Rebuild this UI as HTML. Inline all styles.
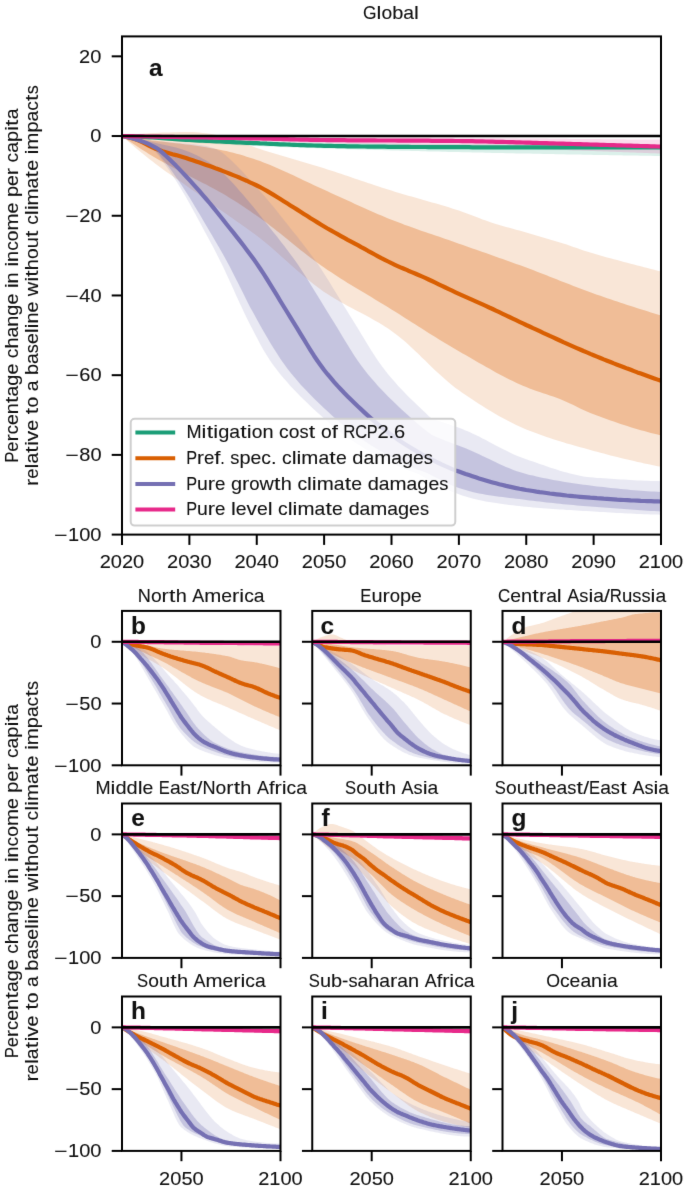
<!DOCTYPE html>
<html><head><meta charset="utf-8"><style>
html,body{margin:0;padding:0;background:#fff;}
svg{display:block;}
text{font-family:"Liberation Sans", sans-serif;stroke:#111;stroke-width:0.1px;paint-order:stroke;}
</style></head><body>
<svg width="685" height="1188" viewBox="0 0 685 1188">
<defs><filter id="bl" color-interpolation-filters="sRGB" x="0" y="0" width="1" height="1" filterUnits="objectBoundingBox"><feConvolveMatrix order="3" kernelMatrix="0.0052 0.0619 0.0052 0.0619 0.7314 0.0619 0.0052 0.0619 0.0052" divisor="1" preserveAlpha="true" edgeMode="duplicate"/></filter></defs>
<g filter="url(#bl)">
<rect width="685" height="1188" fill="#fff"/>
<defs><clipPath id="c0"><rect x="122.00" y="36.40" width="539.00" height="498.20"/></clipPath><clipPath id="c1"><rect x="122.00" y="610.90" width="158.50" height="154.40"/></clipPath><clipPath id="c2"><rect x="312.25" y="610.90" width="158.50" height="154.40"/></clipPath><clipPath id="c3"><rect x="502.50" y="610.90" width="158.50" height="154.40"/></clipPath><clipPath id="c4"><rect x="122.00" y="803.50" width="158.50" height="154.40"/></clipPath><clipPath id="c5"><rect x="312.25" y="803.50" width="158.50" height="154.40"/></clipPath><clipPath id="c6"><rect x="502.50" y="803.50" width="158.50" height="154.40"/></clipPath><clipPath id="c7"><rect x="122.00" y="996.50" width="158.50" height="154.40"/></clipPath><clipPath id="c8"><rect x="312.25" y="996.50" width="158.50" height="154.40"/></clipPath><clipPath id="c9"><rect x="502.50" y="996.50" width="158.50" height="154.40"/></clipPath></defs>
<path d="M122.0,136.0 L125.4,136.2 L128.7,136.4 L132.1,136.5 L135.5,136.7 L138.8,136.8 L142.2,137.0 L145.6,137.1 L148.9,137.3 L152.3,137.4 L155.7,137.5 L159.1,137.7 L162.4,137.8 L165.8,138.0 L169.2,138.1 L172.5,138.2 L175.9,138.3 L179.3,138.5 L182.6,138.6 L186.0,138.7 L189.4,138.8 L192.7,138.9 L196.1,139.1 L199.5,139.2 L202.8,139.3 L206.2,139.4 L209.6,139.5 L213.0,139.6 L216.3,139.7 L219.7,139.8 L223.1,139.9 L226.4,140.0 L229.8,140.1 L233.2,140.2 L236.5,140.3 L239.9,140.4 L243.3,140.5 L246.6,140.6 L250.0,140.7 L253.4,140.7 L256.8,140.8 L260.1,140.9 L263.5,141.0 L266.9,141.1 L270.2,141.2 L273.6,141.2 L277.0,141.3 L280.3,141.4 L283.7,141.5 L287.1,141.6 L290.4,141.7 L293.8,141.8 L297.2,141.8 L300.5,141.9 L303.9,142.0 L307.3,142.1 L310.6,142.2 L314.0,142.2 L317.4,142.3 L320.8,142.4 L324.1,142.5 L327.5,142.6 L330.9,142.6 L334.2,142.7 L337.6,142.8 L341.0,142.8 L344.3,142.9 L347.7,143.0 L351.1,143.0 L354.4,143.1 L357.8,143.2 L361.2,143.2 L364.6,143.3 L367.9,143.3 L371.3,143.4 L374.7,143.4 L378.0,143.5 L381.4,143.5 L384.8,143.5 L388.1,143.6 L391.5,143.6 L394.9,143.6 L398.2,143.7 L401.6,143.7 L405.0,143.7 L408.3,143.8 L411.7,143.8 L415.1,143.8 L418.5,143.8 L421.8,143.9 L425.2,143.9 L428.6,143.9 L431.9,143.9 L435.3,144.0 L438.7,144.0 L442.0,144.0 L445.4,144.0 L448.8,144.0 L452.1,144.1 L455.5,144.1 L458.9,144.1 L462.2,144.1 L465.6,144.1 L469.0,144.2 L472.4,144.2 L475.7,144.2 L479.1,144.2 L482.5,144.2 L485.8,144.2 L489.2,144.3 L492.6,144.3 L495.9,144.3 L499.3,144.3 L502.7,144.3 L506.0,144.3 L509.4,144.3 L512.8,144.4 L516.1,144.4 L519.5,144.4 L522.9,144.4 L526.2,144.4 L529.6,144.4 L533.0,144.4 L536.4,144.4 L539.7,144.5 L543.1,144.5 L546.5,144.5 L549.8,144.5 L553.2,144.5 L556.6,144.5 L559.9,144.5 L563.3,144.5 L566.7,144.6 L570.0,144.6 L573.4,144.6 L576.8,144.6 L580.1,144.6 L583.5,144.6 L586.9,144.6 L590.3,144.6 L593.6,144.7 L597.0,144.7 L600.4,144.7 L603.7,144.7 L607.1,144.7 L610.5,144.7 L613.8,144.7 L617.2,144.7 L620.6,144.7 L623.9,144.7 L627.3,144.7 L630.7,144.8 L634.0,144.8 L637.4,144.8 L640.8,144.8 L644.2,144.8 L647.5,144.8 L650.9,144.8 L654.3,144.8 L657.6,144.8 L661.0,144.8 L661.0,156.0 L657.6,155.9 L654.3,155.9 L650.9,155.8 L647.5,155.8 L644.2,155.7 L640.8,155.7 L637.4,155.6 L634.0,155.6 L630.7,155.5 L627.3,155.4 L623.9,155.4 L620.6,155.3 L617.2,155.3 L613.8,155.2 L610.5,155.2 L607.1,155.1 L603.7,155.0 L600.4,155.0 L597.0,154.9 L593.6,154.9 L590.3,154.8 L586.9,154.7 L583.5,154.7 L580.1,154.6 L576.8,154.6 L573.4,154.5 L570.0,154.4 L566.7,154.4 L563.3,154.3 L559.9,154.2 L556.6,154.2 L553.2,154.1 L549.8,154.0 L546.5,154.0 L543.1,153.9 L539.7,153.8 L536.4,153.8 L533.0,153.7 L529.6,153.6 L526.2,153.6 L522.9,153.5 L519.5,153.4 L516.1,153.4 L512.8,153.3 L509.4,153.2 L506.0,153.2 L502.7,153.1 L499.3,153.0 L495.9,152.9 L492.6,152.9 L489.2,152.8 L485.8,152.7 L482.5,152.6 L479.1,152.6 L475.7,152.5 L472.4,152.4 L469.0,152.3 L465.6,152.3 L462.2,152.2 L458.9,152.1 L455.5,152.0 L452.1,151.9 L448.8,151.9 L445.4,151.8 L442.0,151.7 L438.7,151.6 L435.3,151.5 L431.9,151.4 L428.6,151.4 L425.2,151.3 L421.8,151.2 L418.5,151.1 L415.1,151.0 L411.7,150.9 L408.3,150.8 L405.0,150.8 L401.6,150.7 L398.2,150.6 L394.9,150.5 L391.5,150.4 L388.1,150.3 L384.8,150.2 L381.4,150.1 L378.0,150.0 L374.7,149.9 L371.3,149.8 L367.9,149.7 L364.6,149.6 L361.2,149.5 L357.8,149.4 L354.4,149.3 L351.1,149.3 L347.7,149.2 L344.3,149.1 L341.0,149.0 L337.6,148.9 L334.2,148.7 L330.9,148.6 L327.5,148.5 L324.1,148.4 L320.8,148.3 L317.4,148.2 L314.0,148.1 L310.6,148.0 L307.3,147.9 L303.9,147.8 L300.5,147.7 L297.2,147.5 L293.8,147.4 L290.4,147.3 L287.1,147.2 L283.7,147.1 L280.3,146.9 L277.0,146.8 L273.6,146.7 L270.2,146.5 L266.9,146.4 L263.5,146.3 L260.1,146.1 L256.8,146.0 L253.4,145.9 L250.0,145.7 L246.6,145.6 L243.3,145.4 L239.9,145.3 L236.5,145.1 L233.2,144.9 L229.8,144.8 L226.4,144.6 L223.1,144.4 L219.7,144.3 L216.3,144.1 L213.0,143.9 L209.6,143.7 L206.2,143.5 L202.8,143.3 L199.5,143.1 L196.1,142.9 L192.7,142.6 L189.4,142.4 L186.0,142.2 L182.6,141.9 L179.3,141.7 L175.9,141.4 L172.5,141.1 L169.2,140.9 L165.8,140.6 L162.4,140.3 L159.1,139.9 L155.7,139.6 L152.3,139.3 L148.9,139.0 L145.6,138.6 L142.2,138.3 L138.8,137.9 L135.5,137.6 L132.1,137.2 L128.7,136.8 L125.4,136.4 L122.0,136.0Z" fill="#1b9e77" fill-opacity="0.155" clip-path="url(#c0)"/>
<path d="M122.0,136.0 L125.4,135.6 L128.7,135.2 L132.1,134.8 L135.5,134.4 L138.8,134.1 L142.2,133.7 L145.6,133.5 L148.9,133.2 L152.3,133.0 L155.7,132.9 L159.1,132.7 L162.4,132.6 L165.8,132.5 L169.2,132.4 L172.5,132.3 L175.9,132.2 L179.3,132.1 L182.6,132.1 L186.0,132.1 L189.4,132.1 L192.7,132.1 L196.1,132.3 L199.5,132.5 L202.8,132.9 L206.2,133.3 L209.6,133.8 L213.0,134.3 L216.3,134.9 L219.7,135.4 L223.1,136.0 L226.4,136.8 L229.8,137.7 L233.2,138.8 L236.5,140.0 L239.9,141.4 L243.3,142.8 L246.6,144.2 L250.0,145.5 L253.4,146.8 L256.8,148.0 L260.1,149.1 L263.5,150.2 L266.9,151.2 L270.2,152.3 L273.6,153.3 L277.0,154.3 L280.3,155.3 L283.7,156.3 L287.1,157.3 L290.4,158.3 L293.8,159.3 L297.2,160.2 L300.5,161.2 L303.9,162.2 L307.3,163.2 L310.6,164.2 L314.0,165.2 L317.4,166.2 L320.8,167.3 L324.1,168.3 L327.5,169.4 L330.9,170.5 L334.2,171.6 L337.6,172.7 L341.0,173.8 L344.3,174.9 L347.7,176.1 L351.1,177.2 L354.4,178.4 L357.8,179.5 L361.2,180.7 L364.6,181.8 L367.9,182.9 L371.3,184.1 L374.7,185.2 L378.0,186.3 L381.4,187.4 L384.8,188.5 L388.1,189.6 L391.5,190.6 L394.9,191.7 L398.2,192.7 L401.6,193.7 L405.0,194.7 L408.3,195.7 L411.7,196.6 L415.1,197.6 L418.5,198.5 L421.8,199.5 L425.2,200.4 L428.6,201.4 L431.9,202.4 L435.3,203.3 L438.7,204.3 L442.0,205.3 L445.4,206.3 L448.8,207.3 L452.1,208.4 L455.5,209.5 L458.9,210.6 L462.2,211.7 L465.6,212.9 L469.0,214.2 L472.4,215.5 L475.7,216.8 L479.1,218.1 L482.5,219.4 L485.8,220.6 L489.2,221.8 L492.6,222.9 L495.9,224.0 L499.3,225.0 L502.7,226.0 L506.0,226.9 L509.4,227.8 L512.8,228.8 L516.1,229.7 L519.5,230.6 L522.9,231.5 L526.2,232.5 L529.6,233.5 L533.0,234.4 L536.4,235.4 L539.7,236.4 L543.1,237.4 L546.5,238.4 L549.8,239.4 L553.2,240.4 L556.6,241.4 L559.9,242.5 L563.3,243.5 L566.7,244.6 L570.0,245.8 L573.4,246.9 L576.8,248.1 L580.1,249.2 L583.5,250.4 L586.9,251.5 L590.3,252.6 L593.6,253.6 L597.0,254.6 L600.4,255.6 L603.7,256.5 L607.1,257.4 L610.5,258.3 L613.8,259.2 L617.2,260.1 L620.6,261.0 L623.9,261.9 L627.3,262.8 L630.7,263.7 L634.0,264.6 L637.4,265.5 L640.8,266.3 L644.2,267.2 L647.5,268.1 L650.9,269.0 L654.3,269.8 L657.6,270.7 L661.0,271.6 L661.0,466.8 L657.6,466.2 L654.3,465.5 L650.9,464.8 L647.5,464.1 L644.2,463.4 L640.8,462.6 L637.4,461.9 L634.0,461.1 L630.7,460.3 L627.3,459.5 L623.9,458.7 L620.6,457.9 L617.2,457.1 L613.8,456.2 L610.5,455.4 L607.1,454.5 L603.7,453.6 L600.4,452.7 L597.0,451.8 L593.6,450.9 L590.3,450.0 L586.9,449.1 L583.5,448.1 L580.1,447.2 L576.8,446.3 L573.4,445.3 L570.0,444.3 L566.7,443.4 L563.3,442.3 L559.9,441.3 L556.6,440.3 L553.2,439.2 L549.8,438.1 L546.5,437.0 L543.1,435.8 L539.7,434.6 L536.4,433.3 L533.0,432.1 L529.6,430.7 L526.2,429.4 L522.9,428.0 L519.5,426.5 L516.1,424.9 L512.8,423.3 L509.4,421.6 L506.0,419.8 L502.7,418.0 L499.3,416.2 L495.9,414.2 L492.6,412.3 L489.2,410.3 L485.8,408.2 L482.5,406.1 L479.1,403.9 L475.7,401.8 L472.4,399.5 L469.0,397.3 L465.6,395.0 L462.2,392.7 L458.9,390.3 L455.5,387.9 L452.1,385.3 L448.8,382.5 L445.4,379.6 L442.0,376.6 L438.7,373.5 L435.3,370.4 L431.9,367.2 L428.6,363.9 L425.2,360.6 L421.8,357.4 L418.5,354.1 L415.1,350.9 L411.7,347.7 L408.3,344.6 L405.0,341.6 L401.6,338.7 L398.2,336.0 L394.9,333.4 L391.5,330.9 L388.1,328.6 L384.8,326.4 L381.4,324.3 L378.0,322.3 L374.7,320.4 L371.3,318.5 L367.9,316.6 L364.6,314.8 L361.2,313.0 L357.8,311.3 L354.4,309.5 L351.1,307.7 L347.7,305.9 L344.3,304.1 L341.0,302.3 L337.6,300.3 L334.2,298.3 L330.9,296.3 L327.5,294.1 L324.1,291.9 L320.8,289.5 L317.4,287.0 L314.0,284.4 L310.6,281.8 L307.3,279.0 L303.9,276.2 L300.5,273.3 L297.2,270.4 L293.8,267.4 L290.4,264.4 L287.1,261.4 L283.7,258.4 L280.3,255.4 L277.0,252.4 L273.6,249.5 L270.2,246.6 L266.9,243.8 L263.5,241.0 L260.1,238.3 L256.8,235.7 L253.4,233.2 L250.0,230.7 L246.6,228.3 L243.3,225.9 L239.9,223.5 L236.5,221.2 L233.2,218.8 L229.8,216.5 L226.4,214.1 L223.1,211.8 L219.7,209.4 L216.3,207.0 L213.0,204.6 L209.6,202.2 L206.2,199.8 L202.8,197.4 L199.5,195.0 L196.1,192.6 L192.7,190.2 L189.4,187.9 L186.0,185.5 L182.6,183.1 L179.3,180.8 L175.9,178.5 L172.5,176.1 L169.2,173.8 L165.8,171.4 L162.4,169.0 L159.1,166.5 L155.7,163.9 L152.3,161.3 L148.9,158.7 L145.6,156.0 L142.2,153.3 L138.8,150.5 L135.5,147.7 L132.1,144.8 L128.7,141.9 L125.4,139.0 L122.0,136.0Z" fill="#d95f02" fill-opacity="0.155" clip-path="url(#c0)"/>
<path d="M122.0,136.0 L125.4,136.6 L128.7,137.1 L132.1,137.6 L135.5,138.1 L138.8,138.5 L142.2,139.0 L145.6,139.5 L148.9,139.9 L152.3,140.4 L155.7,140.8 L159.1,141.2 L162.4,141.6 L165.8,142.0 L169.2,142.4 L172.5,142.8 L175.9,143.2 L179.3,143.5 L182.6,143.9 L186.0,144.4 L189.4,144.8 L192.7,145.3 L196.1,145.8 L199.5,146.3 L202.8,146.8 L206.2,147.3 L209.6,147.9 L213.0,148.4 L216.3,149.1 L219.7,149.7 L223.1,150.4 L226.4,151.1 L229.8,151.9 L233.2,152.8 L236.5,153.7 L239.9,154.6 L243.3,155.6 L246.6,156.7 L250.0,157.7 L253.4,158.8 L256.8,160.0 L260.1,161.1 L263.5,162.4 L266.9,163.7 L270.2,165.0 L273.6,166.4 L277.0,167.9 L280.3,169.4 L283.7,170.9 L287.1,172.4 L290.4,174.0 L293.8,175.6 L297.2,177.2 L300.5,178.8 L303.9,180.4 L307.3,182.0 L310.6,183.6 L314.0,185.2 L317.4,186.8 L320.8,188.3 L324.1,189.8 L327.5,191.3 L330.9,192.9 L334.2,194.4 L337.6,195.9 L341.0,197.5 L344.3,199.0 L347.7,200.6 L351.1,202.1 L354.4,203.7 L357.8,205.2 L361.2,206.7 L364.6,208.3 L367.9,209.8 L371.3,211.3 L374.7,212.7 L378.0,214.2 L381.4,215.6 L384.8,217.0 L388.1,218.4 L391.5,219.7 L394.9,221.1 L398.2,222.3 L401.6,223.6 L405.0,224.9 L408.3,226.1 L411.7,227.3 L415.1,228.5 L418.5,229.7 L421.8,230.9 L425.2,232.0 L428.6,233.2 L431.9,234.3 L435.3,235.5 L438.7,236.6 L442.0,237.8 L445.4,239.0 L448.8,240.1 L452.1,241.3 L455.5,242.5 L458.9,243.7 L462.2,244.8 L465.6,246.0 L469.0,247.2 L472.4,248.4 L475.7,249.6 L479.1,250.8 L482.5,251.9 L485.8,253.1 L489.2,254.3 L492.6,255.5 L495.9,256.7 L499.3,257.9 L502.7,259.1 L506.0,260.3 L509.4,261.5 L512.8,262.7 L516.1,263.9 L519.5,265.1 L522.9,266.3 L526.2,267.6 L529.6,268.8 L533.0,270.1 L536.4,271.4 L539.7,272.7 L543.1,274.0 L546.5,275.3 L549.8,276.7 L553.2,278.0 L556.6,279.3 L559.9,280.7 L563.3,282.0 L566.7,283.3 L570.0,284.6 L573.4,286.0 L576.8,287.2 L580.1,288.5 L583.5,289.8 L586.9,291.0 L590.3,292.3 L593.6,293.5 L597.0,294.7 L600.4,295.8 L603.7,297.0 L607.1,298.2 L610.5,299.3 L613.8,300.4 L617.2,301.6 L620.6,302.7 L623.9,303.8 L627.3,304.9 L630.7,306.0 L634.0,307.1 L637.4,308.2 L640.8,309.2 L644.2,310.3 L647.5,311.3 L650.9,312.4 L654.3,313.4 L657.6,314.4 L661.0,315.4 L661.0,435.4 L657.6,434.6 L654.3,433.8 L650.9,432.9 L647.5,432.1 L644.2,431.1 L640.8,430.2 L637.4,429.2 L634.0,428.2 L630.7,427.2 L627.3,426.1 L623.9,425.0 L620.6,423.9 L617.2,422.7 L613.8,421.6 L610.5,420.4 L607.1,419.2 L603.7,418.0 L600.4,416.7 L597.0,415.5 L593.6,414.2 L590.3,412.9 L586.9,411.5 L583.5,409.9 L580.1,408.4 L576.8,406.7 L573.4,405.1 L570.0,403.5 L566.7,402.0 L563.3,400.5 L559.9,399.1 L556.6,397.8 L553.2,396.6 L549.8,395.4 L546.5,394.3 L543.1,393.2 L539.7,392.1 L536.4,390.9 L533.0,389.7 L529.6,388.5 L526.2,387.1 L522.9,385.7 L519.5,384.2 L516.1,382.7 L512.8,381.0 L509.4,379.4 L506.0,377.7 L502.7,376.0 L499.3,374.2 L495.9,372.4 L492.6,370.5 L489.2,368.6 L485.8,366.8 L482.5,364.8 L479.1,362.9 L475.7,361.0 L472.4,359.0 L469.0,357.1 L465.6,355.1 L462.2,353.2 L458.9,351.3 L455.5,349.3 L452.1,347.3 L448.8,345.3 L445.4,343.3 L442.0,341.3 L438.7,339.2 L435.3,337.1 L431.9,335.0 L428.6,332.9 L425.2,330.7 L421.8,328.6 L418.5,326.5 L415.1,324.3 L411.7,322.2 L408.3,320.0 L405.0,317.9 L401.6,315.8 L398.2,313.6 L394.9,311.5 L391.5,309.4 L388.1,307.3 L384.8,305.3 L381.4,303.2 L378.0,301.2 L374.7,299.2 L371.3,297.1 L367.9,295.1 L364.6,293.1 L361.2,291.1 L357.8,289.0 L354.4,287.0 L351.1,284.9 L347.7,282.9 L344.3,280.8 L341.0,278.7 L337.6,276.5 L334.2,274.3 L330.9,272.1 L327.5,269.9 L324.1,267.6 L320.8,265.2 L317.4,262.8 L314.0,260.3 L310.6,257.8 L307.3,255.2 L303.9,252.5 L300.5,249.9 L297.2,247.2 L293.8,244.5 L290.4,241.8 L287.1,239.0 L283.7,236.3 L280.3,233.6 L277.0,230.9 L273.6,228.3 L270.2,225.7 L266.9,223.1 L263.5,220.6 L260.1,218.1 L256.8,215.8 L253.4,213.4 L250.0,211.1 L246.6,208.8 L243.3,206.5 L239.9,204.3 L236.5,202.1 L233.2,200.0 L229.8,197.9 L226.4,195.8 L223.1,193.8 L219.7,191.9 L216.3,190.0 L213.0,188.2 L209.6,186.4 L206.2,184.6 L202.8,182.9 L199.5,181.2 L196.1,179.4 L192.7,177.7 L189.4,175.9 L186.0,174.1 L182.6,172.4 L179.3,170.6 L175.9,168.9 L172.5,167.2 L169.2,165.4 L165.8,163.6 L162.4,161.8 L159.1,159.9 L155.7,158.0 L152.3,156.0 L148.9,153.9 L145.6,151.8 L142.2,149.7 L138.8,147.5 L135.5,145.3 L132.1,143.0 L128.7,140.7 L125.4,138.4 L122.0,136.0Z" fill="#d95f02" fill-opacity="0.3" clip-path="url(#c0)"/>
<path d="M122.0,136.0 L125.4,136.6 L128.7,137.1 L132.1,137.8 L135.5,138.5 L138.8,139.1 L142.2,139.6 L145.6,140.0 L148.9,140.5 L152.3,140.9 L155.7,141.2 L159.1,141.5 L162.4,141.8 L165.8,142.1 L169.2,142.3 L172.5,142.5 L175.9,142.7 L179.3,142.9 L182.6,143.2 L186.0,143.4 L189.4,143.7 L192.7,144.0 L196.1,144.4 L199.5,144.9 L202.8,145.5 L206.2,146.1 L209.6,147.0 L213.0,148.0 L216.3,149.3 L219.7,151.0 L223.1,153.2 L226.4,156.0 L229.8,159.1 L233.2,162.3 L236.5,165.6 L239.9,169.1 L243.3,172.6 L246.6,176.2 L250.0,179.9 L253.4,183.6 L256.8,187.3 L260.1,191.2 L263.5,195.1 L266.9,199.0 L270.2,203.0 L273.6,207.1 L277.0,211.3 L280.3,215.5 L283.7,219.7 L287.1,224.0 L290.4,228.2 L293.8,232.4 L297.2,236.6 L300.5,240.9 L303.9,245.3 L307.3,249.7 L310.6,254.2 L314.0,258.8 L317.4,263.6 L320.8,268.5 L324.1,273.7 L327.5,279.0 L330.9,284.4 L334.2,289.9 L337.6,295.4 L341.0,301.0 L344.3,306.5 L347.7,312.0 L351.1,317.4 L354.4,322.8 L357.8,328.3 L361.2,333.9 L364.6,339.4 L367.9,345.0 L371.3,350.4 L374.7,355.7 L378.0,360.7 L381.4,365.5 L384.8,370.0 L388.1,374.2 L391.5,378.2 L394.9,382.1 L398.2,385.9 L401.6,389.5 L405.0,393.0 L408.3,396.4 L411.7,399.8 L415.1,403.0 L418.5,406.3 L421.8,409.4 L425.2,412.6 L428.6,416.0 L431.9,418.6 L435.3,420.0 L438.7,421.0 L442.0,422.1 L445.4,423.2 L448.8,424.3 L452.1,425.4 L455.5,426.6 L458.9,427.8 L462.2,429.0 L465.6,430.4 L469.0,431.8 L472.4,433.4 L475.7,435.0 L479.1,436.6 L482.5,438.4 L485.8,440.1 L489.2,441.9 L492.6,443.7 L495.9,445.4 L499.3,447.2 L502.7,448.9 L506.0,450.6 L509.4,452.3 L512.8,453.9 L516.1,455.4 L519.5,456.8 L522.9,458.1 L526.2,459.3 L529.6,460.4 L533.0,461.6 L536.4,462.8 L539.7,463.9 L543.1,465.1 L546.5,466.3 L549.8,467.4 L553.2,468.5 L556.6,469.6 L559.9,470.7 L563.3,471.7 L566.7,472.6 L570.0,473.5 L573.4,474.3 L576.8,475.1 L580.1,475.8 L583.5,476.4 L586.9,476.9 L590.3,477.3 L593.6,477.6 L597.0,477.9 L600.4,478.1 L603.7,478.3 L607.1,478.6 L610.5,478.8 L613.8,479.0 L617.2,479.2 L620.6,479.4 L623.9,479.6 L627.3,479.8 L630.7,480.0 L634.0,480.2 L637.4,480.4 L640.8,480.5 L644.2,480.7 L647.5,480.8 L650.9,480.9 L654.3,481.0 L657.6,481.1 L661.0,481.2 L661.0,514.7 L657.6,514.6 L654.3,514.5 L650.9,514.4 L647.5,514.3 L644.2,514.2 L640.8,514.0 L637.4,513.9 L634.0,513.8 L630.7,513.6 L627.3,513.4 L623.9,513.3 L620.6,513.1 L617.2,512.9 L613.8,512.7 L610.5,512.5 L607.1,512.3 L603.7,512.1 L600.4,511.9 L597.0,511.7 L593.6,511.5 L590.3,511.3 L586.9,511.1 L583.5,510.9 L580.1,510.7 L576.8,510.5 L573.4,510.3 L570.0,510.1 L566.7,509.9 L563.3,509.6 L559.9,509.4 L556.6,509.2 L553.2,509.0 L549.8,508.7 L546.5,508.5 L543.1,508.2 L539.7,508.0 L536.4,507.7 L533.0,507.4 L529.6,507.0 L526.2,506.7 L522.9,506.4 L519.5,506.0 L516.1,505.7 L512.8,505.3 L509.4,504.9 L506.0,504.5 L502.7,504.1 L499.3,503.6 L495.9,503.1 L492.6,502.6 L489.2,502.1 L485.8,501.4 L482.5,500.8 L479.1,500.1 L475.7,499.3 L472.4,498.4 L469.0,497.5 L465.6,496.6 L462.2,495.5 L458.9,494.3 L455.5,493.1 L452.1,491.7 L448.8,490.3 L445.4,488.7 L442.0,487.1 L438.7,485.4 L435.3,483.6 L431.9,481.7 L428.6,479.9 L425.2,477.9 L421.8,475.8 L418.5,474.0 L415.1,472.7 L411.7,471.6 L408.3,470.4 L405.0,469.1 L401.6,467.7 L398.2,466.2 L394.9,464.6 L391.5,463.0 L388.1,461.3 L384.8,459.6 L381.4,457.9 L378.0,456.1 L374.7,454.3 L371.3,452.4 L367.9,450.4 L364.6,448.4 L361.2,446.3 L357.8,444.2 L354.4,442.0 L351.1,439.7 L347.7,437.4 L344.3,435.0 L341.0,432.5 L337.6,429.9 L334.2,427.2 L330.9,424.4 L327.5,421.6 L324.1,418.6 L320.8,415.6 L317.4,412.6 L314.0,409.4 L310.6,406.3 L307.3,403.0 L303.9,399.8 L300.5,396.4 L297.2,393.0 L293.8,389.5 L290.4,385.9 L287.1,382.1 L283.7,378.2 L280.3,374.2 L277.0,370.0 L273.6,365.5 L270.2,360.7 L266.9,355.5 L263.5,349.9 L260.1,343.9 L256.8,337.6 L253.4,331.1 L250.0,324.4 L246.6,317.7 L243.3,310.8 L239.9,303.6 L236.5,296.3 L233.2,288.8 L229.8,281.3 L226.4,274.0 L223.1,266.8 L219.7,259.9 L216.3,253.3 L213.0,246.8 L209.6,240.4 L206.2,234.2 L202.8,228.0 L199.5,221.7 L196.1,215.5 L192.7,209.3 L189.4,203.2 L186.0,197.3 L182.6,191.6 L179.3,186.0 L175.9,180.6 L172.5,175.4 L169.2,170.3 L165.8,165.5 L162.4,160.9 L159.1,156.3 L155.7,152.2 L152.3,148.9 L148.9,146.2 L145.6,144.1 L142.2,142.3 L138.8,140.8 L135.5,139.6 L132.1,138.5 L128.7,137.5 L125.4,136.7 L122.0,136.0Z" fill="#7570b3" fill-opacity="0.155" clip-path="url(#c0)"/>
<path d="M122.0,136.0 L125.4,136.7 L128.7,137.3 L132.1,138.0 L135.5,138.7 L138.8,139.4 L142.2,140.2 L145.6,140.9 L148.9,141.6 L152.3,142.3 L155.7,143.0 L159.1,143.7 L162.4,144.5 L165.8,145.2 L169.2,146.0 L172.5,146.8 L175.9,147.6 L179.3,148.5 L182.6,149.5 L186.0,150.7 L189.4,152.0 L192.7,153.5 L196.1,155.1 L199.5,156.8 L202.8,158.7 L206.2,160.6 L209.6,162.7 L213.0,164.9 L216.3,167.4 L219.7,170.1 L223.1,173.1 L226.4,176.4 L229.8,179.9 L233.2,183.6 L236.5,187.3 L239.9,191.2 L243.3,195.1 L246.6,199.0 L250.0,203.0 L253.4,207.1 L256.8,211.3 L260.1,215.5 L263.5,219.7 L266.9,224.0 L270.2,228.2 L273.6,232.4 L277.0,236.6 L280.3,240.9 L283.7,245.3 L287.1,249.7 L290.4,254.2 L293.8,258.8 L297.2,263.6 L300.5,268.5 L303.9,273.7 L307.3,279.0 L310.6,284.4 L314.0,289.9 L317.4,295.4 L320.8,301.0 L324.1,306.5 L327.5,312.0 L330.9,317.4 L334.2,322.8 L337.6,328.3 L341.0,333.9 L344.3,339.4 L347.7,345.0 L351.1,350.4 L354.4,355.7 L357.8,360.7 L361.2,365.5 L364.6,370.0 L367.9,374.2 L371.3,378.2 L374.7,382.1 L378.0,385.9 L381.4,389.5 L384.8,393.0 L388.1,396.4 L391.5,399.8 L394.9,403.0 L398.2,406.3 L401.6,409.4 L405.0,412.6 L408.3,415.6 L411.7,418.6 L415.1,421.6 L418.5,424.4 L421.8,427.2 L425.2,429.9 L428.6,432.6 L431.9,435.0 L435.3,436.6 L438.7,437.9 L442.0,439.3 L445.4,440.7 L448.8,442.0 L452.1,443.3 L455.5,444.5 L458.9,445.7 L462.2,447.0 L465.6,448.3 L469.0,449.7 L472.4,451.2 L475.7,452.7 L479.1,454.3 L482.5,455.9 L485.8,457.5 L489.2,459.1 L492.6,460.7 L495.9,462.3 L499.3,463.9 L502.7,465.5 L506.0,466.9 L509.4,468.3 L512.8,469.7 L516.1,470.9 L519.5,472.1 L522.9,473.1 L526.2,474.0 L529.6,474.9 L533.0,475.6 L536.4,476.4 L539.7,477.2 L543.1,477.9 L546.5,478.6 L549.8,479.2 L553.2,479.9 L556.6,480.5 L559.9,481.1 L563.3,481.7 L566.7,482.2 L570.0,482.8 L573.4,483.3 L576.8,483.8 L580.1,484.3 L583.5,484.7 L586.9,485.1 L590.3,485.6 L593.6,486.0 L597.0,486.4 L600.4,486.8 L603.7,487.1 L607.1,487.5 L610.5,487.9 L613.8,488.2 L617.2,488.6 L620.6,488.9 L623.9,489.3 L627.3,489.6 L630.7,489.9 L634.0,490.2 L637.4,490.5 L640.8,490.7 L644.2,491.0 L647.5,491.2 L650.9,491.4 L654.3,491.6 L657.6,491.8 L661.0,492.0 L661.0,511.5 L657.6,511.3 L654.3,511.1 L650.9,510.9 L647.5,510.7 L644.2,510.4 L640.8,510.2 L637.4,510.0 L634.0,509.7 L630.7,509.5 L627.3,509.2 L623.9,509.0 L620.6,508.7 L617.2,508.5 L613.8,508.2 L610.5,508.0 L607.1,507.7 L603.7,507.5 L600.4,507.2 L597.0,507.0 L593.6,506.7 L590.3,506.4 L586.9,506.2 L583.5,505.9 L580.1,505.7 L576.8,505.4 L573.4,505.1 L570.0,504.8 L566.7,504.5 L563.3,504.2 L559.9,503.8 L556.6,503.5 L553.2,503.1 L549.8,502.8 L546.5,502.4 L543.1,502.0 L539.7,501.6 L536.4,501.2 L533.0,500.8 L529.6,500.4 L526.2,499.9 L522.9,499.5 L519.5,499.1 L516.1,498.7 L512.8,498.3 L509.4,497.9 L506.0,497.5 L502.7,497.1 L499.3,496.7 L495.9,496.2 L492.6,495.8 L489.2,495.3 L485.8,494.7 L482.5,494.1 L479.1,493.5 L475.7,492.7 L472.4,492.0 L469.0,491.1 L465.6,490.1 L462.2,489.1 L458.9,488.0 L455.5,486.7 L452.1,485.4 L448.8,483.9 L445.4,482.4 L442.0,480.7 L438.7,479.0 L435.3,477.2 L431.9,475.4 L428.6,473.8 L425.2,472.3 L421.8,471.1 L418.5,469.9 L415.1,468.5 L411.7,467.1 L408.3,465.6 L405.0,464.0 L401.6,462.3 L398.2,460.6 L394.9,458.9 L391.5,457.2 L388.1,455.4 L384.8,453.5 L381.4,451.6 L378.0,449.6 L374.7,447.6 L371.3,445.5 L367.9,443.3 L364.6,441.1 L361.2,438.8 L357.8,436.4 L354.4,434.0 L351.1,431.5 L347.7,428.8 L344.3,426.1 L341.0,423.3 L337.6,420.4 L334.2,417.4 L330.9,414.4 L327.5,411.3 L324.1,408.2 L320.8,405.0 L317.4,401.7 L314.0,398.4 L310.6,395.1 L307.3,391.6 L303.9,388.1 L300.5,384.4 L297.2,380.6 L293.8,376.6 L290.4,372.5 L287.1,368.2 L283.7,363.6 L280.3,358.7 L277.0,353.6 L273.6,348.3 L270.2,342.8 L266.9,337.1 L263.5,331.3 L260.1,325.3 L256.8,319.3 L253.4,313.1 L250.0,306.9 L246.6,300.3 L243.3,293.6 L239.9,286.8 L236.5,280.1 L233.2,273.4 L229.8,266.8 L226.4,260.6 L223.1,254.5 L219.7,248.5 L216.3,242.7 L213.0,237.0 L209.6,231.3 L206.2,225.5 L202.8,219.8 L199.5,214.1 L196.1,208.4 L192.7,202.8 L189.4,197.3 L186.0,192.0 L182.6,186.8 L179.3,181.8 L175.9,176.9 L172.5,172.1 L169.2,167.5 L165.8,163.1 L162.4,158.9 L159.1,154.6 L155.7,150.9 L152.3,148.0 L148.9,145.7 L145.6,143.7 L142.2,142.1 L138.8,140.7 L135.5,139.5 L132.1,138.4 L128.7,137.5 L125.4,136.7 L122.0,136.0Z" fill="#7570b3" fill-opacity="0.3" clip-path="url(#c0)"/>
<path d="M122.0,136.0 L125.4,136.0 L128.7,135.9 L132.1,135.9 L135.5,135.9 L138.8,135.8 L142.2,135.8 L145.6,135.7 L148.9,135.7 L152.3,135.7 L155.7,135.6 L159.1,135.6 L162.4,135.6 L165.8,135.5 L169.2,135.5 L172.5,135.5 L175.9,135.5 L179.3,135.5 L182.6,135.4 L186.0,135.4 L189.4,135.4 L192.7,135.4 L196.1,135.4 L199.5,135.3 L202.8,135.3 L206.2,135.3 L209.6,135.3 L213.0,135.3 L216.3,135.3 L219.7,135.3 L223.1,135.3 L226.4,135.3 L229.8,135.3 L233.2,135.3 L236.5,135.3 L239.9,135.2 L243.3,135.2 L246.6,135.2 L250.0,135.2 L253.4,135.2 L256.8,135.2 L260.1,135.2 L263.5,135.3 L266.9,135.3 L270.2,135.3 L273.6,135.3 L277.0,135.3 L280.3,135.3 L283.7,135.4 L287.1,135.4 L290.4,135.4 L293.8,135.5 L297.2,135.5 L300.5,135.5 L303.9,135.6 L307.3,135.6 L310.6,135.7 L314.0,135.7 L317.4,135.7 L320.8,135.8 L324.1,135.8 L327.5,135.9 L330.9,135.9 L334.2,136.0 L337.6,136.0 L341.0,136.1 L344.3,136.2 L347.7,136.2 L351.1,136.3 L354.4,136.3 L357.8,136.4 L361.2,136.4 L364.6,136.5 L367.9,136.5 L371.3,136.6 L374.7,136.6 L378.0,136.7 L381.4,136.7 L384.8,136.8 L388.1,136.8 L391.5,136.8 L394.9,136.9 L398.2,136.9 L401.6,137.0 L405.0,137.0 L408.3,137.0 L411.7,137.1 L415.1,137.1 L418.5,137.2 L421.8,137.2 L425.2,137.2 L428.6,137.3 L431.9,137.3 L435.3,137.4 L438.7,137.4 L442.0,137.5 L445.4,137.5 L448.8,137.5 L452.1,137.6 L455.5,137.6 L458.9,137.7 L462.2,137.7 L465.6,137.7 L469.0,137.8 L472.4,137.8 L475.7,137.9 L479.1,137.9 L482.5,137.9 L485.8,138.0 L489.2,138.0 L492.6,138.1 L495.9,138.1 L499.3,138.1 L502.7,138.2 L506.0,138.2 L509.4,138.3 L512.8,138.3 L516.1,138.3 L519.5,138.4 L522.9,138.4 L526.2,138.4 L529.6,138.5 L533.0,138.5 L536.4,138.5 L539.7,138.6 L543.1,138.6 L546.5,138.6 L549.8,138.7 L553.2,138.7 L556.6,138.7 L559.9,138.8 L563.3,138.8 L566.7,138.8 L570.0,138.9 L573.4,138.9 L576.8,138.9 L580.1,139.0 L583.5,139.0 L586.9,139.0 L590.3,139.0 L593.6,139.1 L597.0,139.1 L600.4,139.1 L603.7,139.2 L607.1,139.2 L610.5,139.2 L613.8,139.3 L617.2,139.3 L620.6,139.3 L623.9,139.3 L627.3,139.4 L630.7,139.4 L634.0,139.4 L637.4,139.4 L640.8,139.5 L644.2,139.5 L647.5,139.5 L650.9,139.6 L654.3,139.6 L657.6,139.6 L661.0,139.6 L661.0,153.6 L657.6,153.4 L654.3,153.3 L650.9,153.2 L647.5,153.1 L644.2,152.9 L640.8,152.8 L637.4,152.7 L634.0,152.6 L630.7,152.4 L627.3,152.3 L623.9,152.2 L620.6,152.1 L617.2,151.9 L613.8,151.8 L610.5,151.7 L607.1,151.6 L603.7,151.4 L600.4,151.3 L597.0,151.2 L593.6,151.1 L590.3,151.0 L586.9,150.8 L583.5,150.7 L580.1,150.6 L576.8,150.5 L573.4,150.4 L570.0,150.3 L566.7,150.1 L563.3,150.0 L559.9,149.9 L556.6,149.8 L553.2,149.7 L549.8,149.6 L546.5,149.5 L543.1,149.3 L539.7,149.2 L536.4,149.1 L533.0,149.0 L529.6,148.9 L526.2,148.8 L522.9,148.7 L519.5,148.6 L516.1,148.5 L512.8,148.4 L509.4,148.3 L506.0,148.2 L502.7,148.0 L499.3,147.9 L495.9,147.8 L492.6,147.7 L489.2,147.6 L485.8,147.5 L482.5,147.4 L479.1,147.3 L475.7,147.2 L472.4,147.1 L469.0,147.0 L465.6,146.9 L462.2,146.8 L458.9,146.7 L455.5,146.6 L452.1,146.5 L448.8,146.4 L445.4,146.3 L442.0,146.2 L438.7,146.1 L435.3,146.0 L431.9,146.0 L428.6,145.9 L425.2,145.8 L421.8,145.7 L418.5,145.6 L415.1,145.5 L411.7,145.4 L408.3,145.3 L405.0,145.2 L401.6,145.1 L398.2,145.0 L394.9,144.9 L391.5,144.8 L388.1,144.7 L384.8,144.6 L381.4,144.5 L378.0,144.4 L374.7,144.4 L371.3,144.3 L367.9,144.2 L364.6,144.1 L361.2,144.0 L357.8,143.9 L354.4,143.8 L351.1,143.7 L347.7,143.7 L344.3,143.6 L341.0,143.5 L337.6,143.4 L334.2,143.3 L330.9,143.2 L327.5,143.2 L324.1,143.1 L320.8,143.0 L317.4,142.9 L314.0,142.8 L310.6,142.7 L307.3,142.6 L303.9,142.6 L300.5,142.5 L297.2,142.4 L293.8,142.3 L290.4,142.2 L287.1,142.1 L283.7,142.0 L280.3,141.9 L277.0,141.8 L273.6,141.7 L270.2,141.6 L266.9,141.5 L263.5,141.4 L260.1,141.3 L256.8,141.2 L253.4,141.1 L250.0,141.0 L246.6,140.9 L243.3,140.8 L239.9,140.7 L236.5,140.6 L233.2,140.4 L229.8,140.3 L226.4,140.2 L223.1,140.1 L219.7,140.0 L216.3,139.9 L213.0,139.7 L209.6,139.6 L206.2,139.5 L202.8,139.4 L199.5,139.2 L196.1,139.1 L192.7,139.0 L189.4,138.8 L186.0,138.7 L182.6,138.6 L179.3,138.5 L175.9,138.3 L172.5,138.2 L169.2,138.0 L165.8,137.9 L162.4,137.8 L159.1,137.6 L155.7,137.5 L152.3,137.4 L148.9,137.2 L145.6,137.1 L142.2,136.9 L138.8,136.8 L135.5,136.6 L132.1,136.5 L128.7,136.3 L125.4,136.2 L122.0,136.0Z" fill="#e7298a" fill-opacity="0.155" clip-path="url(#c0)"/>
<path d="M122.0,136.0 L125.4,136.2 L128.7,136.3 L132.1,136.4 L135.5,136.6 L138.8,136.7 L142.2,136.9 L145.6,137.1 L148.9,137.3 L152.3,137.4 L155.7,137.6 L159.1,137.8 L162.4,138.1 L165.8,138.3 L169.2,138.6 L172.5,138.8 L175.9,139.1 L179.3,139.3 L182.6,139.6 L186.0,139.8 L189.4,140.0 L192.7,140.2 L196.1,140.4 L199.5,140.6 L202.8,140.7 L206.2,140.9 L209.6,141.0 L213.0,141.2 L216.3,141.3 L219.7,141.5 L223.1,141.6 L226.4,141.8 L229.8,141.9 L233.2,142.1 L236.5,142.3 L239.9,142.4 L243.3,142.6 L246.6,142.8 L250.0,142.9 L253.4,143.1 L256.8,143.2 L260.1,143.4 L263.5,143.5 L266.9,143.7 L270.2,143.8 L273.6,144.0 L277.0,144.1 L280.3,144.3 L283.7,144.4 L287.1,144.5 L290.4,144.7 L293.8,144.8 L297.2,145.0 L300.5,145.1 L303.9,145.2 L307.3,145.3 L310.6,145.4 L314.0,145.5 L317.4,145.6 L320.8,145.7 L324.1,145.8 L327.5,145.9 L330.9,145.9 L334.2,146.0 L337.6,146.1 L341.0,146.1 L344.3,146.2 L347.7,146.3 L351.1,146.3 L354.4,146.4 L357.8,146.4 L361.2,146.5 L364.6,146.5 L367.9,146.6 L371.3,146.6 L374.7,146.6 L378.0,146.7 L381.4,146.7 L384.8,146.7 L388.1,146.8 L391.5,146.8 L394.9,146.8 L398.2,146.9 L401.6,146.9 L405.0,146.9 L408.3,146.9 L411.7,147.0 L415.1,147.0 L418.5,147.0 L421.8,147.0 L425.2,147.0 L428.6,147.1 L431.9,147.1 L435.3,147.1 L438.7,147.1 L442.0,147.1 L445.4,147.1 L448.8,147.2 L452.1,147.2 L455.5,147.2 L458.9,147.2 L462.2,147.2 L465.6,147.2 L469.0,147.2 L472.4,147.3 L475.7,147.3 L479.1,147.3 L482.5,147.3 L485.8,147.3 L489.2,147.3 L492.6,147.3 L495.9,147.3 L499.3,147.4 L502.7,147.4 L506.0,147.4 L509.4,147.4 L512.8,147.4 L516.1,147.4 L519.5,147.4 L522.9,147.4 L526.2,147.4 L529.6,147.4 L533.0,147.4 L536.4,147.4 L539.7,147.4 L543.1,147.4 L546.5,147.4 L549.8,147.4 L553.2,147.4 L556.6,147.4 L559.9,147.4 L563.3,147.4 L566.7,147.4 L570.0,147.4 L573.4,147.4 L576.8,147.4 L580.1,147.4 L583.5,147.4 L586.9,147.4 L590.3,147.4 L593.6,147.4 L597.0,147.4 L600.4,147.4 L603.7,147.4 L607.1,147.4 L610.5,147.4 L613.8,147.4 L617.2,147.4 L620.6,147.4 L623.9,147.4 L627.3,147.4 L630.7,147.4 L634.0,147.4 L637.4,147.4 L640.8,147.4 L644.2,147.4 L647.5,147.4 L650.9,147.4 L654.3,147.4 L657.6,147.4 L661.0,147.4" fill="none" stroke="#1b9e77" stroke-width="4.2" stroke-linejoin="round" stroke-linecap="butt" clip-path="url(#c0)"/>
<path d="M122.0,136.0 L125.4,136.6 L128.7,137.4 L132.1,138.2 L135.5,139.2 L138.8,140.5 L142.2,142.1 L145.6,143.8 L148.9,145.6 L152.3,147.3 L155.7,148.8 L159.1,150.0 L162.4,151.2 L165.8,152.2 L169.2,153.2 L172.5,154.2 L175.9,155.1 L179.3,156.1 L182.6,157.1 L186.0,158.1 L189.4,159.2 L192.7,160.3 L196.1,161.4 L199.5,162.5 L202.8,163.7 L206.2,164.9 L209.6,166.1 L213.0,167.3 L216.3,168.6 L219.7,169.8 L223.1,171.1 L226.4,172.4 L229.8,173.7 L233.2,175.1 L236.5,176.4 L239.9,177.8 L243.3,179.3 L246.6,180.7 L250.0,182.3 L253.4,183.8 L256.8,185.5 L260.1,187.2 L263.5,189.0 L266.9,190.9 L270.2,192.9 L273.6,194.9 L277.0,197.0 L280.3,199.1 L283.7,201.2 L287.1,203.3 L290.4,205.4 L293.8,207.5 L297.2,209.6 L300.5,211.7 L303.9,213.9 L307.3,216.0 L310.6,218.2 L314.0,220.3 L317.4,222.4 L320.8,224.5 L324.1,226.5 L327.5,228.5 L330.9,230.4 L334.2,232.3 L337.6,234.2 L341.0,236.1 L344.3,237.9 L347.7,239.8 L351.1,241.6 L354.4,243.4 L357.8,245.2 L361.2,247.1 L364.6,248.9 L367.9,250.8 L371.3,252.6 L374.7,254.5 L378.0,256.3 L381.4,258.1 L384.8,259.8 L388.1,261.5 L391.5,263.2 L394.9,264.8 L398.2,266.3 L401.6,267.8 L405.0,269.2 L408.3,270.7 L411.7,272.1 L415.1,273.5 L418.5,275.0 L421.8,276.4 L425.2,277.9 L428.6,279.5 L431.9,281.0 L435.3,282.6 L438.7,284.3 L442.0,285.9 L445.4,287.5 L448.8,289.1 L452.1,290.7 L455.5,292.3 L458.9,293.9 L462.2,295.4 L465.6,296.9 L469.0,298.4 L472.4,299.9 L475.7,301.4 L479.1,302.9 L482.5,304.4 L485.8,305.9 L489.2,307.5 L492.6,309.0 L495.9,310.6 L499.3,312.2 L502.7,313.8 L506.0,315.4 L509.4,317.0 L512.8,318.6 L516.1,320.2 L519.5,321.8 L522.9,323.4 L526.2,325.0 L529.6,326.5 L533.0,328.1 L536.4,329.6 L539.7,331.2 L543.1,332.8 L546.5,334.3 L549.8,335.9 L553.2,337.4 L556.6,339.0 L559.9,340.5 L563.3,342.1 L566.7,343.6 L570.0,345.1 L573.4,346.6 L576.8,348.1 L580.1,349.5 L583.5,351.0 L586.9,352.4 L590.3,353.9 L593.6,355.2 L597.0,356.6 L600.4,358.0 L603.7,359.4 L607.1,360.7 L610.5,362.0 L613.8,363.4 L617.2,364.7 L620.6,366.0 L623.9,367.3 L627.3,368.6 L630.7,369.8 L634.0,371.1 L637.4,372.4 L640.8,373.6 L644.2,374.8 L647.5,376.0 L650.9,377.2 L654.3,378.4 L657.6,379.6 L661.0,380.8" fill="none" stroke="#d95f02" stroke-width="4.2" stroke-linejoin="round" stroke-linecap="butt" clip-path="url(#c0)"/>
<path d="M122.0,136.0 L125.4,136.7 L128.7,137.4 L132.1,138.3 L135.5,139.2 L138.8,140.3 L142.2,141.4 L145.6,142.7 L148.9,144.2 L152.3,145.8 L155.7,147.6 L159.1,149.8 L162.4,152.6 L165.8,155.8 L169.2,159.1 L172.5,162.3 L175.9,165.6 L179.3,169.1 L182.6,172.6 L186.0,176.2 L189.4,179.9 L192.7,183.6 L196.1,187.3 L199.5,191.2 L202.8,195.1 L206.2,199.0 L209.6,203.0 L213.0,207.1 L216.3,211.3 L219.7,215.5 L223.1,219.7 L226.4,224.0 L229.8,228.2 L233.2,232.4 L236.5,236.6 L239.9,240.9 L243.3,245.3 L246.6,249.7 L250.0,254.2 L253.4,258.8 L256.8,263.6 L260.1,268.5 L263.5,273.7 L266.9,279.0 L270.2,284.4 L273.6,289.9 L277.0,295.4 L280.3,301.0 L283.7,306.5 L287.1,312.0 L290.4,317.4 L293.8,322.8 L297.2,328.3 L300.5,333.9 L303.9,339.4 L307.3,345.0 L310.6,350.4 L314.0,355.7 L317.4,360.7 L320.8,365.5 L324.1,370.0 L327.5,374.2 L330.9,378.2 L334.2,382.1 L337.6,385.9 L341.0,389.5 L344.3,393.0 L347.7,396.4 L351.1,399.8 L354.4,403.0 L357.8,406.3 L361.2,409.4 L364.6,412.6 L367.9,415.6 L371.3,418.6 L374.7,421.6 L378.0,424.4 L381.4,427.2 L384.8,429.9 L388.1,432.5 L391.5,435.0 L394.9,437.4 L398.2,439.7 L401.6,442.0 L405.0,444.2 L408.3,446.3 L411.7,448.4 L415.1,450.4 L418.5,452.4 L421.8,454.3 L425.2,456.1 L428.6,457.9 L431.9,459.6 L435.3,461.3 L438.7,463.0 L442.0,464.6 L445.4,466.2 L448.8,467.7 L452.1,469.1 L455.5,470.4 L458.9,471.6 L462.2,472.8 L465.6,474.0 L469.0,475.1 L472.4,476.2 L475.7,477.3 L479.1,478.4 L482.5,479.4 L485.8,480.4 L489.2,481.4 L492.6,482.4 L495.9,483.3 L499.3,484.2 L502.7,485.0 L506.0,485.9 L509.4,486.6 L512.8,487.4 L516.1,488.1 L519.5,488.8 L522.9,489.4 L526.2,490.0 L529.6,490.5 L533.0,491.0 L536.4,491.6 L539.7,492.1 L543.1,492.5 L546.5,493.0 L549.8,493.5 L553.2,493.9 L556.6,494.3 L559.9,494.7 L563.3,495.1 L566.7,495.5 L570.0,495.8 L573.4,496.2 L576.8,496.5 L580.1,496.8 L583.5,497.1 L586.9,497.4 L590.3,497.7 L593.6,497.9 L597.0,498.2 L600.4,498.4 L603.7,498.7 L607.1,498.9 L610.5,499.1 L613.8,499.3 L617.2,499.6 L620.6,499.8 L623.9,500.0 L627.3,500.2 L630.7,500.4 L634.0,500.5 L637.4,500.7 L640.8,500.9 L644.2,501.0 L647.5,501.1 L650.9,501.2 L654.3,501.4 L657.6,501.4 L661.0,501.5" fill="none" stroke="#7570b3" stroke-width="4.2" stroke-linejoin="round" stroke-linecap="butt" clip-path="url(#c0)"/>
<path d="M122.0,136.0 L125.4,136.1 L128.7,136.2 L132.1,136.2 L135.5,136.3 L138.8,136.3 L142.2,136.4 L145.6,136.5 L148.9,136.5 L152.3,136.6 L155.7,136.6 L159.1,136.7 L162.4,136.8 L165.8,136.8 L169.2,136.9 L172.5,136.9 L175.9,137.0 L179.3,137.1 L182.6,137.1 L186.0,137.2 L189.4,137.2 L192.7,137.3 L196.1,137.4 L199.5,137.4 L202.8,137.5 L206.2,137.5 L209.6,137.6 L213.0,137.6 L216.3,137.7 L219.7,137.8 L223.1,137.8 L226.4,137.9 L229.8,137.9 L233.2,138.0 L236.5,138.0 L239.9,138.1 L243.3,138.2 L246.6,138.2 L250.0,138.3 L253.4,138.4 L256.8,138.4 L260.1,138.5 L263.5,138.6 L266.9,138.7 L270.2,138.7 L273.6,138.8 L277.0,138.9 L280.3,139.0 L283.7,139.1 L287.1,139.2 L290.4,139.3 L293.8,139.4 L297.2,139.5 L300.5,139.6 L303.9,139.6 L307.3,139.7 L310.6,139.8 L314.0,139.9 L317.4,139.9 L320.8,140.0 L324.1,140.0 L327.5,140.1 L330.9,140.1 L334.2,140.1 L337.6,140.2 L341.0,140.2 L344.3,140.2 L347.7,140.3 L351.1,140.3 L354.4,140.3 L357.8,140.3 L361.2,140.4 L364.6,140.4 L367.9,140.4 L371.3,140.4 L374.7,140.4 L378.0,140.5 L381.4,140.5 L384.8,140.5 L388.1,140.5 L391.5,140.5 L394.9,140.5 L398.2,140.6 L401.6,140.6 L405.0,140.6 L408.3,140.6 L411.7,140.6 L415.1,140.7 L418.5,140.7 L421.8,140.7 L425.2,140.7 L428.6,140.7 L431.9,140.8 L435.3,140.8 L438.7,140.8 L442.0,140.8 L445.4,140.9 L448.8,140.9 L452.1,140.9 L455.5,141.0 L458.9,141.0 L462.2,141.1 L465.6,141.1 L469.0,141.2 L472.4,141.2 L475.7,141.3 L479.1,141.4 L482.5,141.4 L485.8,141.5 L489.2,141.6 L492.6,141.7 L495.9,141.8 L499.3,141.8 L502.7,141.9 L506.0,142.0 L509.4,142.1 L512.8,142.2 L516.1,142.3 L519.5,142.4 L522.9,142.5 L526.2,142.6 L529.6,142.7 L533.0,142.8 L536.4,142.9 L539.7,143.0 L543.1,143.1 L546.5,143.2 L549.8,143.3 L553.2,143.4 L556.6,143.5 L559.9,143.6 L563.3,143.7 L566.7,143.8 L570.0,143.9 L573.4,144.0 L576.8,144.1 L580.1,144.2 L583.5,144.3 L586.9,144.4 L590.3,144.5 L593.6,144.6 L597.0,144.7 L600.4,144.8 L603.7,144.9 L607.1,145.0 L610.5,145.1 L613.8,145.2 L617.2,145.3 L620.6,145.4 L623.9,145.5 L627.3,145.6 L630.7,145.7 L634.0,145.8 L637.4,145.9 L640.8,146.0 L644.2,146.1 L647.5,146.2 L650.9,146.3 L654.3,146.4 L657.6,146.5 L661.0,146.6" fill="none" stroke="#e7298a" stroke-width="4.2" stroke-linejoin="round" stroke-linecap="butt" clip-path="url(#c0)"/>
<line x1="122.00" y1="136.04" x2="661.00" y2="136.04" stroke="#000" stroke-width="2.6"/>
<rect x="130.7" y="418.7" width="324.6" height="106.9" rx="4" ry="4" fill="#fff" fill-opacity="0.8" stroke="#cfcfcf" stroke-width="2"/>
<line x1="135.4" y1="432.60" x2="175.2" y2="432.60" stroke="#1b9e77" stroke-width="4.0"/>
<g font-size="17.7" fill="#111"><text transform="translate(186.45,438.20) scale(1.024,1)">M</text><text transform="translate(201.55,438.20) scale(1.236,1)">i</text><text transform="translate(206.64,438.20) scale(1.300,1)">t</text><text transform="translate(213.27,438.20) scale(1.236,1)">i</text><text transform="translate(218.13,438.20) scale(1.129,1)">g</text><text transform="translate(229.24,438.20) scale(1.090,1)">a</text><text transform="translate(240.20,438.20) scale(1.300,1)">t</text><text transform="translate(246.83,438.20) scale(1.236,1)">i</text><text transform="translate(251.69,438.20) scale(1.088,1)">o</text><text transform="translate(262.40,438.20) scale(1.127,1)">n</text><text transform="translate(279.05,438.20) scale(1.087,1)">c</text><text transform="translate(288.67,438.20) scale(1.088,1)">o</text><text transform="translate(299.38,438.20) scale(1.030,1)">s</text><text transform="translate(308.73,438.20) scale(1.300,1)">t</text><text transform="translate(320.92,438.20) scale(1.088,1)">o</text><text transform="translate(331.63,438.20) scale(1.253,1)">f</text><text transform="translate(343.35,438.20) scale(0.951,1)">R</text><text transform="translate(355.30,438.20) scale(0.920,1)">C</text><text transform="translate(366.70,438.20) scale(0.920,1)">P</text><text transform="translate(377.41,438.20) scale(1.131,1)">2</text><text transform="translate(388.54,438.20) scale(1.131,1)">.</text><text transform="translate(394.10,438.20) scale(1.131,1)">6</text></g>
<line x1="135.4" y1="458.25" x2="175.2" y2="458.25" stroke="#d95f02" stroke-width="4.0"/>
<g font-size="17.7" fill="#111"><text transform="translate(186.30,463.85) scale(0.920,1)">P</text><text transform="translate(197.00,463.85) scale(1.169,1)">r</text><text transform="translate(203.89,463.85) scale(1.055,1)">e</text><text transform="translate(214.27,463.85) scale(1.253,1)">f</text><text transform="translate(220.31,463.85) scale(0.920,1)">.</text><text transform="translate(230.28,463.85) scale(1.030,1)">s</text><text transform="translate(239.40,463.85) scale(1.129,1)">p</text><text transform="translate(250.51,463.85) scale(1.094,1)">e</text><text transform="translate(261.28,463.85) scale(1.087,1)">c</text><text transform="translate(270.90,463.85) scale(1.131,1)">.</text><text transform="translate(282.02,463.85) scale(1.087,1)">c</text><text transform="translate(291.64,463.85) scale(1.236,1)">l</text><text transform="translate(296.51,463.85) scale(1.236,1)">i</text><text transform="translate(301.37,463.85) scale(1.156,1)">m</text><text transform="translate(318.41,463.85) scale(1.090,1)">a</text><text transform="translate(329.37,463.85) scale(1.300,1)">t</text><text transform="translate(336.00,463.85) scale(1.094,1)">e</text><text transform="translate(352.33,463.85) scale(1.129,1)">d</text><text transform="translate(363.44,463.85) scale(1.090,1)">a</text><text transform="translate(374.16,463.85) scale(1.156,1)">m</text><text transform="translate(391.21,463.85) scale(1.090,1)">a</text><text transform="translate(401.93,463.85) scale(1.129,1)">g</text><text transform="translate(413.04,463.85) scale(1.094,1)">e</text><text transform="translate(423.81,463.85) scale(1.030,1)">s</text></g>
<line x1="135.4" y1="483.90" x2="175.2" y2="483.90" stroke="#7570b3" stroke-width="4.0"/>
<g font-size="17.7" fill="#111"><text transform="translate(186.30,489.50) scale(0.920,1)">P</text><text transform="translate(197.00,489.50) scale(1.096,1)">u</text><text transform="translate(207.79,489.50) scale(1.221,1)">r</text><text transform="translate(214.98,489.50) scale(1.055,1)">e</text><text transform="translate(230.92,489.50) scale(1.129,1)">g</text><text transform="translate(242.03,489.50) scale(1.221,1)">r</text><text transform="translate(249.23,489.50) scale(1.049,1)">o</text><text transform="translate(259.55,489.50) scale(1.120,1)">w</text><text transform="translate(274.10,489.50) scale(1.300,1)">t</text><text transform="translate(280.72,489.50) scale(1.127,1)">h</text><text transform="translate(297.38,489.50) scale(1.087,1)">c</text><text transform="translate(307.00,489.50) scale(1.236,1)">l</text><text transform="translate(311.86,489.50) scale(1.236,1)">i</text><text transform="translate(316.72,489.50) scale(1.156,1)">m</text><text transform="translate(333.77,489.50) scale(1.090,1)">a</text><text transform="translate(344.73,489.50) scale(1.300,1)">t</text><text transform="translate(351.35,489.50) scale(1.094,1)">e</text><text transform="translate(367.68,489.50) scale(1.129,1)">d</text><text transform="translate(378.79,489.50) scale(1.090,1)">a</text><text transform="translate(389.52,489.50) scale(1.156,1)">m</text><text transform="translate(406.56,489.50) scale(1.090,1)">a</text><text transform="translate(417.29,489.50) scale(1.129,1)">g</text><text transform="translate(428.40,489.50) scale(1.094,1)">e</text><text transform="translate(439.16,489.50) scale(1.030,1)">s</text></g>
<line x1="135.4" y1="509.55" x2="175.2" y2="509.55" stroke="#e7298a" stroke-width="4.0"/>
<g font-size="17.7" fill="#111"><text transform="translate(186.30,515.15) scale(0.920,1)">P</text><text transform="translate(197.00,515.15) scale(1.096,1)">u</text><text transform="translate(207.79,515.15) scale(1.221,1)">r</text><text transform="translate(214.98,515.15) scale(1.055,1)">e</text><text transform="translate(230.92,515.15) scale(1.236,1)">l</text><text transform="translate(235.79,515.15) scale(1.094,1)">e</text><text transform="translate(246.55,515.15) scale(1.170,1)">v</text><text transform="translate(256.91,515.15) scale(1.094,1)">e</text><text transform="translate(267.68,515.15) scale(1.236,1)">l</text><text transform="translate(278.10,515.15) scale(1.087,1)">c</text><text transform="translate(287.73,515.15) scale(1.236,1)">l</text><text transform="translate(292.59,515.15) scale(1.236,1)">i</text><text transform="translate(297.45,515.15) scale(1.156,1)">m</text><text transform="translate(314.50,515.15) scale(1.090,1)">a</text><text transform="translate(325.45,515.15) scale(1.300,1)">t</text><text transform="translate(332.08,515.15) scale(1.094,1)">e</text><text transform="translate(348.41,515.15) scale(1.129,1)">d</text><text transform="translate(359.52,515.15) scale(1.090,1)">a</text><text transform="translate(370.24,515.15) scale(1.156,1)">m</text><text transform="translate(387.29,515.15) scale(1.090,1)">a</text><text transform="translate(398.01,515.15) scale(1.129,1)">g</text><text transform="translate(409.12,515.15) scale(1.094,1)">e</text><text transform="translate(419.89,515.15) scale(1.030,1)">s</text></g>
<rect x="122.00" y="36.40" width="539.00" height="498.20" fill="none" stroke="#000" stroke-width="2.0"/>
<line x1="111.70" y1="56.33" x2="122.00" y2="56.33" stroke="#000" stroke-width="2.0"/>
<g font-size="17.7" fill="#111"><text transform="translate(79.12,62.53) scale(1.131,1)">2</text><text transform="translate(90.26,62.53) scale(1.131,1)">0</text></g>
<line x1="111.70" y1="136.04" x2="122.00" y2="136.04" stroke="#000" stroke-width="2.0"/>
<g font-size="17.7" fill="#111"><text transform="translate(90.33,142.24) scale(1.131,1)">0</text></g>
<line x1="111.70" y1="215.75" x2="122.00" y2="215.75" stroke="#000" stroke-width="2.0"/>
<g font-size="17.7" fill="#111"><text transform="translate(65.21,221.95) scale(1.300,1)">−</text><text transform="translate(79.26,221.95) scale(1.131,1)">2</text><text transform="translate(90.40,221.95) scale(1.131,1)">0</text></g>
<line x1="111.70" y1="295.46" x2="122.00" y2="295.46" stroke="#000" stroke-width="2.0"/>
<g font-size="17.7" fill="#111"><text transform="translate(65.21,301.66) scale(1.300,1)">−</text><text transform="translate(79.26,301.66) scale(1.131,1)">4</text><text transform="translate(90.40,301.66) scale(1.131,1)">0</text></g>
<line x1="111.70" y1="375.18" x2="122.00" y2="375.18" stroke="#000" stroke-width="2.0"/>
<g font-size="17.7" fill="#111"><text transform="translate(65.21,381.38) scale(1.300,1)">−</text><text transform="translate(79.26,381.38) scale(1.131,1)">6</text><text transform="translate(90.40,381.38) scale(1.131,1)">0</text></g>
<line x1="111.70" y1="454.89" x2="122.00" y2="454.89" stroke="#000" stroke-width="2.0"/>
<g font-size="17.7" fill="#111"><text transform="translate(65.21,461.09) scale(1.300,1)">−</text><text transform="translate(79.26,461.09) scale(1.131,1)">8</text><text transform="translate(90.40,461.09) scale(1.131,1)">0</text></g>
<line x1="111.70" y1="534.60" x2="122.00" y2="534.60" stroke="#000" stroke-width="2.0"/>
<g font-size="17.7" fill="#111"><text transform="translate(54.01,540.80) scale(1.300,1)">−</text><text transform="translate(68.06,540.80) scale(1.131,1)">1</text><text transform="translate(79.20,540.80) scale(1.131,1)">0</text><text transform="translate(90.33,540.80) scale(1.131,1)">0</text></g>
<line x1="122.00" y1="534.60" x2="122.00" y2="544.90" stroke="#000" stroke-width="2.0"/>
<g font-size="17.7" fill="#111"><text transform="translate(99.69,568.20) scale(1.131,1)">2</text><text transform="translate(110.82,568.20) scale(1.131,1)">0</text><text transform="translate(121.96,568.20) scale(1.131,1)">2</text><text transform="translate(133.09,568.20) scale(1.131,1)">0</text></g>
<line x1="189.38" y1="534.60" x2="189.38" y2="544.90" stroke="#000" stroke-width="2.0"/>
<g font-size="17.7" fill="#111"><text transform="translate(167.06,568.20) scale(1.131,1)">2</text><text transform="translate(178.20,568.20) scale(1.131,1)">0</text><text transform="translate(189.33,568.20) scale(1.131,1)">3</text><text transform="translate(200.47,568.20) scale(1.131,1)">0</text></g>
<line x1="256.75" y1="534.60" x2="256.75" y2="544.90" stroke="#000" stroke-width="2.0"/>
<g font-size="17.7" fill="#111"><text transform="translate(234.44,568.20) scale(1.131,1)">2</text><text transform="translate(245.57,568.20) scale(1.131,1)">0</text><text transform="translate(256.71,568.20) scale(1.131,1)">4</text><text transform="translate(267.84,568.20) scale(1.131,1)">0</text></g>
<line x1="324.12" y1="534.60" x2="324.12" y2="544.90" stroke="#000" stroke-width="2.0"/>
<g font-size="17.7" fill="#111"><text transform="translate(301.81,568.20) scale(1.131,1)">2</text><text transform="translate(312.95,568.20) scale(1.131,1)">0</text><text transform="translate(324.08,568.20) scale(1.131,1)">5</text><text transform="translate(335.22,568.20) scale(1.131,1)">0</text></g>
<line x1="391.50" y1="534.60" x2="391.50" y2="544.90" stroke="#000" stroke-width="2.0"/>
<g font-size="17.7" fill="#111"><text transform="translate(369.19,568.20) scale(1.131,1)">2</text><text transform="translate(380.32,568.20) scale(1.131,1)">0</text><text transform="translate(391.46,568.20) scale(1.131,1)">6</text><text transform="translate(402.59,568.20) scale(1.131,1)">0</text></g>
<line x1="458.88" y1="534.60" x2="458.88" y2="544.90" stroke="#000" stroke-width="2.0"/>
<g font-size="17.7" fill="#111"><text transform="translate(436.56,568.20) scale(1.131,1)">2</text><text transform="translate(447.70,568.20) scale(1.131,1)">0</text><text transform="translate(458.83,568.20) scale(1.131,1)">7</text><text transform="translate(469.97,568.20) scale(1.131,1)">0</text></g>
<line x1="526.25" y1="534.60" x2="526.25" y2="544.90" stroke="#000" stroke-width="2.0"/>
<g font-size="17.7" fill="#111"><text transform="translate(503.94,568.20) scale(1.131,1)">2</text><text transform="translate(515.07,568.20) scale(1.131,1)">0</text><text transform="translate(526.21,568.20) scale(1.131,1)">8</text><text transform="translate(537.34,568.20) scale(1.131,1)">0</text></g>
<line x1="593.62" y1="534.60" x2="593.62" y2="544.90" stroke="#000" stroke-width="2.0"/>
<g font-size="17.7" fill="#111"><text transform="translate(571.31,568.20) scale(1.131,1)">2</text><text transform="translate(582.45,568.20) scale(1.131,1)">0</text><text transform="translate(593.58,568.20) scale(1.131,1)">9</text><text transform="translate(604.72,568.20) scale(1.131,1)">0</text></g>
<line x1="661.00" y1="534.60" x2="661.00" y2="544.90" stroke="#000" stroke-width="2.0"/>
<g font-size="17.7" fill="#111"><text transform="translate(638.69,568.20) scale(1.131,1)">2</text><text transform="translate(649.82,568.20) scale(1.131,1)">1</text><text transform="translate(660.96,568.20) scale(1.131,1)">0</text><text transform="translate(672.09,568.20) scale(1.131,1)">0</text></g>
<g font-size="17.7" fill="#111"><text transform="translate(363.05,18.70) scale(0.985,1)">G</text><text transform="translate(376.61,18.70) scale(1.236,1)">l</text><text transform="translate(381.47,18.70) scale(1.088,1)">o</text><text transform="translate(392.18,18.70) scale(1.129,1)">b</text><text transform="translate(403.29,18.70) scale(1.090,1)">a</text><text transform="translate(414.01,18.70) scale(1.236,1)">l</text></g>
<g font-size="24.4" fill="#111" font-weight="bold" style="stroke-width:0.7px"><text transform="translate(149.02,76.00) scale(1.000,1)">a</text></g>
<path d="M122.0,641.8 L123.0,641.7 L124.0,641.7 L125.0,641.6 L126.0,641.6 L127.0,641.6 L127.9,641.5 L128.9,641.5 L129.9,641.5 L130.9,641.5 L131.9,641.5 L132.9,641.4 L133.9,641.4 L134.9,641.4 L135.9,641.4 L136.9,641.4 L137.8,641.4 L138.8,641.4 L139.8,641.4 L140.8,641.4 L141.8,641.4 L142.8,641.4 L143.8,641.4 L144.8,641.5 L145.8,641.5 L146.8,641.6 L147.8,641.6 L148.7,641.7 L149.7,641.8 L150.7,641.9 L151.7,641.9 L152.7,642.0 L153.7,642.1 L154.7,642.2 L155.7,642.3 L156.7,642.4 L157.7,642.5 L158.7,642.6 L159.6,642.6 L160.6,642.7 L161.6,642.8 L162.6,642.8 L163.6,642.9 L164.6,643.0 L165.6,643.0 L166.6,643.1 L167.6,643.1 L168.6,643.2 L169.6,643.3 L170.5,643.3 L171.5,643.4 L172.5,643.5 L173.5,643.5 L174.5,643.6 L175.5,643.7 L176.5,643.7 L177.5,643.8 L178.5,643.9 L179.5,643.9 L180.4,644.0 L181.4,644.0 L182.4,644.1 L183.4,644.2 L184.4,644.2 L185.4,644.3 L186.4,644.3 L187.4,644.4 L188.4,644.4 L189.4,644.5 L190.4,644.5 L191.3,644.6 L192.3,644.6 L193.3,644.7 L194.3,644.7 L195.3,644.7 L196.3,644.8 L197.3,644.8 L198.3,644.8 L199.3,644.8 L200.3,644.9 L201.2,644.9 L202.2,644.9 L203.2,644.9 L204.2,644.9 L205.2,644.9 L206.2,644.9 L207.2,645.0 L208.2,645.0 L209.2,645.0 L210.2,645.0 L211.2,645.0 L212.1,645.0 L213.1,645.0 L214.1,645.0 L215.1,645.1 L216.1,645.1 L217.1,645.1 L218.1,645.1 L219.1,645.1 L220.1,645.1 L221.1,645.1 L222.1,645.1 L223.0,645.2 L224.0,645.2 L225.0,645.2 L226.0,645.2 L227.0,645.2 L228.0,645.2 L229.0,645.2 L230.0,645.2 L231.0,645.2 L232.0,645.2 L232.9,645.3 L233.9,645.3 L234.9,645.3 L235.9,645.3 L236.9,645.3 L237.9,645.3 L238.9,645.3 L239.9,645.3 L240.9,645.3 L241.9,645.3 L242.9,645.3 L243.8,645.3 L244.8,645.4 L245.8,645.4 L246.8,645.4 L247.8,645.4 L248.8,645.4 L249.8,645.4 L250.8,645.4 L251.8,645.4 L252.8,645.4 L253.8,645.4 L254.7,645.4 L255.7,645.4 L256.7,645.4 L257.7,645.4 L258.7,645.4 L259.7,645.4 L260.7,645.4 L261.7,645.4 L262.7,645.5 L263.7,645.5 L264.6,645.5 L265.6,645.5 L266.6,645.5 L267.6,645.5 L268.6,645.5 L269.6,645.5 L270.6,645.5 L271.6,645.5 L272.6,645.5 L273.6,645.5 L274.6,645.5 L275.5,645.5 L276.5,645.5 L277.5,645.5 L278.5,645.5 L279.5,645.5 L280.5,645.5 L280.5,730.5 L279.5,730.1 L278.5,729.6 L277.5,729.2 L276.5,728.8 L275.5,728.4 L274.6,728.0 L273.6,727.6 L272.6,727.1 L271.6,726.7 L270.6,726.3 L269.6,725.9 L268.6,725.5 L267.6,725.0 L266.6,724.6 L265.6,724.2 L264.6,723.8 L263.7,723.3 L262.7,722.9 L261.7,722.5 L260.7,722.1 L259.7,721.6 L258.7,721.2 L257.7,720.8 L256.7,720.3 L255.7,719.9 L254.7,719.5 L253.8,719.0 L252.8,718.6 L251.8,718.2 L250.8,717.7 L249.8,717.3 L248.8,716.9 L247.8,716.4 L246.8,716.0 L245.8,715.5 L244.8,715.1 L243.8,714.6 L242.9,714.2 L241.9,713.7 L240.9,713.3 L239.9,712.9 L238.9,712.4 L237.9,712.0 L236.9,711.5 L235.9,711.1 L234.9,710.6 L233.9,710.2 L232.9,709.7 L232.0,709.3 L231.0,708.9 L230.0,708.4 L229.0,708.0 L228.0,707.5 L227.0,707.1 L226.0,706.7 L225.0,706.2 L224.0,705.8 L223.0,705.4 L222.1,705.0 L221.1,704.6 L220.1,704.2 L219.1,703.8 L218.1,703.4 L217.1,703.0 L216.1,702.6 L215.1,702.2 L214.1,701.8 L213.1,701.4 L212.1,700.9 L211.2,700.5 L210.2,700.1 L209.2,699.6 L208.2,699.2 L207.2,698.7 L206.2,698.3 L205.2,697.8 L204.2,697.3 L203.2,696.8 L202.2,696.3 L201.2,695.8 L200.3,695.2 L199.3,694.6 L198.3,694.1 L197.3,693.4 L196.3,692.8 L195.3,692.2 L194.3,691.5 L193.3,690.8 L192.3,690.1 L191.3,689.4 L190.4,688.7 L189.4,688.0 L188.4,687.2 L187.4,686.5 L186.4,685.7 L185.4,684.9 L184.4,684.1 L183.4,683.4 L182.4,682.6 L181.4,681.8 L180.4,681.0 L179.5,680.2 L178.5,679.4 L177.5,678.6 L176.5,677.8 L175.5,677.0 L174.5,676.2 L173.5,675.5 L172.5,674.7 L171.5,673.9 L170.5,673.2 L169.6,672.4 L168.6,671.7 L167.6,670.9 L166.6,670.2 L165.6,669.5 L164.6,668.8 L163.6,668.2 L162.6,667.5 L161.6,666.9 L160.6,666.2 L159.6,665.6 L158.7,665.0 L157.7,664.4 L156.7,663.9 L155.7,663.3 L154.7,662.7 L153.7,662.2 L152.7,661.6 L151.7,661.1 L150.7,660.5 L149.7,660.0 L148.7,659.4 L147.8,658.9 L146.8,658.3 L145.8,657.8 L144.8,657.2 L143.8,656.6 L142.8,656.0 L141.8,655.4 L140.8,654.7 L139.8,654.1 L138.8,653.5 L137.8,652.8 L136.9,652.2 L135.9,651.5 L134.9,650.9 L133.9,650.2 L132.9,649.5 L131.9,648.8 L130.9,648.2 L129.9,647.5 L128.9,646.8 L127.9,646.1 L127.0,645.4 L126.0,644.7 L125.0,644.0 L124.0,643.2 L123.0,642.5 L122.0,641.8Z" fill="#d95f02" fill-opacity="0.155" clip-path="url(#c1)"/>
<path d="M122.0,641.8 L123.0,641.9 L124.0,642.0 L125.0,642.0 L126.0,642.1 L127.0,642.2 L127.9,642.4 L128.9,642.5 L129.9,642.6 L130.9,642.7 L131.9,642.8 L132.9,643.0 L133.9,643.1 L134.9,643.2 L135.9,643.4 L136.9,643.5 L137.8,643.6 L138.8,643.8 L139.8,643.9 L140.8,644.1 L141.8,644.3 L142.8,644.4 L143.8,644.6 L144.8,644.8 L145.8,645.0 L146.8,645.2 L147.8,645.4 L148.7,645.7 L149.7,645.9 L150.7,646.2 L151.7,646.4 L152.7,646.6 L153.7,646.9 L154.7,647.1 L155.7,647.3 L156.7,647.6 L157.7,647.8 L158.7,648.0 L159.6,648.1 L160.6,648.3 L161.6,648.5 L162.6,648.6 L163.6,648.7 L164.6,648.8 L165.6,649.0 L166.6,649.1 L167.6,649.2 L168.6,649.3 L169.6,649.4 L170.5,649.5 L171.5,649.6 L172.5,649.7 L173.5,649.8 L174.5,649.9 L175.5,650.0 L176.5,650.0 L177.5,650.1 L178.5,650.2 L179.5,650.3 L180.4,650.4 L181.4,650.5 L182.4,650.5 L183.4,650.6 L184.4,650.7 L185.4,650.8 L186.4,650.9 L187.4,650.9 L188.4,651.0 L189.4,651.1 L190.4,651.2 L191.3,651.3 L192.3,651.4 L193.3,651.4 L194.3,651.5 L195.3,651.6 L196.3,651.7 L197.3,651.8 L198.3,651.9 L199.3,652.1 L200.3,652.2 L201.2,652.3 L202.2,652.4 L203.2,652.5 L204.2,652.6 L205.2,652.8 L206.2,652.9 L207.2,653.0 L208.2,653.1 L209.2,653.3 L210.2,653.4 L211.2,653.5 L212.1,653.7 L213.1,653.8 L214.1,653.9 L215.1,654.1 L216.1,654.2 L217.1,654.4 L218.1,654.5 L219.1,654.7 L220.1,654.8 L221.1,655.0 L222.1,655.2 L223.0,655.4 L224.0,655.5 L225.0,655.7 L226.0,655.9 L227.0,656.1 L228.0,656.3 L229.0,656.5 L230.0,656.8 L231.0,657.1 L232.0,657.4 L232.9,657.7 L233.9,658.0 L234.9,658.4 L235.9,658.7 L236.9,659.1 L237.9,659.4 L238.9,659.7 L239.9,659.9 L240.9,660.2 L241.9,660.4 L242.9,660.6 L243.8,660.7 L244.8,660.9 L245.8,661.0 L246.8,661.2 L247.8,661.3 L248.8,661.4 L249.8,661.5 L250.8,661.7 L251.8,661.8 L252.8,662.0 L253.8,662.1 L254.7,662.3 L255.7,662.5 L256.7,662.6 L257.7,662.8 L258.7,663.0 L259.7,663.2 L260.7,663.4 L261.7,663.6 L262.7,663.9 L263.7,664.1 L264.6,664.3 L265.6,664.5 L266.6,664.7 L267.6,665.0 L268.6,665.2 L269.6,665.5 L270.6,665.7 L271.6,666.0 L272.6,666.2 L273.6,666.5 L274.6,666.8 L275.5,667.0 L276.5,667.3 L277.5,667.6 L278.5,667.9 L279.5,668.2 L280.5,668.5 L280.5,717.4 L279.5,717.0 L278.5,716.6 L277.5,716.2 L276.5,715.8 L275.5,715.4 L274.6,715.0 L273.6,714.6 L272.6,714.2 L271.6,713.8 L270.6,713.4 L269.6,712.9 L268.6,712.5 L267.6,712.1 L266.6,711.7 L265.6,711.2 L264.6,710.8 L263.7,710.4 L262.7,709.9 L261.7,709.5 L260.7,709.1 L259.7,708.6 L258.7,708.2 L257.7,707.7 L256.7,707.3 L255.7,706.8 L254.7,706.4 L253.8,705.9 L252.8,705.5 L251.8,705.0 L250.8,704.5 L249.8,704.0 L248.8,703.5 L247.8,703.0 L246.8,702.5 L245.8,702.0 L244.8,701.5 L243.8,701.0 L242.9,700.4 L241.9,699.9 L240.9,699.4 L239.9,698.9 L238.9,698.4 L237.9,697.9 L236.9,697.4 L235.9,696.9 L234.9,696.4 L233.9,695.9 L232.9,695.4 L232.0,694.9 L231.0,694.4 L230.0,694.0 L229.0,693.5 L228.0,693.1 L227.0,692.6 L226.0,692.2 L225.0,691.8 L224.0,691.4 L223.0,691.0 L222.1,690.6 L221.1,690.2 L220.1,689.8 L219.1,689.4 L218.1,689.0 L217.1,688.7 L216.1,688.3 L215.1,687.9 L214.1,687.5 L213.1,687.2 L212.1,686.8 L211.2,686.4 L210.2,686.0 L209.2,685.6 L208.2,685.2 L207.2,684.8 L206.2,684.4 L205.2,684.0 L204.2,683.6 L203.2,683.2 L202.2,682.7 L201.2,682.3 L200.3,681.8 L199.3,681.4 L198.3,680.9 L197.3,680.4 L196.3,679.9 L195.3,679.4 L194.3,678.9 L193.3,678.4 L192.3,677.9 L191.3,677.4 L190.4,676.8 L189.4,676.3 L188.4,675.8 L187.4,675.2 L186.4,674.7 L185.4,674.1 L184.4,673.6 L183.4,673.0 L182.4,672.4 L181.4,671.9 L180.4,671.3 L179.5,670.8 L178.5,670.2 L177.5,669.6 L176.5,669.1 L175.5,668.5 L174.5,668.0 L173.5,667.4 L172.5,666.9 L171.5,666.3 L170.5,665.8 L169.6,665.2 L168.6,664.7 L167.6,664.1 L166.6,663.6 L165.6,663.1 L164.6,662.6 L163.6,662.1 L162.6,661.5 L161.6,661.0 L160.6,660.6 L159.6,660.1 L158.7,659.6 L157.7,659.1 L156.7,658.6 L155.7,658.2 L154.7,657.7 L153.7,657.2 L152.7,656.8 L151.7,656.3 L150.7,655.9 L149.7,655.4 L148.7,654.9 L147.8,654.5 L146.8,654.0 L145.8,653.6 L144.8,653.1 L143.8,652.6 L142.8,652.1 L141.8,651.7 L140.8,651.2 L139.8,650.7 L138.8,650.2 L137.8,649.7 L136.9,649.2 L135.9,648.7 L134.9,648.3 L133.9,647.8 L132.9,647.3 L131.9,646.8 L130.9,646.3 L129.9,645.8 L128.9,645.3 L127.9,644.8 L127.0,644.3 L126.0,643.8 L125.0,643.3 L124.0,642.8 L123.0,642.3 L122.0,641.8Z" fill="#d95f02" fill-opacity="0.3" clip-path="url(#c1)"/>
<path d="M122.0,641.8 L123.0,641.8 L124.0,641.8 L125.0,641.9 L126.0,642.0 L127.0,642.2 L127.9,642.3 L128.9,642.5 L129.9,642.6 L130.9,642.8 L131.9,643.0 L132.9,643.3 L133.9,643.6 L134.9,644.0 L135.9,644.4 L136.9,644.9 L137.8,645.5 L138.8,646.1 L139.8,646.7 L140.8,647.3 L141.8,648.0 L142.8,648.6 L143.8,649.3 L144.8,650.0 L145.8,650.8 L146.8,651.7 L147.8,652.5 L148.7,653.4 L149.7,654.3 L150.7,655.3 L151.7,656.3 L152.7,657.3 L153.7,658.3 L154.7,659.4 L155.7,660.5 L156.7,661.5 L157.7,662.6 L158.7,663.8 L159.6,664.9 L160.6,666.0 L161.6,667.2 L162.6,668.3 L163.6,669.5 L164.6,670.6 L165.6,671.8 L166.6,672.9 L167.6,674.0 L168.6,675.2 L169.6,676.3 L170.5,677.4 L171.5,678.4 L172.5,679.5 L173.5,680.6 L174.5,681.8 L175.5,682.9 L176.5,684.0 L177.5,685.1 L178.5,686.3 L179.5,687.4 L180.4,688.6 L181.4,689.7 L182.4,690.9 L183.4,692.1 L184.4,693.3 L185.4,694.5 L186.4,695.6 L187.4,696.8 L188.4,698.1 L189.4,699.3 L190.4,700.5 L191.3,701.7 L192.3,702.9 L193.3,704.2 L194.3,705.5 L195.3,706.8 L196.3,708.1 L197.3,709.5 L198.3,710.9 L199.3,712.2 L200.3,713.4 L201.2,714.6 L202.2,715.7 L203.2,716.8 L204.2,717.8 L205.2,718.7 L206.2,719.7 L207.2,720.6 L208.2,721.5 L209.2,722.3 L210.2,723.2 L211.2,724.0 L212.1,724.9 L213.1,725.7 L214.1,726.5 L215.1,727.4 L216.1,728.2 L217.1,729.1 L218.1,729.9 L219.1,730.8 L220.1,731.6 L221.1,732.4 L222.1,733.2 L223.0,734.0 L224.0,734.8 L225.0,735.6 L226.0,736.3 L227.0,737.0 L228.0,737.7 L229.0,738.4 L230.0,739.1 L231.0,739.8 L232.0,740.4 L232.9,741.1 L233.9,741.7 L234.9,742.4 L235.9,743.0 L236.9,743.5 L237.9,744.1 L238.9,744.6 L239.9,745.1 L240.9,745.5 L241.9,745.9 L242.9,746.3 L243.8,746.7 L244.8,747.0 L245.8,747.4 L246.8,747.7 L247.8,748.0 L248.8,748.3 L249.8,748.6 L250.8,748.8 L251.8,749.1 L252.8,749.3 L253.8,749.6 L254.7,749.8 L255.7,750.0 L256.7,750.2 L257.7,750.4 L258.7,750.6 L259.7,750.8 L260.7,751.0 L261.7,751.2 L262.7,751.4 L263.7,751.6 L264.6,751.8 L265.6,751.9 L266.6,752.1 L267.6,752.3 L268.6,752.5 L269.6,752.6 L270.6,752.8 L271.6,752.9 L272.6,753.0 L273.6,753.2 L274.6,753.3 L275.5,753.4 L276.5,753.5 L277.5,753.6 L278.5,753.7 L279.5,753.7 L280.5,753.8 L280.5,762.8 L279.5,762.8 L278.5,762.8 L277.5,762.8 L276.5,762.8 L275.5,762.8 L274.6,762.7 L273.6,762.7 L272.6,762.7 L271.6,762.7 L270.6,762.6 L269.6,762.6 L268.6,762.5 L267.6,762.5 L266.6,762.4 L265.6,762.4 L264.6,762.3 L263.7,762.2 L262.7,762.2 L261.7,762.1 L260.7,762.0 L259.7,761.9 L258.7,761.9 L257.7,761.8 L256.7,761.7 L255.7,761.6 L254.7,761.5 L253.8,761.4 L252.8,761.4 L251.8,761.3 L250.8,761.2 L249.8,761.1 L248.8,761.0 L247.8,760.9 L246.8,760.8 L245.8,760.7 L244.8,760.6 L243.8,760.5 L242.9,760.4 L241.9,760.3 L240.9,760.2 L239.9,760.1 L238.9,759.9 L237.9,759.8 L236.9,759.7 L235.9,759.6 L234.9,759.4 L233.9,759.3 L232.9,759.1 L232.0,759.0 L231.0,758.8 L230.0,758.6 L229.0,758.4 L228.0,758.3 L227.0,758.1 L226.0,757.9 L225.0,757.7 L224.0,757.4 L223.0,757.2 L222.1,757.0 L221.1,756.8 L220.1,756.5 L219.1,756.3 L218.1,756.0 L217.1,755.7 L216.1,755.5 L215.1,755.2 L214.1,754.9 L213.1,754.6 L212.1,754.3 L211.2,754.0 L210.2,753.6 L209.2,753.3 L208.2,753.0 L207.2,752.6 L206.2,752.3 L205.2,751.9 L204.2,751.5 L203.2,751.1 L202.2,750.7 L201.2,750.3 L200.3,749.9 L199.3,749.5 L198.3,749.1 L197.3,748.6 L196.3,748.1 L195.3,747.6 L194.3,746.9 L193.3,746.2 L192.3,745.4 L191.3,744.6 L190.4,743.7 L189.4,742.7 L188.4,741.7 L187.4,740.7 L186.4,739.6 L185.4,738.5 L184.4,737.3 L183.4,736.1 L182.4,734.9 L181.4,733.7 L180.4,732.5 L179.5,731.2 L178.5,730.0 L177.5,728.7 L176.5,727.3 L175.5,725.8 L174.5,724.3 L173.5,722.7 L172.5,721.0 L171.5,719.3 L170.5,717.5 L169.6,715.7 L168.6,713.9 L167.6,712.1 L166.6,710.3 L165.6,708.5 L164.6,706.8 L163.6,705.0 L162.6,703.3 L161.6,701.6 L160.6,699.9 L159.6,698.2 L158.7,696.5 L157.7,694.8 L156.7,693.1 L155.7,691.3 L154.7,689.6 L153.7,687.9 L152.7,686.2 L151.7,684.5 L150.7,682.7 L149.7,681.1 L148.7,679.4 L147.8,677.7 L146.8,676.0 L145.8,674.3 L144.8,672.6 L143.8,670.8 L142.8,669.0 L141.8,667.3 L140.8,665.5 L139.8,663.8 L138.8,662.1 L137.8,660.4 L136.9,658.8 L135.9,657.2 L134.9,655.7 L133.9,654.3 L132.9,652.9 L131.9,651.7 L130.9,650.5 L129.9,649.3 L128.9,648.2 L127.9,647.2 L127.0,646.1 L126.0,645.2 L125.0,644.2 L124.0,643.4 L123.0,642.5 L122.0,641.8Z" fill="#7570b3" fill-opacity="0.155" clip-path="url(#c1)"/>
<path d="M122.0,641.8 L123.0,641.8 L124.0,641.9 L125.0,642.1 L126.0,642.3 L127.0,642.6 L127.9,642.8 L128.9,643.2 L129.9,643.5 L130.9,643.9 L131.9,644.3 L132.9,644.7 L133.9,645.2 L134.9,645.8 L135.9,646.5 L136.9,647.3 L137.8,648.1 L138.8,648.9 L139.8,649.8 L140.8,650.7 L141.8,651.7 L142.8,652.6 L143.8,653.6 L144.8,654.7 L145.8,655.9 L146.8,657.0 L147.8,658.3 L148.7,659.6 L149.7,660.9 L150.7,662.2 L151.7,663.6 L152.7,665.0 L153.7,666.4 L154.7,667.8 L155.7,669.3 L156.7,670.7 L157.7,672.1 L158.7,673.5 L159.6,674.9 L160.6,676.3 L161.6,677.6 L162.6,679.0 L163.6,680.3 L164.6,681.7 L165.6,683.0 L166.6,684.4 L167.6,685.7 L168.6,687.1 L169.6,688.5 L170.5,689.9 L171.5,691.2 L172.5,692.6 L173.5,694.0 L174.5,695.4 L175.5,696.8 L176.5,698.2 L177.5,699.5 L178.5,700.9 L179.5,702.3 L180.4,703.7 L181.4,705.1 L182.4,706.5 L183.4,707.9 L184.4,709.4 L185.4,710.8 L186.4,712.3 L187.4,713.8 L188.4,715.3 L189.4,716.8 L190.4,718.2 L191.3,719.7 L192.3,721.1 L193.3,722.5 L194.3,723.8 L195.3,725.1 L196.3,726.4 L197.3,727.6 L198.3,728.7 L199.3,729.8 L200.3,730.8 L201.2,731.8 L202.2,732.8 L203.2,733.8 L204.2,734.7 L205.2,735.7 L206.2,736.6 L207.2,737.5 L208.2,738.3 L209.2,739.1 L210.2,739.9 L211.2,740.6 L212.1,741.3 L213.1,741.9 L214.1,742.5 L215.1,743.1 L216.1,743.6 L217.1,744.1 L218.1,744.5 L219.1,745.0 L220.1,745.5 L221.1,745.9 L222.1,746.3 L223.0,746.8 L224.0,747.2 L225.0,747.6 L226.0,747.9 L227.0,748.3 L228.0,748.7 L229.0,749.0 L230.0,749.4 L231.0,749.7 L232.0,750.0 L232.9,750.3 L233.9,750.6 L234.9,750.8 L235.9,751.1 L236.9,751.4 L237.9,751.6 L238.9,751.8 L239.9,752.0 L240.9,752.2 L241.9,752.4 L242.9,752.6 L243.8,752.8 L244.8,752.9 L245.8,753.1 L246.8,753.3 L247.8,753.5 L248.8,753.7 L249.8,753.8 L250.8,754.0 L251.8,754.2 L252.8,754.3 L253.8,754.5 L254.7,754.7 L255.7,754.8 L256.7,755.0 L257.7,755.1 L258.7,755.3 L259.7,755.4 L260.7,755.5 L261.7,755.7 L262.7,755.8 L263.7,755.9 L264.6,756.0 L265.6,756.1 L266.6,756.3 L267.6,756.4 L268.6,756.4 L269.6,756.5 L270.6,756.6 L271.6,756.7 L272.6,756.8 L273.6,756.8 L274.6,756.9 L275.5,756.9 L276.5,757.0 L277.5,757.0 L278.5,757.0 L279.5,757.0 L280.5,757.0 L280.5,761.6 L279.5,761.6 L278.5,761.6 L277.5,761.6 L276.5,761.5 L275.5,761.5 L274.6,761.5 L273.6,761.5 L272.6,761.4 L271.6,761.4 L270.6,761.3 L269.6,761.3 L268.6,761.2 L267.6,761.1 L266.6,761.1 L265.6,761.0 L264.6,760.9 L263.7,760.8 L262.7,760.7 L261.7,760.6 L260.7,760.5 L259.7,760.4 L258.7,760.3 L257.7,760.2 L256.7,760.1 L255.7,760.0 L254.7,759.9 L253.8,759.8 L252.8,759.7 L251.8,759.6 L250.8,759.5 L249.8,759.3 L248.8,759.2 L247.8,759.1 L246.8,759.0 L245.8,758.8 L244.8,758.7 L243.8,758.6 L242.9,758.4 L241.9,758.3 L240.9,758.2 L239.9,758.0 L238.9,757.9 L237.9,757.7 L236.9,757.6 L235.9,757.4 L234.9,757.2 L233.9,757.0 L232.9,756.8 L232.0,756.6 L231.0,756.4 L230.0,756.2 L229.0,755.9 L228.0,755.7 L227.0,755.5 L226.0,755.2 L225.0,754.9 L224.0,754.7 L223.0,754.4 L222.1,754.1 L221.1,753.8 L220.1,753.5 L219.1,753.2 L218.1,752.9 L217.1,752.5 L216.1,752.2 L215.1,751.8 L214.1,751.5 L213.1,751.1 L212.1,750.8 L211.2,750.4 L210.2,750.0 L209.2,749.6 L208.2,749.2 L207.2,748.8 L206.2,748.4 L205.2,747.9 L204.2,747.5 L203.2,747.1 L202.2,746.6 L201.2,746.2 L200.3,745.7 L199.3,745.1 L198.3,744.6 L197.3,744.0 L196.3,743.3 L195.3,742.6 L194.3,741.9 L193.3,741.1 L192.3,740.3 L191.3,739.5 L190.4,738.6 L189.4,737.7 L188.4,736.8 L187.4,735.8 L186.4,734.8 L185.4,733.8 L184.4,732.8 L183.4,731.7 L182.4,730.6 L181.4,729.5 L180.4,728.3 L179.5,727.0 L178.5,725.5 L177.5,724.0 L176.5,722.4 L175.5,720.7 L174.5,719.0 L173.5,717.2 L172.5,715.4 L171.5,713.6 L170.5,711.8 L169.6,709.9 L168.6,708.1 L167.6,706.4 L166.6,704.7 L165.6,703.0 L164.6,701.3 L163.6,699.7 L162.6,698.0 L161.6,696.3 L160.6,694.6 L159.6,692.9 L158.7,691.2 L157.7,689.5 L156.7,687.8 L155.7,686.1 L154.7,684.5 L153.7,682.8 L152.7,681.2 L151.7,679.6 L150.7,678.0 L149.7,676.4 L148.7,674.8 L147.8,673.2 L146.8,671.5 L145.8,669.9 L144.8,668.3 L143.8,666.6 L142.8,665.0 L141.8,663.4 L140.8,661.8 L139.8,660.3 L138.8,658.7 L137.8,657.3 L136.9,655.9 L135.9,654.5 L134.9,653.2 L133.9,652.0 L132.9,650.9 L131.9,649.8 L130.9,648.8 L129.9,647.9 L128.9,646.9 L127.9,646.1 L127.0,645.2 L126.0,644.5 L125.0,643.7 L124.0,643.0 L123.0,642.4 L122.0,641.8Z" fill="#7570b3" fill-opacity="0.3" clip-path="url(#c1)"/>
<path d="M122.0,641.8 L123.0,641.8 L124.0,641.8 L125.0,641.8 L126.0,641.7 L127.0,641.7 L127.9,641.7 L128.9,641.7 L129.9,641.7 L130.9,641.7 L131.9,641.7 L132.9,641.7 L133.9,641.7 L134.9,641.7 L135.9,641.7 L136.9,641.7 L137.8,641.7 L138.8,641.7 L139.8,641.7 L140.8,641.7 L141.8,641.7 L142.8,641.6 L143.8,641.6 L144.8,641.6 L145.8,641.6 L146.8,641.6 L147.8,641.6 L148.7,641.6 L149.7,641.6 L150.7,641.6 L151.7,641.6 L152.7,641.6 L153.7,641.6 L154.7,641.6 L155.7,641.6 L156.7,641.6 L157.7,641.6 L158.7,641.6 L159.6,641.6 L160.6,641.6 L161.6,641.6 L162.6,641.6 L163.6,641.6 L164.6,641.6 L165.6,641.6 L166.6,641.6 L167.6,641.6 L168.6,641.6 L169.6,641.6 L170.5,641.6 L171.5,641.6 L172.5,641.6 L173.5,641.6 L174.5,641.6 L175.5,641.6 L176.5,641.7 L177.5,641.7 L178.5,641.7 L179.5,641.7 L180.4,641.7 L181.4,641.7 L182.4,641.7 L183.4,641.7 L184.4,641.7 L185.4,641.7 L186.4,641.7 L187.4,641.7 L188.4,641.7 L189.4,641.7 L190.4,641.7 L191.3,641.7 L192.3,641.7 L193.3,641.8 L194.3,641.8 L195.3,641.8 L196.3,641.8 L197.3,641.8 L198.3,641.8 L199.3,641.8 L200.3,641.8 L201.2,641.8 L202.2,641.8 L203.2,641.8 L204.2,641.8 L205.2,641.8 L206.2,641.8 L207.2,641.8 L208.2,641.8 L209.2,641.8 L210.2,641.8 L211.2,641.8 L212.1,641.8 L213.1,641.8 L214.1,641.8 L215.1,641.8 L216.1,641.8 L217.1,641.8 L218.1,641.8 L219.1,641.8 L220.1,641.8 L221.1,641.8 L222.1,641.8 L223.0,641.8 L224.0,641.8 L225.0,641.8 L226.0,641.8 L227.0,641.8 L228.0,641.8 L229.0,641.8 L230.0,641.8 L231.0,641.8 L232.0,641.8 L232.9,641.8 L233.9,641.8 L234.9,641.8 L235.9,641.8 L236.9,641.8 L237.9,641.8 L238.9,641.8 L239.9,641.8 L240.9,641.8 L241.9,641.8 L242.9,641.8 L243.8,641.8 L244.8,641.8 L245.8,641.8 L246.8,641.9 L247.8,641.9 L248.8,641.9 L249.8,641.9 L250.8,641.9 L251.8,641.9 L252.8,641.9 L253.8,641.9 L254.7,641.9 L255.7,641.9 L256.7,641.9 L257.7,641.9 L258.7,641.9 L259.7,641.9 L260.7,641.9 L261.7,641.9 L262.7,641.9 L263.7,641.9 L264.6,641.9 L265.6,641.9 L266.6,641.9 L267.6,641.9 L268.6,641.9 L269.6,641.9 L270.6,641.9 L271.6,641.9 L272.6,641.9 L273.6,641.9 L274.6,641.9 L275.5,641.9 L276.5,641.9 L277.5,641.9 L278.5,641.9 L279.5,641.9 L280.5,641.9 L280.5,645.6 L279.5,645.6 L278.5,645.6 L277.5,645.6 L276.5,645.5 L275.5,645.5 L274.6,645.5 L273.6,645.5 L272.6,645.5 L271.6,645.5 L270.6,645.4 L269.6,645.4 L268.6,645.4 L267.6,645.4 L266.6,645.4 L265.6,645.4 L264.6,645.3 L263.7,645.3 L262.7,645.3 L261.7,645.3 L260.7,645.3 L259.7,645.3 L258.7,645.2 L257.7,645.2 L256.7,645.2 L255.7,645.2 L254.7,645.2 L253.8,645.2 L252.8,645.1 L251.8,645.1 L250.8,645.1 L249.8,645.1 L248.8,645.1 L247.8,645.0 L246.8,645.0 L245.8,645.0 L244.8,645.0 L243.8,645.0 L242.9,645.0 L241.9,644.9 L240.9,644.9 L239.9,644.9 L238.9,644.9 L237.9,644.9 L236.9,644.9 L235.9,644.8 L234.9,644.8 L233.9,644.8 L232.9,644.8 L232.0,644.8 L231.0,644.8 L230.0,644.8 L229.0,644.7 L228.0,644.7 L227.0,644.7 L226.0,644.7 L225.0,644.7 L224.0,644.7 L223.0,644.6 L222.1,644.6 L221.1,644.6 L220.1,644.6 L219.1,644.6 L218.1,644.6 L217.1,644.5 L216.1,644.5 L215.1,644.5 L214.1,644.5 L213.1,644.5 L212.1,644.5 L211.2,644.4 L210.2,644.4 L209.2,644.4 L208.2,644.4 L207.2,644.4 L206.2,644.4 L205.2,644.3 L204.2,644.3 L203.2,644.3 L202.2,644.3 L201.2,644.3 L200.3,644.2 L199.3,644.2 L198.3,644.2 L197.3,644.2 L196.3,644.1 L195.3,644.1 L194.3,644.1 L193.3,644.1 L192.3,644.0 L191.3,644.0 L190.4,644.0 L189.4,644.0 L188.4,643.9 L187.4,643.9 L186.4,643.9 L185.4,643.8 L184.4,643.8 L183.4,643.8 L182.4,643.7 L181.4,643.7 L180.4,643.7 L179.5,643.7 L178.5,643.6 L177.5,643.6 L176.5,643.6 L175.5,643.5 L174.5,643.5 L173.5,643.5 L172.5,643.4 L171.5,643.4 L170.5,643.4 L169.6,643.3 L168.6,643.3 L167.6,643.3 L166.6,643.2 L165.6,643.2 L164.6,643.2 L163.6,643.2 L162.6,643.1 L161.6,643.1 L160.6,643.1 L159.6,643.0 L158.7,643.0 L157.7,643.0 L156.7,642.9 L155.7,642.9 L154.7,642.9 L153.7,642.8 L152.7,642.8 L151.7,642.8 L150.7,642.7 L149.7,642.7 L148.7,642.7 L147.8,642.6 L146.8,642.6 L145.8,642.6 L144.8,642.6 L143.8,642.5 L142.8,642.5 L141.8,642.5 L140.8,642.4 L139.8,642.4 L138.8,642.4 L137.8,642.3 L136.9,642.3 L135.9,642.3 L134.9,642.2 L133.9,642.2 L132.9,642.2 L131.9,642.1 L130.9,642.1 L129.9,642.1 L128.9,642.0 L127.9,642.0 L127.0,642.0 L126.0,641.9 L125.0,641.9 L124.0,641.8 L123.0,641.8 L122.0,641.8Z" fill="#e7298a" fill-opacity="0.155" clip-path="url(#c1)"/>
<path d="M122.0,641.8 L123.0,642.1 L124.0,642.4 L125.0,642.6 L126.0,642.9 L127.0,643.2 L127.9,643.5 L128.9,643.7 L129.9,644.0 L130.9,644.2 L131.9,644.5 L132.9,644.7 L133.9,645.0 L134.9,645.2 L135.9,645.4 L136.9,645.6 L137.8,645.8 L138.8,646.0 L139.8,646.2 L140.8,646.3 L141.8,646.5 L142.8,646.7 L143.8,646.8 L144.8,647.0 L145.8,647.2 L146.8,647.4 L147.8,647.7 L148.7,647.9 L149.7,648.2 L150.7,648.6 L151.7,649.0 L152.7,649.4 L153.7,649.8 L154.7,650.2 L155.7,650.7 L156.7,651.1 L157.7,651.6 L158.7,652.0 L159.6,652.4 L160.6,652.8 L161.6,653.2 L162.6,653.6 L163.6,654.0 L164.6,654.3 L165.6,654.7 L166.6,655.0 L167.6,655.4 L168.6,655.7 L169.6,656.1 L170.5,656.4 L171.5,656.7 L172.5,657.1 L173.5,657.4 L174.5,657.7 L175.5,658.0 L176.5,658.3 L177.5,658.7 L178.5,659.0 L179.5,659.3 L180.4,659.6 L181.4,659.8 L182.4,660.1 L183.4,660.4 L184.4,660.7 L185.4,661.0 L186.4,661.3 L187.4,661.6 L188.4,661.8 L189.4,662.1 L190.4,662.3 L191.3,662.6 L192.3,662.8 L193.3,663.1 L194.3,663.3 L195.3,663.6 L196.3,663.8 L197.3,664.1 L198.3,664.3 L199.3,664.6 L200.3,664.9 L201.2,665.2 L202.2,665.6 L203.2,666.0 L204.2,666.4 L205.2,666.8 L206.2,667.3 L207.2,667.7 L208.2,668.2 L209.2,668.7 L210.2,669.2 L211.2,669.7 L212.1,670.1 L213.1,670.6 L214.1,671.1 L215.1,671.5 L216.1,672.0 L217.1,672.4 L218.1,672.9 L219.1,673.3 L220.1,673.8 L221.1,674.2 L222.1,674.6 L223.0,675.1 L224.0,675.5 L225.0,675.9 L226.0,676.4 L227.0,676.8 L228.0,677.3 L229.0,677.7 L230.0,678.2 L231.0,678.6 L232.0,679.1 L232.9,679.6 L233.9,680.0 L234.9,680.5 L235.9,681.0 L236.9,681.4 L237.9,681.9 L238.9,682.3 L239.9,682.7 L240.9,683.1 L241.9,683.4 L242.9,683.8 L243.8,684.1 L244.8,684.4 L245.8,684.7 L246.8,684.9 L247.8,685.2 L248.8,685.5 L249.8,685.7 L250.8,686.0 L251.8,686.3 L252.8,686.6 L253.8,687.0 L254.7,687.3 L255.7,687.7 L256.7,688.1 L257.7,688.5 L258.7,689.0 L259.7,689.5 L260.7,689.9 L261.7,690.4 L262.7,690.9 L263.7,691.4 L264.6,691.8 L265.6,692.3 L266.6,692.7 L267.6,693.2 L268.6,693.6 L269.6,694.0 L270.6,694.4 L271.6,694.7 L272.6,695.1 L273.6,695.5 L274.6,695.9 L275.5,696.2 L276.5,696.6 L277.5,697.0 L278.5,697.3 L279.5,697.6 L280.5,698.0" fill="none" stroke="#d95f02" stroke-width="4.2" stroke-linejoin="round" stroke-linecap="butt" clip-path="url(#c1)"/>
<path d="M122.0,641.8 L123.0,642.4 L124.0,643.1 L125.0,643.9 L126.0,644.6 L127.0,645.3 L127.9,646.1 L128.9,646.9 L129.9,647.7 L130.9,648.6 L131.9,649.4 L132.9,650.3 L133.9,651.3 L134.9,652.2 L135.9,653.2 L136.9,654.3 L137.8,655.4 L138.8,656.5 L139.8,657.6 L140.8,658.8 L141.8,659.9 L142.8,661.1 L143.8,662.2 L144.8,663.3 L145.8,664.5 L146.8,665.7 L147.8,666.9 L148.7,668.1 L149.7,669.3 L150.7,670.6 L151.7,671.9 L152.7,673.2 L153.7,674.5 L154.7,675.9 L155.7,677.2 L156.7,678.5 L157.7,679.9 L158.7,681.3 L159.6,682.7 L160.6,684.1 L161.6,685.6 L162.6,687.1 L163.6,688.6 L164.6,690.2 L165.6,691.9 L166.6,693.5 L167.6,695.1 L168.6,696.7 L169.6,698.3 L170.5,699.9 L171.5,701.6 L172.5,703.2 L173.5,704.8 L174.5,706.4 L175.5,708.0 L176.5,709.6 L177.5,711.3 L178.5,712.9 L179.5,714.5 L180.4,716.0 L181.4,717.5 L182.4,718.9 L183.4,720.3 L184.4,721.6 L185.4,722.9 L186.4,724.2 L187.4,725.5 L188.4,726.8 L189.4,728.1 L190.4,729.3 L191.3,730.5 L192.3,731.7 L193.3,732.9 L194.3,733.9 L195.3,734.9 L196.3,735.9 L197.3,736.9 L198.3,737.8 L199.3,738.6 L200.3,739.4 L201.2,740.1 L202.2,740.8 L203.2,741.5 L204.2,742.1 L205.2,742.7 L206.2,743.2 L207.2,743.7 L208.2,744.2 L209.2,744.6 L210.2,745.1 L211.2,745.5 L212.1,745.8 L213.1,746.2 L214.1,746.6 L215.1,747.0 L216.1,747.4 L217.1,747.9 L218.1,748.3 L219.1,748.7 L220.1,749.2 L221.1,749.6 L222.1,750.0 L223.0,750.4 L224.0,750.8 L225.0,751.2 L226.0,751.6 L227.0,751.9 L228.0,752.3 L229.0,752.6 L230.0,752.9 L231.0,753.1 L232.0,753.4 L232.9,753.7 L233.9,753.9 L234.9,754.2 L235.9,754.4 L236.9,754.6 L237.9,754.8 L238.9,755.0 L239.9,755.2 L240.9,755.4 L241.9,755.6 L242.9,755.8 L243.8,756.0 L244.8,756.1 L245.8,756.3 L246.8,756.5 L247.8,756.6 L248.8,756.8 L249.8,756.9 L250.8,757.1 L251.8,757.2 L252.8,757.3 L253.8,757.4 L254.7,757.5 L255.7,757.6 L256.7,757.8 L257.7,757.9 L258.7,758.0 L259.7,758.1 L260.7,758.2 L261.7,758.3 L262.7,758.4 L263.7,758.5 L264.6,758.6 L265.6,758.6 L266.6,758.7 L267.6,758.8 L268.6,758.9 L269.6,759.0 L270.6,759.1 L271.6,759.1 L272.6,759.2 L273.6,759.3 L274.6,759.3 L275.5,759.4 L276.5,759.4 L277.5,759.5 L278.5,759.5 L279.5,759.6 L280.5,759.6" fill="none" stroke="#7570b3" stroke-width="4.2" stroke-linejoin="round" stroke-linecap="butt" clip-path="url(#c1)"/>
<path d="M122.0,641.8 L123.0,641.8 L124.0,641.8 L125.0,641.8 L126.0,641.8 L127.0,641.8 L127.9,641.8 L128.9,641.9 L129.9,641.9 L130.9,641.9 L131.9,641.9 L132.9,641.9 L133.9,641.9 L134.9,641.9 L135.9,641.9 L136.9,641.9 L137.8,641.9 L138.8,642.0 L139.8,642.0 L140.8,642.0 L141.8,642.0 L142.8,642.0 L143.8,642.0 L144.8,642.0 L145.8,642.0 L146.8,642.0 L147.8,642.1 L148.7,642.1 L149.7,642.1 L150.7,642.1 L151.7,642.1 L152.7,642.1 L153.7,642.1 L154.7,642.1 L155.7,642.2 L156.7,642.2 L157.7,642.2 L158.7,642.2 L159.6,642.2 L160.6,642.2 L161.6,642.2 L162.6,642.2 L163.6,642.2 L164.6,642.3 L165.6,642.3 L166.6,642.3 L167.6,642.3 L168.6,642.3 L169.6,642.3 L170.5,642.3 L171.5,642.4 L172.5,642.4 L173.5,642.4 L174.5,642.4 L175.5,642.4 L176.5,642.4 L177.5,642.4 L178.5,642.5 L179.5,642.5 L180.4,642.5 L181.4,642.5 L182.4,642.5 L183.4,642.5 L184.4,642.6 L185.4,642.6 L186.4,642.6 L187.4,642.6 L188.4,642.6 L189.4,642.6 L190.4,642.6 L191.3,642.7 L192.3,642.7 L193.3,642.7 L194.3,642.7 L195.3,642.7 L196.3,642.7 L197.3,642.7 L198.3,642.7 L199.3,642.7 L200.3,642.8 L201.2,642.8 L202.2,642.8 L203.2,642.8 L204.2,642.8 L205.2,642.8 L206.2,642.8 L207.2,642.8 L208.2,642.8 L209.2,642.8 L210.2,642.8 L211.2,642.9 L212.1,642.9 L213.1,642.9 L214.1,642.9 L215.1,642.9 L216.1,642.9 L217.1,642.9 L218.1,642.9 L219.1,642.9 L220.1,642.9 L221.1,642.9 L222.1,642.9 L223.0,642.9 L224.0,643.0 L225.0,643.0 L226.0,643.0 L227.0,643.0 L228.0,643.0 L229.0,643.0 L230.0,643.0 L231.0,643.0 L232.0,643.0 L232.9,643.0 L233.9,643.0 L234.9,643.0 L235.9,643.0 L236.9,643.0 L237.9,643.1 L238.9,643.1 L239.9,643.1 L240.9,643.1 L241.9,643.1 L242.9,643.1 L243.8,643.1 L244.8,643.1 L245.8,643.1 L246.8,643.1 L247.8,643.1 L248.8,643.1 L249.8,643.1 L250.8,643.2 L251.8,643.2 L252.8,643.2 L253.8,643.2 L254.7,643.2 L255.7,643.2 L256.7,643.2 L257.7,643.2 L258.7,643.2 L259.7,643.2 L260.7,643.2 L261.7,643.2 L262.7,643.2 L263.7,643.3 L264.6,643.3 L265.6,643.3 L266.6,643.3 L267.6,643.3 L268.6,643.3 L269.6,643.3 L270.6,643.3 L271.6,643.3 L272.6,643.3 L273.6,643.3 L274.6,643.3 L275.5,643.3 L276.5,643.4 L277.5,643.4 L278.5,643.4 L279.5,643.4 L280.5,643.4" fill="none" stroke="#e7298a" stroke-width="4.2" stroke-linejoin="round" stroke-linecap="butt" clip-path="url(#c1)"/>
<line x1="122.00" y1="641.78" x2="280.50" y2="641.78" stroke="#000" stroke-width="2.6"/>
<rect x="122.00" y="610.90" width="158.50" height="154.40" fill="none" stroke="#000" stroke-width="2.0"/>
<line x1="111.70" y1="641.78" x2="122.00" y2="641.78" stroke="#000" stroke-width="2.0"/>
<g font-size="17.7" fill="#111"><text transform="translate(90.33,647.98) scale(1.131,1)">0</text></g>
<line x1="111.70" y1="703.54" x2="122.00" y2="703.54" stroke="#000" stroke-width="2.0"/>
<g font-size="17.7" fill="#111"><text transform="translate(65.21,709.74) scale(1.300,1)">−</text><text transform="translate(79.26,709.74) scale(1.131,1)">5</text><text transform="translate(90.40,709.74) scale(1.131,1)">0</text></g>
<line x1="111.70" y1="765.30" x2="122.00" y2="765.30" stroke="#000" stroke-width="2.0"/>
<g font-size="17.7" fill="#111"><text transform="translate(54.01,771.50) scale(1.300,1)">−</text><text transform="translate(68.06,771.50) scale(1.131,1)">1</text><text transform="translate(79.20,771.50) scale(1.131,1)">0</text><text transform="translate(90.33,771.50) scale(1.131,1)">0</text></g>
<line x1="181.44" y1="765.30" x2="181.44" y2="775.60" stroke="#000" stroke-width="2.0"/>
<line x1="280.50" y1="765.30" x2="280.50" y2="775.60" stroke="#000" stroke-width="2.0"/>
<g font-size="17.7" fill="#111"><text transform="translate(137.81,601.50) scale(1.024,1)">N</text><text transform="translate(150.90,601.50) scale(1.088,1)">o</text><text transform="translate(161.61,601.50) scale(1.221,1)">r</text><text transform="translate(169.04,601.50) scale(1.300,1)">t</text><text transform="translate(175.67,601.50) scale(1.127,1)">h</text><text transform="translate(192.32,601.50) scale(1.014,1)">A</text><text transform="translate(204.29,601.50) scale(1.156,1)">m</text><text transform="translate(221.34,601.50) scale(1.094,1)">e</text><text transform="translate(232.10,601.50) scale(1.221,1)">r</text><text transform="translate(239.30,601.50) scale(1.236,1)">i</text><text transform="translate(244.16,601.50) scale(1.087,1)">c</text><text transform="translate(253.78,601.50) scale(1.090,1)">a</text></g>
<g font-size="24.4" fill="#111" font-weight="bold" style="stroke-width:0.7px"><text transform="translate(131.05,633.70) scale(1.000,1)">b</text></g>
<path d="M312.2,641.8 L313.2,641.2 L314.2,640.6 L315.2,640.0 L316.2,639.5 L317.2,638.9 L318.2,638.5 L319.2,638.0 L320.2,637.6 L321.2,637.2 L322.2,636.8 L323.1,636.5 L324.1,636.2 L325.1,635.8 L326.1,635.5 L327.1,635.2 L328.1,634.9 L329.1,634.7 L330.1,634.5 L331.1,634.4 L332.1,634.4 L333.1,634.4 L334.0,634.6 L335.0,634.9 L336.0,635.3 L337.0,635.8 L338.0,636.2 L339.0,636.7 L340.0,637.2 L341.0,637.7 L342.0,638.1 L343.0,638.5 L343.9,638.9 L344.9,639.3 L345.9,639.7 L346.9,640.1 L347.9,640.5 L348.9,640.9 L349.9,641.3 L350.9,641.6 L351.9,641.8 L352.9,642.0 L353.9,642.2 L354.8,642.3 L355.8,642.5 L356.8,642.7 L357.8,642.8 L358.8,642.9 L359.8,643.1 L360.8,643.2 L361.8,643.3 L362.8,643.4 L363.8,643.6 L364.8,643.7 L365.7,643.8 L366.7,643.8 L367.7,643.9 L368.7,644.0 L369.7,644.1 L370.7,644.2 L371.7,644.3 L372.7,644.3 L373.7,644.4 L374.7,644.5 L375.6,644.5 L376.6,644.6 L377.6,644.7 L378.6,644.7 L379.6,644.8 L380.6,644.9 L381.6,644.9 L382.6,645.0 L383.6,645.0 L384.6,645.1 L385.6,645.1 L386.5,645.2 L387.5,645.2 L388.5,645.2 L389.5,645.2 L390.5,645.2 L391.5,645.2 L392.5,645.2 L393.5,645.2 L394.5,645.2 L395.5,645.2 L396.5,645.2 L397.4,645.2 L398.4,645.2 L399.4,645.2 L400.4,645.2 L401.4,645.2 L402.4,645.2 L403.4,645.2 L404.4,645.2 L405.4,645.2 L406.4,645.2 L407.4,645.2 L408.3,645.2 L409.3,645.2 L410.3,645.2 L411.3,645.2 L412.3,645.2 L413.3,645.2 L414.3,645.2 L415.3,645.2 L416.3,645.2 L417.3,645.2 L418.2,645.2 L419.2,645.2 L420.2,645.2 L421.2,645.2 L422.2,645.2 L423.2,645.2 L424.2,645.2 L425.2,645.2 L426.2,645.2 L427.2,645.2 L428.2,645.2 L429.1,645.2 L430.1,645.2 L431.1,645.2 L432.1,645.2 L433.1,645.2 L434.1,645.2 L435.1,645.2 L436.1,645.2 L437.1,645.2 L438.1,645.2 L439.1,645.2 L440.0,645.2 L441.0,645.2 L442.0,645.2 L443.0,645.2 L444.0,645.2 L445.0,645.2 L446.0,645.2 L447.0,645.2 L448.0,645.2 L449.0,645.2 L449.9,645.2 L450.9,645.2 L451.9,645.2 L452.9,645.2 L453.9,645.2 L454.9,645.2 L455.9,645.2 L456.9,645.2 L457.9,645.2 L458.9,645.2 L459.9,645.2 L460.8,645.2 L461.8,645.2 L462.8,645.2 L463.8,645.2 L464.8,645.2 L465.8,645.2 L466.8,645.2 L467.8,645.2 L468.8,645.2 L469.8,645.2 L470.8,645.2 L470.8,725.2 L469.8,724.8 L468.8,724.4 L467.8,724.1 L466.8,723.7 L465.8,723.3 L464.8,722.9 L463.8,722.6 L462.8,722.2 L461.8,721.8 L460.8,721.4 L459.9,721.0 L458.9,720.5 L457.9,720.1 L456.9,719.7 L455.9,719.3 L454.9,718.9 L453.9,718.4 L452.9,718.0 L451.9,717.5 L450.9,717.1 L449.9,716.7 L449.0,716.2 L448.0,715.7 L447.0,715.3 L446.0,714.8 L445.0,714.4 L444.0,713.9 L443.0,713.4 L442.0,712.9 L441.0,712.4 L440.0,711.9 L439.1,711.3 L438.1,710.8 L437.1,710.2 L436.1,709.7 L435.1,709.1 L434.1,708.5 L433.1,708.0 L432.1,707.4 L431.1,706.8 L430.1,706.2 L429.1,705.7 L428.2,705.1 L427.2,704.5 L426.2,704.0 L425.2,703.4 L424.2,702.9 L423.2,702.3 L422.2,701.8 L421.2,701.2 L420.2,700.7 L419.2,700.2 L418.2,699.7 L417.3,699.2 L416.3,698.7 L415.3,698.3 L414.3,697.8 L413.3,697.3 L412.3,696.9 L411.3,696.4 L410.3,696.0 L409.3,695.5 L408.3,695.1 L407.4,694.7 L406.4,694.2 L405.4,693.8 L404.4,693.4 L403.4,692.9 L402.4,692.5 L401.4,692.1 L400.4,691.6 L399.4,691.2 L398.4,690.8 L397.4,690.4 L396.5,689.9 L395.5,689.5 L394.5,689.0 L393.5,688.6 L392.5,688.2 L391.5,687.7 L390.5,687.3 L389.5,686.8 L388.5,686.4 L387.5,685.9 L386.5,685.5 L385.6,685.1 L384.6,684.6 L383.6,684.2 L382.6,683.8 L381.6,683.3 L380.6,682.9 L379.6,682.5 L378.6,682.0 L377.6,681.6 L376.6,681.2 L375.6,680.7 L374.7,680.3 L373.7,679.9 L372.7,679.4 L371.7,679.0 L370.7,678.6 L369.7,678.1 L368.7,677.7 L367.7,677.2 L366.7,676.8 L365.7,676.3 L364.8,675.9 L363.8,675.4 L362.8,675.0 L361.8,674.5 L360.8,674.0 L359.8,673.5 L358.8,673.1 L357.8,672.6 L356.8,672.1 L355.8,671.6 L354.8,671.1 L353.9,670.6 L352.9,670.1 L351.9,669.6 L350.9,669.1 L349.9,668.5 L348.9,668.0 L347.9,667.5 L346.9,666.9 L345.9,666.4 L344.9,665.8 L343.9,665.2 L343.0,664.7 L342.0,664.1 L341.0,663.5 L340.0,662.9 L339.0,662.3 L338.0,661.7 L337.0,661.1 L336.0,660.5 L335.0,659.8 L334.0,659.2 L333.1,658.5 L332.1,657.8 L331.1,657.2 L330.1,656.5 L329.1,655.7 L328.1,655.0 L327.1,654.3 L326.1,653.5 L325.1,652.8 L324.1,652.0 L323.1,651.2 L322.2,650.4 L321.2,649.6 L320.2,648.8 L319.2,647.9 L318.2,647.1 L317.2,646.2 L316.2,645.3 L315.2,644.5 L314.2,643.6 L313.2,642.7 L312.2,641.8Z" fill="#d95f02" fill-opacity="0.155" clip-path="url(#c2)"/>
<path d="M312.2,641.8 L313.2,641.9 L314.2,642.0 L315.2,642.1 L316.2,642.2 L317.2,642.4 L318.2,642.5 L319.2,642.6 L320.2,642.7 L321.2,642.8 L322.2,643.0 L323.1,643.1 L324.1,643.2 L325.1,643.3 L326.1,643.5 L327.1,643.6 L328.1,643.7 L329.1,643.9 L330.1,644.0 L331.1,644.1 L332.1,644.3 L333.1,644.4 L334.0,644.5 L335.0,644.7 L336.0,644.8 L337.0,645.0 L338.0,645.1 L339.0,645.3 L340.0,645.5 L341.0,645.6 L342.0,645.8 L343.0,645.9 L343.9,646.1 L344.9,646.2 L345.9,646.4 L346.9,646.5 L347.9,646.7 L348.9,646.8 L349.9,647.0 L350.9,647.1 L351.9,647.2 L352.9,647.3 L353.9,647.4 L354.8,647.5 L355.8,647.7 L356.8,647.8 L357.8,647.8 L358.8,647.9 L359.8,648.0 L360.8,648.1 L361.8,648.2 L362.8,648.3 L363.8,648.4 L364.8,648.5 L365.7,648.5 L366.7,648.6 L367.7,648.7 L368.7,648.8 L369.7,648.8 L370.7,648.9 L371.7,649.0 L372.7,649.1 L373.7,649.1 L374.7,649.2 L375.6,649.3 L376.6,649.4 L377.6,649.5 L378.6,649.5 L379.6,649.6 L380.6,649.7 L381.6,649.8 L382.6,649.9 L383.6,650.0 L384.6,650.1 L385.6,650.2 L386.5,650.3 L387.5,650.4 L388.5,650.6 L389.5,650.7 L390.5,650.8 L391.5,651.0 L392.5,651.1 L393.5,651.3 L394.5,651.4 L395.5,651.6 L396.5,651.9 L397.4,652.1 L398.4,652.3 L399.4,652.6 L400.4,652.9 L401.4,653.1 L402.4,653.4 L403.4,653.7 L404.4,654.0 L405.4,654.3 L406.4,654.6 L407.4,654.9 L408.3,655.2 L409.3,655.5 L410.3,655.8 L411.3,656.0 L412.3,656.3 L413.3,656.6 L414.3,656.8 L415.3,657.1 L416.3,657.3 L417.3,657.5 L418.2,657.7 L419.2,657.9 L420.2,658.1 L421.2,658.2 L422.2,658.4 L423.2,658.6 L424.2,658.7 L425.2,658.9 L426.2,659.0 L427.2,659.1 L428.2,659.3 L429.1,659.4 L430.1,659.6 L431.1,659.7 L432.1,659.8 L433.1,659.9 L434.1,660.1 L435.1,660.2 L436.1,660.3 L437.1,660.5 L438.1,660.6 L439.1,660.8 L440.0,660.9 L441.0,661.1 L442.0,661.2 L443.0,661.4 L444.0,661.6 L445.0,661.7 L446.0,661.9 L447.0,662.1 L448.0,662.3 L449.0,662.5 L449.9,662.7 L450.9,662.9 L451.9,663.1 L452.9,663.3 L453.9,663.5 L454.9,663.7 L455.9,663.9 L456.9,664.1 L457.9,664.4 L458.9,664.6 L459.9,664.8 L460.8,665.0 L461.8,665.3 L462.8,665.5 L463.8,665.7 L464.8,666.0 L465.8,666.2 L466.8,666.5 L467.8,666.7 L468.8,667.0 L469.8,667.2 L470.8,667.5 L470.8,711.6 L469.8,711.1 L468.8,710.7 L467.8,710.2 L466.8,709.8 L465.8,709.3 L464.8,708.9 L463.8,708.4 L462.8,708.0 L461.8,707.5 L460.8,707.1 L459.9,706.6 L458.9,706.2 L457.9,705.7 L456.9,705.3 L455.9,704.8 L454.9,704.4 L453.9,703.9 L452.9,703.5 L451.9,703.0 L450.9,702.6 L449.9,702.1 L449.0,701.7 L448.0,701.2 L447.0,700.8 L446.0,700.3 L445.0,699.9 L444.0,699.4 L443.0,699.0 L442.0,698.5 L441.0,698.1 L440.0,697.6 L439.1,697.2 L438.1,696.7 L437.1,696.3 L436.1,695.8 L435.1,695.4 L434.1,694.9 L433.1,694.5 L432.1,694.0 L431.1,693.6 L430.1,693.1 L429.1,692.7 L428.2,692.2 L427.2,691.8 L426.2,691.3 L425.2,690.9 L424.2,690.5 L423.2,690.1 L422.2,689.6 L421.2,689.2 L420.2,688.8 L419.2,688.4 L418.2,688.0 L417.3,687.6 L416.3,687.2 L415.3,686.8 L414.3,686.4 L413.3,686.0 L412.3,685.6 L411.3,685.3 L410.3,684.9 L409.3,684.5 L408.3,684.2 L407.4,683.8 L406.4,683.4 L405.4,683.1 L404.4,682.7 L403.4,682.3 L402.4,682.0 L401.4,681.6 L400.4,681.3 L399.4,680.9 L398.4,680.6 L397.4,680.2 L396.5,679.8 L395.5,679.5 L394.5,679.1 L393.5,678.7 L392.5,678.4 L391.5,678.0 L390.5,677.6 L389.5,677.3 L388.5,676.9 L387.5,676.5 L386.5,676.2 L385.6,675.8 L384.6,675.4 L383.6,675.1 L382.6,674.7 L381.6,674.3 L380.6,674.0 L379.6,673.6 L378.6,673.3 L377.6,672.9 L376.6,672.5 L375.6,672.2 L374.7,671.8 L373.7,671.4 L372.7,671.1 L371.7,670.7 L370.7,670.3 L369.7,670.0 L368.7,669.6 L367.7,669.2 L366.7,668.9 L365.7,668.5 L364.8,668.1 L363.8,667.7 L362.8,667.4 L361.8,667.0 L360.8,666.6 L359.8,666.2 L358.8,665.8 L357.8,665.4 L356.8,665.0 L355.8,664.6 L354.8,664.2 L353.9,663.8 L352.9,663.4 L351.9,663.0 L350.9,662.6 L349.9,662.2 L348.9,661.8 L347.9,661.4 L346.9,661.0 L345.9,660.5 L344.9,660.1 L343.9,659.7 L343.0,659.3 L342.0,658.8 L341.0,658.4 L340.0,658.0 L339.0,657.5 L338.0,657.1 L337.0,656.6 L336.0,656.1 L335.0,655.6 L334.0,655.1 L333.1,654.6 L332.1,654.1 L331.1,653.6 L330.1,653.1 L329.1,652.5 L328.1,652.0 L327.1,651.4 L326.1,650.8 L325.1,650.2 L324.1,649.6 L323.1,649.0 L322.2,648.4 L321.2,647.8 L320.2,647.2 L319.2,646.5 L318.2,645.9 L317.2,645.2 L316.2,644.5 L315.2,643.9 L314.2,643.2 L313.2,642.5 L312.2,641.8Z" fill="#d95f02" fill-opacity="0.3" clip-path="url(#c2)"/>
<path d="M312.2,641.8 L313.2,642.2 L314.2,642.7 L315.2,643.1 L316.2,643.6 L317.2,644.0 L318.2,644.5 L319.2,645.0 L320.2,645.4 L321.2,645.9 L322.2,646.4 L323.1,646.9 L324.1,647.4 L325.1,647.9 L326.1,648.5 L327.1,649.0 L328.1,649.5 L329.1,650.0 L330.1,650.6 L331.1,651.1 L332.1,651.7 L333.1,652.2 L334.0,652.8 L335.0,653.3 L336.0,653.9 L337.0,654.5 L338.0,655.1 L339.0,655.7 L340.0,656.3 L341.0,656.9 L342.0,657.5 L343.0,658.1 L343.9,658.8 L344.9,659.4 L345.9,660.1 L346.9,660.7 L347.9,661.4 L348.9,662.0 L349.9,662.7 L350.9,663.3 L351.9,664.0 L352.9,664.7 L353.9,665.4 L354.8,666.1 L355.8,666.8 L356.8,667.6 L357.8,668.3 L358.8,669.1 L359.8,669.9 L360.8,670.6 L361.8,671.4 L362.8,672.2 L363.8,673.0 L364.8,673.7 L365.7,674.5 L366.7,675.2 L367.7,676.0 L368.7,676.7 L369.7,677.4 L370.7,678.1 L371.7,678.8 L372.7,679.5 L373.7,680.2 L374.7,680.8 L375.6,681.4 L376.6,682.0 L377.6,682.6 L378.6,683.2 L379.6,683.8 L380.6,684.4 L381.6,685.0 L382.6,685.6 L383.6,686.1 L384.6,686.7 L385.6,687.4 L386.5,688.0 L387.5,688.6 L388.5,689.3 L389.5,689.9 L390.5,690.6 L391.5,691.4 L392.5,692.1 L393.5,692.9 L394.5,693.7 L395.5,694.5 L396.5,695.3 L397.4,696.2 L398.4,697.1 L399.4,698.0 L400.4,698.9 L401.4,699.9 L402.4,700.9 L403.4,701.8 L404.4,702.8 L405.4,703.9 L406.4,704.9 L407.4,706.1 L408.3,707.2 L409.3,708.4 L410.3,709.6 L411.3,710.9 L412.3,712.1 L413.3,713.4 L414.3,714.6 L415.3,715.9 L416.3,717.1 L417.3,718.3 L418.2,719.5 L419.2,720.6 L420.2,721.8 L421.2,722.9 L422.2,724.1 L423.2,725.3 L424.2,726.4 L425.2,727.5 L426.2,728.6 L427.2,729.7 L428.2,730.8 L429.1,731.8 L430.1,732.8 L431.1,733.7 L432.1,734.7 L433.1,735.5 L434.1,736.4 L435.1,737.3 L436.1,738.1 L437.1,739.0 L438.1,739.8 L439.1,740.5 L440.0,741.3 L441.0,742.0 L442.0,742.7 L443.0,743.4 L444.0,744.1 L445.0,744.7 L446.0,745.3 L447.0,745.8 L448.0,746.4 L449.0,746.9 L449.9,747.5 L450.9,748.0 L451.9,748.5 L452.9,748.9 L453.9,749.4 L454.9,749.8 L455.9,750.2 L456.9,750.7 L457.9,751.0 L458.9,751.4 L459.9,751.8 L460.8,752.2 L461.8,752.5 L462.8,752.9 L463.8,753.2 L464.8,753.5 L465.8,753.8 L466.8,754.1 L467.8,754.4 L468.8,754.7 L469.8,754.9 L470.8,755.2 L470.8,763.6 L469.8,763.6 L468.8,763.6 L467.8,763.5 L466.8,763.5 L465.8,763.5 L464.8,763.5 L463.8,763.4 L462.8,763.4 L461.8,763.4 L460.8,763.3 L459.9,763.3 L458.9,763.2 L457.9,763.1 L456.9,763.1 L455.9,763.0 L454.9,762.9 L453.9,762.8 L452.9,762.7 L451.9,762.7 L450.9,762.6 L449.9,762.5 L449.0,762.4 L448.0,762.2 L447.0,762.1 L446.0,762.0 L445.0,761.9 L444.0,761.8 L443.0,761.7 L442.0,761.5 L441.0,761.4 L440.0,761.3 L439.1,761.1 L438.1,761.0 L437.1,760.8 L436.1,760.7 L435.1,760.5 L434.1,760.4 L433.1,760.2 L432.1,760.0 L431.1,759.9 L430.1,759.7 L429.1,759.5 L428.2,759.4 L427.2,759.2 L426.2,759.0 L425.2,758.8 L424.2,758.7 L423.2,758.5 L422.2,758.3 L421.2,758.1 L420.2,757.9 L419.2,757.7 L418.2,757.5 L417.3,757.3 L416.3,757.1 L415.3,756.8 L414.3,756.6 L413.3,756.3 L412.3,755.9 L411.3,755.6 L410.3,755.2 L409.3,754.9 L408.3,754.5 L407.4,754.1 L406.4,753.6 L405.4,753.2 L404.4,752.7 L403.4,752.2 L402.4,751.7 L401.4,751.2 L400.4,750.6 L399.4,750.1 L398.4,749.5 L397.4,748.9 L396.5,748.3 L395.5,747.7 L394.5,747.1 L393.5,746.5 L392.5,745.8 L391.5,745.1 L390.5,744.5 L389.5,743.8 L388.5,743.1 L387.5,742.3 L386.5,741.5 L385.6,740.6 L384.6,739.7 L383.6,738.7 L382.6,737.6 L381.6,736.5 L380.6,735.4 L379.6,734.1 L378.6,732.9 L377.6,731.6 L376.6,730.3 L375.6,729.0 L374.7,727.6 L373.7,726.2 L372.7,724.8 L371.7,723.4 L370.7,722.0 L369.7,720.6 L368.7,719.2 L367.7,717.7 L366.7,716.3 L365.7,714.8 L364.8,713.2 L363.8,711.6 L362.8,709.9 L361.8,708.2 L360.8,706.4 L359.8,704.7 L358.8,702.9 L357.8,701.1 L356.8,699.3 L355.8,697.6 L354.8,695.9 L353.9,694.3 L352.9,692.7 L351.9,691.2 L350.9,689.7 L349.9,688.3 L348.9,686.9 L347.9,685.6 L346.9,684.3 L345.9,683.0 L344.9,681.7 L343.9,680.4 L343.0,679.2 L342.0,677.9 L341.0,676.7 L340.0,675.5 L339.0,674.3 L338.0,673.1 L337.0,671.9 L336.0,670.7 L335.0,669.5 L334.0,668.3 L333.1,667.1 L332.1,665.9 L331.1,664.6 L330.1,663.4 L329.1,662.2 L328.1,661.0 L327.1,659.7 L326.1,658.5 L325.1,657.3 L324.1,656.1 L323.1,654.9 L322.2,653.7 L321.2,652.5 L320.2,651.3 L319.2,650.1 L318.2,648.9 L317.2,647.7 L316.2,646.5 L315.2,645.3 L314.2,644.1 L313.2,643.0 L312.2,641.8Z" fill="#7570b3" fill-opacity="0.155" clip-path="url(#c2)"/>
<path d="M312.2,641.8 L313.2,642.3 L314.2,642.9 L315.2,643.4 L316.2,644.0 L317.2,644.6 L318.2,645.2 L319.2,645.8 L320.2,646.4 L321.2,647.0 L322.2,647.6 L323.1,648.2 L324.1,648.8 L325.1,649.5 L326.1,650.1 L327.1,650.8 L328.1,651.4 L329.1,652.1 L330.1,652.8 L331.1,653.4 L332.1,654.1 L333.1,654.8 L334.0,655.5 L335.0,656.2 L336.0,656.9 L337.0,657.7 L338.0,658.4 L339.0,659.2 L340.0,659.9 L341.0,660.7 L342.0,661.4 L343.0,662.2 L343.9,663.0 L344.9,663.8 L345.9,664.6 L346.9,665.4 L347.9,666.2 L348.9,667.0 L349.9,667.9 L350.9,668.7 L351.9,669.6 L352.9,670.4 L353.9,671.3 L354.8,672.2 L355.8,673.1 L356.8,674.1 L357.8,675.0 L358.8,676.0 L359.8,676.9 L360.8,677.9 L361.8,678.9 L362.8,679.8 L363.8,680.8 L364.8,681.8 L365.7,682.8 L366.7,683.8 L367.7,684.8 L368.7,685.8 L369.7,686.7 L370.7,687.7 L371.7,688.7 L372.7,689.6 L373.7,690.6 L374.7,691.5 L375.6,692.4 L376.6,693.3 L377.6,694.2 L378.6,695.1 L379.6,696.0 L380.6,696.8 L381.6,697.7 L382.6,698.6 L383.6,699.5 L384.6,700.3 L385.6,701.2 L386.5,702.2 L387.5,703.1 L388.5,704.0 L389.5,705.0 L390.5,706.0 L391.5,707.0 L392.5,708.0 L393.5,709.1 L394.5,710.2 L395.5,711.4 L396.5,712.6 L397.4,713.8 L398.4,715.0 L399.4,716.3 L400.4,717.5 L401.4,718.8 L402.4,720.0 L403.4,721.2 L404.4,722.4 L405.4,723.5 L406.4,724.7 L407.4,725.8 L408.3,727.0 L409.3,728.2 L410.3,729.3 L411.3,730.5 L412.3,731.6 L413.3,732.8 L414.3,733.8 L415.3,734.9 L416.3,735.9 L417.3,736.9 L418.2,737.9 L419.2,738.8 L420.2,739.7 L421.2,740.6 L422.2,741.5 L423.2,742.3 L424.2,743.2 L425.2,744.0 L426.2,744.8 L427.2,745.5 L428.2,746.3 L429.1,747.0 L430.1,747.6 L431.1,748.3 L432.1,748.9 L433.1,749.5 L434.1,750.0 L435.1,750.6 L436.1,751.2 L437.1,751.7 L438.1,752.2 L439.1,752.7 L440.0,753.2 L441.0,753.7 L442.0,754.1 L443.0,754.4 L444.0,754.7 L445.0,755.0 L446.0,755.3 L447.0,755.6 L448.0,755.9 L449.0,756.1 L449.9,756.4 L450.9,756.7 L451.9,756.9 L452.9,757.2 L453.9,757.4 L454.9,757.6 L455.9,757.9 L456.9,758.1 L457.9,758.3 L458.9,758.5 L459.9,758.7 L460.8,758.8 L461.8,759.0 L462.8,759.2 L463.8,759.3 L464.8,759.4 L465.8,759.5 L466.8,759.6 L467.8,759.7 L468.8,759.7 L469.8,759.7 L470.8,759.7 L470.8,762.3 L469.8,762.3 L468.8,762.3 L467.8,762.2 L466.8,762.2 L465.8,762.2 L464.8,762.1 L463.8,762.1 L462.8,762.0 L461.8,761.9 L460.8,761.9 L459.9,761.8 L458.9,761.7 L457.9,761.6 L456.9,761.5 L455.9,761.4 L454.9,761.3 L453.9,761.2 L452.9,761.1 L451.9,761.0 L450.9,760.9 L449.9,760.8 L449.0,760.7 L448.0,760.6 L447.0,760.5 L446.0,760.4 L445.0,760.3 L444.0,760.2 L443.0,760.0 L442.0,759.9 L441.0,759.8 L440.0,759.6 L439.1,759.5 L438.1,759.4 L437.1,759.2 L436.1,759.0 L435.1,758.9 L434.1,758.7 L433.1,758.5 L432.1,758.3 L431.1,758.1 L430.1,757.9 L429.1,757.7 L428.2,757.5 L427.2,757.3 L426.2,757.0 L425.2,756.8 L424.2,756.5 L423.2,756.3 L422.2,756.0 L421.2,755.8 L420.2,755.5 L419.2,755.2 L418.2,754.9 L417.3,754.6 L416.3,754.3 L415.3,753.9 L414.3,753.6 L413.3,753.2 L412.3,752.8 L411.3,752.3 L410.3,751.9 L409.3,751.4 L408.3,750.9 L407.4,750.4 L406.4,749.9 L405.4,749.3 L404.4,748.8 L403.4,748.2 L402.4,747.6 L401.4,747.0 L400.4,746.4 L399.4,745.7 L398.4,745.1 L397.4,744.4 L396.5,743.7 L395.5,743.0 L394.5,742.3 L393.5,741.6 L392.5,740.9 L391.5,740.1 L390.5,739.4 L389.5,738.5 L388.5,737.7 L387.5,736.8 L386.5,735.8 L385.6,734.9 L384.6,733.8 L383.6,732.8 L382.6,731.7 L381.6,730.6 L380.6,729.5 L379.6,728.3 L378.6,727.2 L377.6,726.0 L376.6,724.8 L375.6,723.5 L374.7,722.3 L373.7,721.0 L372.7,719.7 L371.7,718.4 L370.7,717.1 L369.7,715.8 L368.7,714.4 L367.7,712.9 L366.7,711.4 L365.7,709.8 L364.8,708.1 L363.8,706.5 L362.8,704.8 L361.8,703.1 L360.8,701.4 L359.8,699.7 L358.8,698.0 L357.8,696.3 L356.8,694.7 L355.8,693.2 L354.8,691.7 L353.9,690.3 L352.9,688.9 L351.9,687.6 L350.9,686.2 L349.9,684.9 L348.9,683.6 L347.9,682.4 L346.9,681.1 L345.9,679.8 L344.9,678.6 L343.9,677.4 L343.0,676.2 L342.0,675.0 L341.0,673.8 L340.0,672.6 L339.0,671.5 L338.0,670.3 L337.0,669.1 L336.0,668.0 L335.0,666.8 L334.0,665.7 L333.1,664.5 L332.1,663.4 L331.1,662.3 L330.1,661.1 L329.1,660.0 L328.1,658.9 L327.1,657.7 L326.1,656.6 L325.1,655.5 L324.1,654.4 L323.1,653.3 L322.2,652.3 L321.2,651.2 L320.2,650.1 L319.2,649.0 L318.2,648.0 L317.2,646.9 L316.2,645.9 L315.2,644.8 L314.2,643.8 L313.2,642.8 L312.2,641.8Z" fill="#7570b3" fill-opacity="0.3" clip-path="url(#c2)"/>
<path d="M312.2,641.8 L313.2,641.8 L314.2,641.8 L315.2,641.7 L316.2,641.7 L317.2,641.7 L318.2,641.7 L319.2,641.7 L320.2,641.7 L321.2,641.7 L322.2,641.7 L323.1,641.6 L324.1,641.6 L325.1,641.6 L326.1,641.6 L327.1,641.6 L328.1,641.6 L329.1,641.6 L330.1,641.6 L331.1,641.6 L332.1,641.6 L333.1,641.5 L334.0,641.5 L335.0,641.5 L336.0,641.5 L337.0,641.5 L338.0,641.5 L339.0,641.5 L340.0,641.5 L341.0,641.5 L342.0,641.5 L343.0,641.5 L343.9,641.5 L344.9,641.5 L345.9,641.5 L346.9,641.5 L347.9,641.4 L348.9,641.4 L349.9,641.4 L350.9,641.4 L351.9,641.4 L352.9,641.4 L353.9,641.4 L354.8,641.4 L355.8,641.4 L356.8,641.4 L357.8,641.4 L358.8,641.4 L359.8,641.4 L360.8,641.4 L361.8,641.4 L362.8,641.4 L363.8,641.4 L364.8,641.4 L365.7,641.4 L366.7,641.4 L367.7,641.4 L368.7,641.4 L369.7,641.4 L370.7,641.4 L371.7,641.4 L372.7,641.4 L373.7,641.4 L374.7,641.4 L375.6,641.4 L376.6,641.4 L377.6,641.4 L378.6,641.4 L379.6,641.4 L380.6,641.4 L381.6,641.4 L382.6,641.4 L383.6,641.4 L384.6,641.4 L385.6,641.4 L386.5,641.4 L387.5,641.4 L388.5,641.4 L389.5,641.4 L390.5,641.4 L391.5,641.4 L392.5,641.4 L393.5,641.4 L394.5,641.4 L395.5,641.4 L396.5,641.4 L397.4,641.4 L398.4,641.4 L399.4,641.4 L400.4,641.4 L401.4,641.4 L402.4,641.4 L403.4,641.4 L404.4,641.4 L405.4,641.4 L406.4,641.4 L407.4,641.4 L408.3,641.4 L409.3,641.4 L410.3,641.4 L411.3,641.4 L412.3,641.4 L413.3,641.4 L414.3,641.4 L415.3,641.4 L416.3,641.4 L417.3,641.4 L418.2,641.4 L419.2,641.4 L420.2,641.4 L421.2,641.4 L422.2,641.4 L423.2,641.4 L424.2,641.4 L425.2,641.4 L426.2,641.4 L427.2,641.4 L428.2,641.4 L429.1,641.4 L430.1,641.3 L431.1,641.3 L432.1,641.3 L433.1,641.3 L434.1,641.3 L435.1,641.3 L436.1,641.3 L437.1,641.3 L438.1,641.3 L439.1,641.3 L440.0,641.3 L441.0,641.3 L442.0,641.3 L443.0,641.3 L444.0,641.3 L445.0,641.3 L446.0,641.3 L447.0,641.3 L448.0,641.3 L449.0,641.3 L449.9,641.3 L450.9,641.3 L451.9,641.3 L452.9,641.3 L453.9,641.3 L454.9,641.3 L455.9,641.3 L456.9,641.3 L457.9,641.3 L458.9,641.3 L459.9,641.3 L460.8,641.3 L461.8,641.3 L462.8,641.3 L463.8,641.3 L464.8,641.3 L465.8,641.3 L466.8,641.3 L467.8,641.3 L468.8,641.3 L469.8,641.3 L470.8,641.3 L470.8,645.0 L469.8,645.0 L468.8,645.0 L467.8,644.9 L466.8,644.9 L465.8,644.9 L464.8,644.9 L463.8,644.9 L462.8,644.9 L461.8,644.9 L460.8,644.9 L459.9,644.8 L458.9,644.8 L457.9,644.8 L456.9,644.8 L455.9,644.8 L454.9,644.8 L453.9,644.8 L452.9,644.7 L451.9,644.7 L450.9,644.7 L449.9,644.7 L449.0,644.7 L448.0,644.7 L447.0,644.7 L446.0,644.6 L445.0,644.6 L444.0,644.6 L443.0,644.6 L442.0,644.6 L441.0,644.6 L440.0,644.6 L439.1,644.5 L438.1,644.5 L437.1,644.5 L436.1,644.5 L435.1,644.5 L434.1,644.5 L433.1,644.5 L432.1,644.4 L431.1,644.4 L430.1,644.4 L429.1,644.4 L428.2,644.4 L427.2,644.4 L426.2,644.4 L425.2,644.4 L424.2,644.3 L423.2,644.3 L422.2,644.3 L421.2,644.3 L420.2,644.3 L419.2,644.3 L418.2,644.3 L417.3,644.3 L416.3,644.2 L415.3,644.2 L414.3,644.2 L413.3,644.2 L412.3,644.2 L411.3,644.2 L410.3,644.2 L409.3,644.2 L408.3,644.1 L407.4,644.1 L406.4,644.1 L405.4,644.1 L404.4,644.1 L403.4,644.1 L402.4,644.1 L401.4,644.0 L400.4,644.0 L399.4,644.0 L398.4,644.0 L397.4,644.0 L396.5,644.0 L395.5,643.9 L394.5,643.9 L393.5,643.9 L392.5,643.9 L391.5,643.9 L390.5,643.9 L389.5,643.8 L388.5,643.8 L387.5,643.8 L386.5,643.8 L385.6,643.8 L384.6,643.7 L383.6,643.7 L382.6,643.7 L381.6,643.7 L380.6,643.7 L379.6,643.6 L378.6,643.6 L377.6,643.6 L376.6,643.6 L375.6,643.5 L374.7,643.5 L373.7,643.5 L372.7,643.5 L371.7,643.4 L370.7,643.4 L369.7,643.4 L368.7,643.4 L367.7,643.3 L366.7,643.3 L365.7,643.3 L364.8,643.3 L363.8,643.2 L362.8,643.2 L361.8,643.2 L360.8,643.2 L359.8,643.1 L358.8,643.1 L357.8,643.1 L356.8,643.1 L355.8,643.0 L354.8,643.0 L353.9,643.0 L352.9,642.9 L351.9,642.9 L350.9,642.9 L349.9,642.9 L348.9,642.8 L347.9,642.8 L346.9,642.8 L345.9,642.8 L344.9,642.7 L343.9,642.7 L343.0,642.7 L342.0,642.7 L341.0,642.6 L340.0,642.6 L339.0,642.6 L338.0,642.5 L337.0,642.5 L336.0,642.5 L335.0,642.5 L334.0,642.4 L333.1,642.4 L332.1,642.4 L331.1,642.3 L330.1,642.3 L329.1,642.3 L328.1,642.3 L327.1,642.2 L326.1,642.2 L325.1,642.2 L324.1,642.1 L323.1,642.1 L322.2,642.1 L321.2,642.1 L320.2,642.0 L319.2,642.0 L318.2,642.0 L317.2,641.9 L316.2,641.9 L315.2,641.9 L314.2,641.8 L313.2,641.8 L312.2,641.8Z" fill="#e7298a" fill-opacity="0.155" clip-path="url(#c2)"/>
<path d="M312.2,641.8 L313.2,642.3 L314.2,642.9 L315.2,643.4 L316.2,643.9 L317.2,644.4 L318.2,644.8 L319.2,645.2 L320.2,645.7 L321.2,646.0 L322.2,646.4 L323.1,646.7 L324.1,647.0 L325.1,647.2 L326.1,647.4 L327.1,647.6 L328.1,647.8 L329.1,648.0 L330.1,648.1 L331.1,648.3 L332.1,648.4 L333.1,648.6 L334.0,648.7 L335.0,648.8 L336.0,648.9 L337.0,649.1 L338.0,649.2 L339.0,649.3 L340.0,649.4 L341.0,649.5 L342.0,649.5 L343.0,649.6 L343.9,649.7 L344.9,649.8 L345.9,649.8 L346.9,649.9 L347.9,650.0 L348.9,650.1 L349.9,650.2 L350.9,650.3 L351.9,650.5 L352.9,650.7 L353.9,651.0 L354.8,651.3 L355.8,651.6 L356.8,652.0 L357.8,652.4 L358.8,652.8 L359.8,653.2 L360.8,653.7 L361.8,654.1 L362.8,654.5 L363.8,654.8 L364.8,655.2 L365.7,655.5 L366.7,655.8 L367.7,656.1 L368.7,656.4 L369.7,656.7 L370.7,657.0 L371.7,657.3 L372.7,657.6 L373.7,657.9 L374.7,658.2 L375.6,658.5 L376.6,658.8 L377.6,659.1 L378.6,659.4 L379.6,659.7 L380.6,659.9 L381.6,660.2 L382.6,660.5 L383.6,660.8 L384.6,661.1 L385.6,661.4 L386.5,661.7 L387.5,662.0 L388.5,662.3 L389.5,662.6 L390.5,662.9 L391.5,663.2 L392.5,663.5 L393.5,663.9 L394.5,664.2 L395.5,664.6 L396.5,664.9 L397.4,665.3 L398.4,665.7 L399.4,666.1 L400.4,666.4 L401.4,666.8 L402.4,667.2 L403.4,667.6 L404.4,667.9 L405.4,668.3 L406.4,668.6 L407.4,669.0 L408.3,669.3 L409.3,669.7 L410.3,670.0 L411.3,670.4 L412.3,670.7 L413.3,671.1 L414.3,671.4 L415.3,671.7 L416.3,672.1 L417.3,672.4 L418.2,672.8 L419.2,673.1 L420.2,673.5 L421.2,673.8 L422.2,674.2 L423.2,674.5 L424.2,674.9 L425.2,675.2 L426.2,675.5 L427.2,675.9 L428.2,676.2 L429.1,676.6 L430.1,676.9 L431.1,677.3 L432.1,677.6 L433.1,678.0 L434.1,678.3 L435.1,678.7 L436.1,679.0 L437.1,679.4 L438.1,679.7 L439.1,680.0 L440.0,680.4 L441.0,680.7 L442.0,681.1 L443.0,681.5 L444.0,681.8 L445.0,682.2 L446.0,682.6 L447.0,683.0 L448.0,683.4 L449.0,683.8 L449.9,684.2 L450.9,684.6 L451.9,685.0 L452.9,685.4 L453.9,685.8 L454.9,686.2 L455.9,686.6 L456.9,686.9 L457.9,687.3 L458.9,687.7 L459.9,688.0 L460.8,688.4 L461.8,688.8 L462.8,689.1 L463.8,689.5 L464.8,689.8 L465.8,690.1 L466.8,690.5 L467.8,690.8 L468.8,691.2 L469.8,691.5 L470.8,691.8" fill="none" stroke="#d95f02" stroke-width="4.2" stroke-linejoin="round" stroke-linecap="butt" clip-path="url(#c2)"/>
<path d="M312.2,641.8 L313.2,642.3 L314.2,642.9 L315.2,643.6 L316.2,644.2 L317.2,644.9 L318.2,645.6 L319.2,646.3 L320.2,647.0 L321.2,647.8 L322.2,648.6 L323.1,649.4 L324.1,650.3 L325.1,651.2 L326.1,652.1 L327.1,653.1 L328.1,654.1 L329.1,655.1 L330.1,656.1 L331.1,657.1 L332.1,658.1 L333.1,659.1 L334.0,660.1 L335.0,661.1 L336.0,662.1 L337.0,663.1 L338.0,664.1 L339.0,665.0 L340.0,666.0 L341.0,667.0 L342.0,667.9 L343.0,668.9 L343.9,669.8 L344.9,670.8 L345.9,671.8 L346.9,672.7 L347.9,673.7 L348.9,674.7 L349.9,675.7 L350.9,676.7 L351.9,677.8 L352.9,678.9 L353.9,680.1 L354.8,681.3 L355.8,682.6 L356.8,683.8 L357.8,685.0 L358.8,686.2 L359.8,687.4 L360.8,688.6 L361.8,689.8 L362.8,691.0 L363.8,692.2 L364.8,693.4 L365.7,694.6 L366.7,695.8 L367.7,697.0 L368.7,698.2 L369.7,699.4 L370.7,700.6 L371.7,701.8 L372.7,703.0 L373.7,704.2 L374.7,705.4 L375.6,706.6 L376.6,707.8 L377.6,709.0 L378.6,710.2 L379.6,711.4 L380.6,712.6 L381.6,713.8 L382.6,715.0 L383.6,716.2 L384.6,717.3 L385.6,718.5 L386.5,719.6 L387.5,720.8 L388.5,721.9 L389.5,723.0 L390.5,724.2 L391.5,725.4 L392.5,726.6 L393.5,727.9 L394.5,729.1 L395.5,730.4 L396.5,731.5 L397.4,732.6 L398.4,733.5 L399.4,734.4 L400.4,735.3 L401.4,736.1 L402.4,736.9 L403.4,737.7 L404.4,738.5 L405.4,739.3 L406.4,740.0 L407.4,740.8 L408.3,741.6 L409.3,742.3 L410.3,743.1 L411.3,743.8 L412.3,744.5 L413.3,745.2 L414.3,745.9 L415.3,746.6 L416.3,747.2 L417.3,747.8 L418.2,748.4 L419.2,748.9 L420.2,749.5 L421.2,750.0 L422.2,750.5 L423.2,751.0 L424.2,751.5 L425.2,751.9 L426.2,752.4 L427.2,752.8 L428.2,753.2 L429.1,753.6 L430.1,753.9 L431.1,754.2 L432.1,754.6 L433.1,754.9 L434.1,755.1 L435.1,755.4 L436.1,755.7 L437.1,755.9 L438.1,756.2 L439.1,756.4 L440.0,756.6 L441.0,756.8 L442.0,757.0 L443.0,757.2 L444.0,757.4 L445.0,757.6 L446.0,757.8 L447.0,757.9 L448.0,758.1 L449.0,758.3 L449.9,758.4 L450.9,758.6 L451.9,758.8 L452.9,758.9 L453.9,759.1 L454.9,759.2 L455.9,759.4 L456.9,759.5 L457.9,759.7 L458.9,759.8 L459.9,759.9 L460.8,760.0 L461.8,760.2 L462.8,760.3 L463.8,760.4 L464.8,760.5 L465.8,760.6 L466.8,760.7 L467.8,760.8 L468.8,760.8 L469.8,760.9 L470.8,761.0" fill="none" stroke="#7570b3" stroke-width="4.2" stroke-linejoin="round" stroke-linecap="butt" clip-path="url(#c2)"/>
<path d="M312.2,641.8 L313.2,641.8 L314.2,641.8 L315.2,641.8 L316.2,641.8 L317.2,641.8 L318.2,641.8 L319.2,641.8 L320.2,641.8 L321.2,641.8 L322.2,641.8 L323.1,641.9 L324.1,641.9 L325.1,641.9 L326.1,641.9 L327.1,641.9 L328.1,641.9 L329.1,641.9 L330.1,641.9 L331.1,641.9 L332.1,641.9 L333.1,641.9 L334.0,641.9 L335.0,641.9 L336.0,641.9 L337.0,641.9 L338.0,642.0 L339.0,642.0 L340.0,642.0 L341.0,642.0 L342.0,642.0 L343.0,642.0 L343.9,642.0 L344.9,642.0 L345.9,642.0 L346.9,642.0 L347.9,642.0 L348.9,642.0 L349.9,642.0 L350.9,642.1 L351.9,642.1 L352.9,642.1 L353.9,642.1 L354.8,642.1 L355.8,642.1 L356.8,642.1 L357.8,642.1 L358.8,642.1 L359.8,642.1 L360.8,642.1 L361.8,642.1 L362.8,642.2 L363.8,642.2 L364.8,642.2 L365.7,642.2 L366.7,642.2 L367.7,642.2 L368.7,642.2 L369.7,642.2 L370.7,642.2 L371.7,642.2 L372.7,642.2 L373.7,642.3 L374.7,642.3 L375.6,642.3 L376.6,642.3 L377.6,642.3 L378.6,642.3 L379.6,642.3 L380.6,642.3 L381.6,642.3 L382.6,642.3 L383.6,642.3 L384.6,642.3 L385.6,642.4 L386.5,642.4 L387.5,642.4 L388.5,642.4 L389.5,642.4 L390.5,642.4 L391.5,642.4 L392.5,642.4 L393.5,642.4 L394.5,642.4 L395.5,642.4 L396.5,642.4 L397.4,642.4 L398.4,642.4 L399.4,642.4 L400.4,642.4 L401.4,642.5 L402.4,642.5 L403.4,642.5 L404.4,642.5 L405.4,642.5 L406.4,642.5 L407.4,642.5 L408.3,642.5 L409.3,642.5 L410.3,642.5 L411.3,642.5 L412.3,642.5 L413.3,642.5 L414.3,642.5 L415.3,642.5 L416.3,642.5 L417.3,642.5 L418.2,642.5 L419.2,642.5 L420.2,642.5 L421.2,642.5 L422.2,642.5 L423.2,642.5 L424.2,642.6 L425.2,642.6 L426.2,642.6 L427.2,642.6 L428.2,642.6 L429.1,642.6 L430.1,642.6 L431.1,642.6 L432.1,642.6 L433.1,642.6 L434.1,642.6 L435.1,642.6 L436.1,642.6 L437.1,642.6 L438.1,642.6 L439.1,642.6 L440.0,642.6 L441.0,642.6 L442.0,642.6 L443.0,642.6 L444.0,642.6 L445.0,642.6 L446.0,642.7 L447.0,642.7 L448.0,642.7 L449.0,642.7 L449.9,642.7 L450.9,642.7 L451.9,642.7 L452.9,642.7 L453.9,642.7 L454.9,642.7 L455.9,642.7 L456.9,642.7 L457.9,642.7 L458.9,642.7 L459.9,642.7 L460.8,642.7 L461.8,642.7 L462.8,642.7 L463.8,642.7 L464.8,642.7 L465.8,642.7 L466.8,642.7 L467.8,642.8 L468.8,642.8 L469.8,642.8 L470.8,642.8" fill="none" stroke="#e7298a" stroke-width="4.2" stroke-linejoin="round" stroke-linecap="butt" clip-path="url(#c2)"/>
<line x1="312.25" y1="641.78" x2="470.75" y2="641.78" stroke="#000" stroke-width="2.6"/>
<rect x="312.25" y="610.90" width="158.50" height="154.40" fill="none" stroke="#000" stroke-width="2.0"/>
<line x1="301.95" y1="641.78" x2="312.25" y2="641.78" stroke="#000" stroke-width="2.0"/>
<line x1="301.95" y1="703.54" x2="312.25" y2="703.54" stroke="#000" stroke-width="2.0"/>
<line x1="301.95" y1="765.30" x2="312.25" y2="765.30" stroke="#000" stroke-width="2.0"/>
<line x1="371.69" y1="765.30" x2="371.69" y2="775.60" stroke="#000" stroke-width="2.0"/>
<line x1="470.75" y1="765.30" x2="470.75" y2="775.60" stroke="#000" stroke-width="2.0"/>
<g font-size="17.7" fill="#111"><text transform="translate(360.35,601.50) scale(0.937,1)">E</text><text transform="translate(371.41,601.50) scale(1.127,1)">u</text><text transform="translate(382.50,601.50) scale(1.221,1)">r</text><text transform="translate(389.69,601.50) scale(1.049,1)">o</text><text transform="translate(400.01,601.50) scale(1.129,1)">p</text><text transform="translate(411.12,601.50) scale(1.094,1)">e</text></g>
<g font-size="24.4" fill="#111" font-weight="bold" style="stroke-width:0.7px"><text transform="translate(320.54,633.70) scale(1.000,1)">c</text></g>
<path d="M502.5,641.8 L503.5,641.0 L504.5,640.2 L505.5,639.4 L506.5,638.7 L507.5,637.9 L508.4,637.2 L509.4,636.5 L510.4,635.7 L511.4,635.0 L512.4,634.4 L513.4,633.7 L514.4,633.0 L515.4,632.3 L516.4,631.6 L517.4,630.9 L518.4,630.3 L519.3,629.7 L520.3,629.1 L521.3,628.6 L522.3,628.2 L523.3,627.8 L524.3,627.5 L525.3,627.2 L526.3,626.9 L527.3,626.6 L528.3,626.4 L529.2,626.1 L530.2,625.9 L531.2,625.7 L532.2,625.4 L533.2,625.2 L534.2,625.0 L535.2,624.8 L536.2,624.6 L537.2,624.3 L538.2,624.1 L539.2,623.9 L540.1,623.6 L541.1,623.3 L542.1,623.0 L543.1,622.7 L544.1,622.4 L545.1,622.0 L546.1,621.7 L547.1,621.3 L548.1,621.0 L549.1,620.6 L550.0,620.2 L551.0,619.9 L552.0,619.5 L553.0,619.1 L554.0,618.7 L555.0,618.3 L556.0,618.0 L557.0,617.6 L558.0,617.2 L559.0,616.9 L560.0,616.5 L560.9,616.2 L561.9,615.8 L562.9,615.5 L563.9,615.2 L564.9,614.8 L565.9,614.5 L566.9,614.1 L567.9,613.7 L568.9,613.4 L569.9,613.0 L570.9,612.7 L571.8,612.3 L572.8,612.0 L573.8,611.7 L574.8,611.4 L575.8,611.1 L576.8,610.8 L577.8,610.5 L578.8,610.3 L579.8,610.0 L580.8,609.8 L581.8,609.7 L582.7,609.5 L583.7,609.3 L584.7,609.2 L585.7,609.0 L586.7,608.9 L587.7,608.7 L588.7,608.6 L589.7,608.4 L590.7,608.3 L591.7,608.1 L592.6,608.0 L593.6,607.8 L594.6,607.7 L595.6,607.5 L596.6,607.4 L597.6,607.3 L598.6,607.1 L599.6,607.0 L600.6,606.8 L601.6,606.7 L602.6,606.6 L603.5,606.4 L604.5,606.3 L605.5,606.2 L606.5,606.1 L607.5,605.9 L608.5,605.8 L609.5,605.7 L610.5,605.6 L611.5,605.4 L612.5,605.3 L613.5,605.2 L614.4,605.1 L615.4,605.0 L616.4,604.9 L617.4,604.8 L618.4,604.7 L619.4,604.6 L620.4,604.5 L621.4,604.4 L622.4,604.3 L623.4,604.2 L624.3,604.1 L625.3,604.0 L626.3,603.9 L627.3,603.8 L628.3,603.7 L629.3,603.6 L630.3,603.6 L631.3,603.5 L632.3,603.4 L633.3,603.3 L634.3,603.3 L635.2,603.2 L636.2,603.1 L637.2,603.0 L638.2,603.0 L639.2,602.9 L640.2,602.9 L641.2,602.8 L642.2,602.8 L643.2,602.7 L644.2,602.7 L645.1,602.6 L646.1,602.6 L647.1,602.5 L648.1,602.5 L649.1,602.5 L650.1,602.4 L651.1,602.4 L652.1,602.4 L653.1,602.3 L654.1,602.3 L655.1,602.3 L656.0,602.3 L657.0,602.3 L658.0,602.3 L659.0,602.3 L660.0,602.3 L661.0,602.3 L661.0,711.0 L660.0,710.6 L659.0,710.3 L658.0,709.9 L657.0,709.6 L656.0,709.3 L655.1,708.9 L654.1,708.6 L653.1,708.3 L652.1,708.0 L651.1,707.6 L650.1,707.3 L649.1,707.0 L648.1,706.7 L647.1,706.4 L646.1,706.1 L645.1,705.8 L644.2,705.5 L643.2,705.2 L642.2,704.9 L641.2,704.6 L640.2,704.4 L639.2,704.1 L638.2,703.8 L637.2,703.6 L636.2,703.4 L635.2,703.1 L634.3,702.9 L633.3,702.7 L632.3,702.4 L631.3,702.2 L630.3,701.9 L629.3,701.7 L628.3,701.4 L627.3,701.1 L626.3,700.9 L625.3,700.6 L624.3,700.3 L623.4,699.9 L622.4,699.6 L621.4,699.2 L620.4,698.8 L619.4,698.4 L618.4,697.9 L617.4,697.5 L616.4,697.0 L615.4,696.5 L614.4,695.9 L613.5,695.4 L612.5,694.8 L611.5,694.3 L610.5,693.7 L609.5,693.1 L608.5,692.5 L607.5,692.0 L606.5,691.4 L605.5,690.8 L604.5,690.2 L603.5,689.6 L602.6,689.1 L601.6,688.5 L600.6,687.9 L599.6,687.4 L598.6,686.8 L597.6,686.2 L596.6,685.6 L595.6,684.9 L594.6,684.3 L593.6,683.7 L592.6,683.1 L591.7,682.5 L590.7,681.9 L589.7,681.2 L588.7,680.6 L587.7,680.0 L586.7,679.4 L585.7,678.9 L584.7,678.3 L583.7,677.7 L582.7,677.2 L581.8,676.6 L580.8,676.1 L579.8,675.6 L578.8,675.1 L577.8,674.5 L576.8,674.0 L575.8,673.5 L574.8,673.0 L573.8,672.5 L572.8,672.0 L571.8,671.5 L570.9,671.0 L569.9,670.5 L568.9,670.0 L567.9,669.5 L566.9,669.0 L565.9,668.5 L564.9,668.0 L563.9,667.5 L562.9,667.1 L561.9,666.6 L560.9,666.1 L560.0,665.7 L559.0,665.2 L558.0,664.7 L557.0,664.3 L556.0,663.8 L555.0,663.4 L554.0,662.9 L553.0,662.5 L552.0,662.0 L551.0,661.6 L550.0,661.2 L549.1,660.7 L548.1,660.3 L547.1,659.9 L546.1,659.5 L545.1,659.0 L544.1,658.6 L543.1,658.2 L542.1,657.8 L541.1,657.4 L540.1,657.0 L539.2,656.6 L538.2,656.2 L537.2,655.8 L536.2,655.5 L535.2,655.1 L534.2,654.8 L533.2,654.4 L532.2,654.1 L531.2,653.7 L530.2,653.4 L529.2,653.0 L528.3,652.7 L527.3,652.3 L526.3,651.9 L525.3,651.6 L524.3,651.2 L523.3,650.8 L522.3,650.4 L521.3,650.0 L520.3,649.6 L519.3,649.2 L518.4,648.8 L517.4,648.4 L516.4,648.0 L515.4,647.6 L514.4,647.1 L513.4,646.7 L512.4,646.3 L511.4,645.8 L510.4,645.4 L509.4,645.0 L508.4,644.5 L507.5,644.1 L506.5,643.6 L505.5,643.2 L504.5,642.7 L503.5,642.2 L502.5,641.8Z" fill="#d95f02" fill-opacity="0.155" clip-path="url(#c3)"/>
<path d="M502.5,641.8 L503.5,641.5 L504.5,641.3 L505.5,641.0 L506.5,640.8 L507.5,640.5 L508.4,640.3 L509.4,640.0 L510.4,639.7 L511.4,639.5 L512.4,639.3 L513.4,639.0 L514.4,638.8 L515.4,638.5 L516.4,638.3 L517.4,638.0 L518.4,637.8 L519.3,637.6 L520.3,637.3 L521.3,637.1 L522.3,636.8 L523.3,636.6 L524.3,636.4 L525.3,636.1 L526.3,635.9 L527.3,635.7 L528.3,635.4 L529.2,635.2 L530.2,635.0 L531.2,634.7 L532.2,634.5 L533.2,634.3 L534.2,634.0 L535.2,633.8 L536.2,633.6 L537.2,633.4 L538.2,633.2 L539.2,633.0 L540.1,632.8 L541.1,632.6 L542.1,632.4 L543.1,632.2 L544.1,632.0 L545.1,631.8 L546.1,631.6 L547.1,631.4 L548.1,631.2 L549.1,631.1 L550.0,630.9 L551.0,630.7 L552.0,630.5 L553.0,630.4 L554.0,630.2 L555.0,630.0 L556.0,629.9 L557.0,629.7 L558.0,629.5 L559.0,629.4 L560.0,629.2 L560.9,629.0 L561.9,628.9 L562.9,628.7 L563.9,628.5 L564.9,628.4 L565.9,628.2 L566.9,628.1 L567.9,627.9 L568.9,627.7 L569.9,627.6 L570.9,627.4 L571.8,627.2 L572.8,627.1 L573.8,626.9 L574.8,626.7 L575.8,626.6 L576.8,626.4 L577.8,626.2 L578.8,626.1 L579.8,625.9 L580.8,625.7 L581.8,625.5 L582.7,625.3 L583.7,625.1 L584.7,625.0 L585.7,624.8 L586.7,624.6 L587.7,624.4 L588.7,624.2 L589.7,624.0 L590.7,623.8 L591.7,623.6 L592.6,623.4 L593.6,623.2 L594.6,623.0 L595.6,622.8 L596.6,622.6 L597.6,622.4 L598.6,622.2 L599.6,622.0 L600.6,621.8 L601.6,621.6 L602.6,621.4 L603.5,621.2 L604.5,621.1 L605.5,620.9 L606.5,620.7 L607.5,620.5 L608.5,620.3 L609.5,620.1 L610.5,619.9 L611.5,619.7 L612.5,619.5 L613.5,619.3 L614.4,619.1 L615.4,618.9 L616.4,618.7 L617.4,618.5 L618.4,618.3 L619.4,618.1 L620.4,617.9 L621.4,617.7 L622.4,617.4 L623.4,617.2 L624.3,616.9 L625.3,616.7 L626.3,616.4 L627.3,616.1 L628.3,615.7 L629.3,615.4 L630.3,615.2 L631.3,614.9 L632.3,614.6 L633.3,614.4 L634.3,614.2 L635.2,614.1 L636.2,614.0 L637.2,613.9 L638.2,613.8 L639.2,613.7 L640.2,613.6 L641.2,613.5 L642.2,613.4 L643.2,613.3 L644.2,613.2 L645.1,613.1 L646.1,613.0 L647.1,613.0 L648.1,612.9 L649.1,612.8 L650.1,612.7 L651.1,612.7 L652.1,612.6 L653.1,612.6 L654.1,612.5 L655.1,612.5 L656.0,612.5 L657.0,612.4 L658.0,612.4 L659.0,612.4 L660.0,612.4 L661.0,612.4 L661.0,693.4 L660.0,693.2 L659.0,692.9 L658.0,692.7 L657.0,692.5 L656.0,692.2 L655.1,692.0 L654.1,691.7 L653.1,691.5 L652.1,691.2 L651.1,691.0 L650.1,690.7 L649.1,690.5 L648.1,690.2 L647.1,690.0 L646.1,689.7 L645.1,689.5 L644.2,689.2 L643.2,689.0 L642.2,688.7 L641.2,688.5 L640.2,688.2 L639.2,688.0 L638.2,687.8 L637.2,687.5 L636.2,687.3 L635.2,687.0 L634.3,686.8 L633.3,686.5 L632.3,686.3 L631.3,686.0 L630.3,685.8 L629.3,685.5 L628.3,685.3 L627.3,685.0 L626.3,684.7 L625.3,684.4 L624.3,684.1 L623.4,683.8 L622.4,683.5 L621.4,683.2 L620.4,682.9 L619.4,682.5 L618.4,682.1 L617.4,681.8 L616.4,681.4 L615.4,681.0 L614.4,680.6 L613.5,680.2 L612.5,679.7 L611.5,679.3 L610.5,678.9 L609.5,678.5 L608.5,678.0 L607.5,677.6 L606.5,677.2 L605.5,676.8 L604.5,676.4 L603.5,675.9 L602.6,675.5 L601.6,675.1 L600.6,674.7 L599.6,674.3 L598.6,673.9 L597.6,673.5 L596.6,673.1 L595.6,672.7 L594.6,672.3 L593.6,671.9 L592.6,671.5 L591.7,671.1 L590.7,670.7 L589.7,670.3 L588.7,669.9 L587.7,669.5 L586.7,669.2 L585.7,668.8 L584.7,668.4 L583.7,668.0 L582.7,667.6 L581.8,667.3 L580.8,666.9 L579.8,666.5 L578.8,666.2 L577.8,665.8 L576.8,665.5 L575.8,665.1 L574.8,664.7 L573.8,664.4 L572.8,664.0 L571.8,663.7 L570.9,663.3 L569.9,663.0 L568.9,662.6 L567.9,662.3 L566.9,661.9 L565.9,661.6 L564.9,661.3 L563.9,660.9 L562.9,660.6 L561.9,660.2 L560.9,659.9 L560.0,659.6 L559.0,659.2 L558.0,658.9 L557.0,658.6 L556.0,658.2 L555.0,657.9 L554.0,657.6 L553.0,657.3 L552.0,656.9 L551.0,656.6 L550.0,656.3 L549.1,656.0 L548.1,655.6 L547.1,655.3 L546.1,655.0 L545.1,654.7 L544.1,654.4 L543.1,654.1 L542.1,653.8 L541.1,653.5 L540.1,653.1 L539.2,652.8 L538.2,652.5 L537.2,652.3 L536.2,652.0 L535.2,651.7 L534.2,651.4 L533.2,651.1 L532.2,650.8 L531.2,650.5 L530.2,650.3 L529.2,650.0 L528.3,649.7 L527.3,649.4 L526.3,649.1 L525.3,648.8 L524.3,648.5 L523.3,648.3 L522.3,648.0 L521.3,647.7 L520.3,647.4 L519.3,647.1 L518.4,646.8 L517.4,646.4 L516.4,646.1 L515.4,645.8 L514.4,645.5 L513.4,645.2 L512.4,644.9 L511.4,644.6 L510.4,644.3 L509.4,644.0 L508.4,643.7 L507.5,643.4 L506.5,643.0 L505.5,642.7 L504.5,642.4 L503.5,642.1 L502.5,641.8Z" fill="#d95f02" fill-opacity="0.3" clip-path="url(#c3)"/>
<path d="M502.5,641.8 L503.5,642.0 L504.5,642.2 L505.5,642.5 L506.5,642.7 L507.5,643.0 L508.4,643.3 L509.4,643.6 L510.4,643.8 L511.4,644.1 L512.4,644.5 L513.4,644.8 L514.4,645.1 L515.4,645.4 L516.4,645.8 L517.4,646.1 L518.4,646.5 L519.3,646.8 L520.3,647.2 L521.3,647.6 L522.3,648.0 L523.3,648.3 L524.3,648.7 L525.3,649.1 L526.3,649.6 L527.3,650.0 L528.3,650.4 L529.2,650.9 L530.2,651.3 L531.2,651.8 L532.2,652.3 L533.2,652.8 L534.2,653.3 L535.2,653.8 L536.2,654.3 L537.2,654.9 L538.2,655.4 L539.2,656.0 L540.1,656.6 L541.1,657.2 L542.1,657.8 L543.1,658.5 L544.1,659.2 L545.1,659.9 L546.1,660.7 L547.1,661.5 L548.1,662.4 L549.1,663.2 L550.0,664.1 L551.0,665.0 L552.0,666.0 L553.0,666.9 L554.0,667.8 L555.0,668.8 L556.0,669.7 L557.0,670.7 L558.0,671.6 L559.0,672.5 L560.0,673.4 L560.9,674.3 L561.9,675.1 L562.9,676.0 L563.9,676.8 L564.9,677.6 L565.9,678.4 L566.9,679.2 L567.9,680.0 L568.9,680.8 L569.9,681.6 L570.9,682.4 L571.8,683.2 L572.8,684.0 L573.8,684.8 L574.8,685.6 L575.8,686.4 L576.8,687.2 L577.8,688.1 L578.8,688.9 L579.8,689.7 L580.8,690.5 L581.8,691.4 L582.7,692.2 L583.7,693.1 L584.7,694.0 L585.7,694.9 L586.7,695.8 L587.7,696.7 L588.7,697.7 L589.7,698.6 L590.7,699.5 L591.7,700.5 L592.6,701.4 L593.6,702.4 L594.6,703.3 L595.6,704.3 L596.6,705.2 L597.6,706.1 L598.6,707.1 L599.6,708.0 L600.6,708.9 L601.6,709.8 L602.6,710.7 L603.5,711.5 L604.5,712.4 L605.5,713.2 L606.5,714.0 L607.5,714.8 L608.5,715.6 L609.5,716.3 L610.5,717.1 L611.5,717.8 L612.5,718.6 L613.5,719.3 L614.4,720.1 L615.4,720.8 L616.4,721.6 L617.4,722.3 L618.4,723.0 L619.4,723.7 L620.4,724.4 L621.4,725.1 L622.4,725.8 L623.4,726.5 L624.3,727.2 L625.3,727.8 L626.3,728.4 L627.3,729.0 L628.3,729.6 L629.3,730.2 L630.3,730.7 L631.3,731.2 L632.3,731.7 L633.3,732.2 L634.3,732.7 L635.2,733.1 L636.2,733.5 L637.2,733.8 L638.2,734.2 L639.2,734.6 L640.2,735.0 L641.2,735.3 L642.2,735.7 L643.2,736.0 L644.2,736.4 L645.1,736.7 L646.1,737.0 L647.1,737.3 L648.1,737.6 L649.1,737.9 L650.1,738.2 L651.1,738.5 L652.1,738.7 L653.1,739.0 L654.1,739.2 L655.1,739.4 L656.0,739.6 L657.0,739.8 L658.0,740.0 L659.0,740.1 L660.0,740.2 L661.0,740.3 L661.0,757.1 L660.0,757.1 L659.0,757.0 L658.0,756.9 L657.0,756.8 L656.0,756.7 L655.1,756.6 L654.1,756.5 L653.1,756.4 L652.1,756.3 L651.1,756.1 L650.1,756.0 L649.1,755.9 L648.1,755.7 L647.1,755.6 L646.1,755.4 L645.1,755.2 L644.2,755.1 L643.2,754.9 L642.2,754.7 L641.2,754.6 L640.2,754.4 L639.2,754.2 L638.2,754.0 L637.2,753.8 L636.2,753.6 L635.2,753.5 L634.3,753.3 L633.3,753.1 L632.3,752.8 L631.3,752.6 L630.3,752.4 L629.3,752.2 L628.3,751.9 L627.3,751.7 L626.3,751.4 L625.3,751.2 L624.3,750.9 L623.4,750.6 L622.4,750.3 L621.4,750.0 L620.4,749.7 L619.4,749.4 L618.4,749.1 L617.4,748.8 L616.4,748.4 L615.4,748.1 L614.4,747.7 L613.5,747.4 L612.5,747.0 L611.5,746.6 L610.5,746.2 L609.5,745.8 L608.5,745.4 L607.5,744.9 L606.5,744.4 L605.5,743.9 L604.5,743.3 L603.5,742.7 L602.6,742.1 L601.6,741.4 L600.6,740.7 L599.6,740.0 L598.6,739.3 L597.6,738.5 L596.6,737.7 L595.6,736.9 L594.6,736.1 L593.6,735.3 L592.6,734.5 L591.7,733.6 L590.7,732.8 L589.7,731.9 L588.7,731.0 L587.7,730.2 L586.7,729.3 L585.7,728.5 L584.7,727.6 L583.7,726.8 L582.7,725.9 L581.8,725.1 L580.8,724.3 L579.8,723.5 L578.8,722.7 L577.8,721.8 L576.8,721.0 L575.8,720.2 L574.8,719.3 L573.8,718.5 L572.8,717.6 L571.8,716.7 L570.9,715.8 L569.9,714.9 L568.9,713.9 L567.9,712.9 L566.9,711.9 L565.9,710.8 L564.9,709.7 L563.9,708.6 L562.9,707.3 L561.9,706.0 L560.9,704.6 L560.0,703.2 L559.0,701.7 L558.0,700.2 L557.0,698.7 L556.0,697.2 L555.0,695.6 L554.0,694.1 L553.0,692.5 L552.0,691.0 L551.0,689.5 L550.0,688.1 L549.1,686.7 L548.1,685.4 L547.1,684.1 L546.1,682.9 L545.1,681.8 L544.1,680.7 L543.1,679.5 L542.1,678.5 L541.1,677.4 L540.1,676.3 L539.2,675.3 L538.2,674.3 L537.2,673.2 L536.2,672.2 L535.2,671.3 L534.2,670.3 L533.2,669.3 L532.2,668.4 L531.2,667.4 L530.2,666.5 L529.2,665.5 L528.3,664.6 L527.3,663.7 L526.3,662.8 L525.3,661.8 L524.3,660.9 L523.3,660.0 L522.3,659.1 L521.3,658.2 L520.3,657.2 L519.3,656.3 L518.4,655.4 L517.4,654.5 L516.4,653.6 L515.4,652.7 L514.4,651.9 L513.4,651.0 L512.4,650.1 L511.4,649.3 L510.4,648.4 L509.4,647.6 L508.4,646.7 L507.5,645.9 L506.5,645.0 L505.5,644.2 L504.5,643.4 L503.5,642.6 L502.5,641.8Z" fill="#7570b3" fill-opacity="0.155" clip-path="url(#c3)"/>
<path d="M502.5,641.8 L503.5,642.1 L504.5,642.5 L505.5,642.8 L506.5,643.2 L507.5,643.6 L508.4,643.9 L509.4,644.3 L510.4,644.8 L511.4,645.2 L512.4,645.6 L513.4,646.1 L514.4,646.5 L515.4,647.0 L516.4,647.4 L517.4,647.9 L518.4,648.4 L519.3,648.9 L520.3,649.4 L521.3,649.9 L522.3,650.4 L523.3,651.0 L524.3,651.5 L525.3,652.1 L526.3,652.7 L527.3,653.3 L528.3,653.9 L529.2,654.5 L530.2,655.2 L531.2,655.8 L532.2,656.5 L533.2,657.2 L534.2,657.8 L535.2,658.5 L536.2,659.2 L537.2,659.9 L538.2,660.6 L539.2,661.3 L540.1,662.0 L541.1,662.7 L542.1,663.4 L543.1,664.1 L544.1,664.8 L545.1,665.4 L546.1,666.1 L547.1,666.8 L548.1,667.5 L549.1,668.1 L550.0,668.8 L551.0,669.5 L552.0,670.1 L553.0,670.8 L554.0,671.5 L555.0,672.2 L556.0,672.9 L557.0,673.6 L558.0,674.4 L559.0,675.1 L560.0,675.8 L560.9,676.6 L561.9,677.4 L562.9,678.2 L563.9,679.0 L564.9,679.9 L565.9,680.7 L566.9,681.6 L567.9,682.5 L568.9,683.5 L569.9,684.4 L570.9,685.5 L571.8,686.7 L572.8,687.9 L573.8,689.2 L574.8,690.5 L575.8,691.8 L576.8,693.1 L577.8,694.5 L578.8,695.8 L579.8,697.0 L580.8,698.2 L581.8,699.4 L582.7,700.5 L583.7,701.5 L584.7,702.6 L585.7,703.7 L586.7,704.8 L587.7,705.8 L588.7,706.9 L589.7,707.9 L590.7,709.0 L591.7,710.0 L592.6,711.0 L593.6,712.1 L594.6,713.1 L595.6,714.0 L596.6,715.0 L597.6,716.0 L598.6,716.9 L599.6,717.8 L600.6,718.7 L601.6,719.6 L602.6,720.4 L603.5,721.3 L604.5,722.1 L605.5,722.8 L606.5,723.6 L607.5,724.3 L608.5,725.0 L609.5,725.7 L610.5,726.3 L611.5,727.0 L612.5,727.6 L613.5,728.2 L614.4,728.9 L615.4,729.5 L616.4,730.1 L617.4,730.6 L618.4,731.2 L619.4,731.8 L620.4,732.3 L621.4,732.8 L622.4,733.4 L623.4,733.9 L624.3,734.4 L625.3,734.9 L626.3,735.4 L627.3,735.8 L628.3,736.3 L629.3,736.7 L630.3,737.2 L631.3,737.6 L632.3,738.0 L633.3,738.4 L634.3,738.8 L635.2,739.1 L636.2,739.5 L637.2,739.9 L638.2,740.2 L639.2,740.6 L640.2,740.9 L641.2,741.2 L642.2,741.6 L643.2,741.9 L644.2,742.2 L645.1,742.5 L646.1,742.8 L647.1,743.1 L648.1,743.4 L649.1,743.7 L650.1,744.0 L651.1,744.3 L652.1,744.5 L653.1,744.8 L654.1,745.0 L655.1,745.2 L656.0,745.5 L657.0,745.7 L658.0,745.9 L659.0,746.1 L660.0,746.2 L661.0,746.4 L661.0,754.4 L660.0,754.3 L659.0,754.2 L658.0,754.0 L657.0,753.9 L656.0,753.7 L655.1,753.6 L654.1,753.4 L653.1,753.2 L652.1,753.1 L651.1,752.9 L650.1,752.7 L649.1,752.5 L648.1,752.3 L647.1,752.1 L646.1,751.9 L645.1,751.7 L644.2,751.5 L643.2,751.2 L642.2,751.0 L641.2,750.8 L640.2,750.6 L639.2,750.3 L638.2,750.1 L637.2,749.8 L636.2,749.6 L635.2,749.3 L634.3,749.1 L633.3,748.8 L632.3,748.6 L631.3,748.3 L630.3,748.0 L629.3,747.7 L628.3,747.4 L627.3,747.1 L626.3,746.8 L625.3,746.5 L624.3,746.2 L623.4,745.9 L622.4,745.6 L621.4,745.2 L620.4,744.9 L619.4,744.5 L618.4,744.1 L617.4,743.8 L616.4,743.4 L615.4,743.0 L614.4,742.6 L613.5,742.2 L612.5,741.7 L611.5,741.3 L610.5,740.8 L609.5,740.4 L608.5,739.9 L607.5,739.4 L606.5,738.9 L605.5,738.3 L604.5,737.7 L603.5,737.1 L602.6,736.4 L601.6,735.7 L600.6,735.0 L599.6,734.3 L598.6,733.6 L597.6,732.8 L596.6,732.0 L595.6,731.2 L594.6,730.4 L593.6,729.6 L592.6,728.8 L591.7,728.0 L590.7,727.1 L589.7,726.3 L588.7,725.4 L587.7,724.6 L586.7,723.8 L585.7,722.9 L584.7,722.1 L583.7,721.3 L582.7,720.5 L581.8,719.7 L580.8,718.9 L579.8,718.1 L578.8,717.3 L577.8,716.6 L576.8,715.8 L575.8,715.0 L574.8,714.2 L573.8,713.3 L572.8,712.4 L571.8,711.5 L570.9,710.6 L569.9,709.6 L568.9,708.5 L567.9,707.3 L566.9,706.1 L565.9,704.8 L564.9,703.5 L563.9,702.1 L562.9,700.7 L561.9,699.3 L560.9,697.8 L560.0,696.4 L559.0,694.9 L558.0,693.5 L557.0,692.0 L556.0,690.6 L555.0,689.2 L554.0,687.9 L553.0,686.6 L552.0,685.3 L551.0,684.1 L550.0,683.0 L549.1,681.9 L548.1,680.8 L547.1,679.7 L546.1,678.6 L545.1,677.5 L544.1,676.4 L543.1,675.4 L542.1,674.4 L541.1,673.3 L540.1,672.3 L539.2,671.3 L538.2,670.3 L537.2,669.4 L536.2,668.4 L535.2,667.4 L534.2,666.5 L533.2,665.6 L532.2,664.6 L531.2,663.7 L530.2,662.8 L529.2,661.9 L528.3,661.0 L527.3,660.2 L526.3,659.3 L525.3,658.5 L524.3,657.6 L523.3,656.8 L522.3,656.0 L521.3,655.2 L520.3,654.4 L519.3,653.6 L518.4,652.8 L517.4,652.0 L516.4,651.3 L515.4,650.5 L514.4,649.8 L513.4,649.1 L512.4,648.4 L511.4,647.7 L510.4,647.0 L509.4,646.3 L508.4,645.6 L507.5,644.9 L506.5,644.3 L505.5,643.6 L504.5,643.0 L503.5,642.4 L502.5,641.8Z" fill="#7570b3" fill-opacity="0.3" clip-path="url(#c3)"/>
<path d="M502.5,641.8 L503.5,641.8 L504.5,641.7 L505.5,641.7 L506.5,641.7 L507.5,641.7 L508.4,641.6 L509.4,641.6 L510.4,641.6 L511.4,641.6 L512.4,641.5 L513.4,641.5 L514.4,641.5 L515.4,641.5 L516.4,641.4 L517.4,641.4 L518.4,641.4 L519.3,641.4 L520.3,641.4 L521.3,641.3 L522.3,641.3 L523.3,641.3 L524.3,641.3 L525.3,641.2 L526.3,641.2 L527.3,641.2 L528.3,641.2 L529.2,641.2 L530.2,641.1 L531.2,641.1 L532.2,641.1 L533.2,641.1 L534.2,641.0 L535.2,641.0 L536.2,641.0 L537.2,641.0 L538.2,641.0 L539.2,640.9 L540.1,640.9 L541.1,640.9 L542.1,640.9 L543.1,640.9 L544.1,640.8 L545.1,640.8 L546.1,640.8 L547.1,640.8 L548.1,640.8 L549.1,640.7 L550.0,640.7 L551.0,640.7 L552.0,640.7 L553.0,640.7 L554.0,640.6 L555.0,640.6 L556.0,640.6 L557.0,640.6 L558.0,640.6 L559.0,640.6 L560.0,640.5 L560.9,640.5 L561.9,640.5 L562.9,640.5 L563.9,640.5 L564.9,640.4 L565.9,640.4 L566.9,640.4 L567.9,640.4 L568.9,640.4 L569.9,640.4 L570.9,640.3 L571.8,640.3 L572.8,640.3 L573.8,640.3 L574.8,640.3 L575.8,640.3 L576.8,640.2 L577.8,640.2 L578.8,640.2 L579.8,640.2 L580.8,640.2 L581.8,640.2 L582.7,640.2 L583.7,640.1 L584.7,640.1 L585.7,640.1 L586.7,640.1 L587.7,640.1 L588.7,640.1 L589.7,640.1 L590.7,640.1 L591.7,640.1 L592.6,640.0 L593.6,640.0 L594.6,640.0 L595.6,640.0 L596.6,640.0 L597.6,640.0 L598.6,640.0 L599.6,640.0 L600.6,640.0 L601.6,639.9 L602.6,639.9 L603.5,639.9 L604.5,639.9 L605.5,639.9 L606.5,639.9 L607.5,639.9 L608.5,639.9 L609.5,639.9 L610.5,639.9 L611.5,639.8 L612.5,639.8 L613.5,639.8 L614.4,639.8 L615.4,639.8 L616.4,639.8 L617.4,639.8 L618.4,639.8 L619.4,639.8 L620.4,639.8 L621.4,639.7 L622.4,639.7 L623.4,639.7 L624.3,639.7 L625.3,639.7 L626.3,639.7 L627.3,639.7 L628.3,639.7 L629.3,639.7 L630.3,639.6 L631.3,639.6 L632.3,639.6 L633.3,639.6 L634.3,639.6 L635.2,639.6 L636.2,639.6 L637.2,639.6 L638.2,639.6 L639.2,639.5 L640.2,639.5 L641.2,639.5 L642.2,639.5 L643.2,639.5 L644.2,639.5 L645.1,639.5 L646.1,639.5 L647.1,639.5 L648.1,639.5 L649.1,639.4 L650.1,639.4 L651.1,639.4 L652.1,639.4 L653.1,639.4 L654.1,639.4 L655.1,639.4 L656.0,639.4 L657.0,639.4 L658.0,639.3 L659.0,639.3 L660.0,639.3 L661.0,639.3 L661.0,643.0 L660.0,643.0 L659.0,643.0 L658.0,643.0 L657.0,643.0 L656.0,643.0 L655.1,643.0 L654.1,643.0 L653.1,643.0 L652.1,643.0 L651.1,643.0 L650.1,643.0 L649.1,643.0 L648.1,643.0 L647.1,643.0 L646.1,642.9 L645.1,642.9 L644.2,642.9 L643.2,642.9 L642.2,642.9 L641.2,642.9 L640.2,642.9 L639.2,642.9 L638.2,642.9 L637.2,642.9 L636.2,642.9 L635.2,642.9 L634.3,642.9 L633.3,642.9 L632.3,642.9 L631.3,642.9 L630.3,642.9 L629.3,642.9 L628.3,642.9 L627.3,642.9 L626.3,642.9 L625.3,642.8 L624.3,642.8 L623.4,642.8 L622.4,642.8 L621.4,642.8 L620.4,642.8 L619.4,642.8 L618.4,642.8 L617.4,642.8 L616.4,642.8 L615.4,642.8 L614.4,642.8 L613.5,642.8 L612.5,642.8 L611.5,642.8 L610.5,642.8 L609.5,642.8 L608.5,642.8 L607.5,642.8 L606.5,642.8 L605.5,642.8 L604.5,642.8 L603.5,642.8 L602.6,642.7 L601.6,642.7 L600.6,642.7 L599.6,642.7 L598.6,642.7 L597.6,642.7 L596.6,642.7 L595.6,642.7 L594.6,642.7 L593.6,642.7 L592.6,642.7 L591.7,642.7 L590.7,642.7 L589.7,642.7 L588.7,642.7 L587.7,642.7 L586.7,642.7 L585.7,642.7 L584.7,642.7 L583.7,642.7 L582.7,642.7 L581.8,642.6 L580.8,642.6 L579.8,642.6 L578.8,642.6 L577.8,642.6 L576.8,642.6 L575.8,642.6 L574.8,642.6 L573.8,642.6 L572.8,642.6 L571.8,642.6 L570.9,642.6 L569.9,642.6 L568.9,642.6 L567.9,642.6 L566.9,642.6 L565.9,642.6 L564.9,642.5 L563.9,642.5 L562.9,642.5 L561.9,642.5 L560.9,642.5 L560.0,642.5 L559.0,642.5 L558.0,642.5 L557.0,642.5 L556.0,642.5 L555.0,642.5 L554.0,642.5 L553.0,642.5 L552.0,642.5 L551.0,642.4 L550.0,642.4 L549.1,642.4 L548.1,642.4 L547.1,642.4 L546.1,642.4 L545.1,642.4 L544.1,642.4 L543.1,642.4 L542.1,642.4 L541.1,642.4 L540.1,642.3 L539.2,642.3 L538.2,642.3 L537.2,642.3 L536.2,642.3 L535.2,642.3 L534.2,642.3 L533.2,642.3 L532.2,642.3 L531.2,642.2 L530.2,642.2 L529.2,642.2 L528.3,642.2 L527.3,642.2 L526.3,642.2 L525.3,642.2 L524.3,642.1 L523.3,642.1 L522.3,642.1 L521.3,642.1 L520.3,642.1 L519.3,642.1 L518.4,642.1 L517.4,642.0 L516.4,642.0 L515.4,642.0 L514.4,642.0 L513.4,642.0 L512.4,642.0 L511.4,641.9 L510.4,641.9 L509.4,641.9 L508.4,641.9 L507.5,641.9 L506.5,641.9 L505.5,641.8 L504.5,641.8 L503.5,641.8 L502.5,641.8Z" fill="#e7298a" fill-opacity="0.155" clip-path="url(#c3)"/>
<path d="M502.5,641.8 L503.5,642.0 L504.5,642.3 L505.5,642.5 L506.5,642.7 L507.5,642.9 L508.4,643.1 L509.4,643.3 L510.4,643.4 L511.4,643.5 L512.4,643.6 L513.4,643.7 L514.4,643.8 L515.4,643.8 L516.4,643.9 L517.4,643.9 L518.4,644.0 L519.3,644.0 L520.3,644.1 L521.3,644.1 L522.3,644.1 L523.3,644.2 L524.3,644.2 L525.3,644.2 L526.3,644.3 L527.3,644.3 L528.3,644.4 L529.2,644.4 L530.2,644.5 L531.2,644.5 L532.2,644.5 L533.2,644.6 L534.2,644.6 L535.2,644.7 L536.2,644.7 L537.2,644.8 L538.2,644.8 L539.2,644.9 L540.1,644.9 L541.1,645.0 L542.1,645.0 L543.1,645.1 L544.1,645.2 L545.1,645.3 L546.1,645.4 L547.1,645.5 L548.1,645.6 L549.1,645.7 L550.0,645.8 L551.0,645.9 L552.0,646.0 L553.0,646.1 L554.0,646.2 L555.0,646.3 L556.0,646.4 L557.0,646.5 L558.0,646.6 L559.0,646.7 L560.0,646.8 L560.9,646.9 L561.9,647.0 L562.9,647.1 L563.9,647.2 L564.9,647.3 L565.9,647.4 L566.9,647.5 L567.9,647.6 L568.9,647.7 L569.9,647.8 L570.9,647.9 L571.8,648.0 L572.8,648.1 L573.8,648.2 L574.8,648.3 L575.8,648.4 L576.8,648.5 L577.8,648.6 L578.8,648.7 L579.8,648.8 L580.8,648.9 L581.8,649.0 L582.7,649.1 L583.7,649.3 L584.7,649.4 L585.7,649.5 L586.7,649.6 L587.7,649.7 L588.7,649.8 L589.7,649.9 L590.7,650.0 L591.7,650.0 L592.6,650.2 L593.6,650.3 L594.6,650.4 L595.6,650.5 L596.6,650.6 L597.6,650.7 L598.6,650.8 L599.6,650.9 L600.6,651.0 L601.6,651.1 L602.6,651.2 L603.5,651.3 L604.5,651.4 L605.5,651.6 L606.5,651.7 L607.5,651.8 L608.5,651.9 L609.5,652.1 L610.5,652.2 L611.5,652.3 L612.5,652.4 L613.5,652.6 L614.4,652.7 L615.4,652.8 L616.4,653.0 L617.4,653.1 L618.4,653.2 L619.4,653.4 L620.4,653.5 L621.4,653.6 L622.4,653.8 L623.4,653.9 L624.3,654.0 L625.3,654.1 L626.3,654.3 L627.3,654.4 L628.3,654.5 L629.3,654.6 L630.3,654.8 L631.3,654.9 L632.3,655.0 L633.3,655.1 L634.3,655.3 L635.2,655.4 L636.2,655.5 L637.2,655.7 L638.2,655.8 L639.2,656.0 L640.2,656.1 L641.2,656.3 L642.2,656.4 L643.2,656.6 L644.2,656.7 L645.1,656.9 L646.1,657.1 L647.1,657.3 L648.1,657.5 L649.1,657.7 L650.1,657.9 L651.1,658.1 L652.1,658.3 L653.1,658.5 L654.1,658.7 L655.1,658.9 L656.0,659.1 L657.0,659.4 L658.0,659.6 L659.0,659.8 L660.0,660.1 L661.0,660.3" fill="none" stroke="#d95f02" stroke-width="4.2" stroke-linejoin="round" stroke-linecap="butt" clip-path="url(#c3)"/>
<path d="M502.5,641.8 L503.5,642.1 L504.5,642.5 L505.5,642.8 L506.5,643.3 L507.5,643.7 L508.4,644.2 L509.4,644.7 L510.4,645.2 L511.4,645.8 L512.4,646.4 L513.4,647.0 L514.4,647.7 L515.4,648.3 L516.4,649.0 L517.4,649.7 L518.4,650.3 L519.3,651.0 L520.3,651.7 L521.3,652.5 L522.3,653.2 L523.3,654.0 L524.3,654.8 L525.3,655.6 L526.3,656.5 L527.3,657.3 L528.3,658.1 L529.2,658.9 L530.2,659.7 L531.2,660.4 L532.2,661.2 L533.2,662.0 L534.2,662.8 L535.2,663.6 L536.2,664.4 L537.2,665.2 L538.2,666.0 L539.2,666.8 L540.1,667.6 L541.1,668.4 L542.1,669.3 L543.1,670.1 L544.1,671.0 L545.1,671.9 L546.1,672.7 L547.1,673.6 L548.1,674.5 L549.1,675.4 L550.0,676.3 L551.0,677.2 L552.0,678.1 L553.0,679.0 L554.0,679.9 L555.0,680.8 L556.0,681.8 L557.0,682.8 L558.0,683.8 L559.0,684.8 L560.0,685.8 L560.9,686.8 L561.9,687.8 L562.9,688.8 L563.9,689.7 L564.9,690.7 L565.9,691.7 L566.9,692.7 L567.9,693.7 L568.9,694.8 L569.9,695.9 L570.9,697.0 L571.8,698.1 L572.8,699.2 L573.8,700.4 L574.8,701.5 L575.8,702.7 L576.8,703.9 L577.8,705.2 L578.8,706.4 L579.8,707.5 L580.8,708.7 L581.8,709.7 L582.7,710.7 L583.7,711.7 L584.7,712.7 L585.7,713.6 L586.7,714.5 L587.7,715.5 L588.7,716.4 L589.7,717.4 L590.7,718.3 L591.7,719.2 L592.6,720.2 L593.6,721.1 L594.6,721.9 L595.6,722.7 L596.6,723.5 L597.6,724.3 L598.6,725.0 L599.6,725.8 L600.6,726.5 L601.6,727.2 L602.6,727.9 L603.5,728.6 L604.5,729.2 L605.5,729.9 L606.5,730.5 L607.5,731.1 L608.5,731.7 L609.5,732.3 L610.5,732.9 L611.5,733.4 L612.5,733.9 L613.5,734.5 L614.4,735.0 L615.4,735.5 L616.4,736.0 L617.4,736.4 L618.4,736.9 L619.4,737.4 L620.4,737.8 L621.4,738.3 L622.4,738.7 L623.4,739.2 L624.3,739.6 L625.3,740.0 L626.3,740.5 L627.3,740.9 L628.3,741.3 L629.3,741.7 L630.3,742.1 L631.3,742.4 L632.3,742.8 L633.3,743.2 L634.3,743.6 L635.2,744.0 L636.2,744.3 L637.2,744.7 L638.2,745.1 L639.2,745.5 L640.2,745.8 L641.2,746.2 L642.2,746.6 L643.2,747.0 L644.2,747.3 L645.1,747.7 L646.1,748.0 L647.1,748.3 L648.1,748.6 L649.1,748.8 L650.1,749.1 L651.1,749.3 L652.1,749.5 L653.1,749.7 L654.1,750.0 L655.1,750.2 L656.0,750.3 L657.0,750.5 L658.0,750.7 L659.0,750.8 L660.0,751.0 L661.0,751.1" fill="none" stroke="#7570b3" stroke-width="4.2" stroke-linejoin="round" stroke-linecap="butt" clip-path="url(#c3)"/>
<path d="M502.5,641.8 L503.5,641.8 L504.5,641.8 L505.5,641.8 L506.5,641.8 L507.5,641.7 L508.4,641.7 L509.4,641.7 L510.4,641.7 L511.4,641.7 L512.4,641.7 L513.4,641.7 L514.4,641.7 L515.4,641.7 L516.4,641.7 L517.4,641.7 L518.4,641.7 L519.3,641.7 L520.3,641.7 L521.3,641.7 L522.3,641.6 L523.3,641.6 L524.3,641.6 L525.3,641.6 L526.3,641.6 L527.3,641.6 L528.3,641.6 L529.2,641.6 L530.2,641.6 L531.2,641.6 L532.2,641.6 L533.2,641.6 L534.2,641.6 L535.2,641.6 L536.2,641.5 L537.2,641.5 L538.2,641.5 L539.2,641.5 L540.1,641.5 L541.1,641.5 L542.1,641.5 L543.1,641.5 L544.1,641.5 L545.1,641.5 L546.1,641.5 L547.1,641.5 L548.1,641.5 L549.1,641.4 L550.0,641.4 L551.0,641.4 L552.0,641.4 L553.0,641.4 L554.0,641.4 L555.0,641.4 L556.0,641.4 L557.0,641.4 L558.0,641.4 L559.0,641.4 L560.0,641.3 L560.9,641.3 L561.9,641.3 L562.9,641.3 L563.9,641.3 L564.9,641.3 L565.9,641.3 L566.9,641.3 L567.9,641.3 L568.9,641.3 L569.9,641.3 L570.9,641.2 L571.8,641.2 L572.8,641.2 L573.8,641.2 L574.8,641.2 L575.8,641.2 L576.8,641.2 L577.8,641.2 L578.8,641.2 L579.8,641.2 L580.8,641.2 L581.8,641.2 L582.7,641.2 L583.7,641.2 L584.7,641.1 L585.7,641.1 L586.7,641.1 L587.7,641.1 L588.7,641.1 L589.7,641.1 L590.7,641.1 L591.7,641.1 L592.6,641.1 L593.6,641.1 L594.6,641.1 L595.6,641.1 L596.6,641.1 L597.6,641.1 L598.6,641.1 L599.6,641.1 L600.6,641.1 L601.6,641.1 L602.6,641.1 L603.5,641.1 L604.5,641.1 L605.5,641.0 L606.5,641.0 L607.5,641.0 L608.5,641.0 L609.5,641.0 L610.5,641.0 L611.5,641.0 L612.5,641.0 L613.5,641.0 L614.4,641.0 L615.4,641.0 L616.4,641.0 L617.4,641.0 L618.4,641.0 L619.4,641.0 L620.4,641.0 L621.4,641.0 L622.4,641.0 L623.4,641.0 L624.3,641.0 L625.3,641.0 L626.3,641.0 L627.3,640.9 L628.3,640.9 L629.3,640.9 L630.3,640.9 L631.3,640.9 L632.3,640.9 L633.3,640.9 L634.3,640.9 L635.2,640.9 L636.2,640.9 L637.2,640.9 L638.2,640.9 L639.2,640.9 L640.2,640.9 L641.2,640.9 L642.2,640.9 L643.2,640.9 L644.2,640.9 L645.1,640.9 L646.1,640.9 L647.1,640.9 L648.1,640.9 L649.1,640.8 L650.1,640.8 L651.1,640.8 L652.1,640.8 L653.1,640.8 L654.1,640.8 L655.1,640.8 L656.0,640.8 L657.0,640.8 L658.0,640.8 L659.0,640.8 L660.0,640.8 L661.0,640.8" fill="none" stroke="#e7298a" stroke-width="4.2" stroke-linejoin="round" stroke-linecap="butt" clip-path="url(#c3)"/>
<line x1="502.50" y1="641.78" x2="661.00" y2="641.78" stroke="#000" stroke-width="2.6"/>
<rect x="502.50" y="610.90" width="158.50" height="154.40" fill="none" stroke="#000" stroke-width="2.0"/>
<line x1="492.20" y1="641.78" x2="502.50" y2="641.78" stroke="#000" stroke-width="2.0"/>
<line x1="492.20" y1="703.54" x2="502.50" y2="703.54" stroke="#000" stroke-width="2.0"/>
<line x1="492.20" y1="765.30" x2="502.50" y2="765.30" stroke="#000" stroke-width="2.0"/>
<line x1="561.94" y1="765.30" x2="561.94" y2="775.60" stroke="#000" stroke-width="2.0"/>
<line x1="661.00" y1="765.30" x2="661.00" y2="775.60" stroke="#000" stroke-width="2.0"/>
<g font-size="17.7" fill="#111"><text transform="translate(498.01,601.50) scale(0.956,1)">C</text><text transform="translate(510.23,601.50) scale(1.094,1)">e</text><text transform="translate(521.00,601.50) scale(1.127,1)">n</text><text transform="translate(532.33,601.50) scale(1.300,1)">t</text><text transform="translate(538.95,601.50) scale(1.221,1)">r</text><text transform="translate(546.15,601.50) scale(1.090,1)">a</text><text transform="translate(556.87,601.50) scale(1.236,1)">l</text><text transform="translate(567.29,601.50) scale(1.014,1)">A</text><text transform="translate(579.26,601.50) scale(1.030,1)">s</text><text transform="translate(588.38,601.50) scale(1.236,1)">i</text><text transform="translate(593.24,601.50) scale(1.090,1)">a</text><text transform="translate(603.97,601.50) scale(1.199,1)">/</text><text transform="translate(609.86,601.50) scale(0.951,1)">R</text><text transform="translate(622.02,601.50) scale(1.047,1)">u</text><text transform="translate(632.33,601.50) scale(1.030,1)">s</text><text transform="translate(641.44,601.50) scale(1.030,1)">s</text><text transform="translate(650.56,601.50) scale(1.236,1)">i</text><text transform="translate(655.42,601.50) scale(1.090,1)">a</text></g>
<g font-size="24.4" fill="#111" font-weight="bold" style="stroke-width:0.7px"><text transform="translate(511.55,633.70) scale(1.000,1)">d</text></g>
<path d="M122.0,834.4 L123.0,834.6 L124.0,834.9 L125.0,835.1 L126.0,835.3 L127.0,835.6 L127.9,835.8 L128.9,836.1 L129.9,836.3 L130.9,836.6 L131.9,836.8 L132.9,837.1 L133.9,837.3 L134.9,837.6 L135.9,837.8 L136.9,838.1 L137.8,838.3 L138.8,838.6 L139.8,838.8 L140.8,839.1 L141.8,839.3 L142.8,839.6 L143.8,839.8 L144.8,840.1 L145.8,840.3 L146.8,840.6 L147.8,840.8 L148.7,841.1 L149.7,841.3 L150.7,841.6 L151.7,841.8 L152.7,842.1 L153.7,842.4 L154.7,842.6 L155.7,842.9 L156.7,843.1 L157.7,843.4 L158.7,843.7 L159.6,843.9 L160.6,844.2 L161.6,844.5 L162.6,844.8 L163.6,845.1 L164.6,845.4 L165.6,845.7 L166.6,845.9 L167.6,846.2 L168.6,846.5 L169.6,846.8 L170.5,847.1 L171.5,847.4 L172.5,847.7 L173.5,848.0 L174.5,848.3 L175.5,848.7 L176.5,849.0 L177.5,849.3 L178.5,849.6 L179.5,849.9 L180.4,850.2 L181.4,850.5 L182.4,850.9 L183.4,851.2 L184.4,851.5 L185.4,851.8 L186.4,852.2 L187.4,852.5 L188.4,852.8 L189.4,853.2 L190.4,853.5 L191.3,853.8 L192.3,854.2 L193.3,854.5 L194.3,854.9 L195.3,855.2 L196.3,855.6 L197.3,855.9 L198.3,856.3 L199.3,856.6 L200.3,857.0 L201.2,857.3 L202.2,857.7 L203.2,858.0 L204.2,858.4 L205.2,858.8 L206.2,859.2 L207.2,859.6 L208.2,860.0 L209.2,860.4 L210.2,860.8 L211.2,861.2 L212.1,861.7 L213.1,862.1 L214.1,862.5 L215.1,862.9 L216.1,863.4 L217.1,863.8 L218.1,864.2 L219.1,864.6 L220.1,865.0 L221.1,865.4 L222.1,865.8 L223.0,866.2 L224.0,866.6 L225.0,867.0 L226.0,867.3 L227.0,867.7 L228.0,868.0 L229.0,868.4 L230.0,868.7 L231.0,869.0 L232.0,869.3 L232.9,869.5 L233.9,869.8 L234.9,870.1 L235.9,870.4 L236.9,870.7 L237.9,870.9 L238.9,871.2 L239.9,871.5 L240.9,871.9 L241.9,872.2 L242.9,872.5 L243.8,872.9 L244.8,873.3 L245.8,873.7 L246.8,874.1 L247.8,874.5 L248.8,874.9 L249.8,875.4 L250.8,875.8 L251.8,876.2 L252.8,876.6 L253.8,876.9 L254.7,877.3 L255.7,877.7 L256.7,878.0 L257.7,878.4 L258.7,878.7 L259.7,879.1 L260.7,879.4 L261.7,879.8 L262.7,880.1 L263.7,880.4 L264.6,880.8 L265.6,881.1 L266.6,881.4 L267.6,881.8 L268.6,882.1 L269.6,882.4 L270.6,882.7 L271.6,883.0 L272.6,883.3 L273.6,883.6 L274.6,883.9 L275.5,884.2 L276.5,884.5 L277.5,884.8 L278.5,885.1 L279.5,885.4 L280.5,885.6 L280.5,939.6 L279.5,939.3 L278.5,938.9 L277.5,938.5 L276.5,938.2 L275.5,937.8 L274.6,937.4 L273.6,937.1 L272.6,936.7 L271.6,936.3 L270.6,936.0 L269.6,935.6 L268.6,935.2 L267.6,934.8 L266.6,934.5 L265.6,934.1 L264.6,933.7 L263.7,933.4 L262.7,933.0 L261.7,932.6 L260.7,932.2 L259.7,931.8 L258.7,931.5 L257.7,931.1 L256.7,930.7 L255.7,930.3 L254.7,929.9 L253.8,929.6 L252.8,929.2 L251.8,928.8 L250.8,928.4 L249.8,928.1 L248.8,927.7 L247.8,927.4 L246.8,927.0 L245.8,926.6 L244.8,926.3 L243.8,925.9 L242.9,925.6 L241.9,925.2 L240.9,924.8 L239.9,924.5 L238.9,924.1 L237.9,923.7 L236.9,923.3 L235.9,922.9 L234.9,922.5 L233.9,922.1 L232.9,921.6 L232.0,921.2 L231.0,920.7 L230.0,920.2 L229.0,919.8 L228.0,919.3 L227.0,918.7 L226.0,918.2 L225.0,917.6 L224.0,917.0 L223.0,916.4 L222.1,915.8 L221.1,915.1 L220.1,914.4 L219.1,913.7 L218.1,913.0 L217.1,912.3 L216.1,911.6 L215.1,910.9 L214.1,910.1 L213.1,909.4 L212.1,908.6 L211.2,907.9 L210.2,907.1 L209.2,906.3 L208.2,905.6 L207.2,904.8 L206.2,904.1 L205.2,903.3 L204.2,902.6 L203.2,901.8 L202.2,901.1 L201.2,900.4 L200.3,899.7 L199.3,898.9 L198.3,898.2 L197.3,897.5 L196.3,896.8 L195.3,896.0 L194.3,895.3 L193.3,894.6 L192.3,893.9 L191.3,893.1 L190.4,892.4 L189.4,891.6 L188.4,890.9 L187.4,890.2 L186.4,889.4 L185.4,888.7 L184.4,888.0 L183.4,887.2 L182.4,886.5 L181.4,885.7 L180.4,885.0 L179.5,884.2 L178.5,883.5 L177.5,882.7 L176.5,882.0 L175.5,881.2 L174.5,880.5 L173.5,879.7 L172.5,879.0 L171.5,878.2 L170.5,877.5 L169.6,876.7 L168.6,876.0 L167.6,875.2 L166.6,874.5 L165.6,873.7 L164.6,873.0 L163.6,872.2 L162.6,871.4 L161.6,870.7 L160.6,869.9 L159.6,869.2 L158.7,868.5 L157.7,867.7 L156.7,867.0 L155.7,866.3 L154.7,865.6 L153.7,864.8 L152.7,864.1 L151.7,863.4 L150.7,862.6 L149.7,861.9 L148.7,861.1 L147.8,860.3 L146.8,859.6 L145.8,858.8 L144.8,857.9 L143.8,857.1 L142.8,856.3 L141.8,855.4 L140.8,854.5 L139.8,853.6 L138.8,852.6 L137.8,851.7 L136.9,850.7 L135.9,849.7 L134.9,848.7 L133.9,847.7 L132.9,846.7 L131.9,845.6 L130.9,844.6 L129.9,843.5 L128.9,842.4 L127.9,841.3 L127.0,840.2 L126.0,839.0 L125.0,837.9 L124.0,836.7 L123.0,835.6 L122.0,834.4Z" fill="#d95f02" fill-opacity="0.155" clip-path="url(#c4)"/>
<path d="M122.0,834.4 L123.0,834.9 L124.0,835.5 L125.0,836.0 L126.0,836.5 L127.0,837.0 L127.9,837.5 L128.9,838.1 L129.9,838.6 L130.9,839.1 L131.9,839.6 L132.9,840.1 L133.9,840.5 L134.9,841.0 L135.9,841.5 L136.9,842.0 L137.8,842.4 L138.8,842.9 L139.8,843.4 L140.8,843.8 L141.8,844.3 L142.8,844.7 L143.8,845.1 L144.8,845.6 L145.8,846.0 L146.8,846.4 L147.8,846.8 L148.7,847.2 L149.7,847.6 L150.7,848.0 L151.7,848.4 L152.7,848.8 L153.7,849.2 L154.7,849.6 L155.7,850.0 L156.7,850.4 L157.7,850.8 L158.7,851.2 L159.6,851.5 L160.6,851.9 L161.6,852.3 L162.6,852.7 L163.6,853.0 L164.6,853.4 L165.6,853.8 L166.6,854.1 L167.6,854.5 L168.6,854.8 L169.6,855.2 L170.5,855.5 L171.5,855.9 L172.5,856.2 L173.5,856.6 L174.5,856.9 L175.5,857.3 L176.5,857.6 L177.5,857.9 L178.5,858.3 L179.5,858.6 L180.4,858.9 L181.4,859.3 L182.4,859.6 L183.4,860.0 L184.4,860.3 L185.4,860.6 L186.4,861.0 L187.4,861.3 L188.4,861.7 L189.4,862.0 L190.4,862.4 L191.3,862.7 L192.3,863.1 L193.3,863.4 L194.3,863.8 L195.3,864.1 L196.3,864.5 L197.3,864.9 L198.3,865.3 L199.3,865.6 L200.3,866.0 L201.2,866.4 L202.2,866.8 L203.2,867.2 L204.2,867.6 L205.2,868.0 L206.2,868.5 L207.2,868.9 L208.2,869.3 L209.2,869.8 L210.2,870.2 L211.2,870.6 L212.1,871.1 L213.1,871.5 L214.1,872.0 L215.1,872.4 L216.1,872.9 L217.1,873.4 L218.1,873.8 L219.1,874.3 L220.1,874.7 L221.1,875.2 L222.1,875.7 L223.0,876.2 L224.0,876.6 L225.0,877.1 L226.0,877.6 L227.0,878.0 L228.0,878.5 L229.0,879.0 L230.0,879.5 L231.0,880.0 L232.0,880.5 L232.9,881.0 L233.9,881.6 L234.9,882.1 L235.9,882.6 L236.9,883.1 L237.9,883.6 L238.9,884.1 L239.9,884.5 L240.9,884.9 L241.9,885.3 L242.9,885.6 L243.8,886.0 L244.8,886.3 L245.8,886.6 L246.8,886.8 L247.8,887.1 L248.8,887.4 L249.8,887.6 L250.8,887.9 L251.8,888.2 L252.8,888.5 L253.8,888.8 L254.7,889.2 L255.7,889.5 L256.7,889.9 L257.7,890.2 L258.7,890.6 L259.7,891.0 L260.7,891.4 L261.7,891.8 L262.7,892.2 L263.7,892.6 L264.6,893.0 L265.6,893.4 L266.6,893.8 L267.6,894.2 L268.6,894.7 L269.6,895.1 L270.6,895.6 L271.6,896.0 L272.6,896.5 L273.6,897.0 L274.6,897.5 L275.5,897.9 L276.5,898.4 L277.5,898.9 L278.5,899.4 L279.5,899.9 L280.5,900.5 L280.5,933.2 L279.5,932.8 L278.5,932.4 L277.5,931.9 L276.5,931.5 L275.5,931.1 L274.6,930.7 L273.6,930.2 L272.6,929.8 L271.6,929.4 L270.6,929.0 L269.6,928.5 L268.6,928.1 L267.6,927.7 L266.6,927.2 L265.6,926.8 L264.6,926.4 L263.7,926.0 L262.7,925.5 L261.7,925.1 L260.7,924.7 L259.7,924.2 L258.7,923.8 L257.7,923.4 L256.7,922.9 L255.7,922.5 L254.7,922.0 L253.8,921.6 L252.8,921.2 L251.8,920.8 L250.8,920.3 L249.8,919.9 L248.8,919.5 L247.8,919.1 L246.8,918.7 L245.8,918.3 L244.8,917.8 L243.8,917.4 L242.9,917.0 L241.9,916.6 L240.9,916.2 L239.9,915.7 L238.9,915.3 L237.9,914.9 L236.9,914.4 L235.9,914.0 L234.9,913.5 L233.9,913.0 L232.9,912.6 L232.0,912.1 L231.0,911.6 L230.0,911.1 L229.0,910.5 L228.0,910.0 L227.0,909.4 L226.0,908.8 L225.0,908.2 L224.0,907.6 L223.0,907.0 L222.1,906.3 L221.1,905.6 L220.1,904.9 L219.1,904.2 L218.1,903.5 L217.1,902.8 L216.1,902.1 L215.1,901.3 L214.1,900.6 L213.1,899.8 L212.1,899.1 L211.2,898.3 L210.2,897.6 L209.2,896.8 L208.2,896.1 L207.2,895.4 L206.2,894.6 L205.2,893.9 L204.2,893.2 L203.2,892.5 L202.2,891.8 L201.2,891.2 L200.3,890.5 L199.3,889.8 L198.3,889.2 L197.3,888.5 L196.3,887.8 L195.3,887.2 L194.3,886.5 L193.3,885.9 L192.3,885.2 L191.3,884.6 L190.4,883.9 L189.4,883.3 L188.4,882.6 L187.4,882.0 L186.4,881.4 L185.4,880.7 L184.4,880.1 L183.4,879.4 L182.4,878.8 L181.4,878.2 L180.4,877.5 L179.5,876.9 L178.5,876.3 L177.5,875.6 L176.5,875.0 L175.5,874.4 L174.5,873.7 L173.5,873.1 L172.5,872.5 L171.5,871.8 L170.5,871.2 L169.6,870.6 L168.6,869.9 L167.6,869.3 L166.6,868.7 L165.6,868.0 L164.6,867.4 L163.6,866.8 L162.6,866.1 L161.6,865.5 L160.6,864.9 L159.6,864.3 L158.7,863.7 L157.7,863.1 L156.7,862.5 L155.7,861.9 L154.7,861.3 L153.7,860.7 L152.7,860.1 L151.7,859.5 L150.7,858.9 L149.7,858.3 L148.7,857.7 L147.8,857.0 L146.8,856.4 L145.8,855.7 L144.8,855.1 L143.8,854.4 L142.8,853.6 L141.8,852.9 L140.8,852.1 L139.8,851.4 L138.8,850.6 L137.8,849.7 L136.9,848.9 L135.9,848.1 L134.9,847.2 L133.9,846.3 L132.9,845.4 L131.9,844.5 L130.9,843.5 L129.9,842.6 L128.9,841.6 L127.9,840.6 L127.0,839.6 L126.0,838.6 L125.0,837.5 L124.0,836.5 L123.0,835.4 L122.0,834.4Z" fill="#d95f02" fill-opacity="0.3" clip-path="url(#c4)"/>
<path d="M122.0,834.4 L123.0,835.2 L124.0,836.0 L125.0,836.7 L126.0,837.5 L127.0,838.2 L127.9,839.0 L128.9,839.7 L129.9,840.4 L130.9,841.1 L131.9,841.8 L132.9,842.4 L133.9,843.1 L134.9,843.6 L135.9,844.2 L136.9,844.8 L137.8,845.3 L138.8,845.9 L139.8,846.6 L140.8,847.2 L141.8,848.0 L142.8,848.8 L143.8,849.6 L144.8,850.5 L145.8,851.4 L146.8,852.3 L147.8,853.3 L148.7,854.3 L149.7,855.3 L150.7,856.4 L151.7,857.5 L152.7,858.6 L153.7,859.8 L154.7,861.0 L155.7,862.2 L156.7,863.4 L157.7,864.6 L158.7,865.8 L159.6,867.1 L160.6,868.3 L161.6,869.6 L162.6,870.8 L163.6,872.1 L164.6,873.4 L165.6,874.6 L166.6,875.9 L167.6,877.2 L168.6,878.4 L169.6,879.6 L170.5,880.9 L171.5,882.1 L172.5,883.3 L173.5,884.5 L174.5,885.6 L175.5,886.8 L176.5,888.0 L177.5,889.1 L178.5,890.3 L179.5,891.5 L180.4,892.7 L181.4,893.9 L182.4,895.1 L183.4,896.3 L184.4,897.5 L185.4,898.7 L186.4,900.0 L187.4,901.3 L188.4,902.6 L189.4,903.9 L190.4,905.2 L191.3,906.6 L192.3,908.0 L193.3,909.5 L194.3,911.0 L195.3,912.6 L196.3,914.3 L197.3,916.2 L198.3,918.1 L199.3,919.9 L200.3,921.7 L201.2,923.4 L202.2,924.8 L203.2,926.2 L204.2,927.5 L205.2,928.8 L206.2,930.1 L207.2,931.3 L208.2,932.4 L209.2,933.6 L210.2,934.6 L211.2,935.6 L212.1,936.6 L213.1,937.5 L214.1,938.3 L215.1,939.0 L216.1,939.7 L217.1,940.3 L218.1,941.0 L219.1,941.6 L220.1,942.2 L221.1,942.8 L222.1,943.3 L223.0,943.8 L224.0,944.2 L225.0,944.7 L226.0,945.0 L227.0,945.3 L228.0,945.6 L229.0,945.9 L230.0,946.1 L231.0,946.3 L232.0,946.5 L232.9,946.7 L233.9,946.9 L234.9,947.1 L235.9,947.2 L236.9,947.4 L237.9,947.5 L238.9,947.7 L239.9,947.8 L240.9,948.0 L241.9,948.1 L242.9,948.2 L243.8,948.3 L244.8,948.5 L245.8,948.6 L246.8,948.7 L247.8,948.8 L248.8,948.9 L249.8,949.0 L250.8,949.1 L251.8,949.2 L252.8,949.3 L253.8,949.4 L254.7,949.5 L255.7,949.6 L256.7,949.7 L257.7,949.8 L258.7,949.9 L259.7,950.0 L260.7,950.1 L261.7,950.2 L262.7,950.3 L263.7,950.4 L264.6,950.5 L265.6,950.6 L266.6,950.7 L267.6,950.7 L268.6,950.8 L269.6,950.9 L270.6,951.0 L271.6,951.0 L272.6,951.1 L273.6,951.2 L274.6,951.3 L275.5,951.3 L276.5,951.4 L277.5,951.4 L278.5,951.5 L279.5,951.6 L280.5,951.6 L280.5,956.3 L279.5,956.3 L278.5,956.3 L277.5,956.3 L276.5,956.3 L275.5,956.3 L274.6,956.3 L273.6,956.2 L272.6,956.2 L271.6,956.2 L270.6,956.2 L269.6,956.2 L268.6,956.2 L267.6,956.1 L266.6,956.1 L265.6,956.1 L264.6,956.1 L263.7,956.0 L262.7,956.0 L261.7,956.0 L260.7,955.9 L259.7,955.9 L258.7,955.9 L257.7,955.8 L256.7,955.8 L255.7,955.8 L254.7,955.7 L253.8,955.7 L252.8,955.6 L251.8,955.6 L250.8,955.5 L249.8,955.5 L248.8,955.4 L247.8,955.4 L246.8,955.3 L245.8,955.3 L244.8,955.2 L243.8,955.2 L242.9,955.1 L241.9,955.1 L240.9,955.0 L239.9,955.0 L238.9,954.9 L237.9,954.8 L236.9,954.8 L235.9,954.7 L234.9,954.7 L233.9,954.6 L232.9,954.5 L232.0,954.5 L231.0,954.4 L230.0,954.3 L229.0,954.3 L228.0,954.2 L227.0,954.1 L226.0,954.0 L225.0,953.9 L224.0,953.8 L223.0,953.7 L222.1,953.6 L221.1,953.5 L220.1,953.3 L219.1,953.2 L218.1,953.0 L217.1,952.9 L216.1,952.7 L215.1,952.6 L214.1,952.4 L213.1,952.2 L212.1,952.0 L211.2,951.8 L210.2,951.6 L209.2,951.3 L208.2,951.1 L207.2,950.9 L206.2,950.6 L205.2,950.4 L204.2,950.1 L203.2,949.8 L202.2,949.6 L201.2,949.3 L200.3,948.9 L199.3,948.6 L198.3,948.2 L197.3,947.8 L196.3,947.3 L195.3,946.8 L194.3,946.3 L193.3,945.8 L192.3,945.2 L191.3,944.6 L190.4,943.9 L189.4,943.2 L188.4,942.5 L187.4,941.8 L186.4,941.0 L185.4,940.2 L184.4,939.4 L183.4,938.5 L182.4,937.6 L181.4,936.6 L180.4,935.7 L179.5,934.6 L178.5,933.4 L177.5,931.9 L176.5,930.2 L175.5,928.3 L174.5,926.3 L173.5,924.2 L172.5,922.0 L171.5,919.8 L170.5,917.5 L169.6,915.3 L168.6,913.0 L167.6,910.9 L166.6,908.9 L165.6,906.9 L164.6,904.8 L163.6,902.8 L162.6,900.7 L161.6,898.7 L160.6,896.6 L159.6,894.5 L158.7,892.5 L157.7,890.5 L156.7,888.5 L155.7,886.6 L154.7,884.7 L153.7,882.9 L152.7,881.1 L151.7,879.4 L150.7,877.7 L149.7,876.0 L148.7,874.4 L147.8,872.8 L146.8,871.2 L145.8,869.6 L144.8,868.0 L143.8,866.5 L142.8,864.9 L141.8,863.4 L140.8,861.9 L139.8,860.4 L138.8,858.9 L137.8,857.4 L136.9,856.0 L135.9,854.5 L134.9,853.0 L133.9,851.5 L132.9,850.1 L131.9,848.6 L130.9,847.1 L129.9,845.7 L128.9,844.2 L127.9,842.8 L127.0,841.4 L126.0,839.9 L125.0,838.5 L124.0,837.1 L123.0,835.8 L122.0,834.4Z" fill="#7570b3" fill-opacity="0.155" clip-path="url(#c4)"/>
<path d="M122.0,834.4 L123.0,835.2 L124.0,836.1 L125.0,837.0 L126.0,837.8 L127.0,838.7 L127.9,839.6 L128.9,840.4 L129.9,841.3 L130.9,842.2 L131.9,843.0 L132.9,843.9 L133.9,844.7 L134.9,845.5 L135.9,846.3 L136.9,847.2 L137.8,848.0 L138.8,848.9 L139.8,849.8 L140.8,850.7 L141.8,851.7 L142.8,852.7 L143.8,853.8 L144.8,854.9 L145.8,856.0 L146.8,857.2 L147.8,858.4 L148.7,859.7 L149.7,860.9 L150.7,862.2 L151.7,863.5 L152.7,864.9 L153.7,866.2 L154.7,867.6 L155.7,869.0 L156.7,870.3 L157.7,871.7 L158.7,873.1 L159.6,874.5 L160.6,875.9 L161.6,877.3 L162.6,878.7 L163.6,880.1 L164.6,881.5 L165.6,882.8 L166.6,884.2 L167.6,885.6 L168.6,886.9 L169.6,888.3 L170.5,889.7 L171.5,891.1 L172.5,892.5 L173.5,893.9 L174.5,895.3 L175.5,896.7 L176.5,898.1 L177.5,899.6 L178.5,901.0 L179.5,902.5 L180.4,903.9 L181.4,905.4 L182.4,906.8 L183.4,908.3 L184.4,909.8 L185.4,911.3 L186.4,913.0 L187.4,914.7 L188.4,916.4 L189.4,918.2 L190.4,920.0 L191.3,921.7 L192.3,923.5 L193.3,925.3 L194.3,927.0 L195.3,928.6 L196.3,930.2 L197.3,931.7 L198.3,933.1 L199.3,934.4 L200.3,935.5 L201.2,936.5 L202.2,937.4 L203.2,938.1 L204.2,938.8 L205.2,939.5 L206.2,940.2 L207.2,940.8 L208.2,941.5 L209.2,942.1 L210.2,942.7 L211.2,943.3 L212.1,943.8 L213.1,944.4 L214.1,944.9 L215.1,945.4 L216.1,945.8 L217.1,946.3 L218.1,946.7 L219.1,947.1 L220.1,947.5 L221.1,947.8 L222.1,948.2 L223.0,948.4 L224.0,948.7 L225.0,948.9 L226.0,949.2 L227.0,949.3 L228.0,949.5 L229.0,949.6 L230.0,949.7 L231.0,949.8 L232.0,950.0 L232.9,950.1 L233.9,950.2 L234.9,950.3 L235.9,950.4 L236.9,950.5 L237.9,950.6 L238.9,950.7 L239.9,950.8 L240.9,950.9 L241.9,951.0 L242.9,951.1 L243.8,951.2 L244.8,951.3 L245.8,951.4 L246.8,951.5 L247.8,951.6 L248.8,951.6 L249.8,951.7 L250.8,951.8 L251.8,951.9 L252.8,951.9 L253.8,952.0 L254.7,952.1 L255.7,952.1 L256.7,952.2 L257.7,952.3 L258.7,952.3 L259.7,952.4 L260.7,952.4 L261.7,952.5 L262.7,952.5 L263.7,952.6 L264.6,952.6 L265.6,952.7 L266.6,952.7 L267.6,952.7 L268.6,952.8 L269.6,952.8 L270.6,952.8 L271.6,952.9 L272.6,952.9 L273.6,952.9 L274.6,952.9 L275.5,952.9 L276.5,952.9 L277.5,952.9 L278.5,953.0 L279.5,953.0 L280.5,953.0 L280.5,955.6 L279.5,955.6 L278.5,955.5 L277.5,955.5 L276.5,955.5 L275.5,955.5 L274.6,955.5 L273.6,955.5 L272.6,955.5 L271.6,955.5 L270.6,955.4 L269.6,955.4 L268.6,955.4 L267.6,955.4 L266.6,955.3 L265.6,955.3 L264.6,955.3 L263.7,955.2 L262.7,955.2 L261.7,955.1 L260.7,955.1 L259.7,955.1 L258.7,955.0 L257.7,955.0 L256.7,954.9 L255.7,954.9 L254.7,954.8 L253.8,954.8 L252.8,954.7 L251.8,954.6 L250.8,954.6 L249.8,954.5 L248.8,954.5 L247.8,954.4 L246.8,954.3 L245.8,954.3 L244.8,954.2 L243.8,954.1 L242.9,954.0 L241.9,954.0 L240.9,953.9 L239.9,953.8 L238.9,953.7 L237.9,953.7 L236.9,953.6 L235.9,953.5 L234.9,953.4 L233.9,953.3 L232.9,953.3 L232.0,953.2 L231.0,953.1 L230.0,953.0 L229.0,952.9 L228.0,952.8 L227.0,952.7 L226.0,952.6 L225.0,952.5 L224.0,952.4 L223.0,952.2 L222.1,952.1 L221.1,951.9 L220.1,951.7 L219.1,951.5 L218.1,951.3 L217.1,951.1 L216.1,950.9 L215.1,950.7 L214.1,950.5 L213.1,950.2 L212.1,950.0 L211.2,949.7 L210.2,949.4 L209.2,949.2 L208.2,948.9 L207.2,948.6 L206.2,948.3 L205.2,948.0 L204.2,947.6 L203.2,947.3 L202.2,947.0 L201.2,946.6 L200.3,946.2 L199.3,945.8 L198.3,945.4 L197.3,944.9 L196.3,944.4 L195.3,943.8 L194.3,943.3 L193.3,942.7 L192.3,942.0 L191.3,941.3 L190.4,940.6 L189.4,939.9 L188.4,939.1 L187.4,938.3 L186.4,937.4 L185.4,936.5 L184.4,935.6 L183.4,934.6 L182.4,933.5 L181.4,932.2 L180.4,930.7 L179.5,929.0 L178.5,927.2 L177.5,925.4 L176.5,923.4 L175.5,921.4 L174.5,919.4 L173.5,917.3 L172.5,915.2 L171.5,913.2 L170.5,911.2 L169.6,909.2 L168.6,907.3 L167.6,905.4 L166.6,903.4 L165.6,901.4 L164.6,899.3 L163.6,897.3 L162.6,895.2 L161.6,893.2 L160.6,891.2 L159.6,889.2 L158.7,887.3 L157.7,885.4 L156.7,883.6 L155.7,881.9 L154.7,880.2 L153.7,878.5 L152.7,876.9 L151.7,875.3 L150.7,873.7 L149.7,872.2 L148.7,870.6 L147.8,869.1 L146.8,867.6 L145.8,866.1 L144.8,864.6 L143.8,863.2 L142.8,861.8 L141.8,860.3 L140.8,858.9 L139.8,857.5 L138.8,856.2 L137.8,854.8 L136.9,853.4 L135.9,852.1 L134.9,850.7 L133.9,849.4 L132.9,848.1 L131.9,846.7 L130.9,845.4 L129.9,844.1 L128.9,842.9 L127.9,841.6 L127.0,840.4 L126.0,839.1 L125.0,837.9 L124.0,836.7 L123.0,835.6 L122.0,834.4Z" fill="#7570b3" fill-opacity="0.3" clip-path="url(#c4)"/>
<path d="M122.0,834.4 L123.0,834.4 L124.0,834.4 L125.0,834.4 L126.0,834.4 L127.0,834.4 L127.9,834.4 L128.9,834.4 L129.9,834.4 L130.9,834.4 L131.9,834.4 L132.9,834.4 L133.9,834.4 L134.9,834.4 L135.9,834.4 L136.9,834.4 L137.8,834.4 L138.8,834.4 L139.8,834.4 L140.8,834.4 L141.8,834.4 L142.8,834.4 L143.8,834.4 L144.8,834.4 L145.8,834.4 L146.8,834.4 L147.8,834.4 L148.7,834.4 L149.7,834.4 L150.7,834.4 L151.7,834.4 L152.7,834.4 L153.7,834.4 L154.7,834.4 L155.7,834.4 L156.7,834.4 L157.7,834.4 L158.7,834.4 L159.6,834.4 L160.6,834.4 L161.6,834.4 L162.6,834.4 L163.6,834.4 L164.6,834.4 L165.6,834.4 L166.6,834.4 L167.6,834.5 L168.6,834.5 L169.6,834.5 L170.5,834.5 L171.5,834.5 L172.5,834.5 L173.5,834.5 L174.5,834.5 L175.5,834.5 L176.5,834.5 L177.5,834.5 L178.5,834.6 L179.5,834.6 L180.4,834.6 L181.4,834.6 L182.4,834.6 L183.4,834.6 L184.4,834.6 L185.4,834.6 L186.4,834.7 L187.4,834.7 L188.4,834.7 L189.4,834.7 L190.4,834.7 L191.3,834.7 L192.3,834.7 L193.3,834.8 L194.3,834.8 L195.3,834.8 L196.3,834.8 L197.3,834.8 L198.3,834.8 L199.3,834.8 L200.3,834.9 L201.2,834.9 L202.2,834.9 L203.2,834.9 L204.2,834.9 L205.2,834.9 L206.2,835.0 L207.2,835.0 L208.2,835.0 L209.2,835.0 L210.2,835.0 L211.2,835.1 L212.1,835.1 L213.1,835.1 L214.1,835.1 L215.1,835.1 L216.1,835.2 L217.1,835.2 L218.1,835.2 L219.1,835.2 L220.1,835.2 L221.1,835.3 L222.1,835.3 L223.0,835.3 L224.0,835.3 L225.0,835.4 L226.0,835.4 L227.0,835.4 L228.0,835.4 L229.0,835.5 L230.0,835.5 L231.0,835.5 L232.0,835.5 L232.9,835.6 L233.9,835.6 L234.9,835.6 L235.9,835.6 L236.9,835.6 L237.9,835.7 L238.9,835.7 L239.9,835.7 L240.9,835.7 L241.9,835.8 L242.9,835.8 L243.8,835.8 L244.8,835.8 L245.8,835.8 L246.8,835.9 L247.8,835.9 L248.8,835.9 L249.8,835.9 L250.8,836.0 L251.8,836.0 L252.8,836.0 L253.8,836.0 L254.7,836.0 L255.7,836.1 L256.7,836.1 L257.7,836.1 L258.7,836.1 L259.7,836.1 L260.7,836.2 L261.7,836.2 L262.7,836.2 L263.7,836.2 L264.6,836.3 L265.6,836.3 L266.6,836.3 L267.6,836.3 L268.6,836.3 L269.6,836.4 L270.6,836.4 L271.6,836.4 L272.6,836.4 L273.6,836.5 L274.6,836.5 L275.5,836.5 L276.5,836.5 L277.5,836.5 L278.5,836.6 L279.5,836.6 L280.5,836.6 L280.5,840.3 L279.5,840.3 L278.5,840.2 L277.5,840.2 L276.5,840.2 L275.5,840.1 L274.6,840.1 L273.6,840.0 L272.6,840.0 L271.6,840.0 L270.6,839.9 L269.6,839.9 L268.6,839.9 L267.6,839.8 L266.6,839.8 L265.6,839.8 L264.6,839.7 L263.7,839.7 L262.7,839.6 L261.7,839.6 L260.7,839.6 L259.7,839.5 L258.7,839.5 L257.7,839.5 L256.7,839.4 L255.7,839.4 L254.7,839.3 L253.8,839.3 L252.8,839.3 L251.8,839.2 L250.8,839.2 L249.8,839.2 L248.8,839.1 L247.8,839.1 L246.8,839.0 L245.8,839.0 L244.8,839.0 L243.8,838.9 L242.9,838.9 L241.9,838.9 L240.9,838.8 L239.9,838.8 L238.9,838.8 L237.9,838.7 L236.9,838.7 L235.9,838.6 L234.9,838.6 L233.9,838.6 L232.9,838.5 L232.0,838.5 L231.0,838.5 L230.0,838.4 L229.0,838.4 L228.0,838.3 L227.0,838.3 L226.0,838.3 L225.0,838.2 L224.0,838.2 L223.0,838.2 L222.1,838.1 L221.1,838.1 L220.1,838.0 L219.1,838.0 L218.1,838.0 L217.1,837.9 L216.1,837.9 L215.1,837.9 L214.1,837.8 L213.1,837.8 L212.1,837.7 L211.2,837.7 L210.2,837.7 L209.2,837.6 L208.2,837.6 L207.2,837.6 L206.2,837.5 L205.2,837.5 L204.2,837.5 L203.2,837.4 L202.2,837.4 L201.2,837.3 L200.3,837.3 L199.3,837.3 L198.3,837.2 L197.3,837.2 L196.3,837.2 L195.3,837.1 L194.3,837.1 L193.3,837.1 L192.3,837.0 L191.3,837.0 L190.4,836.9 L189.4,836.9 L188.4,836.9 L187.4,836.8 L186.4,836.8 L185.4,836.8 L184.4,836.7 L183.4,836.7 L182.4,836.7 L181.4,836.6 L180.4,836.6 L179.5,836.6 L178.5,836.5 L177.5,836.5 L176.5,836.5 L175.5,836.4 L174.5,836.4 L173.5,836.3 L172.5,836.3 L171.5,836.3 L170.5,836.2 L169.6,836.2 L168.6,836.2 L167.6,836.1 L166.6,836.1 L165.6,836.1 L164.6,836.0 L163.6,836.0 L162.6,835.9 L161.6,835.9 L160.6,835.9 L159.6,835.8 L158.7,835.8 L157.7,835.8 L156.7,835.7 L155.7,835.7 L154.7,835.7 L153.7,835.6 L152.7,835.6 L151.7,835.5 L150.7,835.5 L149.7,835.5 L148.7,835.4 L147.8,835.4 L146.8,835.3 L145.8,835.3 L144.8,835.3 L143.8,835.2 L142.8,835.2 L141.8,835.2 L140.8,835.1 L139.8,835.1 L138.8,835.0 L137.8,835.0 L136.9,835.0 L135.9,834.9 L134.9,834.9 L133.9,834.8 L132.9,834.8 L131.9,834.8 L130.9,834.7 L129.9,834.7 L128.9,834.7 L127.9,834.6 L127.0,834.6 L126.0,834.5 L125.0,834.5 L124.0,834.5 L123.0,834.4 L122.0,834.4Z" fill="#e7298a" fill-opacity="0.155" clip-path="url(#c4)"/>
<path d="M122.0,834.4 L123.0,835.1 L124.0,835.8 L125.0,836.5 L126.0,837.1 L127.0,837.8 L127.9,838.5 L128.9,839.2 L129.9,839.8 L130.9,840.5 L131.9,841.1 L132.9,841.8 L133.9,842.4 L134.9,843.0 L135.9,843.6 L136.9,844.3 L137.8,844.9 L138.8,845.5 L139.8,846.1 L140.8,846.7 L141.8,847.3 L142.8,847.9 L143.8,848.5 L144.8,849.1 L145.8,849.6 L146.8,850.2 L147.8,850.7 L148.7,851.3 L149.7,851.8 L150.7,852.3 L151.7,852.8 L152.7,853.3 L153.7,853.8 L154.7,854.3 L155.7,854.7 L156.7,855.2 L157.7,855.7 L158.7,856.2 L159.6,856.7 L160.6,857.2 L161.6,857.7 L162.6,858.2 L163.6,858.7 L164.6,859.3 L165.6,859.8 L166.6,860.3 L167.6,860.9 L168.6,861.4 L169.6,861.9 L170.5,862.5 L171.5,863.0 L172.5,863.6 L173.5,864.2 L174.5,864.8 L175.5,865.4 L176.5,866.0 L177.5,866.7 L178.5,867.3 L179.5,868.0 L180.4,868.7 L181.4,869.4 L182.4,870.1 L183.4,870.7 L184.4,871.4 L185.4,872.0 L186.4,872.6 L187.4,873.2 L188.4,873.7 L189.4,874.2 L190.4,874.7 L191.3,875.2 L192.3,875.6 L193.3,876.0 L194.3,876.5 L195.3,876.9 L196.3,877.3 L197.3,877.7 L198.3,878.2 L199.3,878.6 L200.3,879.1 L201.2,879.6 L202.2,880.1 L203.2,880.7 L204.2,881.2 L205.2,881.8 L206.2,882.4 L207.2,883.0 L208.2,883.6 L209.2,884.2 L210.2,884.8 L211.2,885.4 L212.1,886.0 L213.1,886.6 L214.1,887.2 L215.1,887.7 L216.1,888.3 L217.1,888.8 L218.1,889.3 L219.1,889.8 L220.1,890.3 L221.1,890.8 L222.1,891.3 L223.0,891.8 L224.0,892.3 L225.0,892.8 L226.0,893.3 L227.0,893.8 L228.0,894.3 L229.0,894.8 L230.0,895.4 L231.0,895.9 L232.0,896.4 L232.9,897.0 L233.9,897.5 L234.9,898.1 L235.9,898.6 L236.9,899.2 L237.9,899.7 L238.9,900.3 L239.9,900.8 L240.9,901.3 L241.9,901.8 L242.9,902.3 L243.8,902.7 L244.8,903.2 L245.8,903.7 L246.8,904.1 L247.8,904.6 L248.8,905.0 L249.8,905.4 L250.8,905.9 L251.8,906.3 L252.8,906.7 L253.8,907.2 L254.7,907.6 L255.7,908.0 L256.7,908.4 L257.7,908.8 L258.7,909.2 L259.7,909.6 L260.7,910.0 L261.7,910.4 L262.7,910.8 L263.7,911.2 L264.6,911.6 L265.6,912.0 L266.6,912.4 L267.6,912.8 L268.6,913.2 L269.6,913.6 L270.6,914.1 L271.6,914.5 L272.6,914.9 L273.6,915.3 L274.6,915.7 L275.5,916.1 L276.5,916.6 L277.5,917.0 L278.5,917.4 L279.5,917.8 L280.5,918.3" fill="none" stroke="#d95f02" stroke-width="4.2" stroke-linejoin="round" stroke-linecap="butt" clip-path="url(#c4)"/>
<path d="M122.0,834.4 L123.0,835.0 L124.0,835.8 L125.0,836.6 L126.0,837.4 L127.0,838.3 L127.9,839.2 L128.9,840.2 L129.9,841.3 L130.9,842.4 L131.9,843.7 L132.9,844.9 L133.9,846.2 L134.9,847.5 L135.9,848.7 L136.9,850.0 L137.8,851.2 L138.8,852.5 L139.8,853.8 L140.8,855.2 L141.8,856.5 L142.8,857.9 L143.8,859.3 L144.8,860.8 L145.8,862.2 L146.8,863.7 L147.8,865.2 L148.7,866.7 L149.7,868.3 L150.7,869.8 L151.7,871.4 L152.7,873.0 L153.7,874.7 L154.7,876.3 L155.7,878.0 L156.7,879.6 L157.7,881.3 L158.7,883.1 L159.6,884.8 L160.6,886.5 L161.6,888.2 L162.6,889.9 L163.6,891.6 L164.6,893.3 L165.6,894.9 L166.6,896.6 L167.6,898.3 L168.6,900.0 L169.6,901.7 L170.5,903.4 L171.5,905.1 L172.5,906.8 L173.5,908.4 L174.5,910.1 L175.5,911.8 L176.5,913.4 L177.5,915.1 L178.5,916.7 L179.5,918.3 L180.4,919.8 L181.4,921.3 L182.4,922.7 L183.4,924.1 L184.4,925.5 L185.4,926.8 L186.4,928.1 L187.4,929.4 L188.4,930.6 L189.4,931.9 L190.4,933.2 L191.3,934.5 L192.3,935.7 L193.3,936.8 L194.3,937.8 L195.3,938.7 L196.3,939.5 L197.3,940.3 L198.3,941.1 L199.3,941.8 L200.3,942.4 L201.2,943.1 L202.2,943.7 L203.2,944.3 L204.2,944.8 L205.2,945.4 L206.2,945.8 L207.2,946.2 L208.2,946.6 L209.2,946.9 L210.2,947.1 L211.2,947.4 L212.1,947.6 L213.1,947.8 L214.1,948.0 L215.1,948.3 L216.1,948.5 L217.1,948.7 L218.1,948.9 L219.1,949.2 L220.1,949.4 L221.1,949.6 L222.1,949.8 L223.0,950.0 L224.0,950.2 L225.0,950.4 L226.0,950.6 L227.0,950.7 L228.0,950.8 L229.0,950.9 L230.0,951.1 L231.0,951.2 L232.0,951.3 L232.9,951.3 L233.9,951.4 L234.9,951.5 L235.9,951.6 L236.9,951.7 L237.9,951.8 L238.9,951.8 L239.9,951.9 L240.9,952.0 L241.9,952.0 L242.9,952.1 L243.8,952.2 L244.8,952.2 L245.8,952.3 L246.8,952.4 L247.8,952.4 L248.8,952.5 L249.8,952.5 L250.8,952.6 L251.8,952.7 L252.8,952.7 L253.8,952.8 L254.7,952.8 L255.7,952.9 L256.7,953.0 L257.7,953.0 L258.7,953.1 L259.7,953.2 L260.7,953.2 L261.7,953.3 L262.7,953.3 L263.7,953.4 L264.6,953.5 L265.6,953.5 L266.6,953.6 L267.6,953.6 L268.6,953.7 L269.6,953.7 L270.6,953.8 L271.6,953.9 L272.6,953.9 L273.6,954.0 L274.6,954.0 L275.5,954.1 L276.5,954.1 L277.5,954.2 L278.5,954.2 L279.5,954.3 L280.5,954.3" fill="none" stroke="#7570b3" stroke-width="4.2" stroke-linejoin="round" stroke-linecap="butt" clip-path="url(#c4)"/>
<path d="M122.0,834.4 L123.0,834.4 L124.0,834.4 L125.0,834.4 L126.0,834.4 L127.0,834.5 L127.9,834.5 L128.9,834.5 L129.9,834.5 L130.9,834.5 L131.9,834.5 L132.9,834.5 L133.9,834.6 L134.9,834.6 L135.9,834.6 L136.9,834.6 L137.8,834.6 L138.8,834.6 L139.8,834.7 L140.8,834.7 L141.8,834.7 L142.8,834.7 L143.8,834.7 L144.8,834.7 L145.8,834.8 L146.8,834.8 L147.8,834.8 L148.7,834.8 L149.7,834.8 L150.7,834.8 L151.7,834.9 L152.7,834.9 L153.7,834.9 L154.7,834.9 L155.7,834.9 L156.7,835.0 L157.7,835.0 L158.7,835.0 L159.6,835.0 L160.6,835.0 L161.6,835.0 L162.6,835.1 L163.6,835.1 L164.6,835.1 L165.6,835.1 L166.6,835.1 L167.6,835.2 L168.6,835.2 L169.6,835.2 L170.5,835.2 L171.5,835.2 L172.5,835.3 L173.5,835.3 L174.5,835.3 L175.5,835.3 L176.5,835.3 L177.5,835.3 L178.5,835.4 L179.5,835.4 L180.4,835.4 L181.4,835.4 L182.4,835.4 L183.4,835.5 L184.4,835.5 L185.4,835.5 L186.4,835.5 L187.4,835.6 L188.4,835.6 L189.4,835.6 L190.4,835.6 L191.3,835.6 L192.3,835.7 L193.3,835.7 L194.3,835.7 L195.3,835.7 L196.3,835.7 L197.3,835.8 L198.3,835.8 L199.3,835.8 L200.3,835.8 L201.2,835.9 L202.2,835.9 L203.2,835.9 L204.2,835.9 L205.2,836.0 L206.2,836.0 L207.2,836.0 L208.2,836.0 L209.2,836.1 L210.2,836.1 L211.2,836.1 L212.1,836.1 L213.1,836.2 L214.1,836.2 L215.1,836.2 L216.1,836.3 L217.1,836.3 L218.1,836.3 L219.1,836.3 L220.1,836.4 L221.1,836.4 L222.1,836.4 L223.0,836.5 L224.0,836.5 L225.0,836.5 L226.0,836.5 L227.0,836.6 L228.0,836.6 L229.0,836.6 L230.0,836.7 L231.0,836.7 L232.0,836.7 L232.9,836.7 L233.9,836.8 L234.9,836.8 L235.9,836.8 L236.9,836.9 L237.9,836.9 L238.9,836.9 L239.9,836.9 L240.9,837.0 L241.9,837.0 L242.9,837.0 L243.8,837.1 L244.8,837.1 L245.8,837.1 L246.8,837.1 L247.8,837.2 L248.8,837.2 L249.8,837.2 L250.8,837.3 L251.8,837.3 L252.8,837.3 L253.8,837.3 L254.7,837.4 L255.7,837.4 L256.7,837.4 L257.7,837.4 L258.7,837.5 L259.7,837.5 L260.7,837.5 L261.7,837.6 L262.7,837.6 L263.7,837.6 L264.6,837.6 L265.6,837.7 L266.6,837.7 L267.6,837.7 L268.6,837.8 L269.6,837.8 L270.6,837.8 L271.6,837.8 L272.6,837.9 L273.6,837.9 L274.6,837.9 L275.5,837.9 L276.5,838.0 L277.5,838.0 L278.5,838.0 L279.5,838.1 L280.5,838.1" fill="none" stroke="#e7298a" stroke-width="4.2" stroke-linejoin="round" stroke-linecap="butt" clip-path="url(#c4)"/>
<line x1="122.00" y1="834.38" x2="280.50" y2="834.38" stroke="#000" stroke-width="2.6"/>
<rect x="122.00" y="803.50" width="158.50" height="154.40" fill="none" stroke="#000" stroke-width="2.0"/>
<line x1="111.70" y1="834.38" x2="122.00" y2="834.38" stroke="#000" stroke-width="2.0"/>
<g font-size="17.7" fill="#111"><text transform="translate(90.33,840.58) scale(1.131,1)">0</text></g>
<line x1="111.70" y1="896.14" x2="122.00" y2="896.14" stroke="#000" stroke-width="2.0"/>
<g font-size="17.7" fill="#111"><text transform="translate(65.21,902.34) scale(1.300,1)">−</text><text transform="translate(79.26,902.34) scale(1.131,1)">5</text><text transform="translate(90.40,902.34) scale(1.131,1)">0</text></g>
<line x1="111.70" y1="957.90" x2="122.00" y2="957.90" stroke="#000" stroke-width="2.0"/>
<g font-size="17.7" fill="#111"><text transform="translate(54.01,964.10) scale(1.300,1)">−</text><text transform="translate(68.06,964.10) scale(1.131,1)">1</text><text transform="translate(79.20,964.10) scale(1.131,1)">0</text><text transform="translate(90.33,964.10) scale(1.131,1)">0</text></g>
<line x1="181.44" y1="957.90" x2="181.44" y2="968.20" stroke="#000" stroke-width="2.0"/>
<line x1="280.50" y1="957.90" x2="280.50" y2="968.20" stroke="#000" stroke-width="2.0"/>
<g font-size="17.7" fill="#111"><text transform="translate(95.46,794.10) scale(1.024,1)">M</text><text transform="translate(110.56,794.10) scale(1.236,1)">i</text><text transform="translate(115.42,794.10) scale(1.129,1)">d</text><text transform="translate(126.53,794.10) scale(1.129,1)">d</text><text transform="translate(137.64,794.10) scale(1.236,1)">l</text><text transform="translate(142.50,794.10) scale(1.094,1)">e</text><text transform="translate(158.83,794.10) scale(0.937,1)">E</text><text transform="translate(169.89,794.10) scale(1.090,1)">a</text><text transform="translate(180.62,794.10) scale(1.030,1)">s</text><text transform="translate(189.97,794.10) scale(1.300,1)">t</text><text transform="translate(196.59,794.10) scale(1.199,1)">/</text><text transform="translate(202.49,794.10) scale(1.024,1)">N</text><text transform="translate(215.58,794.10) scale(1.088,1)">o</text><text transform="translate(226.29,794.10) scale(1.221,1)">r</text><text transform="translate(233.72,794.10) scale(1.300,1)">t</text><text transform="translate(240.34,794.10) scale(1.127,1)">h</text><text transform="translate(257.00,794.10) scale(1.014,1)">A</text><text transform="translate(268.97,794.10) scale(1.126,1)">f</text><text transform="translate(274.50,794.10) scale(1.221,1)">r</text><text transform="translate(281.70,794.10) scale(1.236,1)">i</text><text transform="translate(286.56,794.10) scale(1.087,1)">c</text><text transform="translate(296.18,794.10) scale(1.090,1)">a</text></g>
<g font-size="24.4" fill="#111" font-weight="bold" style="stroke-width:0.7px"><text transform="translate(131.28,826.30) scale(1.000,1)">e</text></g>
<path d="M312.2,834.4 L313.2,833.4 L314.2,832.5 L315.2,831.7 L316.2,830.8 L317.2,830.0 L318.2,829.3 L319.2,828.6 L320.2,828.0 L321.2,827.5 L322.2,827.0 L323.1,826.5 L324.1,826.1 L325.1,825.6 L326.1,825.2 L327.1,824.8 L328.1,824.5 L329.1,824.2 L330.1,824.0 L331.1,823.9 L332.1,823.9 L333.1,824.0 L334.0,824.2 L335.0,824.4 L336.0,824.7 L337.0,825.1 L338.0,825.5 L339.0,825.9 L340.0,826.2 L341.0,826.6 L342.0,827.0 L343.0,827.3 L343.9,827.6 L344.9,827.9 L345.9,828.2 L346.9,828.6 L347.9,828.9 L348.9,829.3 L349.9,829.7 L350.9,830.1 L351.9,830.6 L352.9,831.1 L353.9,831.6 L354.8,832.3 L355.8,832.9 L356.8,833.7 L357.8,834.4 L358.8,835.2 L359.8,836.0 L360.8,836.8 L361.8,837.6 L362.8,838.3 L363.8,839.1 L364.8,839.8 L365.7,840.6 L366.7,841.3 L367.7,842.0 L368.7,842.8 L369.7,843.5 L370.7,844.2 L371.7,845.0 L372.7,845.7 L373.7,846.4 L374.7,847.1 L375.6,847.8 L376.6,848.5 L377.6,849.2 L378.6,849.9 L379.6,850.5 L380.6,851.2 L381.6,851.8 L382.6,852.4 L383.6,853.0 L384.6,853.7 L385.6,854.3 L386.5,854.9 L387.5,855.5 L388.5,856.1 L389.5,856.6 L390.5,857.2 L391.5,857.8 L392.5,858.3 L393.5,858.9 L394.5,859.4 L395.5,859.9 L396.5,860.5 L397.4,861.0 L398.4,861.5 L399.4,862.1 L400.4,862.6 L401.4,863.1 L402.4,863.6 L403.4,864.1 L404.4,864.6 L405.4,865.1 L406.4,865.6 L407.4,866.1 L408.3,866.6 L409.3,867.0 L410.3,867.5 L411.3,868.0 L412.3,868.5 L413.3,868.9 L414.3,869.4 L415.3,869.8 L416.3,870.3 L417.3,870.7 L418.2,871.2 L419.2,871.6 L420.2,872.1 L421.2,872.5 L422.2,872.9 L423.2,873.4 L424.2,873.8 L425.2,874.2 L426.2,874.7 L427.2,875.1 L428.2,875.5 L429.1,875.9 L430.1,876.3 L431.1,876.7 L432.1,877.1 L433.1,877.5 L434.1,877.9 L435.1,878.3 L436.1,878.7 L437.1,879.1 L438.1,879.5 L439.1,879.8 L440.0,880.2 L441.0,880.6 L442.0,880.9 L443.0,881.3 L444.0,881.6 L445.0,881.9 L446.0,882.3 L447.0,882.6 L448.0,882.9 L449.0,883.2 L449.9,883.6 L450.9,883.9 L451.9,884.2 L452.9,884.5 L453.9,884.8 L454.9,885.1 L455.9,885.4 L456.9,885.7 L457.9,886.0 L458.9,886.3 L459.9,886.5 L460.8,886.8 L461.8,887.1 L462.8,887.4 L463.8,887.6 L464.8,887.9 L465.8,888.1 L466.8,888.4 L467.8,888.6 L468.8,888.9 L469.8,889.1 L470.8,889.3 L470.8,944.1 L469.8,943.8 L468.8,943.5 L467.8,943.2 L466.8,942.9 L465.8,942.6 L464.8,942.3 L463.8,942.0 L462.8,941.7 L461.8,941.4 L460.8,941.1 L459.9,940.8 L458.9,940.5 L457.9,940.2 L456.9,939.8 L455.9,939.5 L454.9,939.2 L453.9,938.9 L452.9,938.5 L451.9,938.2 L450.9,937.9 L449.9,937.5 L449.0,937.2 L448.0,936.9 L447.0,936.5 L446.0,936.2 L445.0,935.8 L444.0,935.5 L443.0,935.1 L442.0,934.8 L441.0,934.4 L440.0,934.1 L439.1,933.7 L438.1,933.4 L437.1,933.0 L436.1,932.6 L435.1,932.3 L434.1,931.9 L433.1,931.6 L432.1,931.2 L431.1,930.8 L430.1,930.4 L429.1,930.0 L428.2,929.6 L427.2,929.2 L426.2,928.8 L425.2,928.4 L424.2,928.0 L423.2,927.5 L422.2,927.1 L421.2,926.6 L420.2,926.1 L419.2,925.7 L418.2,925.2 L417.3,924.7 L416.3,924.1 L415.3,923.6 L414.3,923.0 L413.3,922.4 L412.3,921.9 L411.3,921.2 L410.3,920.6 L409.3,920.0 L408.3,919.3 L407.4,918.7 L406.4,918.0 L405.4,917.3 L404.4,916.6 L403.4,915.9 L402.4,915.1 L401.4,914.4 L400.4,913.6 L399.4,912.9 L398.4,912.1 L397.4,911.3 L396.5,910.5 L395.5,909.6 L394.5,908.8 L393.5,908.0 L392.5,907.1 L391.5,906.2 L390.5,905.3 L389.5,904.3 L388.5,903.3 L387.5,902.3 L386.5,901.2 L385.6,900.1 L384.6,899.0 L383.6,897.8 L382.6,896.6 L381.6,895.4 L380.6,894.2 L379.6,893.0 L378.6,891.8 L377.6,890.6 L376.6,889.4 L375.6,888.3 L374.7,887.1 L373.7,886.0 L372.7,884.9 L371.7,883.8 L370.7,882.7 L369.7,881.6 L368.7,880.5 L367.7,879.4 L366.7,878.4 L365.7,877.3 L364.8,876.2 L363.8,875.1 L362.8,874.0 L361.8,872.9 L360.8,871.9 L359.8,870.8 L358.8,869.8 L357.8,868.8 L356.8,867.8 L355.8,866.9 L354.8,866.0 L353.9,865.1 L352.9,864.2 L351.9,863.4 L350.9,862.6 L349.9,861.9 L348.9,861.2 L347.9,860.5 L346.9,859.8 L345.9,859.2 L344.9,858.6 L343.9,857.9 L343.0,857.3 L342.0,856.7 L341.0,856.1 L340.0,855.5 L339.0,855.0 L338.0,854.3 L337.0,853.7 L336.0,853.1 L335.0,852.5 L334.0,851.8 L333.1,851.1 L332.1,850.4 L331.1,849.7 L330.1,849.0 L329.1,848.2 L328.1,847.5 L327.1,846.7 L326.1,846.0 L325.1,845.2 L324.1,844.4 L323.1,843.6 L322.2,842.8 L321.2,842.0 L320.2,841.2 L319.2,840.4 L318.2,839.5 L317.2,838.7 L316.2,837.8 L315.2,837.0 L314.2,836.1 L313.2,835.3 L312.2,834.4Z" fill="#d95f02" fill-opacity="0.155" clip-path="url(#c5)"/>
<path d="M312.2,834.4 L313.2,834.5 L314.2,834.7 L315.2,834.8 L316.2,835.0 L317.2,835.1 L318.2,835.3 L319.2,835.4 L320.2,835.6 L321.2,835.7 L322.2,835.9 L323.1,836.0 L324.1,836.2 L325.1,836.3 L326.1,836.5 L327.1,836.7 L328.1,836.8 L329.1,837.0 L330.1,837.1 L331.1,837.3 L332.1,837.5 L333.1,837.6 L334.0,837.8 L335.0,837.9 L336.0,838.1 L337.0,838.2 L338.0,838.4 L339.0,838.5 L340.0,838.7 L341.0,838.8 L342.0,839.0 L343.0,839.1 L343.9,839.3 L344.9,839.5 L345.9,839.7 L346.9,839.9 L347.9,840.1 L348.9,840.3 L349.9,840.5 L350.9,840.8 L351.9,841.1 L352.9,841.4 L353.9,841.7 L354.8,842.1 L355.8,842.6 L356.8,843.1 L357.8,843.6 L358.8,844.2 L359.8,844.8 L360.8,845.4 L361.8,846.1 L362.8,846.7 L363.8,847.4 L364.8,848.1 L365.7,848.8 L366.7,849.5 L367.7,850.2 L368.7,850.9 L369.7,851.6 L370.7,852.3 L371.7,852.9 L372.7,853.6 L373.7,854.2 L374.7,854.9 L375.6,855.6 L376.6,856.3 L377.6,857.0 L378.6,857.7 L379.6,858.4 L380.6,859.1 L381.6,859.8 L382.6,860.6 L383.6,861.3 L384.6,862.0 L385.6,862.7 L386.5,863.4 L387.5,864.1 L388.5,864.8 L389.5,865.5 L390.5,866.2 L391.5,866.8 L392.5,867.5 L393.5,868.1 L394.5,868.8 L395.5,869.4 L396.5,870.1 L397.4,870.7 L398.4,871.3 L399.4,872.0 L400.4,872.6 L401.4,873.2 L402.4,873.9 L403.4,874.5 L404.4,875.1 L405.4,875.7 L406.4,876.3 L407.4,876.9 L408.3,877.5 L409.3,878.1 L410.3,878.7 L411.3,879.2 L412.3,879.8 L413.3,880.4 L414.3,880.9 L415.3,881.5 L416.3,882.0 L417.3,882.5 L418.2,883.0 L419.2,883.6 L420.2,884.1 L421.2,884.6 L422.2,885.0 L423.2,885.5 L424.2,886.0 L425.2,886.5 L426.2,886.9 L427.2,887.4 L428.2,887.9 L429.1,888.3 L430.1,888.7 L431.1,889.2 L432.1,889.6 L433.1,890.1 L434.1,890.5 L435.1,890.9 L436.1,891.3 L437.1,891.8 L438.1,892.2 L439.1,892.6 L440.0,893.0 L441.0,893.4 L442.0,893.8 L443.0,894.3 L444.0,894.7 L445.0,895.1 L446.0,895.5 L447.0,895.9 L448.0,896.3 L449.0,896.7 L449.9,897.1 L450.9,897.5 L451.9,897.9 L452.9,898.2 L453.9,898.6 L454.9,899.0 L455.9,899.4 L456.9,899.8 L457.9,900.1 L458.9,900.5 L459.9,900.9 L460.8,901.3 L461.8,901.6 L462.8,902.0 L463.8,902.3 L464.8,902.7 L465.8,903.1 L466.8,903.4 L467.8,903.8 L468.8,904.1 L469.8,904.4 L470.8,904.8 L470.8,936.3 L469.8,935.9 L468.8,935.5 L467.8,935.1 L466.8,934.7 L465.8,934.3 L464.8,933.9 L463.8,933.5 L462.8,933.1 L461.8,932.7 L460.8,932.3 L459.9,931.9 L458.9,931.5 L457.9,931.0 L456.9,930.6 L455.9,930.2 L454.9,929.8 L453.9,929.3 L452.9,928.9 L451.9,928.5 L450.9,928.0 L449.9,927.6 L449.0,927.1 L448.0,926.7 L447.0,926.3 L446.0,925.8 L445.0,925.3 L444.0,924.9 L443.0,924.4 L442.0,924.0 L441.0,923.5 L440.0,923.1 L439.1,922.6 L438.1,922.1 L437.1,921.7 L436.1,921.2 L435.1,920.7 L434.1,920.2 L433.1,919.7 L432.1,919.3 L431.1,918.8 L430.1,918.3 L429.1,917.8 L428.2,917.3 L427.2,916.8 L426.2,916.2 L425.2,915.7 L424.2,915.2 L423.2,914.7 L422.2,914.1 L421.2,913.6 L420.2,913.1 L419.2,912.5 L418.2,912.0 L417.3,911.4 L416.3,910.8 L415.3,910.3 L414.3,909.7 L413.3,909.1 L412.3,908.5 L411.3,907.9 L410.3,907.3 L409.3,906.7 L408.3,906.1 L407.4,905.5 L406.4,904.9 L405.4,904.3 L404.4,903.6 L403.4,903.0 L402.4,902.3 L401.4,901.7 L400.4,901.0 L399.4,900.3 L398.4,899.6 L397.4,898.9 L396.5,898.2 L395.5,897.5 L394.5,896.7 L393.5,896.0 L392.5,895.2 L391.5,894.4 L390.5,893.6 L389.5,892.8 L388.5,891.9 L387.5,890.9 L386.5,890.0 L385.6,889.0 L384.6,888.1 L383.6,887.1 L382.6,886.1 L381.6,885.0 L380.6,884.0 L379.6,883.0 L378.6,882.0 L377.6,881.0 L376.6,879.9 L375.6,878.9 L374.7,878.0 L373.7,877.0 L372.7,876.1 L371.7,875.1 L370.7,874.2 L369.7,873.3 L368.7,872.4 L367.7,871.5 L366.7,870.6 L365.7,869.7 L364.8,868.8 L363.8,867.9 L362.8,867.0 L361.8,866.1 L360.8,865.2 L359.8,864.3 L358.8,863.5 L357.8,862.6 L356.8,861.8 L355.8,861.0 L354.8,860.3 L353.9,859.5 L352.9,858.8 L351.9,858.1 L350.9,857.4 L349.9,856.8 L348.9,856.2 L347.9,855.5 L346.9,855.0 L345.9,854.4 L344.9,853.8 L343.9,853.3 L343.0,852.7 L342.0,852.2 L341.0,851.7 L340.0,851.1 L339.0,850.6 L338.0,850.1 L337.0,849.5 L336.0,849.0 L335.0,848.4 L334.0,847.9 L333.1,847.3 L332.1,846.7 L331.1,846.1 L330.1,845.5 L329.1,844.9 L328.1,844.3 L327.1,843.7 L326.1,843.1 L325.1,842.5 L324.1,841.9 L323.1,841.3 L322.2,840.7 L321.2,840.1 L320.2,839.4 L319.2,838.8 L318.2,838.2 L317.2,837.6 L316.2,836.9 L315.2,836.3 L314.2,835.7 L313.2,835.0 L312.2,834.4Z" fill="#d95f02" fill-opacity="0.3" clip-path="url(#c5)"/>
<path d="M312.2,834.4 L313.2,834.5 L314.2,834.7 L315.2,834.9 L316.2,835.2 L317.2,835.4 L318.2,835.6 L319.2,835.9 L320.2,836.2 L321.2,836.5 L322.2,836.8 L323.1,837.2 L324.1,837.5 L325.1,837.8 L326.1,838.2 L327.1,838.6 L328.1,839.0 L329.1,839.3 L330.1,839.7 L331.1,840.1 L332.1,840.6 L333.1,841.0 L334.0,841.4 L335.0,841.9 L336.0,842.4 L337.0,842.9 L338.0,843.4 L339.0,844.0 L340.0,844.5 L341.0,845.1 L342.0,845.7 L343.0,846.3 L343.9,847.0 L344.9,847.7 L345.9,848.4 L346.9,849.1 L347.9,849.8 L348.9,850.5 L349.9,851.3 L350.9,852.1 L351.9,852.9 L352.9,853.8 L353.9,854.7 L354.8,855.6 L355.8,856.6 L356.8,857.6 L357.8,858.7 L358.8,859.9 L359.8,861.0 L360.8,862.2 L361.8,863.5 L362.8,864.7 L363.8,866.0 L364.8,867.3 L365.7,868.7 L366.7,870.1 L367.7,871.4 L368.7,872.8 L369.7,874.2 L370.7,875.7 L371.7,877.1 L372.7,878.5 L373.7,879.9 L374.7,881.4 L375.6,882.8 L376.6,884.2 L377.6,885.6 L378.6,887.1 L379.6,888.6 L380.6,890.2 L381.6,891.8 L382.6,893.4 L383.6,895.1 L384.6,896.7 L385.6,898.4 L386.5,900.0 L387.5,901.6 L388.5,903.2 L389.5,904.8 L390.5,906.3 L391.5,907.7 L392.5,909.0 L393.5,910.3 L394.5,911.7 L395.5,912.9 L396.5,914.2 L397.4,915.5 L398.4,916.7 L399.4,917.9 L400.4,919.0 L401.4,920.1 L402.4,921.1 L403.4,922.1 L404.4,923.1 L405.4,924.0 L406.4,924.8 L407.4,925.7 L408.3,926.5 L409.3,927.3 L410.3,928.1 L411.3,928.8 L412.3,929.5 L413.3,930.2 L414.3,930.8 L415.3,931.4 L416.3,932.0 L417.3,932.5 L418.2,932.9 L419.2,933.4 L420.2,933.8 L421.2,934.2 L422.2,934.6 L423.2,935.0 L424.2,935.3 L425.2,935.7 L426.2,936.0 L427.2,936.3 L428.2,936.7 L429.1,937.0 L430.1,937.3 L431.1,937.6 L432.1,937.9 L433.1,938.1 L434.1,938.4 L435.1,938.7 L436.1,938.9 L437.1,939.2 L438.1,939.4 L439.1,939.6 L440.0,939.9 L441.0,940.1 L442.0,940.3 L443.0,940.5 L444.0,940.7 L445.0,940.9 L446.0,941.1 L447.0,941.3 L448.0,941.5 L449.0,941.7 L449.9,941.9 L450.9,942.1 L451.9,942.3 L452.9,942.5 L453.9,942.7 L454.9,942.9 L455.9,943.0 L456.9,943.2 L457.9,943.4 L458.9,943.5 L459.9,943.7 L460.8,943.8 L461.8,944.0 L462.8,944.1 L463.8,944.3 L464.8,944.4 L465.8,944.5 L466.8,944.6 L467.8,944.8 L468.8,944.9 L469.8,945.0 L470.8,945.1 L470.8,952.3 L469.8,952.3 L468.8,952.3 L467.8,952.3 L466.8,952.3 L465.8,952.3 L464.8,952.2 L463.8,952.2 L462.8,952.1 L461.8,952.1 L460.8,952.0 L459.9,951.9 L458.9,951.9 L457.9,951.8 L456.9,951.7 L455.9,951.6 L454.9,951.5 L453.9,951.4 L452.9,951.3 L451.9,951.2 L450.9,951.1 L449.9,951.0 L449.0,950.8 L448.0,950.7 L447.0,950.6 L446.0,950.4 L445.0,950.3 L444.0,950.2 L443.0,950.0 L442.0,949.9 L441.0,949.7 L440.0,949.5 L439.1,949.4 L438.1,949.2 L437.1,949.0 L436.1,948.9 L435.1,948.7 L434.1,948.5 L433.1,948.3 L432.1,948.2 L431.1,948.0 L430.1,947.8 L429.1,947.6 L428.2,947.4 L427.2,947.2 L426.2,947.0 L425.2,946.8 L424.2,946.6 L423.2,946.4 L422.2,946.2 L421.2,946.0 L420.2,945.8 L419.2,945.6 L418.2,945.4 L417.3,945.2 L416.3,945.0 L415.3,944.7 L414.3,944.5 L413.3,944.2 L412.3,943.9 L411.3,943.6 L410.3,943.3 L409.3,943.0 L408.3,942.6 L407.4,942.3 L406.4,941.9 L405.4,941.5 L404.4,941.1 L403.4,940.7 L402.4,940.3 L401.4,939.9 L400.4,939.5 L399.4,939.1 L398.4,938.6 L397.4,938.2 L396.5,937.7 L395.5,937.3 L394.5,936.8 L393.5,936.3 L392.5,935.9 L391.5,935.4 L390.5,934.9 L389.5,934.3 L388.5,933.7 L387.5,933.1 L386.5,932.4 L385.6,931.7 L384.6,931.0 L383.6,930.2 L382.6,929.3 L381.6,928.5 L380.6,927.6 L379.6,926.6 L378.6,925.6 L377.6,924.6 L376.6,923.6 L375.6,922.5 L374.7,921.4 L373.7,920.3 L372.7,919.1 L371.7,917.9 L370.7,916.6 L369.7,915.4 L368.7,914.1 L367.7,912.8 L366.7,911.4 L365.7,909.9 L364.8,908.3 L363.8,906.6 L362.8,904.9 L361.8,903.0 L360.8,901.1 L359.8,899.2 L358.8,897.2 L357.8,895.2 L356.8,893.3 L355.8,891.4 L354.8,889.5 L353.9,887.7 L352.9,886.0 L351.9,884.3 L350.9,882.7 L349.9,881.0 L348.9,879.4 L347.9,877.7 L346.9,876.1 L345.9,874.4 L344.9,872.8 L343.9,871.2 L343.0,869.6 L342.0,868.1 L341.0,866.5 L340.0,865.0 L339.0,863.5 L338.0,862.1 L337.0,860.7 L336.0,859.3 L335.0,857.9 L334.0,856.6 L333.1,855.4 L332.1,854.1 L331.1,853.0 L330.1,851.8 L329.1,850.6 L328.1,849.5 L327.1,848.4 L326.1,847.3 L325.1,846.2 L324.1,845.1 L323.1,844.1 L322.2,843.1 L321.2,842.1 L320.2,841.1 L319.2,840.2 L318.2,839.3 L317.2,838.4 L316.2,837.5 L315.2,836.7 L314.2,835.9 L313.2,835.1 L312.2,834.4Z" fill="#7570b3" fill-opacity="0.155" clip-path="url(#c5)"/>
<path d="M312.2,834.4 L313.2,834.6 L314.2,834.8 L315.2,835.1 L316.2,835.3 L317.2,835.6 L318.2,836.0 L319.2,836.3 L320.2,836.7 L321.2,837.1 L322.2,837.5 L323.1,837.9 L324.1,838.4 L325.1,838.8 L326.1,839.3 L327.1,839.8 L328.1,840.3 L329.1,840.8 L330.1,841.3 L331.1,841.9 L332.1,842.4 L333.1,843.0 L334.0,843.6 L335.0,844.2 L336.0,844.8 L337.0,845.5 L338.0,846.3 L339.0,847.0 L340.0,847.8 L341.0,848.6 L342.0,849.4 L343.0,850.3 L343.9,851.2 L344.9,852.1 L345.9,853.0 L346.9,854.0 L347.9,855.0 L348.9,856.0 L349.9,857.0 L350.9,858.0 L351.9,859.1 L352.9,860.2 L353.9,861.4 L354.8,862.6 L355.8,864.0 L356.8,865.3 L357.8,866.8 L358.8,868.2 L359.8,869.7 L360.8,871.3 L361.8,872.8 L362.8,874.4 L363.8,876.0 L364.8,877.6 L365.7,879.2 L366.7,880.7 L367.7,882.3 L368.7,883.8 L369.7,885.3 L370.7,886.8 L371.7,888.4 L372.7,889.9 L373.7,891.5 L374.7,893.0 L375.6,894.6 L376.6,896.2 L377.6,897.8 L378.6,899.4 L379.6,901.0 L380.6,902.6 L381.6,904.1 L382.6,905.7 L383.6,907.1 L384.6,908.6 L385.6,910.0 L386.5,911.4 L387.5,912.7 L388.5,913.9 L389.5,915.1 L390.5,916.3 L391.5,917.5 L392.5,918.7 L393.5,919.8 L394.5,920.9 L395.5,922.0 L396.5,923.1 L397.4,924.1 L398.4,925.1 L399.4,926.1 L400.4,927.0 L401.4,927.9 L402.4,928.7 L403.4,929.5 L404.4,930.2 L405.4,930.9 L406.4,931.5 L407.4,932.1 L408.3,932.6 L409.3,933.2 L410.3,933.7 L411.3,934.2 L412.3,934.7 L413.3,935.1 L414.3,935.5 L415.3,935.9 L416.3,936.3 L417.3,936.6 L418.2,936.9 L419.2,937.2 L420.2,937.5 L421.2,937.7 L422.2,938.0 L423.2,938.3 L424.2,938.6 L425.2,938.8 L426.2,939.1 L427.2,939.4 L428.2,939.6 L429.1,939.9 L430.1,940.2 L431.1,940.4 L432.1,940.7 L433.1,940.9 L434.1,941.2 L435.1,941.4 L436.1,941.6 L437.1,941.9 L438.1,942.1 L439.1,942.3 L440.0,942.5 L441.0,942.8 L442.0,943.0 L443.0,943.2 L444.0,943.4 L445.0,943.6 L446.0,943.8 L447.0,943.9 L448.0,944.1 L449.0,944.3 L449.9,944.5 L450.9,944.6 L451.9,944.8 L452.9,944.9 L453.9,945.1 L454.9,945.2 L455.9,945.3 L456.9,945.4 L457.9,945.6 L458.9,945.7 L459.9,945.8 L460.8,945.8 L461.8,945.9 L462.8,946.0 L463.8,946.1 L464.8,946.1 L465.8,946.2 L466.8,946.2 L467.8,946.2 L468.8,946.3 L469.8,946.3 L470.8,946.3 L470.8,950.4 L469.8,950.4 L468.8,950.3 L467.8,950.3 L466.8,950.3 L465.8,950.3 L464.8,950.2 L463.8,950.2 L462.8,950.1 L461.8,950.1 L460.8,950.0 L459.9,949.9 L458.9,949.8 L457.9,949.8 L456.9,949.7 L455.9,949.6 L454.9,949.5 L453.9,949.3 L452.9,949.2 L451.9,949.1 L450.9,949.0 L449.9,948.8 L449.0,948.7 L448.0,948.6 L447.0,948.4 L446.0,948.3 L445.0,948.1 L444.0,948.0 L443.0,947.8 L442.0,947.6 L441.0,947.5 L440.0,947.3 L439.1,947.1 L438.1,946.9 L437.1,946.7 L436.1,946.6 L435.1,946.4 L434.1,946.2 L433.1,946.0 L432.1,945.8 L431.1,945.6 L430.1,945.4 L429.1,945.2 L428.2,945.0 L427.2,944.8 L426.2,944.5 L425.2,944.3 L424.2,944.1 L423.2,943.9 L422.2,943.7 L421.2,943.5 L420.2,943.3 L419.2,943.0 L418.2,942.8 L417.3,942.6 L416.3,942.4 L415.3,942.1 L414.3,941.9 L413.3,941.6 L412.3,941.3 L411.3,941.1 L410.3,940.8 L409.3,940.5 L408.3,940.1 L407.4,939.8 L406.4,939.5 L405.4,939.1 L404.4,938.8 L403.4,938.4 L402.4,938.0 L401.4,937.6 L400.4,937.2 L399.4,936.8 L398.4,936.3 L397.4,935.9 L396.5,935.4 L395.5,934.9 L394.5,934.4 L393.5,933.9 L392.5,933.4 L391.5,932.8 L390.5,932.3 L389.5,931.7 L388.5,931.1 L387.5,930.4 L386.5,929.7 L385.6,928.9 L384.6,928.1 L383.6,927.2 L382.6,926.3 L381.6,925.3 L380.6,924.3 L379.6,923.2 L378.6,922.1 L377.6,921.0 L376.6,919.8 L375.6,918.6 L374.7,917.4 L373.7,916.1 L372.7,914.8 L371.7,913.5 L370.7,912.2 L369.7,910.8 L368.7,909.3 L367.7,907.7 L366.7,906.0 L365.7,904.1 L364.8,902.3 L363.8,900.3 L362.8,898.4 L361.8,896.4 L360.8,894.4 L359.8,892.5 L358.8,890.6 L357.8,888.7 L356.8,887.0 L355.8,885.3 L354.8,883.7 L353.9,882.1 L352.9,880.4 L351.9,878.8 L350.9,877.2 L349.9,875.5 L348.9,873.9 L347.9,872.3 L346.9,870.7 L345.9,869.2 L344.9,867.6 L343.9,866.1 L343.0,864.6 L342.0,863.1 L341.0,861.6 L340.0,860.2 L339.0,858.9 L338.0,857.5 L337.0,856.2 L336.0,855.0 L335.0,853.8 L334.0,852.6 L333.1,851.5 L332.1,850.4 L331.1,849.4 L330.1,848.4 L329.1,847.4 L328.1,846.5 L327.1,845.5 L326.1,844.6 L325.1,843.7 L324.1,842.8 L323.1,841.9 L322.2,841.1 L321.2,840.3 L320.2,839.5 L319.2,838.8 L318.2,838.0 L317.2,837.4 L316.2,836.7 L315.2,836.1 L314.2,835.5 L313.2,834.9 L312.2,834.4Z" fill="#7570b3" fill-opacity="0.3" clip-path="url(#c5)"/>
<path d="M312.2,834.4 L313.2,834.4 L314.2,834.4 L315.2,834.4 L316.2,834.4 L317.2,834.4 L318.2,834.4 L319.2,834.4 L320.2,834.4 L321.2,834.4 L322.2,834.4 L323.1,834.4 L324.1,834.4 L325.1,834.4 L326.1,834.5 L327.1,834.5 L328.1,834.5 L329.1,834.5 L330.1,834.5 L331.1,834.5 L332.1,834.5 L333.1,834.5 L334.0,834.5 L335.0,834.5 L336.0,834.5 L337.0,834.5 L338.0,834.6 L339.0,834.6 L340.0,834.6 L341.0,834.6 L342.0,834.6 L343.0,834.6 L343.9,834.6 L344.9,834.6 L345.9,834.6 L346.9,834.7 L347.9,834.7 L348.9,834.7 L349.9,834.7 L350.9,834.7 L351.9,834.7 L352.9,834.7 L353.9,834.7 L354.8,834.7 L355.8,834.8 L356.8,834.8 L357.8,834.8 L358.8,834.8 L359.8,834.8 L360.8,834.8 L361.8,834.9 L362.8,834.9 L363.8,834.9 L364.8,834.9 L365.7,834.9 L366.7,835.0 L367.7,835.0 L368.7,835.0 L369.7,835.0 L370.7,835.0 L371.7,835.1 L372.7,835.1 L373.7,835.1 L374.7,835.1 L375.6,835.2 L376.6,835.2 L377.6,835.2 L378.6,835.2 L379.6,835.2 L380.6,835.3 L381.6,835.3 L382.6,835.3 L383.6,835.3 L384.6,835.3 L385.6,835.4 L386.5,835.4 L387.5,835.4 L388.5,835.4 L389.5,835.5 L390.5,835.5 L391.5,835.5 L392.5,835.5 L393.5,835.5 L394.5,835.5 L395.5,835.6 L396.5,835.6 L397.4,835.6 L398.4,835.6 L399.4,835.6 L400.4,835.7 L401.4,835.7 L402.4,835.7 L403.4,835.7 L404.4,835.7 L405.4,835.8 L406.4,835.8 L407.4,835.8 L408.3,835.8 L409.3,835.8 L410.3,835.8 L411.3,835.9 L412.3,835.9 L413.3,835.9 L414.3,835.9 L415.3,835.9 L416.3,836.0 L417.3,836.0 L418.2,836.0 L419.2,836.0 L420.2,836.0 L421.2,836.0 L422.2,836.1 L423.2,836.1 L424.2,836.1 L425.2,836.1 L426.2,836.1 L427.2,836.2 L428.2,836.2 L429.1,836.2 L430.1,836.2 L431.1,836.2 L432.1,836.3 L433.1,836.3 L434.1,836.3 L435.1,836.3 L436.1,836.3 L437.1,836.3 L438.1,836.4 L439.1,836.4 L440.0,836.4 L441.0,836.4 L442.0,836.4 L443.0,836.5 L444.0,836.5 L445.0,836.5 L446.0,836.5 L447.0,836.5 L448.0,836.5 L449.0,836.6 L449.9,836.6 L450.9,836.6 L451.9,836.6 L452.9,836.6 L453.9,836.7 L454.9,836.7 L455.9,836.7 L456.9,836.7 L457.9,836.7 L458.9,836.8 L459.9,836.8 L460.8,836.8 L461.8,836.8 L462.8,836.8 L463.8,836.8 L464.8,836.9 L465.8,836.9 L466.8,836.9 L467.8,836.9 L468.8,836.9 L469.8,837.0 L470.8,837.0 L470.8,840.7 L469.8,840.6 L468.8,840.6 L467.8,840.6 L466.8,840.5 L465.8,840.5 L464.8,840.5 L463.8,840.4 L462.8,840.4 L461.8,840.4 L460.8,840.3 L459.9,840.3 L458.9,840.3 L457.9,840.2 L456.9,840.2 L455.9,840.2 L454.9,840.1 L453.9,840.1 L452.9,840.1 L451.9,840.0 L450.9,840.0 L449.9,840.0 L449.0,839.9 L448.0,839.9 L447.0,839.9 L446.0,839.8 L445.0,839.8 L444.0,839.8 L443.0,839.7 L442.0,839.7 L441.0,839.7 L440.0,839.6 L439.1,839.6 L438.1,839.6 L437.1,839.5 L436.1,839.5 L435.1,839.5 L434.1,839.4 L433.1,839.4 L432.1,839.4 L431.1,839.3 L430.1,839.3 L429.1,839.3 L428.2,839.2 L427.2,839.2 L426.2,839.2 L425.2,839.1 L424.2,839.1 L423.2,839.1 L422.2,839.0 L421.2,839.0 L420.2,839.0 L419.2,838.9 L418.2,838.9 L417.3,838.9 L416.3,838.8 L415.3,838.8 L414.3,838.8 L413.3,838.7 L412.3,838.7 L411.3,838.7 L410.3,838.6 L409.3,838.6 L408.3,838.6 L407.4,838.5 L406.4,838.5 L405.4,838.5 L404.4,838.4 L403.4,838.4 L402.4,838.4 L401.4,838.3 L400.4,838.3 L399.4,838.3 L398.4,838.2 L397.4,838.2 L396.5,838.1 L395.5,838.1 L394.5,838.1 L393.5,838.0 L392.5,838.0 L391.5,838.0 L390.5,837.9 L389.5,837.9 L388.5,837.8 L387.5,837.8 L386.5,837.8 L385.6,837.7 L384.6,837.7 L383.6,837.6 L382.6,837.6 L381.6,837.6 L380.6,837.5 L379.6,837.5 L378.6,837.4 L377.6,837.4 L376.6,837.3 L375.6,837.3 L374.7,837.2 L373.7,837.2 L372.7,837.2 L371.7,837.1 L370.7,837.1 L369.7,837.0 L368.7,837.0 L367.7,836.9 L366.7,836.9 L365.7,836.8 L364.8,836.8 L363.8,836.7 L362.8,836.7 L361.8,836.6 L360.8,836.6 L359.8,836.6 L358.8,836.5 L357.8,836.5 L356.8,836.4 L355.8,836.4 L354.8,836.3 L353.9,836.3 L352.9,836.2 L351.9,836.2 L350.9,836.1 L349.9,836.1 L348.9,836.1 L347.9,836.0 L346.9,836.0 L345.9,835.9 L344.9,835.9 L343.9,835.8 L343.0,835.8 L342.0,835.7 L341.0,835.7 L340.0,835.7 L339.0,835.6 L338.0,835.6 L337.0,835.5 L336.0,835.5 L335.0,835.4 L334.0,835.4 L333.1,835.3 L332.1,835.3 L331.1,835.2 L330.1,835.2 L329.1,835.2 L328.1,835.1 L327.1,835.1 L326.1,835.0 L325.1,835.0 L324.1,834.9 L323.1,834.9 L322.2,834.8 L321.2,834.8 L320.2,834.7 L319.2,834.7 L318.2,834.7 L317.2,834.6 L316.2,834.6 L315.2,834.5 L314.2,834.5 L313.2,834.4 L312.2,834.4Z" fill="#e7298a" fill-opacity="0.155" clip-path="url(#c5)"/>
<path d="M312.2,834.4 L313.2,834.6 L314.2,834.8 L315.2,835.1 L316.2,835.3 L317.2,835.6 L318.2,835.9 L319.2,836.3 L320.2,836.6 L321.2,837.0 L322.2,837.3 L323.1,837.7 L324.1,838.1 L325.1,838.5 L326.1,838.9 L327.1,839.4 L328.1,839.9 L329.1,840.4 L330.1,840.9 L331.1,841.4 L332.1,841.8 L333.1,842.3 L334.0,842.7 L335.0,843.1 L336.0,843.5 L337.0,843.8 L338.0,844.2 L339.0,844.5 L340.0,844.8 L341.0,845.1 L342.0,845.3 L343.0,845.6 L343.9,845.9 L344.9,846.2 L345.9,846.6 L346.9,847.1 L347.9,847.6 L348.9,848.1 L349.9,848.6 L350.9,849.2 L351.9,849.8 L352.9,850.5 L353.9,851.3 L354.8,852.1 L355.8,853.0 L356.8,853.8 L357.8,854.6 L358.8,855.3 L359.8,856.0 L360.8,856.7 L361.8,857.4 L362.8,858.1 L363.8,858.8 L364.8,859.6 L365.7,860.5 L366.7,861.4 L367.7,862.3 L368.7,863.2 L369.7,864.2 L370.7,865.0 L371.7,865.9 L372.7,866.7 L373.7,867.5 L374.7,868.3 L375.6,869.1 L376.6,869.8 L377.6,870.6 L378.6,871.3 L379.6,872.0 L380.6,872.7 L381.6,873.4 L382.6,874.0 L383.6,874.7 L384.6,875.4 L385.6,876.1 L386.5,876.9 L387.5,877.6 L388.5,878.3 L389.5,879.0 L390.5,879.8 L391.5,880.5 L392.5,881.1 L393.5,881.8 L394.5,882.5 L395.5,883.2 L396.5,883.9 L397.4,884.5 L398.4,885.2 L399.4,885.9 L400.4,886.5 L401.4,887.2 L402.4,887.8 L403.4,888.5 L404.4,889.1 L405.4,889.7 L406.4,890.3 L407.4,891.0 L408.3,891.6 L409.3,892.2 L410.3,892.8 L411.3,893.4 L412.3,893.9 L413.3,894.5 L414.3,895.1 L415.3,895.7 L416.3,896.3 L417.3,896.9 L418.2,897.5 L419.2,898.1 L420.2,898.7 L421.2,899.3 L422.2,899.9 L423.2,900.6 L424.2,901.2 L425.2,901.8 L426.2,902.4 L427.2,903.0 L428.2,903.6 L429.1,904.2 L430.1,904.7 L431.1,905.3 L432.1,905.8 L433.1,906.4 L434.1,906.9 L435.1,907.4 L436.1,907.9 L437.1,908.4 L438.1,908.9 L439.1,909.4 L440.0,909.8 L441.0,910.3 L442.0,910.8 L443.0,911.2 L444.0,911.7 L445.0,912.1 L446.0,912.6 L447.0,913.0 L448.0,913.4 L449.0,913.8 L449.9,914.2 L450.9,914.6 L451.9,915.0 L452.9,915.4 L453.9,915.8 L454.9,916.2 L455.9,916.6 L456.9,917.0 L457.9,917.3 L458.9,917.7 L459.9,918.1 L460.8,918.5 L461.8,918.8 L462.8,919.2 L463.8,919.6 L464.8,919.9 L465.8,920.3 L466.8,920.7 L467.8,921.0 L468.8,921.4 L469.8,921.7 L470.8,922.1" fill="none" stroke="#d95f02" stroke-width="4.2" stroke-linejoin="round" stroke-linecap="butt" clip-path="url(#c5)"/>
<path d="M312.2,834.4 L313.2,834.6 L314.2,834.8 L315.2,835.1 L316.2,835.5 L317.2,835.9 L318.2,836.3 L319.2,836.8 L320.2,837.3 L321.2,838.0 L322.2,838.7 L323.1,839.5 L324.1,840.3 L325.1,841.1 L326.1,841.8 L327.1,842.5 L328.1,843.3 L329.1,844.1 L330.1,844.9 L331.1,845.7 L332.1,846.6 L333.1,847.5 L334.0,848.5 L335.0,849.5 L336.0,850.6 L337.0,851.6 L338.0,852.7 L339.0,853.8 L340.0,854.9 L341.0,856.0 L342.0,857.1 L343.0,858.3 L343.9,859.5 L344.9,860.7 L345.9,862.0 L346.9,863.3 L347.9,864.7 L348.9,866.1 L349.9,867.6 L350.9,869.1 L351.9,870.6 L352.9,872.1 L353.9,873.6 L354.8,875.2 L355.8,876.8 L356.8,878.4 L357.8,880.1 L358.8,881.8 L359.8,883.6 L360.8,885.4 L361.8,887.2 L362.8,889.0 L363.8,890.9 L364.8,892.7 L365.7,894.5 L366.7,896.3 L367.7,898.1 L368.7,899.9 L369.7,901.6 L370.7,903.4 L371.7,905.1 L372.7,906.7 L373.7,908.4 L374.7,910.0 L375.6,911.6 L376.6,913.2 L377.6,914.7 L378.6,916.2 L379.6,917.7 L380.6,919.2 L381.6,920.6 L382.6,922.0 L383.6,923.2 L384.6,924.2 L385.6,925.2 L386.5,926.0 L387.5,926.8 L388.5,927.6 L389.5,928.3 L390.5,929.0 L391.5,929.7 L392.5,930.4 L393.5,931.1 L394.5,931.8 L395.5,932.4 L396.5,933.0 L397.4,933.4 L398.4,933.8 L399.4,934.1 L400.4,934.4 L401.4,934.7 L402.4,934.9 L403.4,935.2 L404.4,935.4 L405.4,935.7 L406.4,936.0 L407.4,936.3 L408.3,936.6 L409.3,937.0 L410.3,937.3 L411.3,937.6 L412.3,937.9 L413.3,938.2 L414.3,938.5 L415.3,938.8 L416.3,939.1 L417.3,939.4 L418.2,939.6 L419.2,939.9 L420.2,940.1 L421.2,940.3 L422.2,940.5 L423.2,940.7 L424.2,940.9 L425.2,941.1 L426.2,941.2 L427.2,941.4 L428.2,941.6 L429.1,941.8 L430.1,942.0 L431.1,942.2 L432.1,942.4 L433.1,942.6 L434.1,942.8 L435.1,943.0 L436.1,943.2 L437.1,943.4 L438.1,943.6 L439.1,943.8 L440.0,944.0 L441.0,944.2 L442.0,944.4 L443.0,944.5 L444.0,944.7 L445.0,944.9 L446.0,945.0 L447.0,945.2 L448.0,945.4 L449.0,945.5 L449.9,945.7 L450.9,945.8 L451.9,946.0 L452.9,946.1 L453.9,946.3 L454.9,946.4 L455.9,946.6 L456.9,946.7 L457.9,946.8 L458.9,947.0 L459.9,947.1 L460.8,947.2 L461.8,947.4 L462.8,947.5 L463.8,947.6 L464.8,947.7 L465.8,947.9 L466.8,948.0 L467.8,948.1 L468.8,948.2 L469.8,948.3 L470.8,948.4" fill="none" stroke="#7570b3" stroke-width="4.2" stroke-linejoin="round" stroke-linecap="butt" clip-path="url(#c5)"/>
<path d="M312.2,834.4 L313.2,834.4 L314.2,834.4 L315.2,834.4 L316.2,834.5 L317.2,834.5 L318.2,834.5 L319.2,834.5 L320.2,834.6 L321.2,834.6 L322.2,834.6 L323.1,834.6 L324.1,834.6 L325.1,834.7 L326.1,834.7 L327.1,834.7 L328.1,834.7 L329.1,834.8 L330.1,834.8 L331.1,834.8 L332.1,834.8 L333.1,834.9 L334.0,834.9 L335.0,834.9 L336.0,834.9 L337.0,834.9 L338.0,835.0 L339.0,835.0 L340.0,835.0 L341.0,835.0 L342.0,835.1 L343.0,835.1 L343.9,835.1 L344.9,835.1 L345.9,835.2 L346.9,835.2 L347.9,835.2 L348.9,835.2 L349.9,835.3 L350.9,835.3 L351.9,835.3 L352.9,835.4 L353.9,835.4 L354.8,835.4 L355.8,835.4 L356.8,835.5 L357.8,835.5 L358.8,835.5 L359.8,835.5 L360.8,835.6 L361.8,835.6 L362.8,835.6 L363.8,835.7 L364.8,835.7 L365.7,835.7 L366.7,835.7 L367.7,835.8 L368.7,835.8 L369.7,835.8 L370.7,835.9 L371.7,835.9 L372.7,835.9 L373.7,836.0 L374.7,836.0 L375.6,836.0 L376.6,836.0 L377.6,836.1 L378.6,836.1 L379.6,836.1 L380.6,836.2 L381.6,836.2 L382.6,836.2 L383.6,836.3 L384.6,836.3 L385.6,836.3 L386.5,836.3 L387.5,836.4 L388.5,836.4 L389.5,836.4 L390.5,836.5 L391.5,836.5 L392.5,836.5 L393.5,836.5 L394.5,836.6 L395.5,836.6 L396.5,836.6 L397.4,836.6 L398.4,836.7 L399.4,836.7 L400.4,836.7 L401.4,836.7 L402.4,836.8 L403.4,836.8 L404.4,836.8 L405.4,836.8 L406.4,836.9 L407.4,836.9 L408.3,836.9 L409.3,836.9 L410.3,837.0 L411.3,837.0 L412.3,837.0 L413.3,837.0 L414.3,837.1 L415.3,837.1 L416.3,837.1 L417.3,837.1 L418.2,837.2 L419.2,837.2 L420.2,837.2 L421.2,837.2 L422.2,837.2 L423.2,837.3 L424.2,837.3 L425.2,837.3 L426.2,837.3 L427.2,837.4 L428.2,837.4 L429.1,837.4 L430.1,837.4 L431.1,837.5 L432.1,837.5 L433.1,837.5 L434.1,837.5 L435.1,837.6 L436.1,837.6 L437.1,837.6 L438.1,837.6 L439.1,837.7 L440.0,837.7 L441.0,837.7 L442.0,837.7 L443.0,837.8 L444.0,837.8 L445.0,837.8 L446.0,837.8 L447.0,837.9 L448.0,837.9 L449.0,837.9 L449.9,837.9 L450.9,838.0 L451.9,838.0 L452.9,838.0 L453.9,838.0 L454.9,838.1 L455.9,838.1 L456.9,838.1 L457.9,838.1 L458.9,838.2 L459.9,838.2 L460.8,838.2 L461.8,838.2 L462.8,838.3 L463.8,838.3 L464.8,838.3 L465.8,838.3 L466.8,838.4 L467.8,838.4 L468.8,838.4 L469.8,838.4 L470.8,838.5" fill="none" stroke="#e7298a" stroke-width="4.2" stroke-linejoin="round" stroke-linecap="butt" clip-path="url(#c5)"/>
<line x1="312.25" y1="834.38" x2="470.75" y2="834.38" stroke="#000" stroke-width="2.6"/>
<rect x="312.25" y="803.50" width="158.50" height="154.40" fill="none" stroke="#000" stroke-width="2.0"/>
<line x1="301.95" y1="834.38" x2="312.25" y2="834.38" stroke="#000" stroke-width="2.0"/>
<line x1="301.95" y1="896.14" x2="312.25" y2="896.14" stroke="#000" stroke-width="2.0"/>
<line x1="301.95" y1="957.90" x2="312.25" y2="957.90" stroke="#000" stroke-width="2.0"/>
<line x1="371.69" y1="957.90" x2="371.69" y2="968.20" stroke="#000" stroke-width="2.0"/>
<line x1="470.75" y1="957.90" x2="470.75" y2="968.20" stroke="#000" stroke-width="2.0"/>
<g font-size="17.7" fill="#111"><text transform="translate(345.12,794.10) scale(0.941,1)">S</text><text transform="translate(356.23,794.10) scale(1.088,1)">o</text><text transform="translate(366.94,794.10) scale(1.127,1)">u</text><text transform="translate(378.27,794.10) scale(1.300,1)">t</text><text transform="translate(384.89,794.10) scale(1.127,1)">h</text><text transform="translate(401.55,794.10) scale(1.014,1)">A</text><text transform="translate(413.52,794.10) scale(1.030,1)">s</text><text transform="translate(422.63,794.10) scale(1.236,1)">i</text><text transform="translate(427.50,794.10) scale(1.090,1)">a</text></g>
<g font-size="24.4" fill="#111" font-weight="bold" style="stroke-width:0.7px"><text transform="translate(321.43,826.30) scale(1.000,1)">f</text></g>
<path d="M502.5,834.4 L503.5,834.7 L504.5,834.9 L505.5,835.2 L506.5,835.4 L507.5,835.7 L508.4,836.0 L509.4,836.2 L510.4,836.5 L511.4,836.7 L512.4,837.0 L513.4,837.2 L514.4,837.5 L515.4,837.7 L516.4,837.9 L517.4,838.2 L518.4,838.4 L519.3,838.6 L520.3,838.9 L521.3,839.1 L522.3,839.3 L523.3,839.5 L524.3,839.8 L525.3,840.0 L526.3,840.2 L527.3,840.4 L528.3,840.6 L529.2,840.8 L530.2,841.0 L531.2,841.2 L532.2,841.4 L533.2,841.6 L534.2,841.8 L535.2,842.0 L536.2,842.2 L537.2,842.4 L538.2,842.6 L539.2,842.8 L540.1,842.9 L541.1,843.1 L542.1,843.3 L543.1,843.4 L544.1,843.6 L545.1,843.8 L546.1,843.9 L547.1,844.1 L548.1,844.2 L549.1,844.4 L550.0,844.5 L551.0,844.6 L552.0,844.8 L553.0,844.9 L554.0,845.0 L555.0,845.2 L556.0,845.3 L557.0,845.4 L558.0,845.5 L559.0,845.7 L560.0,845.8 L560.9,845.9 L561.9,846.0 L562.9,846.2 L563.9,846.3 L564.9,846.4 L565.9,846.6 L566.9,846.7 L567.9,846.8 L568.9,847.0 L569.9,847.1 L570.9,847.2 L571.8,847.4 L572.8,847.5 L573.8,847.7 L574.8,847.8 L575.8,848.0 L576.8,848.2 L577.8,848.3 L578.8,848.5 L579.8,848.7 L580.8,848.9 L581.8,849.0 L582.7,849.2 L583.7,849.4 L584.7,849.7 L585.7,849.9 L586.7,850.1 L587.7,850.4 L588.7,850.7 L589.7,850.9 L590.7,851.2 L591.7,851.5 L592.6,851.8 L593.6,852.0 L594.6,852.3 L595.6,852.6 L596.6,852.9 L597.6,853.2 L598.6,853.5 L599.6,853.8 L600.6,854.1 L601.6,854.4 L602.6,854.7 L603.5,855.0 L604.5,855.3 L605.5,855.5 L606.5,855.8 L607.5,856.0 L608.5,856.3 L609.5,856.5 L610.5,856.8 L611.5,857.0 L612.5,857.3 L613.5,857.5 L614.4,857.8 L615.4,858.0 L616.4,858.2 L617.4,858.5 L618.4,858.7 L619.4,859.0 L620.4,859.2 L621.4,859.4 L622.4,859.7 L623.4,859.9 L624.3,860.1 L625.3,860.3 L626.3,860.5 L627.3,860.8 L628.3,861.0 L629.3,861.2 L630.3,861.4 L631.3,861.6 L632.3,861.7 L633.3,861.9 L634.3,862.1 L635.2,862.3 L636.2,862.4 L637.2,862.6 L638.2,862.8 L639.2,862.9 L640.2,863.1 L641.2,863.3 L642.2,863.4 L643.2,863.6 L644.2,863.7 L645.1,863.9 L646.1,864.0 L647.1,864.2 L648.1,864.3 L649.1,864.5 L650.1,864.6 L651.1,864.7 L652.1,864.9 L653.1,865.0 L654.1,865.1 L655.1,865.2 L656.0,865.3 L657.0,865.5 L658.0,865.6 L659.0,865.7 L660.0,865.8 L661.0,865.9 L661.0,934.4 L660.0,934.0 L659.0,933.5 L658.0,933.1 L657.0,932.6 L656.0,932.1 L655.1,931.7 L654.1,931.2 L653.1,930.7 L652.1,930.3 L651.1,929.8 L650.1,929.3 L649.1,928.9 L648.1,928.4 L647.1,927.9 L646.1,927.5 L645.1,927.0 L644.2,926.5 L643.2,926.1 L642.2,925.6 L641.2,925.1 L640.2,924.6 L639.2,924.2 L638.2,923.7 L637.2,923.2 L636.2,922.7 L635.2,922.2 L634.3,921.8 L633.3,921.3 L632.3,920.8 L631.3,920.3 L630.3,919.8 L629.3,919.4 L628.3,918.9 L627.3,918.4 L626.3,917.9 L625.3,917.4 L624.3,916.9 L623.4,916.5 L622.4,916.0 L621.4,915.5 L620.4,915.0 L619.4,914.5 L618.4,914.0 L617.4,913.5 L616.4,913.0 L615.4,912.5 L614.4,912.0 L613.5,911.5 L612.5,911.0 L611.5,910.5 L610.5,910.0 L609.5,909.5 L608.5,909.0 L607.5,908.5 L606.5,907.9 L605.5,907.4 L604.5,906.9 L603.5,906.4 L602.6,905.9 L601.6,905.4 L600.6,904.9 L599.6,904.4 L598.6,903.8 L597.6,903.3 L596.6,902.8 L595.6,902.3 L594.6,901.7 L593.6,901.2 L592.6,900.7 L591.7,900.1 L590.7,899.6 L589.7,899.0 L588.7,898.5 L587.7,897.9 L586.7,897.3 L585.7,896.7 L584.7,896.1 L583.7,895.5 L582.7,894.9 L581.8,894.3 L580.8,893.6 L579.8,893.0 L578.8,892.3 L577.8,891.6 L576.8,890.9 L575.8,890.2 L574.8,889.4 L573.8,888.7 L572.8,887.9 L571.8,887.1 L570.9,886.3 L569.9,885.5 L568.9,884.7 L567.9,883.9 L566.9,883.1 L565.9,882.3 L564.9,881.5 L563.9,880.6 L562.9,879.8 L561.9,879.0 L560.9,878.1 L560.0,877.3 L559.0,876.4 L558.0,875.6 L557.0,874.8 L556.0,874.0 L555.0,873.1 L554.0,872.3 L553.0,871.5 L552.0,870.7 L551.0,869.9 L550.0,869.1 L549.1,868.4 L548.1,867.6 L547.1,866.8 L546.1,866.1 L545.1,865.4 L544.1,864.7 L543.1,864.0 L542.1,863.3 L541.1,862.7 L540.1,862.0 L539.2,861.4 L538.2,860.8 L537.2,860.3 L536.2,859.7 L535.2,859.2 L534.2,858.6 L533.2,858.1 L532.2,857.5 L531.2,857.0 L530.2,856.5 L529.2,855.9 L528.3,855.4 L527.3,854.8 L526.3,854.2 L525.3,853.6 L524.3,853.0 L523.3,852.4 L522.3,851.7 L521.3,851.0 L520.3,850.2 L519.3,849.5 L518.4,848.7 L517.4,848.0 L516.4,847.2 L515.4,846.4 L514.4,845.5 L513.4,844.7 L512.4,843.8 L511.4,842.9 L510.4,842.0 L509.4,841.1 L508.4,840.2 L507.5,839.3 L506.5,838.3 L505.5,837.4 L504.5,836.4 L503.5,835.4 L502.5,834.4Z" fill="#d95f02" fill-opacity="0.155" clip-path="url(#c6)"/>
<path d="M502.5,834.4 L503.5,834.8 L504.5,835.2 L505.5,835.6 L506.5,836.0 L507.5,836.4 L508.4,836.8 L509.4,837.2 L510.4,837.6 L511.4,838.0 L512.4,838.3 L513.4,838.7 L514.4,839.1 L515.4,839.4 L516.4,839.8 L517.4,840.1 L518.4,840.5 L519.3,840.8 L520.3,841.1 L521.3,841.5 L522.3,841.8 L523.3,842.1 L524.3,842.4 L525.3,842.7 L526.3,843.0 L527.3,843.3 L528.3,843.6 L529.2,843.8 L530.2,844.1 L531.2,844.4 L532.2,844.7 L533.2,844.9 L534.2,845.2 L535.2,845.4 L536.2,845.7 L537.2,846.0 L538.2,846.2 L539.2,846.5 L540.1,846.8 L541.1,847.0 L542.1,847.3 L543.1,847.6 L544.1,847.9 L545.1,848.1 L546.1,848.4 L547.1,848.7 L548.1,848.9 L549.1,849.2 L550.0,849.4 L551.0,849.7 L552.0,850.0 L553.0,850.2 L554.0,850.5 L555.0,850.7 L556.0,851.0 L557.0,851.2 L558.0,851.5 L559.0,851.7 L560.0,852.0 L560.9,852.3 L561.9,852.5 L562.9,852.8 L563.9,853.0 L564.9,853.3 L565.9,853.6 L566.9,853.8 L567.9,854.1 L568.9,854.4 L569.9,854.6 L570.9,854.9 L571.8,855.2 L572.8,855.5 L573.8,855.8 L574.8,856.0 L575.8,856.3 L576.8,856.6 L577.8,856.9 L578.8,857.2 L579.8,857.5 L580.8,857.8 L581.8,858.2 L582.7,858.5 L583.7,858.8 L584.7,859.1 L585.7,859.5 L586.7,859.8 L587.7,860.2 L588.7,860.6 L589.7,860.9 L590.7,861.3 L591.7,861.7 L592.6,862.1 L593.6,862.4 L594.6,862.8 L595.6,863.2 L596.6,863.6 L597.6,864.0 L598.6,864.4 L599.6,864.8 L600.6,865.2 L601.6,865.6 L602.6,865.9 L603.5,866.3 L604.5,866.7 L605.5,867.1 L606.5,867.4 L607.5,867.8 L608.5,868.2 L609.5,868.5 L610.5,868.9 L611.5,869.3 L612.5,869.6 L613.5,870.0 L614.4,870.4 L615.4,870.7 L616.4,871.1 L617.4,871.5 L618.4,871.8 L619.4,872.2 L620.4,872.6 L621.4,872.9 L622.4,873.3 L623.4,873.6 L624.3,874.0 L625.3,874.3 L626.3,874.7 L627.3,875.0 L628.3,875.3 L629.3,875.6 L630.3,876.0 L631.3,876.3 L632.3,876.6 L633.3,876.9 L634.3,877.1 L635.2,877.4 L636.2,877.7 L637.2,877.9 L638.2,878.2 L639.2,878.5 L640.2,878.7 L641.2,879.0 L642.2,879.2 L643.2,879.5 L644.2,879.7 L645.1,879.9 L646.1,880.2 L647.1,880.4 L648.1,880.6 L649.1,880.9 L650.1,881.1 L651.1,881.3 L652.1,881.5 L653.1,881.7 L654.1,881.9 L655.1,882.1 L656.0,882.3 L657.0,882.5 L658.0,882.7 L659.0,882.8 L660.0,883.0 L661.0,883.2 L661.0,922.7 L660.0,922.3 L659.0,921.9 L658.0,921.5 L657.0,921.1 L656.0,920.7 L655.1,920.3 L654.1,919.9 L653.1,919.5 L652.1,919.1 L651.1,918.7 L650.1,918.3 L649.1,917.8 L648.1,917.4 L647.1,917.0 L646.1,916.6 L645.1,916.1 L644.2,915.7 L643.2,915.3 L642.2,914.8 L641.2,914.4 L640.2,914.0 L639.2,913.5 L638.2,913.1 L637.2,912.6 L636.2,912.2 L635.2,911.7 L634.3,911.3 L633.3,910.8 L632.3,910.4 L631.3,909.9 L630.3,909.4 L629.3,908.9 L628.3,908.4 L627.3,908.0 L626.3,907.5 L625.3,907.0 L624.3,906.5 L623.4,906.0 L622.4,905.5 L621.4,905.0 L620.4,904.5 L619.4,904.0 L618.4,903.5 L617.4,903.0 L616.4,902.5 L615.4,902.0 L614.4,901.5 L613.5,901.0 L612.5,900.5 L611.5,900.0 L610.5,899.5 L609.5,899.0 L608.5,898.5 L607.5,898.0 L606.5,897.5 L605.5,897.0 L604.5,896.5 L603.5,896.0 L602.6,895.6 L601.6,895.1 L600.6,894.6 L599.6,894.1 L598.6,893.7 L597.6,893.2 L596.6,892.7 L595.6,892.2 L594.6,891.7 L593.6,891.3 L592.6,890.8 L591.7,890.3 L590.7,889.8 L589.7,889.3 L588.7,888.8 L587.7,888.3 L586.7,887.8 L585.7,887.2 L584.7,886.7 L583.7,886.1 L582.7,885.6 L581.8,885.0 L580.8,884.5 L579.8,883.9 L578.8,883.3 L577.8,882.6 L576.8,882.0 L575.8,881.3 L574.8,880.7 L573.8,880.0 L572.8,879.3 L571.8,878.6 L570.9,877.9 L569.9,877.2 L568.9,876.5 L567.9,875.8 L566.9,875.0 L565.9,874.3 L564.9,873.6 L563.9,872.8 L562.9,872.1 L561.9,871.3 L560.9,870.6 L560.0,869.9 L559.0,869.1 L558.0,868.4 L557.0,867.7 L556.0,867.0 L555.0,866.3 L554.0,865.6 L553.0,864.9 L552.0,864.2 L551.0,863.5 L550.0,862.8 L549.1,862.2 L548.1,861.5 L547.1,860.9 L546.1,860.3 L545.1,859.7 L544.1,859.1 L543.1,858.6 L542.1,858.0 L541.1,857.5 L540.1,857.0 L539.2,856.5 L538.2,856.1 L537.2,855.6 L536.2,855.2 L535.2,854.8 L534.2,854.4 L533.2,854.0 L532.2,853.6 L531.2,853.2 L530.2,852.9 L529.2,852.5 L528.3,852.0 L527.3,851.6 L526.3,851.2 L525.3,850.7 L524.3,850.2 L523.3,849.7 L522.3,849.2 L521.3,848.6 L520.3,848.1 L519.3,847.5 L518.4,846.8 L517.4,846.2 L516.4,845.5 L515.4,844.8 L514.4,844.1 L513.4,843.4 L512.4,842.7 L511.4,841.9 L510.4,841.1 L509.4,840.3 L508.4,839.5 L507.5,838.7 L506.5,837.9 L505.5,837.0 L504.5,836.1 L503.5,835.3 L502.5,834.4Z" fill="#d95f02" fill-opacity="0.3" clip-path="url(#c6)"/>
<path d="M502.5,834.4 L503.5,834.8 L504.5,835.3 L505.5,835.7 L506.5,836.2 L507.5,836.7 L508.4,837.2 L509.4,837.7 L510.4,838.2 L511.4,838.8 L512.4,839.3 L513.4,839.9 L514.4,840.4 L515.4,841.0 L516.4,841.6 L517.4,842.2 L518.4,842.8 L519.3,843.4 L520.3,844.1 L521.3,844.8 L522.3,845.5 L523.3,846.2 L524.3,847.0 L525.3,847.8 L526.3,848.6 L527.3,849.4 L528.3,850.2 L529.2,851.1 L530.2,851.9 L531.2,852.8 L532.2,853.7 L533.2,854.7 L534.2,855.6 L535.2,856.5 L536.2,857.5 L537.2,858.5 L538.2,859.5 L539.2,860.4 L540.1,861.5 L541.1,862.5 L542.1,863.5 L543.1,864.5 L544.1,865.6 L545.1,866.6 L546.1,867.7 L547.1,868.7 L548.1,869.8 L549.1,870.9 L550.0,871.9 L551.0,873.0 L552.0,874.1 L553.0,875.2 L554.0,876.3 L555.0,877.4 L556.0,878.4 L557.0,879.5 L558.0,880.6 L559.0,881.7 L560.0,882.8 L560.9,883.9 L561.9,885.0 L562.9,886.1 L563.9,887.2 L564.9,888.4 L565.9,889.5 L566.9,890.7 L567.9,891.9 L568.9,893.1 L569.9,894.2 L570.9,895.4 L571.8,896.6 L572.8,897.8 L573.8,899.1 L574.8,900.3 L575.8,901.5 L576.8,902.7 L577.8,903.9 L578.8,905.1 L579.8,906.3 L580.8,907.4 L581.8,908.6 L582.7,909.8 L583.7,911.0 L584.7,912.2 L585.7,913.5 L586.7,914.7 L587.7,916.0 L588.7,917.2 L589.7,918.4 L590.7,919.6 L591.7,920.8 L592.6,921.9 L593.6,923.0 L594.6,924.0 L595.6,924.9 L596.6,925.9 L597.6,926.8 L598.6,927.7 L599.6,928.6 L600.6,929.5 L601.6,930.4 L602.6,931.2 L603.5,932.0 L604.5,932.7 L605.5,933.4 L606.5,934.0 L607.5,934.6 L608.5,935.1 L609.5,935.6 L610.5,936.1 L611.5,936.6 L612.5,937.1 L613.5,937.5 L614.4,938.0 L615.4,938.4 L616.4,938.8 L617.4,939.2 L618.4,939.6 L619.4,940.0 L620.4,940.3 L621.4,940.7 L622.4,941.0 L623.4,941.4 L624.3,941.7 L625.3,942.0 L626.3,942.3 L627.3,942.6 L628.3,942.9 L629.3,943.1 L630.3,943.4 L631.3,943.6 L632.3,943.8 L633.3,944.0 L634.3,944.2 L635.2,944.4 L636.2,944.6 L637.2,944.8 L638.2,945.0 L639.2,945.2 L640.2,945.3 L641.2,945.5 L642.2,945.7 L643.2,945.9 L644.2,946.0 L645.1,946.2 L646.1,946.4 L647.1,946.5 L648.1,946.6 L649.1,946.8 L650.1,946.9 L651.1,947.0 L652.1,947.2 L653.1,947.3 L654.1,947.4 L655.1,947.4 L656.0,947.5 L657.0,947.6 L658.0,947.7 L659.0,947.7 L660.0,947.7 L661.0,947.8 L661.0,954.3 L660.0,954.3 L659.0,954.3 L658.0,954.3 L657.0,954.3 L656.0,954.3 L655.1,954.2 L654.1,954.2 L653.1,954.2 L652.1,954.1 L651.1,954.1 L650.1,954.0 L649.1,954.0 L648.1,953.9 L647.1,953.9 L646.1,953.8 L645.1,953.7 L644.2,953.6 L643.2,953.6 L642.2,953.5 L641.2,953.4 L640.2,953.3 L639.2,953.2 L638.2,953.1 L637.2,953.0 L636.2,952.9 L635.2,952.8 L634.3,952.7 L633.3,952.6 L632.3,952.5 L631.3,952.4 L630.3,952.2 L629.3,952.1 L628.3,952.0 L627.3,951.8 L626.3,951.7 L625.3,951.6 L624.3,951.4 L623.4,951.3 L622.4,951.2 L621.4,951.0 L620.4,950.9 L619.4,950.7 L618.4,950.6 L617.4,950.4 L616.4,950.2 L615.4,950.1 L614.4,949.9 L613.5,949.8 L612.5,949.6 L611.5,949.4 L610.5,949.3 L609.5,949.1 L608.5,948.9 L607.5,948.7 L606.5,948.5 L605.5,948.3 L604.5,948.0 L603.5,947.8 L602.6,947.5 L601.6,947.1 L600.6,946.8 L599.6,946.4 L598.6,946.1 L597.6,945.7 L596.6,945.3 L595.6,944.9 L594.6,944.4 L593.6,944.0 L592.6,943.6 L591.7,943.1 L590.7,942.7 L589.7,942.2 L588.7,941.8 L587.7,941.3 L586.7,940.9 L585.7,940.4 L584.7,940.0 L583.7,939.5 L582.7,939.1 L581.8,938.7 L580.8,938.3 L579.8,937.9 L578.8,937.5 L577.8,937.1 L576.8,936.7 L575.8,936.3 L574.8,935.8 L573.8,935.4 L572.8,934.9 L571.8,934.4 L570.9,933.8 L569.9,933.2 L568.9,932.5 L567.9,931.7 L566.9,930.8 L565.9,929.9 L564.9,928.8 L563.9,927.7 L562.9,926.5 L561.9,925.3 L560.9,924.0 L560.0,922.7 L559.0,921.3 L558.0,919.9 L557.0,918.4 L556.0,917.0 L555.0,915.5 L554.0,914.0 L553.0,912.5 L552.0,911.0 L551.0,909.5 L550.0,907.9 L549.1,906.4 L548.1,904.7 L547.1,902.9 L546.1,901.1 L545.1,899.2 L544.1,897.4 L543.1,895.4 L542.1,893.5 L541.1,891.6 L540.1,889.7 L539.2,887.8 L538.2,886.0 L537.2,884.3 L536.2,882.6 L535.2,880.9 L534.2,879.2 L533.2,877.6 L532.2,876.0 L531.2,874.3 L530.2,872.7 L529.2,871.1 L528.3,869.5 L527.3,867.9 L526.3,866.4 L525.3,864.8 L524.3,863.3 L523.3,861.7 L522.3,860.2 L521.3,858.7 L520.3,857.2 L519.3,855.8 L518.4,854.3 L517.4,852.9 L516.4,851.5 L515.4,850.1 L514.4,848.8 L513.4,847.4 L512.4,846.1 L511.4,844.8 L510.4,843.6 L509.4,842.3 L508.4,841.1 L507.5,840.0 L506.5,838.8 L505.5,837.7 L504.5,836.6 L503.5,835.5 L502.5,834.4Z" fill="#7570b3" fill-opacity="0.155" clip-path="url(#c6)"/>
<path d="M502.5,834.4 L503.5,834.9 L504.5,835.5 L505.5,836.1 L506.5,836.7 L507.5,837.3 L508.4,837.9 L509.4,838.6 L510.4,839.2 L511.4,839.9 L512.4,840.6 L513.4,841.2 L514.4,841.9 L515.4,842.6 L516.4,843.3 L517.4,844.0 L518.4,844.8 L519.3,845.5 L520.3,846.3 L521.3,847.1 L522.3,848.0 L523.3,848.9 L524.3,849.8 L525.3,850.7 L526.3,851.7 L527.3,852.7 L528.3,853.8 L529.2,854.8 L530.2,855.9 L531.2,857.0 L532.2,858.1 L533.2,859.3 L534.2,860.5 L535.2,861.6 L536.2,862.8 L537.2,864.0 L538.2,865.3 L539.2,866.5 L540.1,867.7 L541.1,869.0 L542.1,870.2 L543.1,871.5 L544.1,872.7 L545.1,874.0 L546.1,875.2 L547.1,876.4 L548.1,877.7 L549.1,878.9 L550.0,880.1 L551.0,881.4 L552.0,882.6 L553.0,883.8 L554.0,885.0 L555.0,886.2 L556.0,887.4 L557.0,888.6 L558.0,889.8 L559.0,891.1 L560.0,892.3 L560.9,893.5 L561.9,894.8 L562.9,896.0 L563.9,897.3 L564.9,898.5 L565.9,899.7 L566.9,901.0 L567.9,902.2 L568.9,903.5 L569.9,904.7 L570.9,906.0 L571.8,907.2 L572.8,908.5 L573.8,909.7 L574.8,911.0 L575.8,912.2 L576.8,913.5 L577.8,914.8 L578.8,916.1 L579.8,917.4 L580.8,918.8 L581.8,920.1 L582.7,921.3 L583.7,922.5 L584.7,923.6 L585.7,924.5 L586.7,925.5 L587.7,926.4 L588.7,927.3 L589.7,928.2 L590.7,929.1 L591.7,929.9 L592.6,930.8 L593.6,931.6 L594.6,932.4 L595.6,933.2 L596.6,934.0 L597.6,934.7 L598.6,935.4 L599.6,936.1 L600.6,936.7 L601.6,937.3 L602.6,937.9 L603.5,938.4 L604.5,938.9 L605.5,939.4 L606.5,939.8 L607.5,940.1 L608.5,940.4 L609.5,940.7 L610.5,941.0 L611.5,941.3 L612.5,941.5 L613.5,941.8 L614.4,942.1 L615.4,942.3 L616.4,942.6 L617.4,942.9 L618.4,943.1 L619.4,943.4 L620.4,943.6 L621.4,943.8 L622.4,944.1 L623.4,944.3 L624.3,944.5 L625.3,944.7 L626.3,945.0 L627.3,945.2 L628.3,945.4 L629.3,945.6 L630.3,945.8 L631.3,946.0 L632.3,946.2 L633.3,946.3 L634.3,946.5 L635.2,946.7 L636.2,946.9 L637.2,947.0 L638.2,947.2 L639.2,947.3 L640.2,947.5 L641.2,947.6 L642.2,947.7 L643.2,947.9 L644.2,948.0 L645.1,948.1 L646.1,948.2 L647.1,948.3 L648.1,948.4 L649.1,948.5 L650.1,948.6 L651.1,948.6 L652.1,948.7 L653.1,948.8 L654.1,948.8 L655.1,948.9 L656.0,948.9 L657.0,948.9 L658.0,949.0 L659.0,949.0 L660.0,949.0 L661.0,949.0 L661.0,952.5 L660.0,952.5 L659.0,952.5 L658.0,952.4 L657.0,952.4 L656.0,952.4 L655.1,952.4 L654.1,952.3 L653.1,952.3 L652.1,952.2 L651.1,952.2 L650.1,952.1 L649.1,952.1 L648.1,952.0 L647.1,951.9 L646.1,951.8 L645.1,951.8 L644.2,951.7 L643.2,951.6 L642.2,951.5 L641.2,951.4 L640.2,951.3 L639.2,951.2 L638.2,951.1 L637.2,950.9 L636.2,950.8 L635.2,950.7 L634.3,950.6 L633.3,950.4 L632.3,950.3 L631.3,950.2 L630.3,950.0 L629.3,949.9 L628.3,949.7 L627.3,949.6 L626.3,949.4 L625.3,949.3 L624.3,949.1 L623.4,949.0 L622.4,948.8 L621.4,948.6 L620.4,948.5 L619.4,948.3 L618.4,948.1 L617.4,948.0 L616.4,947.8 L615.4,947.6 L614.4,947.4 L613.5,947.3 L612.5,947.1 L611.5,946.9 L610.5,946.7 L609.5,946.5 L608.5,946.3 L607.5,946.1 L606.5,945.9 L605.5,945.7 L604.5,945.5 L603.5,945.2 L602.6,945.0 L601.6,944.7 L600.6,944.4 L599.6,944.1 L598.6,943.8 L597.6,943.5 L596.6,943.2 L595.6,942.8 L594.6,942.5 L593.6,942.1 L592.6,941.7 L591.7,941.3 L590.7,940.9 L589.7,940.5 L588.7,940.0 L587.7,939.6 L586.7,939.1 L585.7,938.6 L584.7,938.1 L583.7,937.6 L582.7,937.1 L581.8,936.6 L580.8,936.1 L579.8,935.5 L578.8,935.0 L577.8,934.4 L576.8,933.8 L575.8,933.2 L574.8,932.6 L573.8,931.9 L572.8,931.1 L571.8,930.3 L570.9,929.4 L569.9,928.5 L568.9,927.5 L567.9,926.4 L566.9,925.4 L565.9,924.3 L564.9,923.1 L563.9,921.9 L562.9,920.7 L561.9,919.5 L560.9,918.2 L560.0,916.9 L559.0,915.6 L558.0,914.3 L557.0,912.9 L556.0,911.6 L555.0,910.2 L554.0,908.9 L553.0,907.5 L552.0,905.9 L551.0,904.4 L550.0,902.7 L549.1,901.0 L548.1,899.2 L547.1,897.4 L546.1,895.6 L545.1,893.7 L544.1,891.9 L543.1,890.1 L542.1,888.3 L541.1,886.5 L540.1,884.8 L539.2,883.2 L538.2,881.6 L537.2,880.0 L536.2,878.5 L535.2,876.9 L534.2,875.3 L533.2,873.7 L532.2,872.2 L531.2,870.6 L530.2,869.1 L529.2,867.5 L528.3,866.0 L527.3,864.5 L526.3,863.0 L525.3,861.5 L524.3,860.1 L523.3,858.6 L522.3,857.2 L521.3,855.8 L520.3,854.4 L519.3,853.0 L518.4,851.7 L517.4,850.4 L516.4,849.1 L515.4,847.8 L514.4,846.6 L513.4,845.4 L512.4,844.3 L511.4,843.1 L510.4,842.1 L509.4,841.0 L508.4,840.0 L507.5,839.0 L506.5,838.0 L505.5,837.1 L504.5,836.1 L503.5,835.3 L502.5,834.4Z" fill="#7570b3" fill-opacity="0.3" clip-path="url(#c6)"/>
<path d="M502.5,834.4 L503.5,834.4 L504.5,834.4 L505.5,834.4 L506.5,834.4 L507.5,834.4 L508.4,834.4 L509.4,834.4 L510.4,834.3 L511.4,834.3 L512.4,834.3 L513.4,834.3 L514.4,834.3 L515.4,834.3 L516.4,834.3 L517.4,834.3 L518.4,834.3 L519.3,834.3 L520.3,834.3 L521.3,834.3 L522.3,834.3 L523.3,834.3 L524.3,834.3 L525.3,834.3 L526.3,834.3 L527.3,834.3 L528.3,834.3 L529.2,834.3 L530.2,834.3 L531.2,834.3 L532.2,834.3 L533.2,834.3 L534.2,834.3 L535.2,834.3 L536.2,834.3 L537.2,834.3 L538.2,834.3 L539.2,834.3 L540.1,834.3 L541.1,834.3 L542.1,834.3 L543.1,834.3 L544.1,834.3 L545.1,834.3 L546.1,834.3 L547.1,834.3 L548.1,834.3 L549.1,834.3 L550.0,834.3 L551.0,834.3 L552.0,834.4 L553.0,834.4 L554.0,834.4 L555.0,834.4 L556.0,834.4 L557.0,834.4 L558.0,834.4 L559.0,834.4 L560.0,834.4 L560.9,834.4 L561.9,834.4 L562.9,834.4 L563.9,834.4 L564.9,834.5 L565.9,834.5 L566.9,834.5 L567.9,834.5 L568.9,834.5 L569.9,834.5 L570.9,834.5 L571.8,834.5 L572.8,834.5 L573.8,834.6 L574.8,834.6 L575.8,834.6 L576.8,834.6 L577.8,834.6 L578.8,834.6 L579.8,834.6 L580.8,834.6 L581.8,834.6 L582.7,834.6 L583.7,834.6 L584.7,834.7 L585.7,834.7 L586.7,834.7 L587.7,834.7 L588.7,834.7 L589.7,834.7 L590.7,834.7 L591.7,834.7 L592.6,834.7 L593.6,834.7 L594.6,834.7 L595.6,834.8 L596.6,834.8 L597.6,834.8 L598.6,834.8 L599.6,834.8 L600.6,834.8 L601.6,834.8 L602.6,834.8 L603.5,834.8 L604.5,834.8 L605.5,834.8 L606.5,834.9 L607.5,834.9 L608.5,834.9 L609.5,834.9 L610.5,834.9 L611.5,834.9 L612.5,834.9 L613.5,834.9 L614.4,834.9 L615.4,834.9 L616.4,835.0 L617.4,835.0 L618.4,835.0 L619.4,835.0 L620.4,835.0 L621.4,835.0 L622.4,835.0 L623.4,835.0 L624.3,835.0 L625.3,835.0 L626.3,835.0 L627.3,835.1 L628.3,835.1 L629.3,835.1 L630.3,835.1 L631.3,835.1 L632.3,835.1 L633.3,835.1 L634.3,835.1 L635.2,835.1 L636.2,835.1 L637.2,835.1 L638.2,835.2 L639.2,835.2 L640.2,835.2 L641.2,835.2 L642.2,835.2 L643.2,835.2 L644.2,835.2 L645.1,835.2 L646.1,835.2 L647.1,835.2 L648.1,835.2 L649.1,835.3 L650.1,835.3 L651.1,835.3 L652.1,835.3 L653.1,835.3 L654.1,835.3 L655.1,835.3 L656.0,835.3 L657.0,835.3 L658.0,835.3 L659.0,835.3 L660.0,835.4 L661.0,835.4 L661.0,839.1 L660.0,839.0 L659.0,839.0 L658.0,839.0 L657.0,839.0 L656.0,839.0 L655.1,838.9 L654.1,838.9 L653.1,838.9 L652.1,838.9 L651.1,838.8 L650.1,838.8 L649.1,838.8 L648.1,838.8 L647.1,838.7 L646.1,838.7 L645.1,838.7 L644.2,838.7 L643.2,838.6 L642.2,838.6 L641.2,838.6 L640.2,838.6 L639.2,838.5 L638.2,838.5 L637.2,838.5 L636.2,838.5 L635.2,838.4 L634.3,838.4 L633.3,838.4 L632.3,838.4 L631.3,838.3 L630.3,838.3 L629.3,838.3 L628.3,838.3 L627.3,838.2 L626.3,838.2 L625.3,838.2 L624.3,838.2 L623.4,838.1 L622.4,838.1 L621.4,838.1 L620.4,838.1 L619.4,838.0 L618.4,838.0 L617.4,838.0 L616.4,838.0 L615.4,837.9 L614.4,837.9 L613.5,837.9 L612.5,837.9 L611.5,837.8 L610.5,837.8 L609.5,837.8 L608.5,837.8 L607.5,837.8 L606.5,837.7 L605.5,837.7 L604.5,837.7 L603.5,837.7 L602.6,837.6 L601.6,837.6 L600.6,837.6 L599.6,837.6 L598.6,837.5 L597.6,837.5 L596.6,837.5 L595.6,837.5 L594.6,837.4 L593.6,837.4 L592.6,837.4 L591.7,837.4 L590.7,837.3 L589.7,837.3 L588.7,837.3 L587.7,837.3 L586.7,837.2 L585.7,837.2 L584.7,837.2 L583.7,837.2 L582.7,837.1 L581.8,837.1 L580.8,837.1 L579.8,837.0 L578.8,837.0 L577.8,837.0 L576.8,837.0 L575.8,836.9 L574.8,836.9 L573.8,836.9 L572.8,836.8 L571.8,836.8 L570.9,836.8 L569.9,836.7 L568.9,836.7 L567.9,836.7 L566.9,836.6 L565.9,836.6 L564.9,836.6 L563.9,836.5 L562.9,836.5 L561.9,836.5 L560.9,836.4 L560.0,836.4 L559.0,836.4 L558.0,836.3 L557.0,836.3 L556.0,836.3 L555.0,836.2 L554.0,836.2 L553.0,836.2 L552.0,836.1 L551.0,836.1 L550.0,836.1 L549.1,836.0 L548.1,836.0 L547.1,836.0 L546.1,835.9 L545.1,835.9 L544.1,835.9 L543.1,835.8 L542.1,835.8 L541.1,835.8 L540.1,835.7 L539.2,835.7 L538.2,835.7 L537.2,835.6 L536.2,835.6 L535.2,835.6 L534.2,835.5 L533.2,835.5 L532.2,835.5 L531.2,835.4 L530.2,835.4 L529.2,835.4 L528.3,835.3 L527.3,835.3 L526.3,835.2 L525.3,835.2 L524.3,835.2 L523.3,835.1 L522.3,835.1 L521.3,835.1 L520.3,835.0 L519.3,835.0 L518.4,835.0 L517.4,834.9 L516.4,834.9 L515.4,834.9 L514.4,834.8 L513.4,834.8 L512.4,834.7 L511.4,834.7 L510.4,834.7 L509.4,834.6 L508.4,834.6 L507.5,834.6 L506.5,834.5 L505.5,834.5 L504.5,834.5 L503.5,834.4 L502.5,834.4Z" fill="#e7298a" fill-opacity="0.155" clip-path="url(#c6)"/>
<path d="M502.5,834.4 L503.5,835.0 L504.5,835.7 L505.5,836.3 L506.5,836.9 L507.5,837.6 L508.4,838.2 L509.4,838.7 L510.4,839.3 L511.4,839.9 L512.4,840.4 L513.4,840.9 L514.4,841.4 L515.4,841.9 L516.4,842.3 L517.4,842.8 L518.4,843.2 L519.3,843.7 L520.3,844.1 L521.3,844.5 L522.3,844.9 L523.3,845.2 L524.3,845.6 L525.3,846.0 L526.3,846.4 L527.3,846.7 L528.3,847.1 L529.2,847.5 L530.2,847.8 L531.2,848.2 L532.2,848.5 L533.2,848.8 L534.2,849.2 L535.2,849.5 L536.2,849.8 L537.2,850.2 L538.2,850.5 L539.2,850.9 L540.1,851.2 L541.1,851.6 L542.1,852.0 L543.1,852.4 L544.1,852.8 L545.1,853.2 L546.1,853.7 L547.1,854.1 L548.1,854.6 L549.1,855.0 L550.0,855.5 L551.0,856.0 L552.0,856.4 L553.0,856.9 L554.0,857.3 L555.0,857.8 L556.0,858.2 L557.0,858.7 L558.0,859.1 L559.0,859.6 L560.0,860.0 L560.9,860.4 L561.9,860.9 L562.9,861.3 L563.9,861.8 L564.9,862.2 L565.9,862.7 L566.9,863.2 L567.9,863.6 L568.9,864.1 L569.9,864.6 L570.9,865.1 L571.8,865.6 L572.8,866.0 L573.8,866.5 L574.8,867.0 L575.8,867.5 L576.8,868.0 L577.8,868.5 L578.8,869.0 L579.8,869.5 L580.8,870.0 L581.8,870.4 L582.7,870.9 L583.7,871.4 L584.7,871.8 L585.7,872.3 L586.7,872.7 L587.7,873.1 L588.7,873.6 L589.7,874.0 L590.7,874.5 L591.7,874.9 L592.6,875.4 L593.6,875.8 L594.6,876.3 L595.6,876.8 L596.6,877.4 L597.6,877.9 L598.6,878.5 L599.6,879.1 L600.6,879.7 L601.6,880.3 L602.6,880.9 L603.5,881.4 L604.5,882.0 L605.5,882.6 L606.5,883.1 L607.5,883.6 L608.5,884.0 L609.5,884.4 L610.5,884.8 L611.5,885.1 L612.5,885.5 L613.5,885.8 L614.4,886.1 L615.4,886.4 L616.4,886.8 L617.4,887.1 L618.4,887.4 L619.4,887.7 L620.4,888.1 L621.4,888.5 L622.4,888.9 L623.4,889.3 L624.3,889.7 L625.3,890.2 L626.3,890.6 L627.3,891.1 L628.3,891.5 L629.3,892.0 L630.3,892.5 L631.3,892.9 L632.3,893.4 L633.3,893.8 L634.3,894.2 L635.2,894.7 L636.2,895.1 L637.2,895.5 L638.2,895.9 L639.2,896.3 L640.2,896.6 L641.2,897.0 L642.2,897.4 L643.2,897.8 L644.2,898.2 L645.1,898.6 L646.1,899.0 L647.1,899.4 L648.1,899.8 L649.1,900.2 L650.1,900.6 L651.1,901.0 L652.1,901.4 L653.1,901.8 L654.1,902.2 L655.1,902.6 L656.0,903.0 L657.0,903.5 L658.0,903.9 L659.0,904.3 L660.0,904.7 L661.0,905.2" fill="none" stroke="#d95f02" stroke-width="4.2" stroke-linejoin="round" stroke-linecap="butt" clip-path="url(#c6)"/>
<path d="M502.5,834.4 L503.5,835.1 L504.5,835.8 L505.5,836.6 L506.5,837.4 L507.5,838.2 L508.4,839.0 L509.4,839.9 L510.4,840.9 L511.4,841.9 L512.4,842.9 L513.4,843.9 L514.4,844.9 L515.4,845.9 L516.4,846.9 L517.4,847.9 L518.4,848.8 L519.3,849.8 L520.3,850.8 L521.3,851.9 L522.3,853.0 L523.3,854.1 L524.3,855.3 L525.3,856.5 L526.3,857.7 L527.3,859.0 L528.3,860.2 L529.2,861.4 L530.2,862.7 L531.2,864.0 L532.2,865.2 L533.2,866.6 L534.2,867.9 L535.2,869.3 L536.2,870.7 L537.2,872.2 L538.2,873.7 L539.2,875.2 L540.1,876.8 L541.1,878.3 L542.1,879.8 L543.1,881.3 L544.1,882.9 L545.1,884.4 L546.1,886.0 L547.1,887.5 L548.1,889.1 L549.1,890.7 L550.0,892.3 L551.0,893.9 L552.0,895.5 L553.0,897.1 L554.0,898.7 L555.0,900.2 L556.0,901.8 L557.0,903.3 L558.0,904.8 L559.0,906.3 L560.0,907.8 L560.9,909.2 L561.9,910.6 L562.9,912.0 L563.9,913.3 L564.9,914.6 L565.9,915.9 L566.9,917.1 L567.9,918.2 L568.9,919.3 L569.9,920.4 L570.9,921.4 L571.8,922.4 L572.8,923.4 L573.8,924.2 L574.8,925.0 L575.8,925.7 L576.8,926.4 L577.8,927.0 L578.8,927.6 L579.8,928.2 L580.8,928.8 L581.8,929.5 L582.7,930.3 L583.7,931.0 L584.7,931.8 L585.7,932.6 L586.7,933.3 L587.7,933.9 L588.7,934.5 L589.7,935.1 L590.7,935.6 L591.7,936.1 L592.6,936.6 L593.6,937.0 L594.6,937.5 L595.6,937.9 L596.6,938.4 L597.6,938.8 L598.6,939.3 L599.6,939.7 L600.6,940.2 L601.6,940.6 L602.6,941.0 L603.5,941.4 L604.5,941.7 L605.5,942.1 L606.5,942.4 L607.5,942.7 L608.5,943.0 L609.5,943.3 L610.5,943.5 L611.5,943.8 L612.5,944.0 L613.5,944.2 L614.4,944.4 L615.4,944.6 L616.4,944.8 L617.4,945.0 L618.4,945.1 L619.4,945.3 L620.4,945.5 L621.4,945.7 L622.4,945.8 L623.4,946.0 L624.3,946.2 L625.3,946.3 L626.3,946.5 L627.3,946.6 L628.3,946.8 L629.3,946.9 L630.3,947.1 L631.3,947.2 L632.3,947.3 L633.3,947.5 L634.3,947.6 L635.2,947.7 L636.2,947.8 L637.2,948.0 L638.2,948.1 L639.2,948.2 L640.2,948.3 L641.2,948.5 L642.2,948.6 L643.2,948.7 L644.2,948.8 L645.1,948.9 L646.1,949.0 L647.1,949.1 L648.1,949.3 L649.1,949.4 L650.1,949.5 L651.1,949.6 L652.1,949.7 L653.1,949.8 L654.1,949.9 L655.1,950.0 L656.0,950.1 L657.0,950.1 L658.0,950.2 L659.0,950.3 L660.0,950.4 L661.0,950.5" fill="none" stroke="#7570b3" stroke-width="4.2" stroke-linejoin="round" stroke-linecap="butt" clip-path="url(#c6)"/>
<path d="M502.5,834.4 L503.5,834.4 L504.5,834.4 L505.5,834.4 L506.5,834.4 L507.5,834.4 L508.4,834.5 L509.4,834.5 L510.4,834.5 L511.4,834.5 L512.4,834.5 L513.4,834.5 L514.4,834.5 L515.4,834.5 L516.4,834.6 L517.4,834.6 L518.4,834.6 L519.3,834.6 L520.3,834.6 L521.3,834.6 L522.3,834.6 L523.3,834.7 L524.3,834.7 L525.3,834.7 L526.3,834.7 L527.3,834.7 L528.3,834.7 L529.2,834.7 L530.2,834.8 L531.2,834.8 L532.2,834.8 L533.2,834.8 L534.2,834.8 L535.2,834.8 L536.2,834.8 L537.2,834.9 L538.2,834.9 L539.2,834.9 L540.1,834.9 L541.1,834.9 L542.1,834.9 L543.1,835.0 L544.1,835.0 L545.1,835.0 L546.1,835.0 L547.1,835.0 L548.1,835.0 L549.1,835.0 L550.0,835.1 L551.0,835.1 L552.0,835.1 L553.0,835.1 L554.0,835.1 L555.0,835.1 L556.0,835.2 L557.0,835.2 L558.0,835.2 L559.0,835.2 L560.0,835.2 L560.9,835.3 L561.9,835.3 L562.9,835.3 L563.9,835.3 L564.9,835.3 L565.9,835.3 L566.9,835.4 L567.9,835.4 L568.9,835.4 L569.9,835.4 L570.9,835.4 L571.8,835.4 L572.8,835.5 L573.8,835.5 L574.8,835.5 L575.8,835.5 L576.8,835.5 L577.8,835.5 L578.8,835.6 L579.8,835.6 L580.8,835.6 L581.8,835.6 L582.7,835.6 L583.7,835.6 L584.7,835.7 L585.7,835.7 L586.7,835.7 L587.7,835.7 L588.7,835.7 L589.7,835.7 L590.7,835.8 L591.7,835.8 L592.6,835.8 L593.6,835.8 L594.6,835.8 L595.6,835.8 L596.6,835.9 L597.6,835.9 L598.6,835.9 L599.6,835.9 L600.6,835.9 L601.6,835.9 L602.6,835.9 L603.5,836.0 L604.5,836.0 L605.5,836.0 L606.5,836.0 L607.5,836.0 L608.5,836.0 L609.5,836.0 L610.5,836.1 L611.5,836.1 L612.5,836.1 L613.5,836.1 L614.4,836.1 L615.4,836.1 L616.4,836.2 L617.4,836.2 L618.4,836.2 L619.4,836.2 L620.4,836.2 L621.4,836.2 L622.4,836.2 L623.4,836.3 L624.3,836.3 L625.3,836.3 L626.3,836.3 L627.3,836.3 L628.3,836.3 L629.3,836.4 L630.3,836.4 L631.3,836.4 L632.3,836.4 L633.3,836.4 L634.3,836.4 L635.2,836.4 L636.2,836.5 L637.2,836.5 L638.2,836.5 L639.2,836.5 L640.2,836.5 L641.2,836.5 L642.2,836.6 L643.2,836.6 L644.2,836.6 L645.1,836.6 L646.1,836.6 L647.1,836.6 L648.1,836.6 L649.1,836.7 L650.1,836.7 L651.1,836.7 L652.1,836.7 L653.1,836.7 L654.1,836.7 L655.1,836.8 L656.0,836.8 L657.0,836.8 L658.0,836.8 L659.0,836.8 L660.0,836.8 L661.0,836.9" fill="none" stroke="#e7298a" stroke-width="4.2" stroke-linejoin="round" stroke-linecap="butt" clip-path="url(#c6)"/>
<line x1="502.50" y1="834.38" x2="661.00" y2="834.38" stroke="#000" stroke-width="2.6"/>
<rect x="502.50" y="803.50" width="158.50" height="154.40" fill="none" stroke="#000" stroke-width="2.0"/>
<line x1="492.20" y1="834.38" x2="502.50" y2="834.38" stroke="#000" stroke-width="2.0"/>
<line x1="492.20" y1="896.14" x2="502.50" y2="896.14" stroke="#000" stroke-width="2.0"/>
<line x1="492.20" y1="957.90" x2="502.50" y2="957.90" stroke="#000" stroke-width="2.0"/>
<line x1="561.94" y1="957.90" x2="561.94" y2="968.20" stroke="#000" stroke-width="2.0"/>
<line x1="661.00" y1="957.90" x2="661.00" y2="968.20" stroke="#000" stroke-width="2.0"/>
<g font-size="17.7" fill="#111"><text transform="translate(494.86,794.10) scale(0.941,1)">S</text><text transform="translate(505.97,794.10) scale(1.088,1)">o</text><text transform="translate(516.68,794.10) scale(1.127,1)">u</text><text transform="translate(528.00,794.10) scale(1.300,1)">t</text><text transform="translate(534.63,794.10) scale(1.127,1)">h</text><text transform="translate(545.72,794.10) scale(1.094,1)">e</text><text transform="translate(556.49,794.10) scale(1.090,1)">a</text><text transform="translate(567.21,794.10) scale(1.030,1)">s</text><text transform="translate(576.56,794.10) scale(1.300,1)">t</text><text transform="translate(583.19,794.10) scale(1.199,1)">/</text><text transform="translate(589.09,794.10) scale(0.937,1)">E</text><text transform="translate(600.14,794.10) scale(1.090,1)">a</text><text transform="translate(610.87,794.10) scale(1.030,1)">s</text><text transform="translate(620.22,794.10) scale(1.300,1)">t</text><text transform="translate(632.41,794.10) scale(1.014,1)">A</text><text transform="translate(644.38,794.10) scale(1.030,1)">s</text><text transform="translate(653.49,794.10) scale(1.236,1)">i</text><text transform="translate(658.36,794.10) scale(1.090,1)">a</text></g>
<g font-size="24.4" fill="#111" font-weight="bold" style="stroke-width:0.7px"><text transform="translate(511.55,826.30) scale(1.000,1)">g</text></g>
<path d="M122.0,1027.4 L123.0,1027.5 L124.0,1027.7 L125.0,1027.8 L126.0,1028.0 L127.0,1028.2 L127.9,1028.3 L128.9,1028.5 L129.9,1028.7 L130.9,1028.9 L131.9,1029.0 L132.9,1029.2 L133.9,1029.4 L134.9,1029.6 L135.9,1029.8 L136.9,1030.0 L137.8,1030.2 L138.8,1030.4 L139.8,1030.7 L140.8,1030.9 L141.8,1031.1 L142.8,1031.3 L143.8,1031.5 L144.8,1031.8 L145.8,1032.0 L146.8,1032.3 L147.8,1032.5 L148.7,1032.8 L149.7,1033.1 L150.7,1033.3 L151.7,1033.6 L152.7,1033.9 L153.7,1034.2 L154.7,1034.5 L155.7,1034.8 L156.7,1035.0 L157.7,1035.3 L158.7,1035.6 L159.6,1035.9 L160.6,1036.2 L161.6,1036.5 L162.6,1036.7 L163.6,1037.0 L164.6,1037.3 L165.6,1037.6 L166.6,1037.8 L167.6,1038.1 L168.6,1038.4 L169.6,1038.6 L170.5,1038.9 L171.5,1039.2 L172.5,1039.5 L173.5,1039.7 L174.5,1040.0 L175.5,1040.3 L176.5,1040.5 L177.5,1040.8 L178.5,1041.1 L179.5,1041.4 L180.4,1041.6 L181.4,1041.9 L182.4,1042.2 L183.4,1042.5 L184.4,1042.8 L185.4,1043.1 L186.4,1043.3 L187.4,1043.6 L188.4,1043.9 L189.4,1044.2 L190.4,1044.5 L191.3,1044.8 L192.3,1045.1 L193.3,1045.4 L194.3,1045.7 L195.3,1046.0 L196.3,1046.4 L197.3,1046.7 L198.3,1047.0 L199.3,1047.3 L200.3,1047.7 L201.2,1048.0 L202.2,1048.3 L203.2,1048.7 L204.2,1049.0 L205.2,1049.4 L206.2,1049.8 L207.2,1050.1 L208.2,1050.5 L209.2,1050.9 L210.2,1051.3 L211.2,1051.7 L212.1,1052.1 L213.1,1052.6 L214.1,1053.0 L215.1,1053.4 L216.1,1053.8 L217.1,1054.2 L218.1,1054.7 L219.1,1055.1 L220.1,1055.5 L221.1,1055.9 L222.1,1056.3 L223.0,1056.7 L224.0,1057.1 L225.0,1057.5 L226.0,1057.9 L227.0,1058.3 L228.0,1058.7 L229.0,1059.1 L230.0,1059.4 L231.0,1059.8 L232.0,1060.2 L232.9,1060.6 L233.9,1061.0 L234.9,1061.4 L235.9,1061.8 L236.9,1062.1 L237.9,1062.5 L238.9,1062.9 L239.9,1063.3 L240.9,1063.7 L241.9,1064.0 L242.9,1064.4 L243.8,1064.8 L244.8,1065.1 L245.8,1065.5 L246.8,1065.8 L247.8,1066.1 L248.8,1066.4 L249.8,1066.8 L250.8,1067.0 L251.8,1067.3 L252.8,1067.6 L253.8,1067.8 L254.7,1068.1 L255.7,1068.3 L256.7,1068.5 L257.7,1068.7 L258.7,1069.0 L259.7,1069.2 L260.7,1069.4 L261.7,1069.6 L262.7,1069.8 L263.7,1070.0 L264.6,1070.2 L265.6,1070.4 L266.6,1070.6 L267.6,1070.7 L268.6,1070.9 L269.6,1071.1 L270.6,1071.2 L271.6,1071.4 L272.6,1071.5 L273.6,1071.7 L274.6,1071.8 L275.5,1072.0 L276.5,1072.1 L277.5,1072.2 L278.5,1072.3 L279.5,1072.4 L280.5,1072.5 L280.5,1129.3 L279.5,1128.9 L278.5,1128.5 L277.5,1128.1 L276.5,1127.8 L275.5,1127.4 L274.6,1127.0 L273.6,1126.6 L272.6,1126.2 L271.6,1125.8 L270.6,1125.4 L269.6,1125.1 L268.6,1124.7 L267.6,1124.3 L266.6,1123.9 L265.6,1123.5 L264.6,1123.1 L263.7,1122.7 L262.7,1122.3 L261.7,1122.0 L260.7,1121.6 L259.7,1121.2 L258.7,1120.8 L257.7,1120.4 L256.7,1120.0 L255.7,1119.6 L254.7,1119.2 L253.8,1118.8 L252.8,1118.5 L251.8,1118.1 L250.8,1117.7 L249.8,1117.4 L248.8,1117.0 L247.8,1116.6 L246.8,1116.3 L245.8,1115.9 L244.8,1115.6 L243.8,1115.2 L242.9,1114.8 L241.9,1114.5 L240.9,1114.1 L239.9,1113.7 L238.9,1113.3 L237.9,1113.0 L236.9,1112.6 L235.9,1112.2 L234.9,1111.8 L233.9,1111.3 L232.9,1110.9 L232.0,1110.5 L231.0,1110.0 L230.0,1109.5 L229.0,1109.1 L228.0,1108.6 L227.0,1108.0 L226.0,1107.5 L225.0,1106.9 L224.0,1106.3 L223.0,1105.7 L222.1,1105.1 L221.1,1104.4 L220.1,1103.8 L219.1,1103.1 L218.1,1102.4 L217.1,1101.7 L216.1,1101.0 L215.1,1100.3 L214.1,1099.5 L213.1,1098.8 L212.1,1098.0 L211.2,1097.3 L210.2,1096.5 L209.2,1095.8 L208.2,1095.0 L207.2,1094.2 L206.2,1093.5 L205.2,1092.7 L204.2,1092.0 L203.2,1091.3 L202.2,1090.5 L201.2,1089.8 L200.3,1089.1 L199.3,1088.3 L198.3,1087.6 L197.3,1086.8 L196.3,1086.1 L195.3,1085.3 L194.3,1084.5 L193.3,1083.8 L192.3,1083.0 L191.3,1082.2 L190.4,1081.5 L189.4,1080.7 L188.4,1079.9 L187.4,1079.1 L186.4,1078.3 L185.4,1077.5 L184.4,1076.7 L183.4,1076.0 L182.4,1075.2 L181.4,1074.4 L180.4,1073.6 L179.5,1072.8 L178.5,1072.0 L177.5,1071.2 L176.5,1070.4 L175.5,1069.6 L174.5,1068.9 L173.5,1068.1 L172.5,1067.3 L171.5,1066.5 L170.5,1065.7 L169.6,1065.0 L168.6,1064.2 L167.6,1063.4 L166.6,1062.7 L165.6,1061.9 L164.6,1061.1 L163.6,1060.4 L162.6,1059.6 L161.6,1058.9 L160.6,1058.2 L159.6,1057.4 L158.7,1056.7 L157.7,1056.0 L156.7,1055.3 L155.7,1054.6 L154.7,1053.9 L153.7,1053.3 L152.7,1052.6 L151.7,1051.9 L150.7,1051.2 L149.7,1050.5 L148.7,1049.8 L147.8,1049.1 L146.8,1048.4 L145.8,1047.7 L144.8,1046.9 L143.8,1046.2 L142.8,1045.4 L141.8,1044.7 L140.8,1043.9 L139.8,1043.1 L138.8,1042.3 L137.8,1041.5 L136.9,1040.7 L135.9,1039.8 L134.9,1039.0 L133.9,1038.1 L132.9,1037.3 L131.9,1036.4 L130.9,1035.6 L129.9,1034.7 L128.9,1033.8 L127.9,1032.9 L127.0,1032.0 L126.0,1031.1 L125.0,1030.2 L124.0,1029.2 L123.0,1028.3 L122.0,1027.4Z" fill="#d95f02" fill-opacity="0.155" clip-path="url(#c7)"/>
<path d="M122.0,1027.4 L123.0,1027.8 L124.0,1028.1 L125.0,1028.5 L126.0,1028.9 L127.0,1029.3 L127.9,1029.6 L128.9,1030.0 L129.9,1030.4 L130.9,1030.8 L131.9,1031.1 L132.9,1031.5 L133.9,1031.9 L134.9,1032.2 L135.9,1032.6 L136.9,1033.0 L137.8,1033.3 L138.8,1033.7 L139.8,1034.1 L140.8,1034.4 L141.8,1034.8 L142.8,1035.1 L143.8,1035.5 L144.8,1035.9 L145.8,1036.2 L146.8,1036.6 L147.8,1036.9 L148.7,1037.3 L149.7,1037.6 L150.7,1038.0 L151.7,1038.3 L152.7,1038.7 L153.7,1039.0 L154.7,1039.3 L155.7,1039.7 L156.7,1040.0 L157.7,1040.4 L158.7,1040.7 L159.6,1041.1 L160.6,1041.4 L161.6,1041.8 L162.6,1042.1 L163.6,1042.5 L164.6,1042.8 L165.6,1043.2 L166.6,1043.5 L167.6,1043.9 L168.6,1044.2 L169.6,1044.6 L170.5,1044.9 L171.5,1045.2 L172.5,1045.6 L173.5,1045.9 L174.5,1046.3 L175.5,1046.6 L176.5,1047.0 L177.5,1047.3 L178.5,1047.7 L179.5,1048.0 L180.4,1048.4 L181.4,1048.7 L182.4,1049.1 L183.4,1049.4 L184.4,1049.7 L185.4,1050.1 L186.4,1050.4 L187.4,1050.8 L188.4,1051.2 L189.4,1051.5 L190.4,1051.9 L191.3,1052.2 L192.3,1052.6 L193.3,1052.9 L194.3,1053.3 L195.3,1053.7 L196.3,1054.0 L197.3,1054.4 L198.3,1054.7 L199.3,1055.1 L200.3,1055.5 L201.2,1055.9 L202.2,1056.2 L203.2,1056.6 L204.2,1057.0 L205.2,1057.4 L206.2,1057.8 L207.2,1058.2 L208.2,1058.5 L209.2,1058.9 L210.2,1059.3 L211.2,1059.7 L212.1,1060.1 L213.1,1060.5 L214.1,1060.9 L215.1,1061.3 L216.1,1061.7 L217.1,1062.1 L218.1,1062.6 L219.1,1063.0 L220.1,1063.4 L221.1,1063.8 L222.1,1064.2 L223.0,1064.6 L224.0,1065.0 L225.0,1065.4 L226.0,1065.8 L227.0,1066.2 L228.0,1066.6 L229.0,1067.0 L230.0,1067.4 L231.0,1067.8 L232.0,1068.2 L232.9,1068.6 L233.9,1069.0 L234.9,1069.4 L235.9,1069.8 L236.9,1070.2 L237.9,1070.6 L238.9,1071.0 L239.9,1071.4 L240.9,1071.8 L241.9,1072.2 L242.9,1072.6 L243.8,1073.0 L244.8,1073.4 L245.8,1073.8 L246.8,1074.2 L247.8,1074.6 L248.8,1075.0 L249.8,1075.4 L250.8,1075.7 L251.8,1076.1 L252.8,1076.5 L253.8,1076.9 L254.7,1077.2 L255.7,1077.6 L256.7,1078.0 L257.7,1078.3 L258.7,1078.7 L259.7,1079.0 L260.7,1079.4 L261.7,1079.7 L262.7,1080.1 L263.7,1080.4 L264.6,1080.8 L265.6,1081.1 L266.6,1081.5 L267.6,1081.8 L268.6,1082.2 L269.6,1082.5 L270.6,1082.8 L271.6,1083.2 L272.6,1083.5 L273.6,1083.8 L274.6,1084.1 L275.5,1084.5 L276.5,1084.8 L277.5,1085.1 L278.5,1085.4 L279.5,1085.7 L280.5,1086.1 L280.5,1120.0 L279.5,1119.5 L278.5,1119.1 L277.5,1118.6 L276.5,1118.1 L275.5,1117.6 L274.6,1117.2 L273.6,1116.7 L272.6,1116.2 L271.6,1115.7 L270.6,1115.3 L269.6,1114.8 L268.6,1114.3 L267.6,1113.8 L266.6,1113.3 L265.6,1112.9 L264.6,1112.4 L263.7,1111.9 L262.7,1111.4 L261.7,1110.9 L260.7,1110.4 L259.7,1110.0 L258.7,1109.5 L257.7,1109.0 L256.7,1108.5 L255.7,1108.0 L254.7,1107.5 L253.8,1107.0 L252.8,1106.5 L251.8,1106.1 L250.8,1105.6 L249.8,1105.1 L248.8,1104.6 L247.8,1104.2 L246.8,1103.7 L245.8,1103.2 L244.8,1102.7 L243.8,1102.3 L242.9,1101.8 L241.9,1101.3 L240.9,1100.8 L239.9,1100.3 L238.9,1099.8 L237.9,1099.3 L236.9,1098.8 L235.9,1098.3 L234.9,1097.8 L233.9,1097.3 L232.9,1096.8 L232.0,1096.3 L231.0,1095.7 L230.0,1095.2 L229.0,1094.7 L228.0,1094.1 L227.0,1093.5 L226.0,1092.9 L225.0,1092.3 L224.0,1091.7 L223.0,1091.1 L222.1,1090.4 L221.1,1089.8 L220.1,1089.1 L219.1,1088.5 L218.1,1087.8 L217.1,1087.1 L216.1,1086.5 L215.1,1085.8 L214.1,1085.1 L213.1,1084.4 L212.1,1083.8 L211.2,1083.1 L210.2,1082.4 L209.2,1081.7 L208.2,1081.1 L207.2,1080.4 L206.2,1079.8 L205.2,1079.1 L204.2,1078.5 L203.2,1077.9 L202.2,1077.3 L201.2,1076.7 L200.3,1076.1 L199.3,1075.5 L198.3,1074.9 L197.3,1074.4 L196.3,1073.8 L195.3,1073.3 L194.3,1072.7 L193.3,1072.2 L192.3,1071.6 L191.3,1071.1 L190.4,1070.5 L189.4,1070.0 L188.4,1069.5 L187.4,1069.0 L186.4,1068.4 L185.4,1067.9 L184.4,1067.4 L183.4,1066.9 L182.4,1066.3 L181.4,1065.8 L180.4,1065.3 L179.5,1064.8 L178.5,1064.2 L177.5,1063.7 L176.5,1063.2 L175.5,1062.7 L174.5,1062.1 L173.5,1061.6 L172.5,1061.1 L171.5,1060.5 L170.5,1060.0 L169.6,1059.5 L168.6,1058.9 L167.6,1058.4 L166.6,1057.8 L165.6,1057.2 L164.6,1056.7 L163.6,1056.1 L162.6,1055.5 L161.6,1054.9 L160.6,1054.3 L159.6,1053.7 L158.7,1053.1 L157.7,1052.5 L156.7,1051.9 L155.7,1051.3 L154.7,1050.7 L153.7,1050.1 L152.7,1049.4 L151.7,1048.8 L150.7,1048.2 L149.7,1047.5 L148.7,1046.9 L147.8,1046.2 L146.8,1045.6 L145.8,1044.9 L144.8,1044.2 L143.8,1043.6 L142.8,1042.9 L141.8,1042.2 L140.8,1041.5 L139.8,1040.8 L138.8,1040.1 L137.8,1039.4 L136.9,1038.7 L135.9,1038.0 L134.9,1037.3 L133.9,1036.5 L132.9,1035.8 L131.9,1035.1 L130.9,1034.3 L129.9,1033.6 L128.9,1032.8 L127.9,1032.1 L127.0,1031.3 L126.0,1030.5 L125.0,1029.7 L124.0,1029.0 L123.0,1028.2 L122.0,1027.4Z" fill="#d95f02" fill-opacity="0.3" clip-path="url(#c7)"/>
<path d="M122.0,1027.4 L123.0,1027.7 L124.0,1028.0 L125.0,1028.4 L126.0,1028.7 L127.0,1029.1 L127.9,1029.5 L128.9,1029.9 L129.9,1030.3 L130.9,1030.7 L131.9,1031.1 L132.9,1031.5 L133.9,1031.9 L134.9,1032.4 L135.9,1032.8 L136.9,1033.3 L137.8,1033.8 L138.8,1034.3 L139.8,1034.8 L140.8,1035.4 L141.8,1036.0 L142.8,1036.7 L143.8,1037.4 L144.8,1038.1 L145.8,1038.9 L146.8,1039.7 L147.8,1040.6 L148.7,1041.5 L149.7,1042.4 L150.7,1043.3 L151.7,1044.3 L152.7,1045.3 L153.7,1046.4 L154.7,1047.4 L155.7,1048.5 L156.7,1049.6 L157.7,1050.8 L158.7,1051.9 L159.6,1053.1 L160.6,1054.2 L161.6,1055.4 L162.6,1056.6 L163.6,1057.8 L164.6,1059.0 L165.6,1060.3 L166.6,1061.5 L167.6,1062.7 L168.6,1064.0 L169.6,1065.2 L170.5,1066.4 L171.5,1067.6 L172.5,1068.9 L173.5,1070.1 L174.5,1071.3 L175.5,1072.5 L176.5,1073.6 L177.5,1074.8 L178.5,1076.0 L179.5,1077.1 L180.4,1078.3 L181.4,1079.5 L182.4,1080.7 L183.4,1081.9 L184.4,1083.1 L185.4,1084.3 L186.4,1085.6 L187.4,1086.8 L188.4,1088.1 L189.4,1089.3 L190.4,1090.6 L191.3,1091.8 L192.3,1093.1 L193.3,1094.4 L194.3,1095.7 L195.3,1097.0 L196.3,1098.3 L197.3,1099.6 L198.3,1100.9 L199.3,1102.2 L200.3,1103.6 L201.2,1105.0 L202.2,1106.3 L203.2,1107.6 L204.2,1108.9 L205.2,1110.2 L206.2,1111.5 L207.2,1112.8 L208.2,1114.0 L209.2,1115.3 L210.2,1116.5 L211.2,1117.6 L212.1,1118.8 L213.1,1119.8 L214.1,1120.9 L215.1,1121.9 L216.1,1122.8 L217.1,1123.7 L218.1,1124.6 L219.1,1125.5 L220.1,1126.4 L221.1,1127.2 L222.1,1128.0 L223.0,1128.8 L224.0,1129.5 L225.0,1130.3 L226.0,1131.0 L227.0,1131.6 L228.0,1132.3 L229.0,1132.9 L230.0,1133.5 L231.0,1134.0 L232.0,1134.6 L232.9,1135.2 L233.9,1135.7 L234.9,1136.2 L235.9,1136.7 L236.9,1137.2 L237.9,1137.6 L238.9,1138.0 L239.9,1138.4 L240.9,1138.7 L241.9,1139.0 L242.9,1139.3 L243.8,1139.6 L244.8,1139.8 L245.8,1140.0 L246.8,1140.2 L247.8,1140.4 L248.8,1140.6 L249.8,1140.8 L250.8,1141.0 L251.8,1141.1 L252.8,1141.3 L253.8,1141.4 L254.7,1141.5 L255.7,1141.7 L256.7,1141.8 L257.7,1141.9 L258.7,1142.0 L259.7,1142.1 L260.7,1142.2 L261.7,1142.3 L262.7,1142.5 L263.7,1142.6 L264.6,1142.7 L265.6,1142.8 L266.6,1142.9 L267.6,1143.0 L268.6,1143.0 L269.6,1143.1 L270.6,1143.2 L271.6,1143.3 L272.6,1143.3 L273.6,1143.4 L274.6,1143.4 L275.5,1143.5 L276.5,1143.5 L277.5,1143.6 L278.5,1143.6 L279.5,1143.6 L280.5,1143.6 L280.5,1148.9 L279.5,1148.9 L278.5,1148.9 L277.5,1148.9 L276.5,1148.9 L275.5,1148.9 L274.6,1148.9 L273.6,1148.9 L272.6,1148.9 L271.6,1148.8 L270.6,1148.8 L269.6,1148.8 L268.6,1148.8 L267.6,1148.7 L266.6,1148.7 L265.6,1148.7 L264.6,1148.6 L263.7,1148.6 L262.7,1148.6 L261.7,1148.5 L260.7,1148.5 L259.7,1148.4 L258.7,1148.4 L257.7,1148.4 L256.7,1148.3 L255.7,1148.3 L254.7,1148.2 L253.8,1148.2 L252.8,1148.1 L251.8,1148.0 L250.8,1148.0 L249.8,1147.9 L248.8,1147.9 L247.8,1147.8 L246.8,1147.7 L245.8,1147.7 L244.8,1147.6 L243.8,1147.5 L242.9,1147.4 L241.9,1147.4 L240.9,1147.3 L239.9,1147.2 L238.9,1147.1 L237.9,1147.1 L236.9,1147.0 L235.9,1146.9 L234.9,1146.8 L233.9,1146.7 L232.9,1146.6 L232.0,1146.6 L231.0,1146.5 L230.0,1146.4 L229.0,1146.3 L228.0,1146.2 L227.0,1146.1 L226.0,1146.0 L225.0,1145.8 L224.0,1145.6 L223.0,1145.5 L222.1,1145.3 L221.1,1145.1 L220.1,1144.8 L219.1,1144.6 L218.1,1144.3 L217.1,1144.1 L216.1,1143.8 L215.1,1143.5 L214.1,1143.2 L213.1,1142.9 L212.1,1142.6 L211.2,1142.2 L210.2,1141.9 L209.2,1141.5 L208.2,1141.2 L207.2,1140.8 L206.2,1140.5 L205.2,1140.1 L204.2,1139.7 L203.2,1139.4 L202.2,1139.0 L201.2,1138.6 L200.3,1138.2 L199.3,1137.9 L198.3,1137.5 L197.3,1137.1 L196.3,1136.6 L195.3,1136.2 L194.3,1135.8 L193.3,1135.3 L192.3,1134.8 L191.3,1134.3 L190.4,1133.8 L189.4,1133.2 L188.4,1132.6 L187.4,1132.0 L186.4,1131.3 L185.4,1130.6 L184.4,1129.9 L183.4,1129.1 L182.4,1128.3 L181.4,1127.4 L180.4,1126.5 L179.5,1125.2 L178.5,1123.7 L177.5,1122.0 L176.5,1120.1 L175.5,1118.1 L174.5,1115.9 L173.5,1113.6 L172.5,1111.3 L171.5,1109.0 L170.5,1106.6 L169.6,1104.4 L168.6,1102.1 L167.6,1100.0 L166.6,1097.9 L165.6,1095.6 L164.6,1093.4 L163.6,1091.0 L162.6,1088.7 L161.6,1086.4 L160.6,1084.1 L159.6,1081.9 L158.7,1079.7 L157.7,1077.6 L156.7,1075.7 L155.7,1073.8 L154.7,1072.0 L153.7,1070.3 L152.7,1068.5 L151.7,1066.8 L150.7,1065.1 L149.7,1063.5 L148.7,1061.8 L147.8,1060.2 L146.8,1058.6 L145.8,1057.1 L144.8,1055.6 L143.8,1054.0 L142.8,1052.6 L141.8,1051.1 L140.8,1049.7 L139.8,1048.3 L138.8,1046.9 L137.8,1045.5 L136.9,1044.2 L135.9,1042.9 L134.9,1041.6 L133.9,1040.3 L132.9,1039.1 L131.9,1037.9 L130.9,1036.7 L129.9,1035.5 L128.9,1034.4 L127.9,1033.3 L127.0,1032.3 L126.0,1031.2 L125.0,1030.2 L124.0,1029.3 L123.0,1028.3 L122.0,1027.4Z" fill="#7570b3" fill-opacity="0.155" clip-path="url(#c7)"/>
<path d="M122.0,1027.4 L123.0,1027.8 L124.0,1028.2 L125.0,1028.6 L126.0,1029.1 L127.0,1029.6 L127.9,1030.1 L128.9,1030.6 L129.9,1031.2 L130.9,1031.7 L131.9,1032.3 L132.9,1032.9 L133.9,1033.5 L134.9,1034.2 L135.9,1034.9 L136.9,1035.6 L137.8,1036.3 L138.8,1037.1 L139.8,1037.9 L140.8,1038.8 L141.8,1039.7 L142.8,1040.7 L143.8,1041.8 L144.8,1042.9 L145.8,1044.1 L146.8,1045.4 L147.8,1046.7 L148.7,1048.1 L149.7,1049.5 L150.7,1051.0 L151.7,1052.5 L152.7,1054.1 L153.7,1055.7 L154.7,1057.3 L155.7,1058.9 L156.7,1060.5 L157.7,1062.1 L158.7,1063.8 L159.6,1065.4 L160.6,1067.0 L161.6,1068.6 L162.6,1070.2 L163.6,1071.8 L164.6,1073.4 L165.6,1074.9 L166.6,1076.4 L167.6,1077.9 L168.6,1079.5 L169.6,1081.0 L170.5,1082.6 L171.5,1084.2 L172.5,1085.8 L173.5,1087.3 L174.5,1088.9 L175.5,1090.5 L176.5,1092.0 L177.5,1093.6 L178.5,1095.1 L179.5,1096.6 L180.4,1098.0 L181.4,1099.5 L182.4,1100.9 L183.4,1102.3 L184.4,1103.7 L185.4,1105.1 L186.4,1106.5 L187.4,1107.9 L188.4,1109.3 L189.4,1110.7 L190.4,1112.1 L191.3,1113.5 L192.3,1114.8 L193.3,1116.1 L194.3,1117.4 L195.3,1118.6 L196.3,1119.8 L197.3,1121.0 L198.3,1122.1 L199.3,1123.1 L200.3,1124.1 L201.2,1125.0 L202.2,1125.8 L203.2,1126.6 L204.2,1127.4 L205.2,1128.2 L206.2,1129.0 L207.2,1129.8 L208.2,1130.5 L209.2,1131.3 L210.2,1132.0 L211.2,1132.7 L212.1,1133.4 L213.1,1134.1 L214.1,1134.7 L215.1,1135.4 L216.1,1136.0 L217.1,1136.6 L218.1,1137.1 L219.1,1137.7 L220.1,1138.2 L221.1,1138.6 L222.1,1139.1 L223.0,1139.5 L224.0,1139.8 L225.0,1140.1 L226.0,1140.4 L227.0,1140.7 L228.0,1140.9 L229.0,1141.0 L230.0,1141.2 L231.0,1141.4 L232.0,1141.5 L232.9,1141.7 L233.9,1141.8 L234.9,1142.0 L235.9,1142.1 L236.9,1142.3 L237.9,1142.4 L238.9,1142.6 L239.9,1142.7 L240.9,1142.8 L241.9,1143.0 L242.9,1143.1 L243.8,1143.2 L244.8,1143.3 L245.8,1143.4 L246.8,1143.6 L247.8,1143.7 L248.8,1143.8 L249.8,1143.9 L250.8,1144.0 L251.8,1144.1 L252.8,1144.2 L253.8,1144.3 L254.7,1144.4 L255.7,1144.5 L256.7,1144.6 L257.7,1144.6 L258.7,1144.7 L259.7,1144.8 L260.7,1144.9 L261.7,1144.9 L262.7,1145.0 L263.7,1145.1 L264.6,1145.1 L265.6,1145.2 L266.6,1145.2 L267.6,1145.3 L268.6,1145.3 L269.6,1145.4 L270.6,1145.4 L271.6,1145.4 L272.6,1145.5 L273.6,1145.5 L274.6,1145.5 L275.5,1145.5 L276.5,1145.6 L277.5,1145.6 L278.5,1145.6 L279.5,1145.6 L280.5,1145.6 L280.5,1147.9 L279.5,1147.9 L278.5,1147.9 L277.5,1147.9 L276.5,1147.9 L275.5,1147.9 L274.6,1147.9 L273.6,1147.9 L272.6,1147.9 L271.6,1147.8 L270.6,1147.8 L269.6,1147.8 L268.6,1147.8 L267.6,1147.7 L266.6,1147.7 L265.6,1147.7 L264.6,1147.6 L263.7,1147.6 L262.7,1147.5 L261.7,1147.5 L260.7,1147.4 L259.7,1147.4 L258.7,1147.3 L257.7,1147.3 L256.7,1147.2 L255.7,1147.2 L254.7,1147.1 L253.8,1147.1 L252.8,1147.0 L251.8,1146.9 L250.8,1146.9 L249.8,1146.8 L248.8,1146.7 L247.8,1146.7 L246.8,1146.6 L245.8,1146.5 L244.8,1146.4 L243.8,1146.3 L242.9,1146.3 L241.9,1146.2 L240.9,1146.1 L239.9,1146.0 L238.9,1145.9 L237.9,1145.8 L236.9,1145.7 L235.9,1145.6 L234.9,1145.5 L233.9,1145.4 L232.9,1145.3 L232.0,1145.2 L231.0,1145.1 L230.0,1145.0 L229.0,1144.9 L228.0,1144.8 L227.0,1144.7 L226.0,1144.6 L225.0,1144.4 L224.0,1144.2 L223.0,1144.0 L222.1,1143.7 L221.1,1143.5 L220.1,1143.2 L219.1,1142.9 L218.1,1142.6 L217.1,1142.3 L216.1,1141.9 L215.1,1141.6 L214.1,1141.2 L213.1,1140.9 L212.1,1140.5 L211.2,1140.1 L210.2,1139.7 L209.2,1139.3 L208.2,1138.9 L207.2,1138.5 L206.2,1138.1 L205.2,1137.6 L204.2,1137.2 L203.2,1136.8 L202.2,1136.4 L201.2,1136.0 L200.3,1135.6 L199.3,1135.2 L198.3,1134.8 L197.3,1134.3 L196.3,1133.9 L195.3,1133.5 L194.3,1133.0 L193.3,1132.5 L192.3,1132.0 L191.3,1131.5 L190.4,1130.9 L189.4,1130.3 L188.4,1129.6 L187.4,1128.9 L186.4,1128.2 L185.4,1127.4 L184.4,1126.5 L183.4,1125.4 L182.4,1124.1 L181.4,1122.6 L180.4,1121.0 L179.5,1119.2 L178.5,1117.3 L177.5,1115.4 L176.5,1113.3 L175.5,1111.2 L174.5,1109.1 L173.5,1107.0 L172.5,1104.9 L171.5,1102.8 L170.5,1100.9 L169.6,1098.9 L168.6,1096.8 L167.6,1094.7 L166.6,1092.5 L165.6,1090.3 L164.6,1088.1 L163.6,1085.9 L162.6,1083.7 L161.6,1081.6 L160.6,1079.5 L159.6,1077.5 L158.7,1075.6 L157.7,1073.9 L156.7,1072.1 L155.7,1070.4 L154.7,1068.7 L153.7,1067.0 L152.7,1065.3 L151.7,1063.7 L150.7,1062.0 L149.7,1060.4 L148.7,1058.8 L147.8,1057.2 L146.8,1055.7 L145.8,1054.2 L144.8,1052.7 L143.8,1051.2 L142.8,1049.7 L141.8,1048.3 L140.8,1046.9 L139.8,1045.6 L138.8,1044.3 L137.8,1043.0 L136.9,1041.7 L135.9,1040.5 L134.9,1039.3 L133.9,1038.2 L132.9,1037.1 L131.9,1036.0 L130.9,1035.0 L129.9,1034.0 L128.9,1033.1 L127.9,1032.1 L127.0,1031.3 L126.0,1030.4 L125.0,1029.6 L124.0,1028.8 L123.0,1028.1 L122.0,1027.4Z" fill="#7570b3" fill-opacity="0.3" clip-path="url(#c7)"/>
<path d="M122.0,1027.4 L123.0,1027.4 L124.0,1027.4 L125.0,1027.4 L126.0,1027.4 L127.0,1027.4 L127.9,1027.4 L128.9,1027.4 L129.9,1027.4 L130.9,1027.4 L131.9,1027.4 L132.9,1027.4 L133.9,1027.4 L134.9,1027.4 L135.9,1027.4 L136.9,1027.4 L137.8,1027.4 L138.8,1027.4 L139.8,1027.4 L140.8,1027.4 L141.8,1027.4 L142.8,1027.5 L143.8,1027.5 L144.8,1027.5 L145.8,1027.5 L146.8,1027.5 L147.8,1027.5 L148.7,1027.5 L149.7,1027.5 L150.7,1027.5 L151.7,1027.5 L152.7,1027.5 L153.7,1027.5 L154.7,1027.5 L155.7,1027.5 L156.7,1027.6 L157.7,1027.6 L158.7,1027.6 L159.6,1027.6 L160.6,1027.6 L161.6,1027.6 L162.6,1027.6 L163.6,1027.6 L164.6,1027.6 L165.6,1027.6 L166.6,1027.6 L167.6,1027.7 L168.6,1027.7 L169.6,1027.7 L170.5,1027.7 L171.5,1027.7 L172.5,1027.7 L173.5,1027.7 L174.5,1027.8 L175.5,1027.8 L176.5,1027.8 L177.5,1027.8 L178.5,1027.8 L179.5,1027.8 L180.4,1027.9 L181.4,1027.9 L182.4,1027.9 L183.4,1027.9 L184.4,1027.9 L185.4,1027.9 L186.4,1028.0 L187.4,1028.0 L188.4,1028.0 L189.4,1028.0 L190.4,1028.0 L191.3,1028.1 L192.3,1028.1 L193.3,1028.1 L194.3,1028.1 L195.3,1028.1 L196.3,1028.2 L197.3,1028.2 L198.3,1028.2 L199.3,1028.2 L200.3,1028.2 L201.2,1028.2 L202.2,1028.3 L203.2,1028.3 L204.2,1028.3 L205.2,1028.3 L206.2,1028.3 L207.2,1028.4 L208.2,1028.4 L209.2,1028.4 L210.2,1028.4 L211.2,1028.4 L212.1,1028.4 L213.1,1028.5 L214.1,1028.5 L215.1,1028.5 L216.1,1028.5 L217.1,1028.5 L218.1,1028.6 L219.1,1028.6 L220.1,1028.6 L221.1,1028.6 L222.1,1028.6 L223.0,1028.6 L224.0,1028.7 L225.0,1028.7 L226.0,1028.7 L227.0,1028.7 L228.0,1028.7 L229.0,1028.8 L230.0,1028.8 L231.0,1028.8 L232.0,1028.8 L232.9,1028.8 L233.9,1028.9 L234.9,1028.9 L235.9,1028.9 L236.9,1028.9 L237.9,1028.9 L238.9,1028.9 L239.9,1029.0 L240.9,1029.0 L241.9,1029.0 L242.9,1029.0 L243.8,1029.0 L244.8,1029.1 L245.8,1029.1 L246.8,1029.1 L247.8,1029.1 L248.8,1029.1 L249.8,1029.2 L250.8,1029.2 L251.8,1029.2 L252.8,1029.2 L253.8,1029.2 L254.7,1029.2 L255.7,1029.3 L256.7,1029.3 L257.7,1029.3 L258.7,1029.3 L259.7,1029.3 L260.7,1029.4 L261.7,1029.4 L262.7,1029.4 L263.7,1029.4 L264.6,1029.4 L265.6,1029.4 L266.6,1029.5 L267.6,1029.5 L268.6,1029.5 L269.6,1029.5 L270.6,1029.5 L271.6,1029.6 L272.6,1029.6 L273.6,1029.6 L274.6,1029.6 L275.5,1029.6 L276.5,1029.7 L277.5,1029.7 L278.5,1029.7 L279.5,1029.7 L280.5,1029.7 L280.5,1033.4 L279.5,1033.4 L278.5,1033.4 L277.5,1033.3 L276.5,1033.3 L275.5,1033.3 L274.6,1033.2 L273.6,1033.2 L272.6,1033.2 L271.6,1033.1 L270.6,1033.1 L269.6,1033.1 L268.6,1033.0 L267.6,1033.0 L266.6,1033.0 L265.6,1032.9 L264.6,1032.9 L263.7,1032.9 L262.7,1032.8 L261.7,1032.8 L260.7,1032.8 L259.7,1032.7 L258.7,1032.7 L257.7,1032.7 L256.7,1032.6 L255.7,1032.6 L254.7,1032.5 L253.8,1032.5 L252.8,1032.5 L251.8,1032.4 L250.8,1032.4 L249.8,1032.4 L248.8,1032.3 L247.8,1032.3 L246.8,1032.3 L245.8,1032.2 L244.8,1032.2 L243.8,1032.2 L242.9,1032.1 L241.9,1032.1 L240.9,1032.1 L239.9,1032.0 L238.9,1032.0 L237.9,1032.0 L236.9,1031.9 L235.9,1031.9 L234.9,1031.9 L233.9,1031.8 L232.9,1031.8 L232.0,1031.8 L231.0,1031.7 L230.0,1031.7 L229.0,1031.7 L228.0,1031.6 L227.0,1031.6 L226.0,1031.6 L225.0,1031.5 L224.0,1031.5 L223.0,1031.5 L222.1,1031.4 L221.1,1031.4 L220.1,1031.4 L219.1,1031.3 L218.1,1031.3 L217.1,1031.3 L216.1,1031.2 L215.1,1031.2 L214.1,1031.2 L213.1,1031.1 L212.1,1031.1 L211.2,1031.1 L210.2,1031.0 L209.2,1031.0 L208.2,1031.0 L207.2,1030.9 L206.2,1030.9 L205.2,1030.9 L204.2,1030.8 L203.2,1030.8 L202.2,1030.8 L201.2,1030.7 L200.3,1030.7 L199.3,1030.6 L198.3,1030.6 L197.3,1030.6 L196.3,1030.5 L195.3,1030.5 L194.3,1030.4 L193.3,1030.4 L192.3,1030.4 L191.3,1030.3 L190.4,1030.3 L189.4,1030.2 L188.4,1030.2 L187.4,1030.2 L186.4,1030.1 L185.4,1030.1 L184.4,1030.0 L183.4,1030.0 L182.4,1030.0 L181.4,1029.9 L180.4,1029.9 L179.5,1029.8 L178.5,1029.8 L177.5,1029.8 L176.5,1029.7 L175.5,1029.7 L174.5,1029.6 L173.5,1029.6 L172.5,1029.5 L171.5,1029.5 L170.5,1029.5 L169.6,1029.4 L168.6,1029.4 L167.6,1029.3 L166.6,1029.3 L165.6,1029.2 L164.6,1029.2 L163.6,1029.2 L162.6,1029.1 L161.6,1029.1 L160.6,1029.0 L159.6,1029.0 L158.7,1029.0 L157.7,1028.9 L156.7,1028.9 L155.7,1028.8 L154.7,1028.8 L153.7,1028.7 L152.7,1028.7 L151.7,1028.7 L150.7,1028.6 L149.7,1028.6 L148.7,1028.5 L147.8,1028.5 L146.8,1028.4 L145.8,1028.4 L144.8,1028.4 L143.8,1028.3 L142.8,1028.3 L141.8,1028.2 L140.8,1028.2 L139.8,1028.2 L138.8,1028.1 L137.8,1028.1 L136.9,1028.0 L135.9,1028.0 L134.9,1027.9 L133.9,1027.9 L132.9,1027.9 L131.9,1027.8 L130.9,1027.8 L129.9,1027.7 L128.9,1027.7 L127.9,1027.6 L127.0,1027.6 L126.0,1027.6 L125.0,1027.5 L124.0,1027.5 L123.0,1027.4 L122.0,1027.4Z" fill="#e7298a" fill-opacity="0.155" clip-path="url(#c7)"/>
<path d="M122.0,1027.4 L123.0,1028.0 L124.0,1028.6 L125.0,1029.3 L126.0,1029.9 L127.0,1030.5 L127.9,1031.1 L128.9,1031.7 L129.9,1032.3 L130.9,1032.8 L131.9,1033.4 L132.9,1034.0 L133.9,1034.5 L134.9,1035.1 L135.9,1035.6 L136.9,1036.1 L137.8,1036.6 L138.8,1037.1 L139.8,1037.6 L140.8,1038.1 L141.8,1038.6 L142.8,1039.0 L143.8,1039.5 L144.8,1040.0 L145.8,1040.5 L146.8,1040.9 L147.8,1041.4 L148.7,1041.9 L149.7,1042.4 L150.7,1042.9 L151.7,1043.4 L152.7,1043.9 L153.7,1044.3 L154.7,1044.8 L155.7,1045.3 L156.7,1045.8 L157.7,1046.3 L158.7,1046.8 L159.6,1047.3 L160.6,1047.8 L161.6,1048.4 L162.6,1048.9 L163.6,1049.4 L164.6,1050.0 L165.6,1050.5 L166.6,1051.1 L167.6,1051.6 L168.6,1052.2 L169.6,1052.8 L170.5,1053.3 L171.5,1053.9 L172.5,1054.4 L173.5,1055.0 L174.5,1055.5 L175.5,1056.1 L176.5,1056.6 L177.5,1057.2 L178.5,1057.7 L179.5,1058.3 L180.4,1058.8 L181.4,1059.4 L182.4,1059.9 L183.4,1060.5 L184.4,1061.0 L185.4,1061.5 L186.4,1062.0 L187.4,1062.5 L188.4,1063.0 L189.4,1063.5 L190.4,1063.9 L191.3,1064.3 L192.3,1064.8 L193.3,1065.2 L194.3,1065.6 L195.3,1066.0 L196.3,1066.4 L197.3,1066.9 L198.3,1067.3 L199.3,1067.7 L200.3,1068.2 L201.2,1068.6 L202.2,1069.1 L203.2,1069.6 L204.2,1070.1 L205.2,1070.6 L206.2,1071.1 L207.2,1071.6 L208.2,1072.1 L209.2,1072.7 L210.2,1073.2 L211.2,1073.7 L212.1,1074.3 L213.1,1074.8 L214.1,1075.4 L215.1,1075.9 L216.1,1076.5 L217.1,1077.1 L218.1,1077.7 L219.1,1078.3 L220.1,1078.9 L221.1,1079.5 L222.1,1080.1 L223.0,1080.7 L224.0,1081.3 L225.0,1081.9 L226.0,1082.5 L227.0,1083.0 L228.0,1083.6 L229.0,1084.1 L230.0,1084.7 L231.0,1085.2 L232.0,1085.7 L232.9,1086.2 L233.9,1086.7 L234.9,1087.2 L235.9,1087.6 L236.9,1088.1 L237.9,1088.6 L238.9,1089.1 L239.9,1089.6 L240.9,1090.1 L241.9,1090.6 L242.9,1091.1 L243.8,1091.6 L244.8,1092.1 L245.8,1092.6 L246.8,1093.2 L247.8,1093.7 L248.8,1094.2 L249.8,1094.7 L250.8,1095.2 L251.8,1095.7 L252.8,1096.1 L253.8,1096.6 L254.7,1097.0 L255.7,1097.4 L256.7,1097.8 L257.7,1098.2 L258.7,1098.5 L259.7,1098.9 L260.7,1099.2 L261.7,1099.5 L262.7,1099.9 L263.7,1100.2 L264.6,1100.5 L265.6,1100.8 L266.6,1101.2 L267.6,1101.5 L268.6,1101.8 L269.6,1102.1 L270.6,1102.5 L271.6,1102.8 L272.6,1103.1 L273.6,1103.4 L274.6,1103.7 L275.5,1104.0 L276.5,1104.4 L277.5,1104.7 L278.5,1105.0 L279.5,1105.3 L280.5,1105.6" fill="none" stroke="#d95f02" stroke-width="4.2" stroke-linejoin="round" stroke-linecap="butt" clip-path="url(#c7)"/>
<path d="M122.0,1027.4 L123.0,1027.8 L124.0,1028.3 L125.0,1028.8 L126.0,1029.4 L127.0,1030.1 L127.9,1030.8 L128.9,1031.5 L129.9,1032.4 L130.9,1033.3 L131.9,1034.3 L132.9,1035.4 L133.9,1036.4 L134.9,1037.5 L135.9,1038.6 L136.9,1039.8 L137.8,1041.0 L138.8,1042.2 L139.8,1043.4 L140.8,1044.7 L141.8,1045.9 L142.8,1047.2 L143.8,1048.5 L144.8,1049.8 L145.8,1051.1 L146.8,1052.5 L147.8,1053.9 L148.7,1055.4 L149.7,1056.9 L150.7,1058.4 L151.7,1060.0 L152.7,1061.6 L153.7,1063.3 L154.7,1065.0 L155.7,1066.7 L156.7,1068.4 L157.7,1070.2 L158.7,1072.1 L159.6,1073.9 L160.6,1075.7 L161.6,1077.5 L162.6,1079.3 L163.6,1081.1 L164.6,1082.9 L165.6,1084.7 L166.6,1086.5 L167.6,1088.3 L168.6,1090.1 L169.6,1091.9 L170.5,1093.8 L171.5,1095.6 L172.5,1097.4 L173.5,1099.2 L174.5,1100.9 L175.5,1102.6 L176.5,1104.2 L177.5,1105.8 L178.5,1107.4 L179.5,1109.0 L180.4,1110.5 L181.4,1112.0 L182.4,1113.4 L183.4,1114.8 L184.4,1116.1 L185.4,1117.4 L186.4,1118.7 L187.4,1120.0 L188.4,1121.3 L189.4,1122.6 L190.4,1123.9 L191.3,1125.2 L192.3,1126.4 L193.3,1127.5 L194.3,1128.4 L195.3,1129.2 L196.3,1130.0 L197.3,1130.6 L198.3,1131.3 L199.3,1131.9 L200.3,1132.5 L201.2,1133.1 L202.2,1133.8 L203.2,1134.5 L204.2,1135.2 L205.2,1135.8 L206.2,1136.4 L207.2,1136.9 L208.2,1137.2 L209.2,1137.6 L210.2,1137.9 L211.2,1138.1 L212.1,1138.4 L213.1,1138.6 L214.1,1138.9 L215.1,1139.2 L216.1,1139.5 L217.1,1139.8 L218.1,1140.1 L219.1,1140.4 L220.1,1140.7 L221.1,1141.0 L222.1,1141.4 L223.0,1141.7 L224.0,1141.9 L225.0,1142.2 L226.0,1142.4 L227.0,1142.7 L228.0,1142.8 L229.0,1143.0 L230.0,1143.1 L231.0,1143.3 L232.0,1143.4 L232.9,1143.5 L233.9,1143.7 L234.9,1143.8 L235.9,1143.9 L236.9,1144.0 L237.9,1144.1 L238.9,1144.2 L239.9,1144.3 L240.9,1144.4 L241.9,1144.5 L242.9,1144.6 L243.8,1144.7 L244.8,1144.7 L245.8,1144.8 L246.8,1144.9 L247.8,1145.0 L248.8,1145.0 L249.8,1145.1 L250.8,1145.2 L251.8,1145.3 L252.8,1145.3 L253.8,1145.4 L254.7,1145.5 L255.7,1145.6 L256.7,1145.6 L257.7,1145.7 L258.7,1145.8 L259.7,1145.8 L260.7,1145.9 L261.7,1146.0 L262.7,1146.0 L263.7,1146.1 L264.6,1146.1 L265.6,1146.2 L266.6,1146.3 L267.6,1146.3 L268.6,1146.4 L269.6,1146.4 L270.6,1146.5 L271.6,1146.5 L272.6,1146.6 L273.6,1146.6 L274.6,1146.7 L275.5,1146.7 L276.5,1146.8 L277.5,1146.8 L278.5,1146.9 L279.5,1146.9 L280.5,1146.9" fill="none" stroke="#7570b3" stroke-width="4.2" stroke-linejoin="round" stroke-linecap="butt" clip-path="url(#c7)"/>
<path d="M122.0,1027.4 L123.0,1027.4 L124.0,1027.4 L125.0,1027.4 L126.0,1027.5 L127.0,1027.5 L127.9,1027.5 L128.9,1027.5 L129.9,1027.5 L130.9,1027.6 L131.9,1027.6 L132.9,1027.6 L133.9,1027.6 L134.9,1027.6 L135.9,1027.7 L136.9,1027.7 L137.8,1027.7 L138.8,1027.7 L139.8,1027.7 L140.8,1027.8 L141.8,1027.8 L142.8,1027.8 L143.8,1027.8 L144.8,1027.8 L145.8,1027.9 L146.8,1027.9 L147.8,1027.9 L148.7,1027.9 L149.7,1027.9 L150.7,1028.0 L151.7,1028.0 L152.7,1028.0 L153.7,1028.0 L154.7,1028.1 L155.7,1028.1 L156.7,1028.1 L157.7,1028.1 L158.7,1028.1 L159.6,1028.2 L160.6,1028.2 L161.6,1028.2 L162.6,1028.2 L163.6,1028.3 L164.6,1028.3 L165.6,1028.3 L166.6,1028.3 L167.6,1028.4 L168.6,1028.4 L169.6,1028.4 L170.5,1028.4 L171.5,1028.5 L172.5,1028.5 L173.5,1028.5 L174.5,1028.5 L175.5,1028.6 L176.5,1028.6 L177.5,1028.6 L178.5,1028.6 L179.5,1028.7 L180.4,1028.7 L181.4,1028.7 L182.4,1028.7 L183.4,1028.8 L184.4,1028.8 L185.4,1028.8 L186.4,1028.8 L187.4,1028.9 L188.4,1028.9 L189.4,1028.9 L190.4,1028.9 L191.3,1029.0 L192.3,1029.0 L193.3,1029.0 L194.3,1029.1 L195.3,1029.1 L196.3,1029.1 L197.3,1029.1 L198.3,1029.2 L199.3,1029.2 L200.3,1029.2 L201.2,1029.2 L202.2,1029.3 L203.2,1029.3 L204.2,1029.3 L205.2,1029.3 L206.2,1029.4 L207.2,1029.4 L208.2,1029.4 L209.2,1029.4 L210.2,1029.5 L211.2,1029.5 L212.1,1029.5 L213.1,1029.5 L214.1,1029.6 L215.1,1029.6 L216.1,1029.6 L217.1,1029.6 L218.1,1029.7 L219.1,1029.7 L220.1,1029.7 L221.1,1029.7 L222.1,1029.8 L223.0,1029.8 L224.0,1029.8 L225.0,1029.8 L226.0,1029.9 L227.0,1029.9 L228.0,1029.9 L229.0,1029.9 L230.0,1030.0 L231.0,1030.0 L232.0,1030.0 L232.9,1030.0 L233.9,1030.0 L234.9,1030.1 L235.9,1030.1 L236.9,1030.1 L237.9,1030.1 L238.9,1030.2 L239.9,1030.2 L240.9,1030.2 L241.9,1030.2 L242.9,1030.3 L243.8,1030.3 L244.8,1030.3 L245.8,1030.3 L246.8,1030.4 L247.8,1030.4 L248.8,1030.4 L249.8,1030.4 L250.8,1030.5 L251.8,1030.5 L252.8,1030.5 L253.8,1030.5 L254.7,1030.6 L255.7,1030.6 L256.7,1030.6 L257.7,1030.6 L258.7,1030.7 L259.7,1030.7 L260.7,1030.7 L261.7,1030.7 L262.7,1030.8 L263.7,1030.8 L264.6,1030.8 L265.6,1030.8 L266.6,1030.9 L267.6,1030.9 L268.6,1030.9 L269.6,1030.9 L270.6,1031.0 L271.6,1031.0 L272.6,1031.0 L273.6,1031.0 L274.6,1031.1 L275.5,1031.1 L276.5,1031.1 L277.5,1031.1 L278.5,1031.2 L279.5,1031.2 L280.5,1031.2" fill="none" stroke="#e7298a" stroke-width="4.2" stroke-linejoin="round" stroke-linecap="butt" clip-path="url(#c7)"/>
<line x1="122.00" y1="1027.38" x2="280.50" y2="1027.38" stroke="#000" stroke-width="2.6"/>
<rect x="122.00" y="996.50" width="158.50" height="154.40" fill="none" stroke="#000" stroke-width="2.0"/>
<line x1="111.70" y1="1027.38" x2="122.00" y2="1027.38" stroke="#000" stroke-width="2.0"/>
<g font-size="17.7" fill="#111"><text transform="translate(90.33,1033.58) scale(1.131,1)">0</text></g>
<line x1="111.70" y1="1089.14" x2="122.00" y2="1089.14" stroke="#000" stroke-width="2.0"/>
<g font-size="17.7" fill="#111"><text transform="translate(65.21,1095.34) scale(1.300,1)">−</text><text transform="translate(79.26,1095.34) scale(1.131,1)">5</text><text transform="translate(90.40,1095.34) scale(1.131,1)">0</text></g>
<line x1="111.70" y1="1150.90" x2="122.00" y2="1150.90" stroke="#000" stroke-width="2.0"/>
<g font-size="17.7" fill="#111"><text transform="translate(54.01,1157.10) scale(1.300,1)">−</text><text transform="translate(68.06,1157.10) scale(1.131,1)">1</text><text transform="translate(79.20,1157.10) scale(1.131,1)">0</text><text transform="translate(90.33,1157.10) scale(1.131,1)">0</text></g>
<line x1="181.44" y1="1150.90" x2="181.44" y2="1161.20" stroke="#000" stroke-width="2.0"/>
<g font-size="17.7" fill="#111"><text transform="translate(159.12,1184.50) scale(1.131,1)">2</text><text transform="translate(170.26,1184.50) scale(1.131,1)">0</text><text transform="translate(181.39,1184.50) scale(1.131,1)">5</text><text transform="translate(192.53,1184.50) scale(1.131,1)">0</text></g>
<line x1="280.50" y1="1150.90" x2="280.50" y2="1161.20" stroke="#000" stroke-width="2.0"/>
<g font-size="17.7" fill="#111"><text transform="translate(258.19,1184.50) scale(1.131,1)">2</text><text transform="translate(269.32,1184.50) scale(1.131,1)">1</text><text transform="translate(280.46,1184.50) scale(1.131,1)">0</text><text transform="translate(291.59,1184.50) scale(1.131,1)">0</text></g>
<g font-size="17.7" fill="#111"><text transform="translate(137.11,987.10) scale(0.941,1)">S</text><text transform="translate(148.22,987.10) scale(1.088,1)">o</text><text transform="translate(158.93,987.10) scale(1.127,1)">u</text><text transform="translate(170.25,987.10) scale(1.300,1)">t</text><text transform="translate(176.88,987.10) scale(1.127,1)">h</text><text transform="translate(193.53,987.10) scale(1.014,1)">A</text><text transform="translate(205.50,987.10) scale(1.156,1)">m</text><text transform="translate(222.55,987.10) scale(1.094,1)">e</text><text transform="translate(233.32,987.10) scale(1.221,1)">r</text><text transform="translate(240.51,987.10) scale(1.236,1)">i</text><text transform="translate(245.37,987.10) scale(1.087,1)">c</text><text transform="translate(255.00,987.10) scale(1.090,1)">a</text></g>
<g font-size="24.4" fill="#111" font-weight="bold" style="stroke-width:0.7px"><text transform="translate(131.01,1019.30) scale(1.000,1)">h</text></g>
<path d="M312.2,1027.4 L313.2,1027.6 L314.2,1027.8 L315.2,1028.0 L316.2,1028.2 L317.2,1028.4 L318.2,1028.6 L319.2,1028.8 L320.2,1029.1 L321.2,1029.3 L322.2,1029.5 L323.1,1029.7 L324.1,1029.9 L325.1,1030.1 L326.1,1030.4 L327.1,1030.6 L328.1,1030.8 L329.1,1031.0 L330.1,1031.3 L331.1,1031.5 L332.1,1031.7 L333.1,1031.9 L334.0,1032.2 L335.0,1032.4 L336.0,1032.6 L337.0,1032.9 L338.0,1033.1 L339.0,1033.3 L340.0,1033.6 L341.0,1033.8 L342.0,1034.1 L343.0,1034.3 L343.9,1034.5 L344.9,1034.8 L345.9,1035.0 L346.9,1035.3 L347.9,1035.5 L348.9,1035.8 L349.9,1036.0 L350.9,1036.2 L351.9,1036.5 L352.9,1036.7 L353.9,1037.0 L354.8,1037.2 L355.8,1037.5 L356.8,1037.7 L357.8,1038.0 L358.8,1038.2 L359.8,1038.4 L360.8,1038.7 L361.8,1038.9 L362.8,1039.2 L363.8,1039.4 L364.8,1039.6 L365.7,1039.9 L366.7,1040.1 L367.7,1040.4 L368.7,1040.6 L369.7,1040.9 L370.7,1041.1 L371.7,1041.4 L372.7,1041.6 L373.7,1041.8 L374.7,1042.1 L375.6,1042.4 L376.6,1042.6 L377.6,1042.9 L378.6,1043.1 L379.6,1043.4 L380.6,1043.6 L381.6,1043.9 L382.6,1044.2 L383.6,1044.4 L384.6,1044.7 L385.6,1045.0 L386.5,1045.3 L387.5,1045.6 L388.5,1045.8 L389.5,1046.1 L390.5,1046.4 L391.5,1046.7 L392.5,1047.0 L393.5,1047.3 L394.5,1047.6 L395.5,1048.0 L396.5,1048.3 L397.4,1048.6 L398.4,1049.0 L399.4,1049.3 L400.4,1049.6 L401.4,1050.0 L402.4,1050.4 L403.4,1050.7 L404.4,1051.1 L405.4,1051.4 L406.4,1051.8 L407.4,1052.2 L408.3,1052.5 L409.3,1052.9 L410.3,1053.3 L411.3,1053.6 L412.3,1054.0 L413.3,1054.4 L414.3,1054.7 L415.3,1055.1 L416.3,1055.5 L417.3,1055.8 L418.2,1056.2 L419.2,1056.5 L420.2,1056.9 L421.2,1057.2 L422.2,1057.6 L423.2,1057.9 L424.2,1058.2 L425.2,1058.6 L426.2,1058.9 L427.2,1059.3 L428.2,1059.6 L429.1,1060.0 L430.1,1060.3 L431.1,1060.7 L432.1,1061.0 L433.1,1061.4 L434.1,1061.7 L435.1,1062.1 L436.1,1062.4 L437.1,1062.7 L438.1,1063.1 L439.1,1063.4 L440.0,1063.8 L441.0,1064.1 L442.0,1064.4 L443.0,1064.8 L444.0,1065.1 L445.0,1065.4 L446.0,1065.8 L447.0,1066.1 L448.0,1066.4 L449.0,1066.7 L449.9,1067.1 L450.9,1067.4 L451.9,1067.7 L452.9,1068.0 L453.9,1068.4 L454.9,1068.7 L455.9,1069.0 L456.9,1069.3 L457.9,1069.6 L458.9,1070.0 L459.9,1070.3 L460.8,1070.6 L461.8,1070.9 L462.8,1071.2 L463.8,1071.5 L464.8,1071.8 L465.8,1072.2 L466.8,1072.5 L467.8,1072.8 L468.8,1073.1 L469.8,1073.4 L470.8,1073.7 L470.8,1127.4 L469.8,1127.3 L468.8,1127.2 L467.8,1127.0 L466.8,1126.9 L465.8,1126.7 L464.8,1126.6 L463.8,1126.4 L462.8,1126.2 L461.8,1126.0 L460.8,1125.8 L459.9,1125.6 L458.9,1125.4 L457.9,1125.2 L456.9,1125.0 L455.9,1124.8 L454.9,1124.5 L453.9,1124.3 L452.9,1124.1 L451.9,1123.8 L450.9,1123.6 L449.9,1123.3 L449.0,1123.1 L448.0,1122.8 L447.0,1122.5 L446.0,1122.3 L445.0,1122.0 L444.0,1121.7 L443.0,1121.4 L442.0,1121.1 L441.0,1120.8 L440.0,1120.5 L439.1,1120.2 L438.1,1119.9 L437.1,1119.5 L436.1,1119.2 L435.1,1118.8 L434.1,1118.4 L433.1,1118.0 L432.1,1117.7 L431.1,1117.3 L430.1,1116.9 L429.1,1116.5 L428.2,1116.0 L427.2,1115.6 L426.2,1115.2 L425.2,1114.7 L424.2,1114.3 L423.2,1113.8 L422.2,1113.3 L421.2,1112.9 L420.2,1112.4 L419.2,1111.9 L418.2,1111.4 L417.3,1110.9 L416.3,1110.3 L415.3,1109.7 L414.3,1109.2 L413.3,1108.5 L412.3,1107.9 L411.3,1107.3 L410.3,1106.6 L409.3,1105.9 L408.3,1105.2 L407.4,1104.5 L406.4,1103.8 L405.4,1103.1 L404.4,1102.3 L403.4,1101.6 L402.4,1100.8 L401.4,1100.1 L400.4,1099.3 L399.4,1098.5 L398.4,1097.8 L397.4,1097.0 L396.5,1096.3 L395.5,1095.5 L394.5,1094.7 L393.5,1094.0 L392.5,1093.3 L391.5,1092.5 L390.5,1091.8 L389.5,1091.1 L388.5,1090.3 L387.5,1089.6 L386.5,1088.9 L385.6,1088.1 L384.6,1087.4 L383.6,1086.6 L382.6,1085.9 L381.6,1085.1 L380.6,1084.4 L379.6,1083.6 L378.6,1082.9 L377.6,1082.1 L376.6,1081.3 L375.6,1080.6 L374.7,1079.8 L373.7,1079.1 L372.7,1078.3 L371.7,1077.5 L370.7,1076.7 L369.7,1076.0 L368.7,1075.2 L367.7,1074.4 L366.7,1073.6 L365.7,1072.8 L364.8,1072.1 L363.8,1071.3 L362.8,1070.5 L361.8,1069.7 L360.8,1068.9 L359.8,1068.1 L358.8,1067.3 L357.8,1066.5 L356.8,1065.7 L355.8,1064.9 L354.8,1064.1 L353.9,1063.3 L352.9,1062.5 L351.9,1061.7 L350.9,1060.9 L349.9,1060.0 L348.9,1059.2 L347.9,1058.4 L346.9,1057.5 L345.9,1056.7 L344.9,1055.9 L343.9,1055.0 L343.0,1054.1 L342.0,1053.3 L341.0,1052.4 L340.0,1051.6 L339.0,1050.7 L338.0,1049.8 L337.0,1049.0 L336.0,1048.1 L335.0,1047.3 L334.0,1046.4 L333.1,1045.5 L332.1,1044.7 L331.1,1043.8 L330.1,1043.0 L329.1,1042.1 L328.1,1041.2 L327.1,1040.4 L326.1,1039.5 L325.1,1038.7 L324.1,1037.8 L323.1,1036.9 L322.2,1036.1 L321.2,1035.2 L320.2,1034.3 L319.2,1033.5 L318.2,1032.6 L317.2,1031.7 L316.2,1030.9 L315.2,1030.0 L314.2,1029.1 L313.2,1028.3 L312.2,1027.4Z" fill="#d95f02" fill-opacity="0.155" clip-path="url(#c8)"/>
<path d="M312.2,1027.4 L313.2,1027.8 L314.2,1028.1 L315.2,1028.5 L316.2,1028.9 L317.2,1029.3 L318.2,1029.6 L319.2,1030.0 L320.2,1030.4 L321.2,1030.8 L322.2,1031.1 L323.1,1031.5 L324.1,1031.9 L325.1,1032.2 L326.1,1032.6 L327.1,1033.0 L328.1,1033.3 L329.1,1033.7 L330.1,1034.1 L331.1,1034.4 L332.1,1034.8 L333.1,1035.2 L334.0,1035.5 L335.0,1035.9 L336.0,1036.2 L337.0,1036.6 L338.0,1037.0 L339.0,1037.3 L340.0,1037.7 L341.0,1038.0 L342.0,1038.4 L343.0,1038.7 L343.9,1039.1 L344.9,1039.4 L345.9,1039.8 L346.9,1040.1 L347.9,1040.5 L348.9,1040.8 L349.9,1041.2 L350.9,1041.5 L351.9,1041.8 L352.9,1042.2 L353.9,1042.5 L354.8,1042.8 L355.8,1043.2 L356.8,1043.5 L357.8,1043.8 L358.8,1044.1 L359.8,1044.5 L360.8,1044.8 L361.8,1045.1 L362.8,1045.4 L363.8,1045.7 L364.8,1046.0 L365.7,1046.4 L366.7,1046.7 L367.7,1047.0 L368.7,1047.3 L369.7,1047.6 L370.7,1047.9 L371.7,1048.2 L372.7,1048.5 L373.7,1048.9 L374.7,1049.2 L375.6,1049.5 L376.6,1049.8 L377.6,1050.1 L378.6,1050.4 L379.6,1050.7 L380.6,1051.0 L381.6,1051.4 L382.6,1051.7 L383.6,1052.0 L384.6,1052.3 L385.6,1052.6 L386.5,1053.0 L387.5,1053.3 L388.5,1053.6 L389.5,1053.9 L390.5,1054.3 L391.5,1054.6 L392.5,1054.9 L393.5,1055.3 L394.5,1055.6 L395.5,1055.9 L396.5,1056.3 L397.4,1056.6 L398.4,1056.9 L399.4,1057.3 L400.4,1057.6 L401.4,1057.9 L402.4,1058.2 L403.4,1058.6 L404.4,1058.9 L405.4,1059.3 L406.4,1059.6 L407.4,1059.9 L408.3,1060.3 L409.3,1060.6 L410.3,1061.0 L411.3,1061.4 L412.3,1061.7 L413.3,1062.1 L414.3,1062.5 L415.3,1062.9 L416.3,1063.3 L417.3,1063.7 L418.2,1064.1 L419.2,1064.5 L420.2,1064.9 L421.2,1065.3 L422.2,1065.8 L423.2,1066.3 L424.2,1066.7 L425.2,1067.2 L426.2,1067.7 L427.2,1068.2 L428.2,1068.7 L429.1,1069.2 L430.1,1069.7 L431.1,1070.2 L432.1,1070.7 L433.1,1071.2 L434.1,1071.8 L435.1,1072.3 L436.1,1072.8 L437.1,1073.3 L438.1,1073.8 L439.1,1074.4 L440.0,1074.9 L441.0,1075.4 L442.0,1075.9 L443.0,1076.4 L444.0,1076.9 L445.0,1077.4 L446.0,1077.8 L447.0,1078.3 L448.0,1078.8 L449.0,1079.3 L449.9,1079.8 L450.9,1080.2 L451.9,1080.7 L452.9,1081.2 L453.9,1081.7 L454.9,1082.2 L455.9,1082.6 L456.9,1083.1 L457.9,1083.6 L458.9,1084.1 L459.9,1084.6 L460.8,1085.0 L461.8,1085.5 L462.8,1086.0 L463.8,1086.5 L464.8,1086.9 L465.8,1087.4 L466.8,1087.9 L467.8,1088.3 L468.8,1088.8 L469.8,1089.3 L470.8,1089.8 L470.8,1123.7 L469.8,1123.3 L468.8,1122.9 L467.8,1122.4 L466.8,1122.0 L465.8,1121.6 L464.8,1121.1 L463.8,1120.7 L462.8,1120.3 L461.8,1119.9 L460.8,1119.4 L459.9,1119.0 L458.9,1118.6 L457.9,1118.2 L456.9,1117.7 L455.9,1117.3 L454.9,1116.9 L453.9,1116.5 L452.9,1116.1 L451.9,1115.7 L450.9,1115.2 L449.9,1114.8 L449.0,1114.4 L448.0,1114.0 L447.0,1113.6 L446.0,1113.2 L445.0,1112.8 L444.0,1112.4 L443.0,1112.0 L442.0,1111.6 L441.0,1111.2 L440.0,1110.8 L439.1,1110.4 L438.1,1110.1 L437.1,1109.7 L436.1,1109.3 L435.1,1109.0 L434.1,1108.6 L433.1,1108.3 L432.1,1107.9 L431.1,1107.5 L430.1,1107.2 L429.1,1106.8 L428.2,1106.4 L427.2,1106.0 L426.2,1105.6 L425.2,1105.2 L424.2,1104.8 L423.2,1104.4 L422.2,1104.0 L421.2,1103.5 L420.2,1103.1 L419.2,1102.6 L418.2,1102.1 L417.3,1101.6 L416.3,1101.1 L415.3,1100.5 L414.3,1100.0 L413.3,1099.4 L412.3,1098.8 L411.3,1098.2 L410.3,1097.6 L409.3,1097.0 L408.3,1096.3 L407.4,1095.7 L406.4,1095.0 L405.4,1094.3 L404.4,1093.6 L403.4,1093.0 L402.4,1092.3 L401.4,1091.6 L400.4,1090.9 L399.4,1090.2 L398.4,1089.5 L397.4,1088.8 L396.5,1088.1 L395.5,1087.4 L394.5,1086.7 L393.5,1086.0 L392.5,1085.3 L391.5,1084.7 L390.5,1084.0 L389.5,1083.3 L388.5,1082.6 L387.5,1081.9 L386.5,1081.3 L385.6,1080.6 L384.6,1079.9 L383.6,1079.2 L382.6,1078.5 L381.6,1077.8 L380.6,1077.1 L379.6,1076.4 L378.6,1075.7 L377.6,1075.0 L376.6,1074.3 L375.6,1073.6 L374.7,1072.9 L373.7,1072.2 L372.7,1071.4 L371.7,1070.7 L370.7,1070.0 L369.7,1069.3 L368.7,1068.6 L367.7,1067.9 L366.7,1067.2 L365.7,1066.4 L364.8,1065.7 L363.8,1065.0 L362.8,1064.3 L361.8,1063.6 L360.8,1062.9 L359.8,1062.1 L358.8,1061.4 L357.8,1060.7 L356.8,1060.0 L355.8,1059.3 L354.8,1058.6 L353.9,1057.9 L352.9,1057.2 L351.9,1056.4 L350.9,1055.7 L349.9,1055.0 L348.9,1054.3 L347.9,1053.6 L346.9,1052.9 L345.9,1052.2 L344.9,1051.5 L343.9,1050.8 L343.0,1050.1 L342.0,1049.4 L341.0,1048.7 L340.0,1047.9 L339.0,1047.2 L338.0,1046.5 L337.0,1045.8 L336.0,1045.1 L335.0,1044.4 L334.0,1043.7 L333.1,1042.9 L332.1,1042.2 L331.1,1041.5 L330.1,1040.7 L329.1,1040.0 L328.1,1039.3 L327.1,1038.6 L326.1,1037.8 L325.1,1037.1 L324.1,1036.3 L323.1,1035.6 L322.2,1034.9 L321.2,1034.1 L320.2,1033.4 L319.2,1032.6 L318.2,1031.9 L317.2,1031.1 L316.2,1030.4 L315.2,1029.6 L314.2,1028.9 L313.2,1028.1 L312.2,1027.4Z" fill="#d95f02" fill-opacity="0.3" clip-path="url(#c8)"/>
<path d="M312.2,1027.4 L313.2,1027.6 L314.2,1027.8 L315.2,1028.1 L316.2,1028.4 L317.2,1028.7 L318.2,1029.0 L319.2,1029.3 L320.2,1029.7 L321.2,1030.1 L322.2,1030.5 L323.1,1030.9 L324.1,1031.3 L325.1,1031.8 L326.1,1032.4 L327.1,1032.9 L328.1,1033.5 L329.1,1034.1 L330.1,1034.7 L331.1,1035.4 L332.1,1036.0 L333.1,1036.7 L334.0,1037.4 L335.0,1038.1 L336.0,1038.8 L337.0,1039.6 L338.0,1040.4 L339.0,1041.2 L340.0,1042.0 L341.0,1042.8 L342.0,1043.6 L343.0,1044.5 L343.9,1045.4 L344.9,1046.2 L345.9,1047.1 L346.9,1048.1 L347.9,1049.0 L348.9,1049.9 L349.9,1050.9 L350.9,1051.8 L351.9,1052.8 L352.9,1053.7 L353.9,1054.7 L354.8,1055.7 L355.8,1056.7 L356.8,1057.7 L357.8,1058.7 L358.8,1059.7 L359.8,1060.7 L360.8,1061.7 L361.8,1062.7 L362.8,1063.7 L363.8,1064.7 L364.8,1065.7 L365.7,1066.7 L366.7,1067.7 L367.7,1068.7 L368.7,1069.7 L369.7,1070.7 L370.7,1071.7 L371.7,1072.6 L372.7,1073.6 L373.7,1074.6 L374.7,1075.5 L375.6,1076.5 L376.6,1077.6 L377.6,1078.6 L378.6,1079.7 L379.6,1080.8 L380.6,1081.9 L381.6,1082.9 L382.6,1084.0 L383.6,1085.1 L384.6,1086.1 L385.6,1087.1 L386.5,1088.1 L387.5,1089.1 L388.5,1090.0 L389.5,1090.9 L390.5,1091.7 L391.5,1092.5 L392.5,1093.3 L393.5,1094.0 L394.5,1094.6 L395.5,1095.3 L396.5,1096.0 L397.4,1096.6 L398.4,1097.2 L399.4,1097.9 L400.4,1098.5 L401.4,1099.0 L402.4,1099.6 L403.4,1100.2 L404.4,1100.7 L405.4,1101.3 L406.4,1101.8 L407.4,1102.3 L408.3,1102.8 L409.3,1103.3 L410.3,1103.8 L411.3,1104.3 L412.3,1104.8 L413.3,1105.2 L414.3,1105.7 L415.3,1106.1 L416.3,1106.6 L417.3,1107.0 L418.2,1107.4 L419.2,1107.8 L420.2,1108.3 L421.2,1108.7 L422.2,1109.1 L423.2,1109.5 L424.2,1109.9 L425.2,1110.2 L426.2,1110.6 L427.2,1111.0 L428.2,1111.4 L429.1,1111.7 L430.1,1112.1 L431.1,1112.4 L432.1,1112.8 L433.1,1113.1 L434.1,1113.4 L435.1,1113.8 L436.1,1114.1 L437.1,1114.4 L438.1,1114.7 L439.1,1115.0 L440.0,1115.3 L441.0,1115.6 L442.0,1115.9 L443.0,1116.1 L444.0,1116.4 L445.0,1116.7 L446.0,1116.9 L447.0,1117.2 L448.0,1117.4 L449.0,1117.7 L449.9,1117.9 L450.9,1118.2 L451.9,1118.4 L452.9,1118.6 L453.9,1118.9 L454.9,1119.1 L455.9,1119.3 L456.9,1119.6 L457.9,1119.8 L458.9,1120.0 L459.9,1120.2 L460.8,1120.4 L461.8,1120.6 L462.8,1120.8 L463.8,1121.0 L464.8,1121.1 L465.8,1121.3 L466.8,1121.5 L467.8,1121.7 L468.8,1121.8 L469.8,1122.0 L470.8,1122.1 L470.8,1136.6 L469.8,1136.6 L468.8,1136.6 L467.8,1136.5 L466.8,1136.5 L465.8,1136.5 L464.8,1136.4 L463.8,1136.4 L462.8,1136.3 L461.8,1136.2 L460.8,1136.2 L459.9,1136.1 L458.9,1136.0 L457.9,1135.9 L456.9,1135.8 L455.9,1135.7 L454.9,1135.6 L453.9,1135.5 L452.9,1135.3 L451.9,1135.2 L450.9,1135.1 L449.9,1134.9 L449.0,1134.8 L448.0,1134.6 L447.0,1134.5 L446.0,1134.3 L445.0,1134.1 L444.0,1134.0 L443.0,1133.8 L442.0,1133.6 L441.0,1133.4 L440.0,1133.2 L439.1,1133.0 L438.1,1132.8 L437.1,1132.6 L436.1,1132.4 L435.1,1132.2 L434.1,1132.0 L433.1,1131.8 L432.1,1131.6 L431.1,1131.4 L430.1,1131.2 L429.1,1130.9 L428.2,1130.7 L427.2,1130.5 L426.2,1130.3 L425.2,1130.0 L424.2,1129.8 L423.2,1129.6 L422.2,1129.3 L421.2,1129.1 L420.2,1128.9 L419.2,1128.7 L418.2,1128.4 L417.3,1128.2 L416.3,1127.9 L415.3,1127.6 L414.3,1127.4 L413.3,1127.0 L412.3,1126.7 L411.3,1126.4 L410.3,1126.0 L409.3,1125.7 L408.3,1125.3 L407.4,1124.9 L406.4,1124.5 L405.4,1124.1 L404.4,1123.7 L403.4,1123.3 L402.4,1122.8 L401.4,1122.4 L400.4,1122.0 L399.4,1121.5 L398.4,1121.0 L397.4,1120.6 L396.5,1120.1 L395.5,1119.6 L394.5,1119.1 L393.5,1118.6 L392.5,1118.1 L391.5,1117.6 L390.5,1117.1 L389.5,1116.5 L388.5,1115.9 L387.5,1115.3 L386.5,1114.6 L385.6,1114.0 L384.6,1113.3 L383.6,1112.6 L382.6,1111.9 L381.6,1111.1 L380.6,1110.4 L379.6,1109.6 L378.6,1108.8 L377.6,1108.0 L376.6,1107.2 L375.6,1106.3 L374.7,1105.4 L373.7,1104.5 L372.7,1103.6 L371.7,1102.6 L370.7,1101.7 L369.7,1100.7 L368.7,1099.6 L367.7,1098.5 L366.7,1097.4 L365.7,1096.2 L364.8,1094.9 L363.8,1093.6 L362.8,1092.3 L361.8,1091.0 L360.8,1089.6 L359.8,1088.2 L358.8,1086.8 L357.8,1085.4 L356.8,1084.0 L355.8,1082.6 L354.8,1081.2 L353.9,1079.8 L352.9,1078.4 L351.9,1077.0 L350.9,1075.6 L349.9,1074.3 L348.9,1073.0 L347.9,1071.6 L346.9,1070.2 L345.9,1068.8 L344.9,1067.4 L343.9,1066.0 L343.0,1064.6 L342.0,1063.1 L341.0,1061.7 L340.0,1060.3 L339.0,1058.8 L338.0,1057.4 L337.0,1056.0 L336.0,1054.5 L335.0,1053.1 L334.0,1051.7 L333.1,1050.3 L332.1,1049.0 L331.1,1047.6 L330.1,1046.3 L329.1,1045.0 L328.1,1043.7 L327.1,1042.4 L326.1,1041.2 L325.1,1040.0 L324.1,1038.9 L323.1,1037.7 L322.2,1036.6 L321.2,1035.6 L320.2,1034.6 L319.2,1033.6 L318.2,1032.6 L317.2,1031.7 L316.2,1030.8 L315.2,1029.9 L314.2,1029.0 L313.2,1028.2 L312.2,1027.4Z" fill="#7570b3" fill-opacity="0.155" clip-path="url(#c8)"/>
<path d="M312.2,1027.4 L313.2,1027.7 L314.2,1028.1 L315.2,1028.4 L316.2,1028.8 L317.2,1029.3 L318.2,1029.7 L319.2,1030.2 L320.2,1030.7 L321.2,1031.2 L322.2,1031.7 L323.1,1032.3 L324.1,1032.8 L325.1,1033.5 L326.1,1034.1 L327.1,1034.8 L328.1,1035.5 L329.1,1036.2 L330.1,1037.0 L331.1,1037.7 L332.1,1038.5 L333.1,1039.3 L334.0,1040.1 L335.0,1041.0 L336.0,1041.8 L337.0,1042.7 L338.0,1043.6 L339.0,1044.5 L340.0,1045.5 L341.0,1046.4 L342.0,1047.4 L343.0,1048.4 L343.9,1049.4 L344.9,1050.4 L345.9,1051.4 L346.9,1052.5 L347.9,1053.5 L348.9,1054.6 L349.9,1055.7 L350.9,1056.7 L351.9,1057.8 L352.9,1058.9 L353.9,1060.0 L354.8,1061.1 L355.8,1062.2 L356.8,1063.3 L357.8,1064.4 L358.8,1065.5 L359.8,1066.6 L360.8,1067.7 L361.8,1068.8 L362.8,1069.8 L363.8,1070.9 L364.8,1072.0 L365.7,1073.1 L366.7,1074.1 L367.7,1075.2 L368.7,1076.3 L369.7,1077.4 L370.7,1078.6 L371.7,1079.8 L372.7,1081.0 L373.7,1082.2 L374.7,1083.4 L375.6,1084.6 L376.6,1085.8 L377.6,1087.1 L378.6,1088.3 L379.6,1089.5 L380.6,1090.7 L381.6,1091.9 L382.6,1093.0 L383.6,1094.1 L384.6,1095.2 L385.6,1096.3 L386.5,1097.3 L387.5,1098.3 L388.5,1099.2 L389.5,1100.1 L390.5,1100.9 L391.5,1101.7 L392.5,1102.4 L393.5,1103.1 L394.5,1103.7 L395.5,1104.4 L396.5,1105.0 L397.4,1105.6 L398.4,1106.2 L399.4,1106.8 L400.4,1107.4 L401.4,1108.0 L402.4,1108.5 L403.4,1109.1 L404.4,1109.6 L405.4,1110.1 L406.4,1110.6 L407.4,1111.1 L408.3,1111.5 L409.3,1112.0 L410.3,1112.4 L411.3,1112.8 L412.3,1113.2 L413.3,1113.6 L414.3,1114.0 L415.3,1114.3 L416.3,1114.7 L417.3,1115.0 L418.2,1115.3 L419.2,1115.6 L420.2,1115.9 L421.2,1116.2 L422.2,1116.5 L423.2,1116.8 L424.2,1117.1 L425.2,1117.4 L426.2,1117.7 L427.2,1118.0 L428.2,1118.3 L429.1,1118.6 L430.1,1118.9 L431.1,1119.2 L432.1,1119.5 L433.1,1119.7 L434.1,1120.0 L435.1,1120.3 L436.1,1120.6 L437.1,1120.8 L438.1,1121.1 L439.1,1121.4 L440.0,1121.6 L441.0,1121.9 L442.0,1122.1 L443.0,1122.3 L444.0,1122.6 L445.0,1122.8 L446.0,1123.0 L447.0,1123.2 L448.0,1123.4 L449.0,1123.6 L449.9,1123.8 L450.9,1124.0 L451.9,1124.2 L452.9,1124.4 L453.9,1124.6 L454.9,1124.7 L455.9,1124.9 L456.9,1125.0 L457.9,1125.2 L458.9,1125.3 L459.9,1125.4 L460.8,1125.5 L461.8,1125.6 L462.8,1125.7 L463.8,1125.8 L464.8,1125.9 L465.8,1125.9 L466.8,1126.0 L467.8,1126.0 L468.8,1126.0 L469.8,1126.1 L470.8,1126.1 L470.8,1134.0 L469.8,1134.0 L468.8,1134.0 L467.8,1133.9 L466.8,1133.9 L465.8,1133.9 L464.8,1133.8 L463.8,1133.8 L462.8,1133.7 L461.8,1133.7 L460.8,1133.6 L459.9,1133.5 L458.9,1133.4 L457.9,1133.3 L456.9,1133.2 L455.9,1133.1 L454.9,1133.0 L453.9,1132.9 L452.9,1132.8 L451.9,1132.6 L450.9,1132.5 L449.9,1132.3 L449.0,1132.2 L448.0,1132.1 L447.0,1131.9 L446.0,1131.7 L445.0,1131.6 L444.0,1131.4 L443.0,1131.2 L442.0,1131.0 L441.0,1130.9 L440.0,1130.7 L439.1,1130.5 L438.1,1130.3 L437.1,1130.1 L436.1,1129.9 L435.1,1129.7 L434.1,1129.5 L433.1,1129.3 L432.1,1129.0 L431.1,1128.8 L430.1,1128.6 L429.1,1128.4 L428.2,1128.2 L427.2,1127.9 L426.2,1127.7 L425.2,1127.5 L424.2,1127.2 L423.2,1127.0 L422.2,1126.8 L421.2,1126.5 L420.2,1126.3 L419.2,1126.1 L418.2,1125.8 L417.3,1125.6 L416.3,1125.3 L415.3,1125.0 L414.3,1124.7 L413.3,1124.4 L412.3,1124.1 L411.3,1123.7 L410.3,1123.4 L409.3,1123.0 L408.3,1122.6 L407.4,1122.2 L406.4,1121.8 L405.4,1121.4 L404.4,1120.9 L403.4,1120.5 L402.4,1120.0 L401.4,1119.5 L400.4,1119.0 L399.4,1118.5 L398.4,1118.0 L397.4,1117.5 L396.5,1117.0 L395.5,1116.5 L394.5,1115.9 L393.5,1115.4 L392.5,1114.9 L391.5,1114.3 L390.5,1113.7 L389.5,1113.2 L388.5,1112.6 L387.5,1111.9 L386.5,1111.3 L385.6,1110.6 L384.6,1109.9 L383.6,1109.2 L382.6,1108.5 L381.6,1107.7 L380.6,1106.9 L379.6,1106.1 L378.6,1105.3 L377.6,1104.4 L376.6,1103.6 L375.6,1102.7 L374.7,1101.8 L373.7,1100.9 L372.7,1099.9 L371.7,1098.9 L370.7,1097.8 L369.7,1096.7 L368.7,1095.6 L367.7,1094.4 L366.7,1093.2 L365.7,1092.0 L364.8,1090.7 L363.8,1089.4 L362.8,1088.1 L361.8,1086.8 L360.8,1085.4 L359.8,1084.1 L358.8,1082.7 L357.8,1081.4 L356.8,1080.0 L355.8,1078.7 L354.8,1077.4 L353.9,1076.1 L352.9,1074.8 L351.9,1073.5 L350.9,1072.2 L349.9,1070.9 L348.9,1069.6 L347.9,1068.2 L346.9,1066.8 L345.9,1065.4 L344.9,1064.0 L343.9,1062.6 L343.0,1061.2 L342.0,1059.8 L341.0,1058.4 L340.0,1056.9 L339.0,1055.5 L338.0,1054.1 L337.0,1052.7 L336.0,1051.3 L335.0,1050.0 L334.0,1048.6 L333.1,1047.3 L332.1,1046.0 L331.1,1044.7 L330.1,1043.4 L329.1,1042.2 L328.1,1041.0 L327.1,1039.9 L326.1,1038.8 L325.1,1037.7 L324.1,1036.7 L323.1,1035.7 L322.2,1034.8 L321.2,1033.9 L320.2,1033.1 L319.2,1032.2 L318.2,1031.5 L317.2,1030.7 L316.2,1030.0 L315.2,1029.3 L314.2,1028.6 L313.2,1028.0 L312.2,1027.4Z" fill="#7570b3" fill-opacity="0.3" clip-path="url(#c8)"/>
<path d="M312.2,1027.4 L313.2,1027.4 L314.2,1027.4 L315.2,1027.4 L316.2,1027.4 L317.2,1027.4 L318.2,1027.4 L319.2,1027.4 L320.2,1027.4 L321.2,1027.4 L322.2,1027.4 L323.1,1027.4 L324.1,1027.4 L325.1,1027.4 L326.1,1027.4 L327.1,1027.4 L328.1,1027.4 L329.1,1027.4 L330.1,1027.4 L331.1,1027.4 L332.1,1027.4 L333.1,1027.5 L334.0,1027.5 L335.0,1027.5 L336.0,1027.5 L337.0,1027.5 L338.0,1027.5 L339.0,1027.5 L340.0,1027.5 L341.0,1027.5 L342.0,1027.5 L343.0,1027.5 L343.9,1027.5 L344.9,1027.5 L345.9,1027.5 L346.9,1027.6 L347.9,1027.6 L348.9,1027.6 L349.9,1027.6 L350.9,1027.6 L351.9,1027.6 L352.9,1027.6 L353.9,1027.6 L354.8,1027.6 L355.8,1027.6 L356.8,1027.6 L357.8,1027.7 L358.8,1027.7 L359.8,1027.7 L360.8,1027.7 L361.8,1027.7 L362.8,1027.7 L363.8,1027.7 L364.8,1027.8 L365.7,1027.8 L366.7,1027.8 L367.7,1027.8 L368.7,1027.8 L369.7,1027.8 L370.7,1027.9 L371.7,1027.9 L372.7,1027.9 L373.7,1027.9 L374.7,1027.9 L375.6,1027.9 L376.6,1028.0 L377.6,1028.0 L378.6,1028.0 L379.6,1028.0 L380.6,1028.0 L381.6,1028.1 L382.6,1028.1 L383.6,1028.1 L384.6,1028.1 L385.6,1028.1 L386.5,1028.2 L387.5,1028.2 L388.5,1028.2 L389.5,1028.2 L390.5,1028.2 L391.5,1028.2 L392.5,1028.3 L393.5,1028.3 L394.5,1028.3 L395.5,1028.3 L396.5,1028.3 L397.4,1028.4 L398.4,1028.4 L399.4,1028.4 L400.4,1028.4 L401.4,1028.4 L402.4,1028.4 L403.4,1028.5 L404.4,1028.5 L405.4,1028.5 L406.4,1028.5 L407.4,1028.5 L408.3,1028.6 L409.3,1028.6 L410.3,1028.6 L411.3,1028.6 L412.3,1028.6 L413.3,1028.6 L414.3,1028.7 L415.3,1028.7 L416.3,1028.7 L417.3,1028.7 L418.2,1028.7 L419.2,1028.8 L420.2,1028.8 L421.2,1028.8 L422.2,1028.8 L423.2,1028.8 L424.2,1028.9 L425.2,1028.9 L426.2,1028.9 L427.2,1028.9 L428.2,1028.9 L429.1,1028.9 L430.1,1029.0 L431.1,1029.0 L432.1,1029.0 L433.1,1029.0 L434.1,1029.0 L435.1,1029.1 L436.1,1029.1 L437.1,1029.1 L438.1,1029.1 L439.1,1029.1 L440.0,1029.2 L441.0,1029.2 L442.0,1029.2 L443.0,1029.2 L444.0,1029.2 L445.0,1029.2 L446.0,1029.3 L447.0,1029.3 L448.0,1029.3 L449.0,1029.3 L449.9,1029.3 L450.9,1029.4 L451.9,1029.4 L452.9,1029.4 L453.9,1029.4 L454.9,1029.4 L455.9,1029.4 L456.9,1029.5 L457.9,1029.5 L458.9,1029.5 L459.9,1029.5 L460.8,1029.5 L461.8,1029.6 L462.8,1029.6 L463.8,1029.6 L464.8,1029.6 L465.8,1029.6 L466.8,1029.7 L467.8,1029.7 L468.8,1029.7 L469.8,1029.7 L470.8,1029.7 L470.8,1033.4 L469.8,1033.4 L468.8,1033.4 L467.8,1033.3 L466.8,1033.3 L465.8,1033.3 L464.8,1033.2 L463.8,1033.2 L462.8,1033.2 L461.8,1033.1 L460.8,1033.1 L459.9,1033.1 L458.9,1033.0 L457.9,1033.0 L456.9,1033.0 L455.9,1032.9 L454.9,1032.9 L453.9,1032.9 L452.9,1032.8 L451.9,1032.8 L450.9,1032.8 L449.9,1032.7 L449.0,1032.7 L448.0,1032.7 L447.0,1032.6 L446.0,1032.6 L445.0,1032.5 L444.0,1032.5 L443.0,1032.5 L442.0,1032.4 L441.0,1032.4 L440.0,1032.4 L439.1,1032.3 L438.1,1032.3 L437.1,1032.3 L436.1,1032.2 L435.1,1032.2 L434.1,1032.2 L433.1,1032.1 L432.1,1032.1 L431.1,1032.1 L430.1,1032.0 L429.1,1032.0 L428.2,1032.0 L427.2,1031.9 L426.2,1031.9 L425.2,1031.9 L424.2,1031.8 L423.2,1031.8 L422.2,1031.8 L421.2,1031.7 L420.2,1031.7 L419.2,1031.7 L418.2,1031.6 L417.3,1031.6 L416.3,1031.6 L415.3,1031.5 L414.3,1031.5 L413.3,1031.5 L412.3,1031.4 L411.3,1031.4 L410.3,1031.4 L409.3,1031.3 L408.3,1031.3 L407.4,1031.3 L406.4,1031.2 L405.4,1031.2 L404.4,1031.2 L403.4,1031.1 L402.4,1031.1 L401.4,1031.1 L400.4,1031.0 L399.4,1031.0 L398.4,1031.0 L397.4,1030.9 L396.5,1030.9 L395.5,1030.9 L394.5,1030.8 L393.5,1030.8 L392.5,1030.8 L391.5,1030.7 L390.5,1030.7 L389.5,1030.6 L388.5,1030.6 L387.5,1030.6 L386.5,1030.5 L385.6,1030.5 L384.6,1030.4 L383.6,1030.4 L382.6,1030.4 L381.6,1030.3 L380.6,1030.3 L379.6,1030.2 L378.6,1030.2 L377.6,1030.2 L376.6,1030.1 L375.6,1030.1 L374.7,1030.0 L373.7,1030.0 L372.7,1030.0 L371.7,1029.9 L370.7,1029.9 L369.7,1029.8 L368.7,1029.8 L367.7,1029.8 L366.7,1029.7 L365.7,1029.7 L364.8,1029.6 L363.8,1029.6 L362.8,1029.5 L361.8,1029.5 L360.8,1029.5 L359.8,1029.4 L358.8,1029.4 L357.8,1029.3 L356.8,1029.3 L355.8,1029.2 L354.8,1029.2 L353.9,1029.2 L352.9,1029.1 L351.9,1029.1 L350.9,1029.0 L349.9,1029.0 L348.9,1029.0 L347.9,1028.9 L346.9,1028.9 L345.9,1028.8 L344.9,1028.8 L343.9,1028.7 L343.0,1028.7 L342.0,1028.7 L341.0,1028.6 L340.0,1028.6 L339.0,1028.5 L338.0,1028.5 L337.0,1028.4 L336.0,1028.4 L335.0,1028.4 L334.0,1028.3 L333.1,1028.3 L332.1,1028.2 L331.1,1028.2 L330.1,1028.2 L329.1,1028.1 L328.1,1028.1 L327.1,1028.0 L326.1,1028.0 L325.1,1027.9 L324.1,1027.9 L323.1,1027.9 L322.2,1027.8 L321.2,1027.8 L320.2,1027.7 L319.2,1027.7 L318.2,1027.6 L317.2,1027.6 L316.2,1027.6 L315.2,1027.5 L314.2,1027.5 L313.2,1027.4 L312.2,1027.4Z" fill="#e7298a" fill-opacity="0.155" clip-path="url(#c8)"/>
<path d="M312.2,1027.4 L313.2,1028.0 L314.2,1028.7 L315.2,1029.3 L316.2,1029.9 L317.2,1030.5 L318.2,1031.1 L319.2,1031.7 L320.2,1032.3 L321.2,1032.9 L322.2,1033.5 L323.1,1034.1 L324.1,1034.6 L325.1,1035.2 L326.1,1035.7 L327.1,1036.2 L328.1,1036.7 L329.1,1037.2 L330.1,1037.7 L331.1,1038.2 L332.1,1038.7 L333.1,1039.2 L334.0,1039.6 L335.0,1040.1 L336.0,1040.6 L337.0,1041.1 L338.0,1041.6 L339.0,1042.1 L340.0,1042.6 L341.0,1043.2 L342.0,1043.7 L343.0,1044.2 L343.9,1044.8 L344.9,1045.3 L345.9,1045.8 L346.9,1046.4 L347.9,1046.9 L348.9,1047.5 L349.9,1048.0 L350.9,1048.5 L351.9,1049.1 L352.9,1049.6 L353.9,1050.2 L354.8,1050.7 L355.8,1051.3 L356.8,1051.8 L357.8,1052.4 L358.8,1052.9 L359.8,1053.5 L360.8,1054.0 L361.8,1054.6 L362.8,1055.1 L363.8,1055.7 L364.8,1056.3 L365.7,1056.9 L366.7,1057.5 L367.7,1058.1 L368.7,1058.7 L369.7,1059.3 L370.7,1059.9 L371.7,1060.5 L372.7,1061.1 L373.7,1061.7 L374.7,1062.3 L375.6,1062.9 L376.6,1063.5 L377.6,1064.1 L378.6,1064.6 L379.6,1065.2 L380.6,1065.7 L381.6,1066.3 L382.6,1066.8 L383.6,1067.3 L384.6,1067.9 L385.6,1068.4 L386.5,1068.9 L387.5,1069.4 L388.5,1069.9 L389.5,1070.4 L390.5,1070.9 L391.5,1071.4 L392.5,1071.8 L393.5,1072.2 L394.5,1072.7 L395.5,1073.1 L396.5,1073.5 L397.4,1073.9 L398.4,1074.2 L399.4,1074.6 L400.4,1075.0 L401.4,1075.4 L402.4,1075.9 L403.4,1076.3 L404.4,1076.8 L405.4,1077.3 L406.4,1077.8 L407.4,1078.3 L408.3,1078.9 L409.3,1079.5 L410.3,1080.1 L411.3,1080.8 L412.3,1081.4 L413.3,1082.1 L414.3,1082.7 L415.3,1083.3 L416.3,1083.9 L417.3,1084.5 L418.2,1085.1 L419.2,1085.6 L420.2,1086.1 L421.2,1086.6 L422.2,1087.1 L423.2,1087.6 L424.2,1088.1 L425.2,1088.6 L426.2,1089.1 L427.2,1089.6 L428.2,1090.1 L429.1,1090.5 L430.1,1091.0 L431.1,1091.5 L432.1,1092.0 L433.1,1092.5 L434.1,1093.0 L435.1,1093.5 L436.1,1094.0 L437.1,1094.5 L438.1,1095.0 L439.1,1095.5 L440.0,1096.0 L441.0,1096.5 L442.0,1097.0 L443.0,1097.4 L444.0,1097.9 L445.0,1098.3 L446.0,1098.8 L447.0,1099.2 L448.0,1099.6 L449.0,1100.0 L449.9,1100.4 L450.9,1100.8 L451.9,1101.2 L452.9,1101.6 L453.9,1102.0 L454.9,1102.4 L455.9,1102.8 L456.9,1103.2 L457.9,1103.5 L458.9,1103.9 L459.9,1104.3 L460.8,1104.7 L461.8,1105.1 L462.8,1105.5 L463.8,1105.9 L464.8,1106.3 L465.8,1106.7 L466.8,1107.1 L467.8,1107.5 L468.8,1107.9 L469.8,1108.3 L470.8,1108.7" fill="none" stroke="#d95f02" stroke-width="4.2" stroke-linejoin="round" stroke-linecap="butt" clip-path="url(#c8)"/>
<path d="M312.2,1027.4 L313.2,1027.7 L314.2,1028.1 L315.2,1028.6 L316.2,1029.2 L317.2,1029.7 L318.2,1030.3 L319.2,1031.0 L320.2,1031.7 L321.2,1032.6 L322.2,1033.5 L323.1,1034.4 L324.1,1035.4 L325.1,1036.4 L326.1,1037.4 L327.1,1038.5 L328.1,1039.6 L329.1,1040.7 L330.1,1041.9 L331.1,1043.0 L332.1,1044.1 L333.1,1045.2 L334.0,1046.3 L335.0,1047.4 L336.0,1048.4 L337.0,1049.5 L338.0,1050.6 L339.0,1051.8 L340.0,1052.9 L341.0,1054.1 L342.0,1055.2 L343.0,1056.4 L343.9,1057.6 L344.9,1058.8 L345.9,1059.9 L346.9,1061.1 L347.9,1062.3 L348.9,1063.5 L349.9,1064.7 L350.9,1065.9 L351.9,1067.1 L352.9,1068.3 L353.9,1069.5 L354.8,1070.7 L355.8,1071.9 L356.8,1073.1 L357.8,1074.3 L358.8,1075.5 L359.8,1076.7 L360.8,1077.9 L361.8,1079.1 L362.8,1080.3 L363.8,1081.5 L364.8,1082.7 L365.7,1083.9 L366.7,1085.2 L367.7,1086.4 L368.7,1087.6 L369.7,1088.8 L370.7,1089.9 L371.7,1091.0 L372.7,1092.1 L373.7,1093.1 L374.7,1094.1 L375.6,1095.0 L376.6,1096.0 L377.6,1096.9 L378.6,1097.9 L379.6,1098.8 L380.6,1099.7 L381.6,1100.6 L382.6,1101.5 L383.6,1102.4 L384.6,1103.2 L385.6,1104.0 L386.5,1104.8 L387.5,1105.5 L388.5,1106.3 L389.5,1107.0 L390.5,1107.7 L391.5,1108.4 L392.5,1109.1 L393.5,1109.7 L394.5,1110.3 L395.5,1110.9 L396.5,1111.5 L397.4,1112.0 L398.4,1112.5 L399.4,1112.9 L400.4,1113.4 L401.4,1113.8 L402.4,1114.2 L403.4,1114.6 L404.4,1115.0 L405.4,1115.4 L406.4,1115.8 L407.4,1116.2 L408.3,1116.6 L409.3,1117.1 L410.3,1117.5 L411.3,1117.9 L412.3,1118.3 L413.3,1118.7 L414.3,1119.1 L415.3,1119.4 L416.3,1119.8 L417.3,1120.2 L418.2,1120.5 L419.2,1120.9 L420.2,1121.2 L421.2,1121.5 L422.2,1121.8 L423.2,1122.2 L424.2,1122.5 L425.2,1122.8 L426.2,1123.1 L427.2,1123.4 L428.2,1123.7 L429.1,1123.9 L430.1,1124.2 L431.1,1124.4 L432.1,1124.7 L433.1,1124.9 L434.1,1125.1 L435.1,1125.3 L436.1,1125.5 L437.1,1125.7 L438.1,1125.9 L439.1,1126.1 L440.0,1126.3 L441.0,1126.4 L442.0,1126.6 L443.0,1126.8 L444.0,1127.0 L445.0,1127.1 L446.0,1127.3 L447.0,1127.5 L448.0,1127.6 L449.0,1127.8 L449.9,1127.9 L450.9,1128.1 L451.9,1128.2 L452.9,1128.4 L453.9,1128.5 L454.9,1128.7 L455.9,1128.8 L456.9,1128.9 L457.9,1129.1 L458.9,1129.2 L459.9,1129.3 L460.8,1129.5 L461.8,1129.6 L462.8,1129.7 L463.8,1129.8 L464.8,1130.0 L465.8,1130.1 L466.8,1130.2 L467.8,1130.3 L468.8,1130.4 L469.8,1130.5 L470.8,1130.6" fill="none" stroke="#7570b3" stroke-width="4.2" stroke-linejoin="round" stroke-linecap="butt" clip-path="url(#c8)"/>
<path d="M312.2,1027.4 L313.2,1027.4 L314.2,1027.4 L315.2,1027.4 L316.2,1027.5 L317.2,1027.5 L318.2,1027.5 L319.2,1027.5 L320.2,1027.5 L321.2,1027.6 L322.2,1027.6 L323.1,1027.6 L324.1,1027.6 L325.1,1027.6 L326.1,1027.7 L327.1,1027.7 L328.1,1027.7 L329.1,1027.7 L330.1,1027.7 L331.1,1027.8 L332.1,1027.8 L333.1,1027.8 L334.0,1027.8 L335.0,1027.8 L336.0,1027.9 L337.0,1027.9 L338.0,1027.9 L339.0,1027.9 L340.0,1027.9 L341.0,1028.0 L342.0,1028.0 L343.0,1028.0 L343.9,1028.0 L344.9,1028.1 L345.9,1028.1 L346.9,1028.1 L347.9,1028.1 L348.9,1028.1 L349.9,1028.2 L350.9,1028.2 L351.9,1028.2 L352.9,1028.2 L353.9,1028.3 L354.8,1028.3 L355.8,1028.3 L356.8,1028.3 L357.8,1028.4 L358.8,1028.4 L359.8,1028.4 L360.8,1028.4 L361.8,1028.5 L362.8,1028.5 L363.8,1028.5 L364.8,1028.5 L365.7,1028.6 L366.7,1028.6 L367.7,1028.6 L368.7,1028.6 L369.7,1028.7 L370.7,1028.7 L371.7,1028.7 L372.7,1028.7 L373.7,1028.8 L374.7,1028.8 L375.6,1028.8 L376.6,1028.8 L377.6,1028.9 L378.6,1028.9 L379.6,1028.9 L380.6,1028.9 L381.6,1029.0 L382.6,1029.0 L383.6,1029.0 L384.6,1029.1 L385.6,1029.1 L386.5,1029.1 L387.5,1029.1 L388.5,1029.2 L389.5,1029.2 L390.5,1029.2 L391.5,1029.2 L392.5,1029.3 L393.5,1029.3 L394.5,1029.3 L395.5,1029.3 L396.5,1029.4 L397.4,1029.4 L398.4,1029.4 L399.4,1029.4 L400.4,1029.5 L401.4,1029.5 L402.4,1029.5 L403.4,1029.5 L404.4,1029.6 L405.4,1029.6 L406.4,1029.6 L407.4,1029.6 L408.3,1029.7 L409.3,1029.7 L410.3,1029.7 L411.3,1029.7 L412.3,1029.8 L413.3,1029.8 L414.3,1029.8 L415.3,1029.8 L416.3,1029.9 L417.3,1029.9 L418.2,1029.9 L419.2,1029.9 L420.2,1030.0 L421.2,1030.0 L422.2,1030.0 L423.2,1030.0 L424.2,1030.0 L425.2,1030.1 L426.2,1030.1 L427.2,1030.1 L428.2,1030.1 L429.1,1030.2 L430.1,1030.2 L431.1,1030.2 L432.1,1030.2 L433.1,1030.3 L434.1,1030.3 L435.1,1030.3 L436.1,1030.3 L437.1,1030.4 L438.1,1030.4 L439.1,1030.4 L440.0,1030.4 L441.0,1030.5 L442.0,1030.5 L443.0,1030.5 L444.0,1030.5 L445.0,1030.6 L446.0,1030.6 L447.0,1030.6 L448.0,1030.6 L449.0,1030.7 L449.9,1030.7 L450.9,1030.7 L451.9,1030.7 L452.9,1030.8 L453.9,1030.8 L454.9,1030.8 L455.9,1030.8 L456.9,1030.9 L457.9,1030.9 L458.9,1030.9 L459.9,1030.9 L460.8,1031.0 L461.8,1031.0 L462.8,1031.0 L463.8,1031.0 L464.8,1031.1 L465.8,1031.1 L466.8,1031.1 L467.8,1031.1 L468.8,1031.2 L469.8,1031.2 L470.8,1031.2" fill="none" stroke="#e7298a" stroke-width="4.2" stroke-linejoin="round" stroke-linecap="butt" clip-path="url(#c8)"/>
<line x1="312.25" y1="1027.38" x2="470.75" y2="1027.38" stroke="#000" stroke-width="2.6"/>
<rect x="312.25" y="996.50" width="158.50" height="154.40" fill="none" stroke="#000" stroke-width="2.0"/>
<line x1="301.95" y1="1027.38" x2="312.25" y2="1027.38" stroke="#000" stroke-width="2.0"/>
<line x1="301.95" y1="1089.14" x2="312.25" y2="1089.14" stroke="#000" stroke-width="2.0"/>
<line x1="301.95" y1="1150.90" x2="312.25" y2="1150.90" stroke="#000" stroke-width="2.0"/>
<line x1="371.69" y1="1150.90" x2="371.69" y2="1161.20" stroke="#000" stroke-width="2.0"/>
<g font-size="17.7" fill="#111"><text transform="translate(349.38,1184.50) scale(1.131,1)">2</text><text transform="translate(360.51,1184.50) scale(1.131,1)">0</text><text transform="translate(371.64,1184.50) scale(1.131,1)">5</text><text transform="translate(382.78,1184.50) scale(1.131,1)">0</text></g>
<line x1="470.75" y1="1150.90" x2="470.75" y2="1161.20" stroke="#000" stroke-width="2.0"/>
<g font-size="17.7" fill="#111"><text transform="translate(448.44,1184.50) scale(1.131,1)">2</text><text transform="translate(459.57,1184.50) scale(1.131,1)">1</text><text transform="translate(470.71,1184.50) scale(1.131,1)">0</text><text transform="translate(481.84,1184.50) scale(1.131,1)">0</text></g>
<g font-size="17.7" fill="#111"><text transform="translate(308.81,987.10) scale(0.941,1)">S</text><text transform="translate(319.92,987.10) scale(1.127,1)">u</text><text transform="translate(331.01,987.10) scale(1.129,1)">b</text><text transform="translate(342.12,987.10) scale(1.071,1)">-</text><text transform="translate(348.44,987.10) scale(1.030,1)">s</text><text transform="translate(357.55,987.10) scale(1.090,1)">a</text><text transform="translate(368.28,987.10) scale(1.127,1)">h</text><text transform="translate(379.37,987.10) scale(1.090,1)">a</text><text transform="translate(390.09,987.10) scale(1.221,1)">r</text><text transform="translate(397.29,987.10) scale(1.090,1)">a</text><text transform="translate(408.01,987.10) scale(1.127,1)">n</text><text transform="translate(424.66,987.10) scale(1.014,1)">A</text><text transform="translate(436.63,987.10) scale(1.126,1)">f</text><text transform="translate(442.17,987.10) scale(1.221,1)">r</text><text transform="translate(449.36,987.10) scale(1.236,1)">i</text><text transform="translate(454.23,987.10) scale(1.087,1)">c</text><text transform="translate(463.85,987.10) scale(1.090,1)">a</text></g>
<g font-size="24.4" fill="#111" font-weight="bold" style="stroke-width:0.7px"><text transform="translate(321.04,1019.30) scale(1.000,1)">i</text></g>
<path d="M502.5,1027.4 L503.5,1027.6 L504.5,1027.7 L505.5,1027.9 L506.5,1028.1 L507.5,1028.3 L508.4,1028.4 L509.4,1028.6 L510.4,1028.8 L511.4,1029.0 L512.4,1029.2 L513.4,1029.4 L514.4,1029.5 L515.4,1029.7 L516.4,1029.9 L517.4,1030.1 L518.4,1030.3 L519.3,1030.5 L520.3,1030.7 L521.3,1030.9 L522.3,1031.1 L523.3,1031.3 L524.3,1031.5 L525.3,1031.7 L526.3,1031.9 L527.3,1032.1 L528.3,1032.3 L529.2,1032.5 L530.2,1032.7 L531.2,1032.9 L532.2,1033.2 L533.2,1033.4 L534.2,1033.6 L535.2,1033.8 L536.2,1034.0 L537.2,1034.2 L538.2,1034.5 L539.2,1034.7 L540.1,1034.9 L541.1,1035.1 L542.1,1035.3 L543.1,1035.6 L544.1,1035.8 L545.1,1036.0 L546.1,1036.2 L547.1,1036.4 L548.1,1036.6 L549.1,1036.8 L550.0,1037.0 L551.0,1037.3 L552.0,1037.5 L553.0,1037.7 L554.0,1037.9 L555.0,1038.1 L556.0,1038.3 L557.0,1038.5 L558.0,1038.7 L559.0,1038.9 L560.0,1039.2 L560.9,1039.4 L561.9,1039.6 L562.9,1039.8 L563.9,1040.0 L564.9,1040.2 L565.9,1040.5 L566.9,1040.7 L567.9,1040.9 L568.9,1041.1 L569.9,1041.4 L570.9,1041.6 L571.8,1041.8 L572.8,1042.1 L573.8,1042.3 L574.8,1042.5 L575.8,1042.8 L576.8,1043.0 L577.8,1043.2 L578.8,1043.5 L579.8,1043.7 L580.8,1044.0 L581.8,1044.3 L582.7,1044.5 L583.7,1044.8 L584.7,1045.0 L585.7,1045.3 L586.7,1045.6 L587.7,1045.9 L588.7,1046.2 L589.7,1046.5 L590.7,1046.8 L591.7,1047.1 L592.6,1047.4 L593.6,1047.7 L594.6,1048.0 L595.6,1048.3 L596.6,1048.6 L597.6,1048.9 L598.6,1049.2 L599.6,1049.5 L600.6,1049.8 L601.6,1050.1 L602.6,1050.4 L603.5,1050.8 L604.5,1051.1 L605.5,1051.4 L606.5,1051.7 L607.5,1052.0 L608.5,1052.3 L609.5,1052.6 L610.5,1052.9 L611.5,1053.2 L612.5,1053.5 L613.5,1053.8 L614.4,1054.1 L615.4,1054.5 L616.4,1054.8 L617.4,1055.1 L618.4,1055.4 L619.4,1055.8 L620.4,1056.1 L621.4,1056.4 L622.4,1056.7 L623.4,1057.0 L624.3,1057.4 L625.3,1057.7 L626.3,1058.0 L627.3,1058.2 L628.3,1058.5 L629.3,1058.8 L630.3,1059.1 L631.3,1059.3 L632.3,1059.6 L633.3,1059.8 L634.3,1060.0 L635.2,1060.2 L636.2,1060.4 L637.2,1060.7 L638.2,1060.9 L639.2,1061.1 L640.2,1061.3 L641.2,1061.4 L642.2,1061.6 L643.2,1061.8 L644.2,1062.0 L645.1,1062.2 L646.1,1062.4 L647.1,1062.5 L648.1,1062.7 L649.1,1062.9 L650.1,1063.0 L651.1,1063.2 L652.1,1063.3 L653.1,1063.5 L654.1,1063.6 L655.1,1063.8 L656.0,1063.9 L657.0,1064.0 L658.0,1064.1 L659.0,1064.2 L660.0,1064.3 L661.0,1064.4 L661.0,1123.7 L660.0,1123.3 L659.0,1122.9 L658.0,1122.5 L657.0,1122.1 L656.0,1121.7 L655.1,1121.3 L654.1,1120.9 L653.1,1120.4 L652.1,1120.0 L651.1,1119.6 L650.1,1119.2 L649.1,1118.8 L648.1,1118.4 L647.1,1118.0 L646.1,1117.5 L645.1,1117.1 L644.2,1116.7 L643.2,1116.3 L642.2,1115.8 L641.2,1115.4 L640.2,1115.0 L639.2,1114.6 L638.2,1114.1 L637.2,1113.7 L636.2,1113.3 L635.2,1112.9 L634.3,1112.4 L633.3,1112.0 L632.3,1111.6 L631.3,1111.2 L630.3,1110.7 L629.3,1110.3 L628.3,1109.9 L627.3,1109.5 L626.3,1109.1 L625.3,1108.6 L624.3,1108.2 L623.4,1107.8 L622.4,1107.4 L621.4,1107.0 L620.4,1106.5 L619.4,1106.1 L618.4,1105.7 L617.4,1105.2 L616.4,1104.8 L615.4,1104.3 L614.4,1103.9 L613.5,1103.4 L612.5,1102.9 L611.5,1102.5 L610.5,1102.0 L609.5,1101.5 L608.5,1101.0 L607.5,1100.5 L606.5,1099.9 L605.5,1099.4 L604.5,1098.9 L603.5,1098.3 L602.6,1097.8 L601.6,1097.2 L600.6,1096.6 L599.6,1096.1 L598.6,1095.5 L597.6,1094.9 L596.6,1094.3 L595.6,1093.7 L594.6,1093.1 L593.6,1092.5 L592.6,1091.8 L591.7,1091.2 L590.7,1090.6 L589.7,1090.0 L588.7,1089.3 L587.7,1088.7 L586.7,1088.1 L585.7,1087.5 L584.7,1086.8 L583.7,1086.2 L582.7,1085.6 L581.8,1084.9 L580.8,1084.3 L579.8,1083.7 L578.8,1083.0 L577.8,1082.4 L576.8,1081.7 L575.8,1081.1 L574.8,1080.4 L573.8,1079.8 L572.8,1079.1 L571.8,1078.5 L570.9,1077.8 L569.9,1077.1 L568.9,1076.5 L567.9,1075.8 L566.9,1075.1 L565.9,1074.4 L564.9,1073.8 L563.9,1073.1 L562.9,1072.4 L561.9,1071.7 L560.9,1071.0 L560.0,1070.3 L559.0,1069.7 L558.0,1069.0 L557.0,1068.3 L556.0,1067.6 L555.0,1066.9 L554.0,1066.2 L553.0,1065.5 L552.0,1064.9 L551.0,1064.2 L550.0,1063.5 L549.1,1062.8 L548.1,1062.1 L547.1,1061.4 L546.1,1060.8 L545.1,1060.1 L544.1,1059.4 L543.1,1058.7 L542.1,1058.1 L541.1,1057.4 L540.1,1056.7 L539.2,1056.1 L538.2,1055.4 L537.2,1054.8 L536.2,1054.1 L535.2,1053.5 L534.2,1052.8 L533.2,1052.2 L532.2,1051.6 L531.2,1050.9 L530.2,1050.3 L529.2,1049.6 L528.3,1048.9 L527.3,1048.2 L526.3,1047.6 L525.3,1046.9 L524.3,1046.1 L523.3,1045.4 L522.3,1044.7 L521.3,1043.9 L520.3,1043.1 L519.3,1042.4 L518.4,1041.6 L517.4,1040.8 L516.4,1039.9 L515.4,1039.1 L514.4,1038.3 L513.4,1037.4 L512.4,1036.6 L511.4,1035.7 L510.4,1034.8 L509.4,1033.9 L508.4,1033.0 L507.5,1032.1 L506.5,1031.2 L505.5,1030.2 L504.5,1029.3 L503.5,1028.3 L502.5,1027.4Z" fill="#d95f02" fill-opacity="0.155" clip-path="url(#c9)"/>
<path d="M502.5,1027.4 L503.5,1027.8 L504.5,1028.2 L505.5,1028.6 L506.5,1029.1 L507.5,1029.5 L508.4,1029.9 L509.4,1030.3 L510.4,1030.6 L511.4,1031.0 L512.4,1031.4 L513.4,1031.8 L514.4,1032.1 L515.4,1032.5 L516.4,1032.8 L517.4,1033.2 L518.4,1033.5 L519.3,1033.8 L520.3,1034.2 L521.3,1034.5 L522.3,1034.8 L523.3,1035.1 L524.3,1035.4 L525.3,1035.7 L526.3,1035.9 L527.3,1036.2 L528.3,1036.4 L529.2,1036.7 L530.2,1036.9 L531.2,1037.2 L532.2,1037.4 L533.2,1037.7 L534.2,1037.9 L535.2,1038.1 L536.2,1038.4 L537.2,1038.6 L538.2,1038.9 L539.2,1039.1 L540.1,1039.4 L541.1,1039.7 L542.1,1040.0 L543.1,1040.2 L544.1,1040.5 L545.1,1040.8 L546.1,1041.1 L547.1,1041.4 L548.1,1041.6 L549.1,1041.9 L550.0,1042.2 L551.0,1042.5 L552.0,1042.8 L553.0,1043.1 L554.0,1043.4 L555.0,1043.7 L556.0,1044.0 L557.0,1044.3 L558.0,1044.6 L559.0,1044.9 L560.0,1045.2 L560.9,1045.5 L561.9,1045.8 L562.9,1046.1 L563.9,1046.4 L564.9,1046.7 L565.9,1047.1 L566.9,1047.4 L567.9,1047.7 L568.9,1048.0 L569.9,1048.3 L570.9,1048.6 L571.8,1048.9 L572.8,1049.3 L573.8,1049.6 L574.8,1049.9 L575.8,1050.2 L576.8,1050.5 L577.8,1050.9 L578.8,1051.2 L579.8,1051.5 L580.8,1051.8 L581.8,1052.1 L582.7,1052.5 L583.7,1052.8 L584.7,1053.1 L585.7,1053.4 L586.7,1053.8 L587.7,1054.1 L588.7,1054.4 L589.7,1054.8 L590.7,1055.1 L591.7,1055.4 L592.6,1055.8 L593.6,1056.1 L594.6,1056.5 L595.6,1056.8 L596.6,1057.1 L597.6,1057.5 L598.6,1057.8 L599.6,1058.2 L600.6,1058.5 L601.6,1058.9 L602.6,1059.2 L603.5,1059.6 L604.5,1060.0 L605.5,1060.3 L606.5,1060.7 L607.5,1061.1 L608.5,1061.4 L609.5,1061.8 L610.5,1062.2 L611.5,1062.6 L612.5,1063.0 L613.5,1063.4 L614.4,1063.8 L615.4,1064.2 L616.4,1064.6 L617.4,1065.1 L618.4,1065.5 L619.4,1065.9 L620.4,1066.4 L621.4,1066.8 L622.4,1067.2 L623.4,1067.6 L624.3,1068.1 L625.3,1068.5 L626.3,1068.9 L627.3,1069.3 L628.3,1069.7 L629.3,1070.1 L630.3,1070.4 L631.3,1070.8 L632.3,1071.2 L633.3,1071.5 L634.3,1071.8 L635.2,1072.2 L636.2,1072.5 L637.2,1072.8 L638.2,1073.1 L639.2,1073.4 L640.2,1073.7 L641.2,1074.0 L642.2,1074.3 L643.2,1074.6 L644.2,1074.9 L645.1,1075.2 L646.1,1075.4 L647.1,1075.7 L648.1,1076.0 L649.1,1076.2 L650.1,1076.5 L651.1,1076.8 L652.1,1077.0 L653.1,1077.2 L654.1,1077.5 L655.1,1077.7 L656.0,1078.0 L657.0,1078.2 L658.0,1078.4 L659.0,1078.6 L660.0,1078.8 L661.0,1079.0 L661.0,1114.8 L660.0,1114.3 L659.0,1113.7 L658.0,1113.2 L657.0,1112.6 L656.0,1112.0 L655.1,1111.5 L654.1,1111.0 L653.1,1110.4 L652.1,1109.9 L651.1,1109.3 L650.1,1108.8 L649.1,1108.3 L648.1,1107.7 L647.1,1107.2 L646.1,1106.7 L645.1,1106.2 L644.2,1105.7 L643.2,1105.1 L642.2,1104.6 L641.2,1104.1 L640.2,1103.6 L639.2,1103.1 L638.2,1102.6 L637.2,1102.1 L636.2,1101.7 L635.2,1101.2 L634.3,1100.7 L633.3,1100.2 L632.3,1099.7 L631.3,1099.3 L630.3,1098.8 L629.3,1098.4 L628.3,1097.9 L627.3,1097.5 L626.3,1097.0 L625.3,1096.6 L624.3,1096.2 L623.4,1095.7 L622.4,1095.3 L621.4,1094.9 L620.4,1094.4 L619.4,1094.0 L618.4,1093.6 L617.4,1093.1 L616.4,1092.7 L615.4,1092.3 L614.4,1091.8 L613.5,1091.4 L612.5,1090.9 L611.5,1090.5 L610.5,1090.0 L609.5,1089.6 L608.5,1089.1 L607.5,1088.6 L606.5,1088.2 L605.5,1087.7 L604.5,1087.2 L603.5,1086.8 L602.6,1086.3 L601.6,1085.8 L600.6,1085.3 L599.6,1084.9 L598.6,1084.4 L597.6,1083.9 L596.6,1083.4 L595.6,1082.9 L594.6,1082.4 L593.6,1081.9 L592.6,1081.4 L591.7,1080.9 L590.7,1080.4 L589.7,1079.9 L588.7,1079.4 L587.7,1078.9 L586.7,1078.4 L585.7,1077.9 L584.7,1077.4 L583.7,1076.9 L582.7,1076.3 L581.8,1075.8 L580.8,1075.3 L579.8,1074.7 L578.8,1074.2 L577.8,1073.6 L576.8,1073.1 L575.8,1072.5 L574.8,1072.0 L573.8,1071.4 L572.8,1070.8 L571.8,1070.2 L570.9,1069.7 L569.9,1069.1 L568.9,1068.5 L567.9,1067.9 L566.9,1067.3 L565.9,1066.7 L564.9,1066.1 L563.9,1065.5 L562.9,1064.9 L561.9,1064.3 L560.9,1063.7 L560.0,1063.1 L559.0,1062.5 L558.0,1061.9 L557.0,1061.3 L556.0,1060.7 L555.0,1060.1 L554.0,1059.5 L553.0,1059.0 L552.0,1058.4 L551.0,1057.8 L550.0,1057.2 L549.1,1056.6 L548.1,1056.0 L547.1,1055.5 L546.1,1054.9 L545.1,1054.3 L544.1,1053.8 L543.1,1053.2 L542.1,1052.6 L541.1,1052.1 L540.1,1051.6 L539.2,1051.0 L538.2,1050.5 L537.2,1050.0 L536.2,1049.5 L535.2,1049.0 L534.2,1048.5 L533.2,1048.1 L532.2,1047.6 L531.2,1047.1 L530.2,1046.6 L529.2,1046.1 L528.3,1045.6 L527.3,1045.0 L526.3,1044.5 L525.3,1043.9 L524.3,1043.4 L523.3,1042.8 L522.3,1042.2 L521.3,1041.6 L520.3,1041.0 L519.3,1040.3 L518.4,1039.6 L517.4,1039.0 L516.4,1038.3 L515.4,1037.6 L514.4,1036.9 L513.4,1036.1 L512.4,1035.4 L511.4,1034.6 L510.4,1033.9 L509.4,1033.1 L508.4,1032.3 L507.5,1031.5 L506.5,1030.7 L505.5,1029.9 L504.5,1029.1 L503.5,1028.2 L502.5,1027.4Z" fill="#d95f02" fill-opacity="0.3" clip-path="url(#c9)"/>
<path d="M502.5,1027.4 L503.5,1027.6 L504.5,1027.9 L505.5,1028.3 L506.5,1028.6 L507.5,1029.0 L508.4,1029.4 L509.4,1029.8 L510.4,1030.2 L511.4,1030.6 L512.4,1031.1 L513.4,1031.6 L514.4,1032.1 L515.4,1032.6 L516.4,1033.2 L517.4,1033.8 L518.4,1034.4 L519.3,1035.1 L520.3,1035.8 L521.3,1036.5 L522.3,1037.3 L523.3,1038.0 L524.3,1038.8 L525.3,1039.7 L526.3,1040.6 L527.3,1041.5 L528.3,1042.4 L529.2,1043.4 L530.2,1044.4 L531.2,1045.4 L532.2,1046.4 L533.2,1047.5 L534.2,1048.6 L535.2,1049.7 L536.2,1050.8 L537.2,1052.0 L538.2,1053.1 L539.2,1054.3 L540.1,1055.5 L541.1,1056.6 L542.1,1057.8 L543.1,1059.0 L544.1,1060.3 L545.1,1061.5 L546.1,1062.7 L547.1,1063.9 L548.1,1065.1 L549.1,1066.3 L550.0,1067.5 L551.0,1068.7 L552.0,1069.9 L553.0,1071.1 L554.0,1072.3 L555.0,1073.4 L556.0,1074.6 L557.0,1075.7 L558.0,1076.8 L559.0,1077.9 L560.0,1078.9 L560.9,1080.0 L561.9,1081.0 L562.9,1082.0 L563.9,1083.1 L564.9,1084.1 L565.9,1085.2 L566.9,1086.2 L567.9,1087.3 L568.9,1088.4 L569.9,1089.6 L570.9,1090.7 L571.8,1091.9 L572.8,1093.2 L573.8,1094.5 L574.8,1095.8 L575.8,1097.2 L576.8,1098.7 L577.8,1100.2 L578.8,1101.9 L579.8,1104.1 L580.8,1106.3 L581.8,1108.3 L582.7,1109.9 L583.7,1111.4 L584.7,1112.8 L585.7,1114.1 L586.7,1115.4 L587.7,1116.6 L588.7,1117.7 L589.7,1118.8 L590.7,1119.9 L591.7,1120.9 L592.6,1121.9 L593.6,1122.9 L594.6,1123.9 L595.6,1124.8 L596.6,1125.8 L597.6,1126.7 L598.6,1127.6 L599.6,1128.4 L600.6,1129.3 L601.6,1130.1 L602.6,1130.9 L603.5,1131.7 L604.5,1132.4 L605.5,1133.1 L606.5,1133.8 L607.5,1134.5 L608.5,1135.1 L609.5,1135.7 L610.5,1136.3 L611.5,1136.9 L612.5,1137.5 L613.5,1138.1 L614.4,1138.6 L615.4,1139.2 L616.4,1139.7 L617.4,1140.1 L618.4,1140.6 L619.4,1140.9 L620.4,1141.2 L621.4,1141.5 L622.4,1141.7 L623.4,1142.0 L624.3,1142.2 L625.3,1142.4 L626.3,1142.6 L627.3,1142.9 L628.3,1143.1 L629.3,1143.3 L630.3,1143.5 L631.3,1143.7 L632.3,1143.9 L633.3,1144.1 L634.3,1144.3 L635.2,1144.4 L636.2,1144.6 L637.2,1144.8 L638.2,1144.9 L639.2,1145.1 L640.2,1145.3 L641.2,1145.4 L642.2,1145.6 L643.2,1145.7 L644.2,1145.8 L645.1,1145.9 L646.1,1146.1 L647.1,1146.2 L648.1,1146.3 L649.1,1146.4 L650.1,1146.5 L651.1,1146.5 L652.1,1146.6 L653.1,1146.7 L654.1,1146.7 L655.1,1146.8 L656.0,1146.8 L657.0,1146.9 L658.0,1146.9 L659.0,1146.9 L660.0,1146.9 L661.0,1146.9 L661.0,1150.3 L660.0,1150.3 L659.0,1150.3 L658.0,1150.3 L657.0,1150.3 L656.0,1150.3 L655.1,1150.2 L654.1,1150.2 L653.1,1150.2 L652.1,1150.2 L651.1,1150.2 L650.1,1150.1 L649.1,1150.1 L648.1,1150.1 L647.1,1150.1 L646.1,1150.0 L645.1,1150.0 L644.2,1150.0 L643.2,1149.9 L642.2,1149.9 L641.2,1149.8 L640.2,1149.8 L639.2,1149.8 L638.2,1149.7 L637.2,1149.7 L636.2,1149.6 L635.2,1149.6 L634.3,1149.5 L633.3,1149.4 L632.3,1149.4 L631.3,1149.3 L630.3,1149.3 L629.3,1149.2 L628.3,1149.1 L627.3,1149.1 L626.3,1149.0 L625.3,1148.9 L624.3,1148.9 L623.4,1148.8 L622.4,1148.7 L621.4,1148.6 L620.4,1148.5 L619.4,1148.5 L618.4,1148.4 L617.4,1148.3 L616.4,1148.2 L615.4,1148.1 L614.4,1148.0 L613.5,1147.9 L612.5,1147.8 L611.5,1147.8 L610.5,1147.7 L609.5,1147.6 L608.5,1147.5 L607.5,1147.4 L606.5,1147.2 L605.5,1147.1 L604.5,1146.9 L603.5,1146.7 L602.6,1146.5 L601.6,1146.3 L600.6,1146.1 L599.6,1145.8 L598.6,1145.6 L597.6,1145.3 L596.6,1145.0 L595.6,1144.7 L594.6,1144.4 L593.6,1144.0 L592.6,1143.6 L591.7,1143.3 L590.7,1142.9 L589.7,1142.5 L588.7,1142.1 L587.7,1141.6 L586.7,1141.2 L585.7,1140.7 L584.7,1140.3 L583.7,1139.8 L582.7,1139.3 L581.8,1138.8 L580.8,1138.3 L579.8,1137.6 L578.8,1136.9 L577.8,1136.1 L576.8,1135.3 L575.8,1134.3 L574.8,1133.4 L573.8,1132.4 L572.8,1131.3 L571.8,1130.2 L570.9,1129.1 L569.9,1128.0 L568.9,1126.8 L567.9,1125.6 L566.9,1124.3 L565.9,1122.9 L564.9,1121.4 L563.9,1119.8 L562.9,1118.2 L561.9,1116.5 L560.9,1114.8 L560.0,1113.1 L559.0,1111.3 L558.0,1109.5 L557.0,1107.7 L556.0,1105.9 L555.0,1104.1 L554.0,1102.3 L553.0,1100.5 L552.0,1098.7 L551.0,1096.9 L550.0,1095.0 L549.1,1093.0 L548.1,1091.0 L547.1,1089.1 L546.1,1087.1 L545.1,1085.1 L544.1,1083.2 L543.1,1081.3 L542.1,1079.4 L541.1,1077.6 L540.1,1075.9 L539.2,1074.2 L538.2,1072.6 L537.2,1071.1 L536.2,1069.5 L535.2,1067.9 L534.2,1066.4 L533.2,1064.9 L532.2,1063.4 L531.2,1061.9 L530.2,1060.5 L529.2,1059.0 L528.3,1057.6 L527.3,1056.2 L526.3,1054.8 L525.3,1053.4 L524.3,1052.1 L523.3,1050.7 L522.3,1049.4 L521.3,1048.1 L520.3,1046.8 L519.3,1045.6 L518.4,1044.3 L517.4,1043.1 L516.4,1041.9 L515.4,1040.7 L514.4,1039.5 L513.4,1038.4 L512.4,1037.3 L511.4,1036.2 L510.4,1035.1 L509.4,1034.0 L508.4,1033.0 L507.5,1032.0 L506.5,1031.1 L505.5,1030.1 L504.5,1029.2 L503.5,1028.3 L502.5,1027.4Z" fill="#7570b3" fill-opacity="0.155" clip-path="url(#c9)"/>
<path d="M502.5,1027.4 L503.5,1027.8 L504.5,1028.2 L505.5,1028.6 L506.5,1029.1 L507.5,1029.6 L508.4,1030.1 L509.4,1030.6 L510.4,1031.2 L511.4,1031.7 L512.4,1032.3 L513.4,1032.9 L514.4,1033.6 L515.4,1034.2 L516.4,1034.9 L517.4,1035.7 L518.4,1036.4 L519.3,1037.2 L520.3,1038.0 L521.3,1038.9 L522.3,1039.7 L523.3,1040.6 L524.3,1041.6 L525.3,1042.6 L526.3,1043.6 L527.3,1044.7 L528.3,1045.7 L529.2,1046.9 L530.2,1048.0 L531.2,1049.2 L532.2,1050.4 L533.2,1051.6 L534.2,1052.8 L535.2,1054.1 L536.2,1055.4 L537.2,1056.7 L538.2,1058.0 L539.2,1059.3 L540.1,1060.6 L541.1,1061.9 L542.1,1063.3 L543.1,1064.6 L544.1,1065.9 L545.1,1067.2 L546.1,1068.6 L547.1,1069.9 L548.1,1071.2 L549.1,1072.5 L550.0,1073.8 L551.0,1075.1 L552.0,1076.3 L553.0,1077.6 L554.0,1078.9 L555.0,1080.2 L556.0,1081.5 L557.0,1082.7 L558.0,1084.0 L559.0,1085.3 L560.0,1086.6 L560.9,1088.0 L561.9,1089.3 L562.9,1090.6 L563.9,1092.0 L564.9,1093.3 L565.9,1094.7 L566.9,1096.1 L567.9,1097.5 L568.9,1098.9 L569.9,1100.3 L570.9,1101.8 L571.8,1103.3 L572.8,1105.0 L573.8,1106.7 L574.8,1108.4 L575.8,1110.1 L576.8,1111.8 L577.8,1113.5 L578.8,1115.0 L579.8,1116.5 L580.8,1117.9 L581.8,1119.1 L582.7,1120.1 L583.7,1121.1 L584.7,1122.0 L585.7,1122.8 L586.7,1123.6 L587.7,1124.4 L588.7,1125.1 L589.7,1125.8 L590.7,1126.6 L591.7,1127.4 L592.6,1128.2 L593.6,1129.0 L594.6,1129.9 L595.6,1130.7 L596.6,1131.6 L597.6,1132.5 L598.6,1133.3 L599.6,1134.2 L600.6,1135.0 L601.6,1135.8 L602.6,1136.5 L603.5,1137.2 L604.5,1137.8 L605.5,1138.4 L606.5,1138.9 L607.5,1139.3 L608.5,1139.6 L609.5,1139.9 L610.5,1140.2 L611.5,1140.4 L612.5,1140.7 L613.5,1141.0 L614.4,1141.3 L615.4,1141.5 L616.4,1141.8 L617.4,1142.0 L618.4,1142.3 L619.4,1142.5 L620.4,1142.8 L621.4,1143.0 L622.4,1143.2 L623.4,1143.5 L624.3,1143.7 L625.3,1143.9 L626.3,1144.1 L627.3,1144.3 L628.3,1144.5 L629.3,1144.7 L630.3,1144.9 L631.3,1145.1 L632.3,1145.3 L633.3,1145.4 L634.3,1145.6 L635.2,1145.8 L636.2,1145.9 L637.2,1146.1 L638.2,1146.2 L639.2,1146.4 L640.2,1146.5 L641.2,1146.6 L642.2,1146.8 L643.2,1146.9 L644.2,1147.0 L645.1,1147.1 L646.1,1147.2 L647.1,1147.3 L648.1,1147.4 L649.1,1147.5 L650.1,1147.5 L651.1,1147.6 L652.1,1147.7 L653.1,1147.7 L654.1,1147.8 L655.1,1147.8 L656.0,1147.9 L657.0,1147.9 L658.0,1147.9 L659.0,1147.9 L660.0,1147.9 L661.0,1147.9 L661.0,1149.5 L660.0,1149.5 L659.0,1149.5 L658.0,1149.5 L657.0,1149.5 L656.0,1149.5 L655.1,1149.5 L654.1,1149.5 L653.1,1149.4 L652.1,1149.4 L651.1,1149.4 L650.1,1149.3 L649.1,1149.3 L648.1,1149.3 L647.1,1149.2 L646.1,1149.2 L645.1,1149.1 L644.2,1149.1 L643.2,1149.0 L642.2,1149.0 L641.2,1148.9 L640.2,1148.8 L639.2,1148.8 L638.2,1148.7 L637.2,1148.6 L636.2,1148.6 L635.2,1148.5 L634.3,1148.4 L633.3,1148.3 L632.3,1148.2 L631.3,1148.1 L630.3,1148.0 L629.3,1148.0 L628.3,1147.9 L627.3,1147.8 L626.3,1147.7 L625.3,1147.6 L624.3,1147.5 L623.4,1147.3 L622.4,1147.2 L621.4,1147.1 L620.4,1147.0 L619.4,1146.9 L618.4,1146.8 L617.4,1146.7 L616.4,1146.5 L615.4,1146.4 L614.4,1146.3 L613.5,1146.2 L612.5,1146.0 L611.5,1145.9 L610.5,1145.8 L609.5,1145.6 L608.5,1145.5 L607.5,1145.3 L606.5,1145.2 L605.5,1145.0 L604.5,1144.8 L603.5,1144.5 L602.6,1144.3 L601.6,1144.0 L600.6,1143.7 L599.6,1143.4 L598.6,1143.0 L597.6,1142.7 L596.6,1142.3 L595.6,1141.9 L594.6,1141.5 L593.6,1141.0 L592.6,1140.6 L591.7,1140.1 L590.7,1139.7 L589.7,1139.2 L588.7,1138.7 L587.7,1138.2 L586.7,1137.6 L585.7,1137.1 L584.7,1136.6 L583.7,1136.0 L582.7,1135.4 L581.8,1134.8 L580.8,1134.2 L579.8,1133.5 L578.8,1132.7 L577.8,1131.8 L576.8,1130.9 L575.8,1130.0 L574.8,1129.0 L573.8,1127.9 L572.8,1126.8 L571.8,1125.7 L570.9,1124.5 L569.9,1123.2 L568.9,1121.8 L567.9,1120.4 L566.9,1118.9 L565.9,1117.4 L564.9,1115.8 L563.9,1114.2 L562.9,1112.6 L561.9,1110.9 L560.9,1109.2 L560.0,1107.6 L559.0,1105.9 L558.0,1104.2 L557.0,1102.5 L556.0,1100.9 L555.0,1099.2 L554.0,1097.5 L553.0,1095.7 L552.0,1093.9 L551.0,1092.0 L550.0,1090.2 L549.1,1088.3 L548.1,1086.4 L547.1,1084.6 L546.1,1082.7 L545.1,1080.9 L544.1,1079.2 L543.1,1077.5 L542.1,1075.8 L541.1,1074.3 L540.1,1072.7 L539.2,1071.2 L538.2,1069.6 L537.2,1068.1 L536.2,1066.6 L535.2,1065.0 L534.2,1063.5 L533.2,1062.0 L532.2,1060.6 L531.2,1059.1 L530.2,1057.6 L529.2,1056.2 L528.3,1054.8 L527.3,1053.4 L526.3,1052.0 L525.3,1050.7 L524.3,1049.3 L523.3,1048.0 L522.3,1046.7 L521.3,1045.5 L520.3,1044.2 L519.3,1043.0 L518.4,1041.8 L517.4,1040.7 L516.4,1039.6 L515.4,1038.5 L514.4,1037.4 L513.4,1036.4 L512.4,1035.4 L511.4,1034.5 L510.4,1033.6 L509.4,1032.7 L508.4,1031.8 L507.5,1031.0 L506.5,1030.2 L505.5,1029.5 L504.5,1028.8 L503.5,1028.1 L502.5,1027.4Z" fill="#7570b3" fill-opacity="0.3" clip-path="url(#c9)"/>
<path d="M502.5,1027.4 L503.5,1027.4 L504.5,1027.4 L505.5,1027.4 L506.5,1027.4 L507.5,1027.4 L508.4,1027.4 L509.4,1027.4 L510.4,1027.4 L511.4,1027.4 L512.4,1027.4 L513.4,1027.4 L514.4,1027.4 L515.4,1027.4 L516.4,1027.4 L517.4,1027.4 L518.4,1027.4 L519.3,1027.4 L520.3,1027.4 L521.3,1027.4 L522.3,1027.4 L523.3,1027.4 L524.3,1027.4 L525.3,1027.4 L526.3,1027.4 L527.3,1027.4 L528.3,1027.4 L529.2,1027.4 L530.2,1027.4 L531.2,1027.4 L532.2,1027.4 L533.2,1027.4 L534.2,1027.4 L535.2,1027.4 L536.2,1027.4 L537.2,1027.4 L538.2,1027.4 L539.2,1027.4 L540.1,1027.4 L541.1,1027.4 L542.1,1027.4 L543.1,1027.4 L544.1,1027.4 L545.1,1027.4 L546.1,1027.4 L547.1,1027.5 L548.1,1027.5 L549.1,1027.5 L550.0,1027.5 L551.0,1027.5 L552.0,1027.5 L553.0,1027.5 L554.0,1027.5 L555.0,1027.5 L556.0,1027.5 L557.0,1027.5 L558.0,1027.6 L559.0,1027.6 L560.0,1027.6 L560.9,1027.6 L561.9,1027.6 L562.9,1027.6 L563.9,1027.6 L564.9,1027.7 L565.9,1027.7 L566.9,1027.7 L567.9,1027.7 L568.9,1027.7 L569.9,1027.7 L570.9,1027.7 L571.8,1027.8 L572.8,1027.8 L573.8,1027.8 L574.8,1027.8 L575.8,1027.8 L576.8,1027.8 L577.8,1027.8 L578.8,1027.8 L579.8,1027.9 L580.8,1027.9 L581.8,1027.9 L582.7,1027.9 L583.7,1027.9 L584.7,1027.9 L585.7,1027.9 L586.7,1027.9 L587.7,1027.9 L588.7,1027.9 L589.7,1028.0 L590.7,1028.0 L591.7,1028.0 L592.6,1028.0 L593.6,1028.0 L594.6,1028.0 L595.6,1028.0 L596.6,1028.0 L597.6,1028.0 L598.6,1028.0 L599.6,1028.0 L600.6,1028.1 L601.6,1028.1 L602.6,1028.1 L603.5,1028.1 L604.5,1028.1 L605.5,1028.1 L606.5,1028.1 L607.5,1028.1 L608.5,1028.1 L609.5,1028.1 L610.5,1028.1 L611.5,1028.2 L612.5,1028.2 L613.5,1028.2 L614.4,1028.2 L615.4,1028.2 L616.4,1028.2 L617.4,1028.2 L618.4,1028.2 L619.4,1028.2 L620.4,1028.2 L621.4,1028.2 L622.4,1028.3 L623.4,1028.3 L624.3,1028.3 L625.3,1028.3 L626.3,1028.3 L627.3,1028.3 L628.3,1028.3 L629.3,1028.3 L630.3,1028.3 L631.3,1028.3 L632.3,1028.3 L633.3,1028.4 L634.3,1028.4 L635.2,1028.4 L636.2,1028.4 L637.2,1028.4 L638.2,1028.4 L639.2,1028.4 L640.2,1028.4 L641.2,1028.4 L642.2,1028.4 L643.2,1028.4 L644.2,1028.5 L645.1,1028.5 L646.1,1028.5 L647.1,1028.5 L648.1,1028.5 L649.1,1028.5 L650.1,1028.5 L651.1,1028.5 L652.1,1028.5 L653.1,1028.5 L654.1,1028.6 L655.1,1028.6 L656.0,1028.6 L657.0,1028.6 L658.0,1028.6 L659.0,1028.6 L660.0,1028.6 L661.0,1028.6 L661.0,1032.3 L660.0,1032.3 L659.0,1032.3 L658.0,1032.2 L657.0,1032.2 L656.0,1032.2 L655.1,1032.2 L654.1,1032.1 L653.1,1032.1 L652.1,1032.1 L651.1,1032.1 L650.1,1032.0 L649.1,1032.0 L648.1,1032.0 L647.1,1032.0 L646.1,1032.0 L645.1,1031.9 L644.2,1031.9 L643.2,1031.9 L642.2,1031.9 L641.2,1031.8 L640.2,1031.8 L639.2,1031.8 L638.2,1031.8 L637.2,1031.7 L636.2,1031.7 L635.2,1031.7 L634.3,1031.7 L633.3,1031.6 L632.3,1031.6 L631.3,1031.6 L630.3,1031.6 L629.3,1031.5 L628.3,1031.5 L627.3,1031.5 L626.3,1031.5 L625.3,1031.4 L624.3,1031.4 L623.4,1031.4 L622.4,1031.4 L621.4,1031.3 L620.4,1031.3 L619.4,1031.3 L618.4,1031.3 L617.4,1031.2 L616.4,1031.2 L615.4,1031.2 L614.4,1031.2 L613.5,1031.1 L612.5,1031.1 L611.5,1031.1 L610.5,1031.1 L609.5,1031.0 L608.5,1031.0 L607.5,1031.0 L606.5,1031.0 L605.5,1031.0 L604.5,1030.9 L603.5,1030.9 L602.6,1030.9 L601.6,1030.9 L600.6,1030.8 L599.6,1030.8 L598.6,1030.8 L597.6,1030.8 L596.6,1030.7 L595.6,1030.7 L594.6,1030.7 L593.6,1030.7 L592.6,1030.6 L591.7,1030.6 L590.7,1030.6 L589.7,1030.6 L588.7,1030.5 L587.7,1030.5 L586.7,1030.5 L585.7,1030.5 L584.7,1030.4 L583.7,1030.4 L582.7,1030.4 L581.8,1030.3 L580.8,1030.3 L579.8,1030.3 L578.8,1030.3 L577.8,1030.2 L576.8,1030.2 L575.8,1030.2 L574.8,1030.1 L573.8,1030.1 L572.8,1030.1 L571.8,1030.0 L570.9,1030.0 L569.9,1030.0 L568.9,1029.9 L567.9,1029.9 L566.9,1029.8 L565.9,1029.8 L564.9,1029.8 L563.9,1029.7 L562.9,1029.7 L561.9,1029.7 L560.9,1029.6 L560.0,1029.6 L559.0,1029.6 L558.0,1029.5 L557.0,1029.5 L556.0,1029.4 L555.0,1029.4 L554.0,1029.4 L553.0,1029.3 L552.0,1029.3 L551.0,1029.3 L550.0,1029.2 L549.1,1029.2 L548.1,1029.1 L547.1,1029.1 L546.1,1029.1 L545.1,1029.0 L544.1,1029.0 L543.1,1028.9 L542.1,1028.9 L541.1,1028.9 L540.1,1028.8 L539.2,1028.8 L538.2,1028.8 L537.2,1028.7 L536.2,1028.7 L535.2,1028.7 L534.2,1028.6 L533.2,1028.6 L532.2,1028.5 L531.2,1028.5 L530.2,1028.5 L529.2,1028.4 L528.3,1028.4 L527.3,1028.3 L526.3,1028.3 L525.3,1028.3 L524.3,1028.2 L523.3,1028.2 L522.3,1028.2 L521.3,1028.1 L520.3,1028.1 L519.3,1028.0 L518.4,1028.0 L517.4,1028.0 L516.4,1027.9 L515.4,1027.9 L514.4,1027.8 L513.4,1027.8 L512.4,1027.8 L511.4,1027.7 L510.4,1027.7 L509.4,1027.7 L508.4,1027.6 L507.5,1027.6 L506.5,1027.5 L505.5,1027.5 L504.5,1027.5 L503.5,1027.4 L502.5,1027.4Z" fill="#e7298a" fill-opacity="0.155" clip-path="url(#c9)"/>
<path d="M502.5,1027.4 L503.5,1028.4 L504.5,1029.3 L505.5,1030.2 L506.5,1031.1 L507.5,1032.0 L508.4,1032.8 L509.4,1033.6 L510.4,1034.4 L511.4,1035.0 L512.4,1035.7 L513.4,1036.3 L514.4,1036.8 L515.4,1037.2 L516.4,1037.6 L517.4,1038.0 L518.4,1038.3 L519.3,1038.7 L520.3,1038.9 L521.3,1039.2 L522.3,1039.5 L523.3,1039.7 L524.3,1040.0 L525.3,1040.3 L526.3,1040.5 L527.3,1040.8 L528.3,1041.1 L529.2,1041.4 L530.2,1041.7 L531.2,1041.9 L532.2,1042.2 L533.2,1042.5 L534.2,1042.8 L535.2,1043.0 L536.2,1043.3 L537.2,1043.6 L538.2,1043.9 L539.2,1044.3 L540.1,1044.6 L541.1,1045.0 L542.1,1045.4 L543.1,1045.8 L544.1,1046.3 L545.1,1046.8 L546.1,1047.4 L547.1,1048.0 L548.1,1048.6 L549.1,1049.2 L550.0,1049.7 L551.0,1050.3 L552.0,1050.9 L553.0,1051.4 L554.0,1051.9 L555.0,1052.4 L556.0,1052.8 L557.0,1053.3 L558.0,1053.7 L559.0,1054.1 L560.0,1054.5 L560.9,1054.9 L561.9,1055.2 L562.9,1055.6 L563.9,1056.0 L564.9,1056.4 L565.9,1056.8 L566.9,1057.2 L567.9,1057.6 L568.9,1058.0 L569.9,1058.4 L570.9,1058.9 L571.8,1059.3 L572.8,1059.7 L573.8,1060.2 L574.8,1060.6 L575.8,1061.0 L576.8,1061.5 L577.8,1061.9 L578.8,1062.4 L579.8,1062.8 L580.8,1063.2 L581.8,1063.7 L582.7,1064.1 L583.7,1064.6 L584.7,1065.1 L585.7,1065.5 L586.7,1066.0 L587.7,1066.5 L588.7,1066.9 L589.7,1067.4 L590.7,1067.9 L591.7,1068.3 L592.6,1068.8 L593.6,1069.3 L594.6,1069.7 L595.6,1070.2 L596.6,1070.6 L597.6,1071.1 L598.6,1071.5 L599.6,1072.0 L600.6,1072.4 L601.6,1072.8 L602.6,1073.3 L603.5,1073.7 L604.5,1074.2 L605.5,1074.6 L606.5,1075.1 L607.5,1075.5 L608.5,1076.0 L609.5,1076.5 L610.5,1077.0 L611.5,1077.5 L612.5,1078.0 L613.5,1078.5 L614.4,1079.0 L615.4,1079.5 L616.4,1080.0 L617.4,1080.5 L618.4,1081.0 L619.4,1081.5 L620.4,1082.0 L621.4,1082.5 L622.4,1083.0 L623.4,1083.5 L624.3,1084.0 L625.3,1084.5 L626.3,1085.0 L627.3,1085.5 L628.3,1086.0 L629.3,1086.5 L630.3,1087.0 L631.3,1087.5 L632.3,1087.9 L633.3,1088.4 L634.3,1088.8 L635.2,1089.3 L636.2,1089.7 L637.2,1090.1 L638.2,1090.6 L639.2,1091.0 L640.2,1091.4 L641.2,1091.8 L642.2,1092.2 L643.2,1092.5 L644.2,1092.9 L645.1,1093.3 L646.1,1093.7 L647.1,1094.0 L648.1,1094.3 L649.1,1094.7 L650.1,1095.0 L651.1,1095.3 L652.1,1095.6 L653.1,1095.9 L654.1,1096.2 L655.1,1096.5 L656.0,1096.8 L657.0,1097.1 L658.0,1097.4 L659.0,1097.6 L660.0,1097.9 L661.0,1098.2" fill="none" stroke="#d95f02" stroke-width="4.2" stroke-linejoin="round" stroke-linecap="butt" clip-path="url(#c9)"/>
<path d="M502.5,1027.4 L503.5,1027.8 L504.5,1028.2 L505.5,1028.7 L506.5,1029.2 L507.5,1029.8 L508.4,1030.5 L509.4,1031.1 L510.4,1031.9 L511.4,1032.8 L512.4,1033.7 L513.4,1034.6 L514.4,1035.6 L515.4,1036.6 L516.4,1037.6 L517.4,1038.7 L518.4,1039.8 L519.3,1040.9 L520.3,1042.0 L521.3,1043.2 L522.3,1044.4 L523.3,1045.6 L524.3,1046.9 L525.3,1048.2 L526.3,1049.5 L527.3,1050.9 L528.3,1052.2 L529.2,1053.6 L530.2,1054.9 L531.2,1056.3 L532.2,1057.7 L533.2,1059.1 L534.2,1060.5 L535.2,1061.9 L536.2,1063.3 L537.2,1064.7 L538.2,1066.1 L539.2,1067.5 L540.1,1069.0 L541.1,1070.3 L542.1,1071.7 L543.1,1073.0 L544.1,1074.3 L545.1,1075.6 L546.1,1077.0 L547.1,1078.3 L548.1,1079.8 L549.1,1081.3 L550.0,1082.8 L551.0,1084.5 L552.0,1086.1 L553.0,1087.8 L554.0,1089.4 L555.0,1091.0 L556.0,1092.6 L557.0,1094.3 L558.0,1095.9 L559.0,1097.5 L560.0,1099.1 L560.9,1100.6 L561.9,1102.0 L562.9,1103.5 L563.9,1104.8 L564.9,1106.2 L565.9,1107.5 L566.9,1108.9 L567.9,1110.3 L568.9,1111.7 L569.9,1113.2 L570.9,1114.6 L571.8,1116.0 L572.8,1117.4 L573.8,1118.8 L574.8,1120.0 L575.8,1121.3 L576.8,1122.5 L577.8,1123.7 L578.8,1124.9 L579.8,1126.0 L580.8,1127.1 L581.8,1128.1 L582.7,1129.0 L583.7,1129.9 L584.7,1130.8 L585.7,1131.6 L586.7,1132.4 L587.7,1133.1 L588.7,1133.8 L589.7,1134.5 L590.7,1135.1 L591.7,1135.7 L592.6,1136.2 L593.6,1136.8 L594.6,1137.3 L595.6,1137.8 L596.6,1138.2 L597.6,1138.7 L598.6,1139.1 L599.6,1139.6 L600.6,1140.0 L601.6,1140.4 L602.6,1140.8 L603.5,1141.2 L604.5,1141.6 L605.5,1141.9 L606.5,1142.3 L607.5,1142.6 L608.5,1142.9 L609.5,1143.2 L610.5,1143.6 L611.5,1143.9 L612.5,1144.2 L613.5,1144.4 L614.4,1144.7 L615.4,1145.0 L616.4,1145.2 L617.4,1145.5 L618.4,1145.7 L619.4,1145.9 L620.4,1146.1 L621.4,1146.2 L622.4,1146.3 L623.4,1146.5 L624.3,1146.6 L625.3,1146.7 L626.3,1146.8 L627.3,1146.9 L628.3,1147.0 L629.3,1147.0 L630.3,1147.1 L631.3,1147.2 L632.3,1147.3 L633.3,1147.3 L634.3,1147.4 L635.2,1147.5 L636.2,1147.6 L637.2,1147.6 L638.2,1147.7 L639.2,1147.8 L640.2,1147.8 L641.2,1147.9 L642.2,1148.0 L643.2,1148.0 L644.2,1148.1 L645.1,1148.2 L646.1,1148.2 L647.1,1148.3 L648.1,1148.3 L649.1,1148.4 L650.1,1148.4 L651.1,1148.5 L652.1,1148.5 L653.1,1148.6 L654.1,1148.6 L655.1,1148.7 L656.0,1148.7 L657.0,1148.8 L658.0,1148.8 L659.0,1148.9 L660.0,1148.9 L661.0,1148.9" fill="none" stroke="#7570b3" stroke-width="4.2" stroke-linejoin="round" stroke-linecap="butt" clip-path="url(#c9)"/>
<path d="M502.5,1027.4 L503.5,1027.4 L504.5,1027.4 L505.5,1027.4 L506.5,1027.4 L507.5,1027.5 L508.4,1027.5 L509.4,1027.5 L510.4,1027.5 L511.4,1027.5 L512.4,1027.5 L513.4,1027.5 L514.4,1027.6 L515.4,1027.6 L516.4,1027.6 L517.4,1027.6 L518.4,1027.6 L519.3,1027.6 L520.3,1027.7 L521.3,1027.7 L522.3,1027.7 L523.3,1027.7 L524.3,1027.7 L525.3,1027.7 L526.3,1027.8 L527.3,1027.8 L528.3,1027.8 L529.2,1027.8 L530.2,1027.8 L531.2,1027.8 L532.2,1027.9 L533.2,1027.9 L534.2,1027.9 L535.2,1027.9 L536.2,1027.9 L537.2,1028.0 L538.2,1028.0 L539.2,1028.0 L540.1,1028.0 L541.1,1028.0 L542.1,1028.0 L543.1,1028.1 L544.1,1028.1 L545.1,1028.1 L546.1,1028.1 L547.1,1028.1 L548.1,1028.2 L549.1,1028.2 L550.0,1028.2 L551.0,1028.2 L552.0,1028.2 L553.0,1028.3 L554.0,1028.3 L555.0,1028.3 L556.0,1028.3 L557.0,1028.4 L558.0,1028.4 L559.0,1028.4 L560.0,1028.4 L560.9,1028.4 L561.9,1028.5 L562.9,1028.5 L563.9,1028.5 L564.9,1028.5 L565.9,1028.5 L566.9,1028.6 L567.9,1028.6 L568.9,1028.6 L569.9,1028.6 L570.9,1028.6 L571.8,1028.7 L572.8,1028.7 L573.8,1028.7 L574.8,1028.7 L575.8,1028.8 L576.8,1028.8 L577.8,1028.8 L578.8,1028.8 L579.8,1028.8 L580.8,1028.8 L581.8,1028.9 L582.7,1028.9 L583.7,1028.9 L584.7,1028.9 L585.7,1028.9 L586.7,1028.9 L587.7,1029.0 L588.7,1029.0 L589.7,1029.0 L590.7,1029.0 L591.7,1029.0 L592.6,1029.0 L593.6,1029.1 L594.6,1029.1 L595.6,1029.1 L596.6,1029.1 L597.6,1029.1 L598.6,1029.1 L599.6,1029.2 L600.6,1029.2 L601.6,1029.2 L602.6,1029.2 L603.5,1029.2 L604.5,1029.2 L605.5,1029.2 L606.5,1029.3 L607.5,1029.3 L608.5,1029.3 L609.5,1029.3 L610.5,1029.3 L611.5,1029.3 L612.5,1029.3 L613.5,1029.4 L614.4,1029.4 L615.4,1029.4 L616.4,1029.4 L617.4,1029.4 L618.4,1029.4 L619.4,1029.4 L620.4,1029.5 L621.4,1029.5 L622.4,1029.5 L623.4,1029.5 L624.3,1029.5 L625.3,1029.5 L626.3,1029.6 L627.3,1029.6 L628.3,1029.6 L629.3,1029.6 L630.3,1029.6 L631.3,1029.6 L632.3,1029.6 L633.3,1029.7 L634.3,1029.7 L635.2,1029.7 L636.2,1029.7 L637.2,1029.7 L638.2,1029.7 L639.2,1029.8 L640.2,1029.8 L641.2,1029.8 L642.2,1029.8 L643.2,1029.8 L644.2,1029.8 L645.1,1029.9 L646.1,1029.9 L647.1,1029.9 L648.1,1029.9 L649.1,1029.9 L650.1,1029.9 L651.1,1029.9 L652.1,1030.0 L653.1,1030.0 L654.1,1030.0 L655.1,1030.0 L656.0,1030.0 L657.0,1030.0 L658.0,1030.1 L659.0,1030.1 L660.0,1030.1 L661.0,1030.1" fill="none" stroke="#e7298a" stroke-width="4.2" stroke-linejoin="round" stroke-linecap="butt" clip-path="url(#c9)"/>
<line x1="502.50" y1="1027.38" x2="661.00" y2="1027.38" stroke="#000" stroke-width="2.6"/>
<rect x="502.50" y="996.50" width="158.50" height="154.40" fill="none" stroke="#000" stroke-width="2.0"/>
<line x1="492.20" y1="1027.38" x2="502.50" y2="1027.38" stroke="#000" stroke-width="2.0"/>
<line x1="492.20" y1="1089.14" x2="502.50" y2="1089.14" stroke="#000" stroke-width="2.0"/>
<line x1="492.20" y1="1150.90" x2="502.50" y2="1150.90" stroke="#000" stroke-width="2.0"/>
<line x1="561.94" y1="1150.90" x2="561.94" y2="1161.20" stroke="#000" stroke-width="2.0"/>
<g font-size="17.7" fill="#111"><text transform="translate(539.62,1184.50) scale(1.131,1)">2</text><text transform="translate(550.76,1184.50) scale(1.131,1)">0</text><text transform="translate(561.89,1184.50) scale(1.131,1)">5</text><text transform="translate(573.03,1184.50) scale(1.131,1)">0</text></g>
<line x1="661.00" y1="1150.90" x2="661.00" y2="1161.20" stroke="#000" stroke-width="2.0"/>
<g font-size="17.7" fill="#111"><text transform="translate(638.69,1184.50) scale(1.131,1)">2</text><text transform="translate(649.82,1184.50) scale(1.131,1)">1</text><text transform="translate(660.96,1184.50) scale(1.131,1)">0</text><text transform="translate(672.09,1184.50) scale(1.131,1)">0</text></g>
<g font-size="17.7" fill="#111"><text transform="translate(546.23,987.10) scale(1.001,1)">O</text><text transform="translate(560.00,987.10) scale(1.087,1)">c</text><text transform="translate(569.62,987.10) scale(1.094,1)">e</text><text transform="translate(580.39,987.10) scale(1.090,1)">a</text><text transform="translate(591.12,987.10) scale(1.127,1)">n</text><text transform="translate(602.21,987.10) scale(1.236,1)">i</text><text transform="translate(607.07,987.10) scale(1.090,1)">a</text></g>
<g font-size="24.4" fill="#111" font-weight="bold" style="stroke-width:0.7px"><text transform="translate(511.29,1019.30) scale(1.000,1)">j</text></g>
<g transform="translate(17.90,460.48) rotate(-90)" font-size="17.7" fill="#111"><text transform="translate(-1.90,0) scale(0.920,1)">P</text><text transform="translate(8.80,0) scale(1.031,1)">e</text><text transform="translate(18.95,0) scale(1.221,1)">r</text><text transform="translate(26.14,0) scale(1.044,1)">c</text><text transform="translate(35.38,0) scale(1.094,1)">e</text><text transform="translate(46.15,0) scale(1.127,1)">n</text><text transform="translate(57.47,0) scale(1.300,1)">t</text><text transform="translate(64.10,0) scale(1.090,1)">a</text><text transform="translate(74.82,0) scale(1.129,1)">g</text><text transform="translate(85.93,0) scale(1.094,1)">e</text><text transform="translate(102.26,0) scale(1.087,1)">c</text><text transform="translate(111.88,0) scale(1.127,1)">h</text><text transform="translate(122.97,0) scale(1.090,1)">a</text><text transform="translate(133.70,0) scale(1.127,1)">n</text><text transform="translate(144.79,0) scale(1.129,1)">g</text><text transform="translate(155.90,0) scale(1.094,1)">e</text><text transform="translate(172.23,0) scale(1.236,1)">i</text><text transform="translate(177.09,0) scale(1.127,1)">n</text><text transform="translate(193.74,0) scale(1.236,1)">i</text><text transform="translate(198.60,0) scale(1.127,1)">n</text><text transform="translate(209.69,0) scale(1.087,1)">c</text><text transform="translate(219.32,0) scale(1.088,1)">o</text><text transform="translate(230.02,0) scale(1.156,1)">m</text><text transform="translate(247.07,0) scale(1.094,1)">e</text><text transform="translate(263.40,0) scale(1.129,1)">p</text><text transform="translate(274.51,0) scale(1.094,1)">e</text><text transform="translate(285.28,0) scale(1.221,1)">r</text><text transform="translate(298.03,0) scale(1.087,1)">c</text><text transform="translate(307.66,0) scale(1.090,1)">a</text><text transform="translate(318.38,0) scale(1.129,1)">p</text><text transform="translate(329.49,0) scale(1.236,1)">i</text><text transform="translate(334.59,0) scale(1.300,1)">t</text><text transform="translate(341.21,0) scale(1.090,1)">a</text></g>
<g transform="translate(38.10,484.45) rotate(-90)" font-size="17.7" fill="#111"><text transform="translate(-1.57,0) scale(1.221,1)">r</text><text transform="translate(5.62,0) scale(1.055,1)">e</text><text transform="translate(16.00,0) scale(1.236,1)">l</text><text transform="translate(20.86,0) scale(1.090,1)">a</text><text transform="translate(31.82,0) scale(1.300,1)">t</text><text transform="translate(38.45,0) scale(1.236,1)">i</text><text transform="translate(43.31,0) scale(1.170,1)">v</text><text transform="translate(53.67,0) scale(1.094,1)">e</text><text transform="translate(70.23,0) scale(1.300,1)">t</text><text transform="translate(76.86,0) scale(1.088,1)">o</text><text transform="translate(93.13,0) scale(1.090,1)">a</text><text transform="translate(109.41,0) scale(1.129,1)">b</text><text transform="translate(120.52,0) scale(1.090,1)">a</text><text transform="translate(131.25,0) scale(1.030,1)">s</text><text transform="translate(140.36,0) scale(1.094,1)">e</text><text transform="translate(151.13,0) scale(1.236,1)">l</text><text transform="translate(155.99,0) scale(1.236,1)">i</text><text transform="translate(160.86,0) scale(1.127,1)">n</text><text transform="translate(171.95,0) scale(1.094,1)">e</text><text transform="translate(188.28,0) scale(1.120,1)">w</text><text transform="translate(202.59,0) scale(1.236,1)">i</text><text transform="translate(207.68,0) scale(1.300,1)">t</text><text transform="translate(214.31,0) scale(1.127,1)">h</text><text transform="translate(225.40,0) scale(1.088,1)">o</text><text transform="translate(236.11,0) scale(1.127,1)">u</text><text transform="translate(247.43,0) scale(1.300,1)">t</text><text transform="translate(259.62,0) scale(1.087,1)">c</text><text transform="translate(269.24,0) scale(1.236,1)">l</text><text transform="translate(274.10,0) scale(1.236,1)">i</text><text transform="translate(278.97,0) scale(1.156,1)">m</text><text transform="translate(296.01,0) scale(1.090,1)">a</text><text transform="translate(306.97,0) scale(1.300,1)">t</text><text transform="translate(313.60,0) scale(1.094,1)">e</text><text transform="translate(329.93,0) scale(1.236,1)">i</text><text transform="translate(334.79,0) scale(1.156,1)">m</text><text transform="translate(351.83,0) scale(1.129,1)">p</text><text transform="translate(362.94,0) scale(1.090,1)">a</text><text transform="translate(373.67,0) scale(1.087,1)">c</text><text transform="translate(383.53,0) scale(1.300,1)">t</text><text transform="translate(390.15,0) scale(1.030,1)">s</text></g>
<g transform="translate(17.90,1056.08) rotate(-90)" font-size="17.7" fill="#111"><text transform="translate(-1.90,0) scale(0.920,1)">P</text><text transform="translate(8.80,0) scale(1.031,1)">e</text><text transform="translate(18.95,0) scale(1.221,1)">r</text><text transform="translate(26.14,0) scale(1.044,1)">c</text><text transform="translate(35.38,0) scale(1.094,1)">e</text><text transform="translate(46.15,0) scale(1.127,1)">n</text><text transform="translate(57.47,0) scale(1.300,1)">t</text><text transform="translate(64.10,0) scale(1.090,1)">a</text><text transform="translate(74.82,0) scale(1.129,1)">g</text><text transform="translate(85.93,0) scale(1.094,1)">e</text><text transform="translate(102.26,0) scale(1.087,1)">c</text><text transform="translate(111.88,0) scale(1.127,1)">h</text><text transform="translate(122.97,0) scale(1.090,1)">a</text><text transform="translate(133.70,0) scale(1.127,1)">n</text><text transform="translate(144.79,0) scale(1.129,1)">g</text><text transform="translate(155.90,0) scale(1.094,1)">e</text><text transform="translate(172.23,0) scale(1.236,1)">i</text><text transform="translate(177.09,0) scale(1.127,1)">n</text><text transform="translate(193.74,0) scale(1.236,1)">i</text><text transform="translate(198.60,0) scale(1.127,1)">n</text><text transform="translate(209.69,0) scale(1.087,1)">c</text><text transform="translate(219.32,0) scale(1.088,1)">o</text><text transform="translate(230.02,0) scale(1.156,1)">m</text><text transform="translate(247.07,0) scale(1.094,1)">e</text><text transform="translate(263.40,0) scale(1.129,1)">p</text><text transform="translate(274.51,0) scale(1.094,1)">e</text><text transform="translate(285.28,0) scale(1.221,1)">r</text><text transform="translate(298.03,0) scale(1.087,1)">c</text><text transform="translate(307.66,0) scale(1.090,1)">a</text><text transform="translate(318.38,0) scale(1.129,1)">p</text><text transform="translate(329.49,0) scale(1.236,1)">i</text><text transform="translate(334.59,0) scale(1.300,1)">t</text><text transform="translate(341.21,0) scale(1.090,1)">a</text></g>
<g transform="translate(38.10,1080.05) rotate(-90)" font-size="17.7" fill="#111"><text transform="translate(-1.57,0) scale(1.221,1)">r</text><text transform="translate(5.62,0) scale(1.055,1)">e</text><text transform="translate(16.00,0) scale(1.236,1)">l</text><text transform="translate(20.86,0) scale(1.090,1)">a</text><text transform="translate(31.82,0) scale(1.300,1)">t</text><text transform="translate(38.45,0) scale(1.236,1)">i</text><text transform="translate(43.31,0) scale(1.170,1)">v</text><text transform="translate(53.67,0) scale(1.094,1)">e</text><text transform="translate(70.23,0) scale(1.300,1)">t</text><text transform="translate(76.86,0) scale(1.088,1)">o</text><text transform="translate(93.13,0) scale(1.090,1)">a</text><text transform="translate(109.41,0) scale(1.129,1)">b</text><text transform="translate(120.52,0) scale(1.090,1)">a</text><text transform="translate(131.25,0) scale(1.030,1)">s</text><text transform="translate(140.36,0) scale(1.094,1)">e</text><text transform="translate(151.13,0) scale(1.236,1)">l</text><text transform="translate(155.99,0) scale(1.236,1)">i</text><text transform="translate(160.86,0) scale(1.127,1)">n</text><text transform="translate(171.95,0) scale(1.094,1)">e</text><text transform="translate(188.28,0) scale(1.120,1)">w</text><text transform="translate(202.59,0) scale(1.236,1)">i</text><text transform="translate(207.68,0) scale(1.300,1)">t</text><text transform="translate(214.31,0) scale(1.127,1)">h</text><text transform="translate(225.40,0) scale(1.088,1)">o</text><text transform="translate(236.11,0) scale(1.127,1)">u</text><text transform="translate(247.43,0) scale(1.300,1)">t</text><text transform="translate(259.62,0) scale(1.087,1)">c</text><text transform="translate(269.24,0) scale(1.236,1)">l</text><text transform="translate(274.10,0) scale(1.236,1)">i</text><text transform="translate(278.97,0) scale(1.156,1)">m</text><text transform="translate(296.01,0) scale(1.090,1)">a</text><text transform="translate(306.97,0) scale(1.300,1)">t</text><text transform="translate(313.60,0) scale(1.094,1)">e</text><text transform="translate(329.93,0) scale(1.236,1)">i</text><text transform="translate(334.79,0) scale(1.156,1)">m</text><text transform="translate(351.83,0) scale(1.129,1)">p</text><text transform="translate(362.94,0) scale(1.090,1)">a</text><text transform="translate(373.67,0) scale(1.087,1)">c</text><text transform="translate(383.53,0) scale(1.300,1)">t</text><text transform="translate(390.15,0) scale(1.030,1)">s</text></g>
</g>
</svg></body></html>
